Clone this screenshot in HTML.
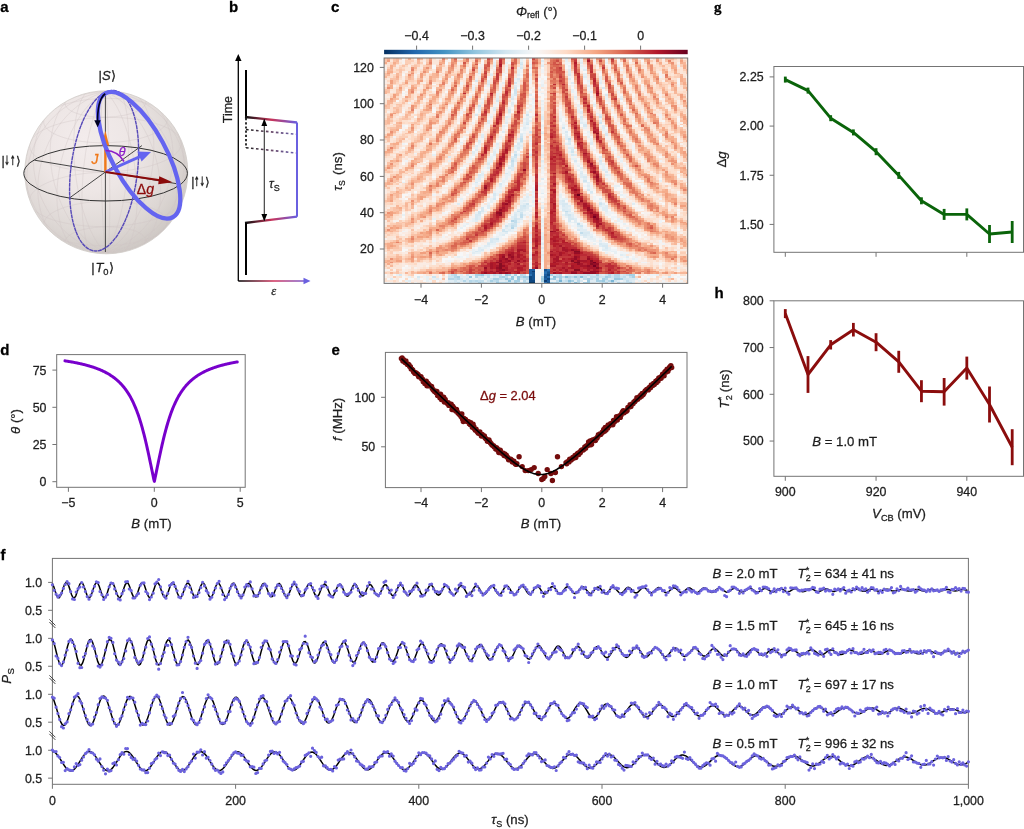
<!DOCTYPE html>
<html><head><meta charset="utf-8"><style>
html,body{margin:0;padding:0;background:#fff;}
svg{display:block;font-family:"Liberation Sans",Arial,sans-serif;will-change:transform;}
</style></head><body>
<svg width="1024" height="829" viewBox="0 0 1024 829">
<rect width="1024" height="829" fill="#fff"/>
<text x="0.3" y="11.7" font-size="15" font-weight="bold" fill="#000"  stroke="#000" stroke-width="0.28">a</text>
<text x="229" y="11.7" font-size="15" font-weight="bold" fill="#000"  stroke="#000" stroke-width="0.28">b</text>
<text x="331" y="11.7" font-size="15" font-weight="bold" fill="#000"  stroke="#000" stroke-width="0.28">c</text>
<text x="714" y="11.5" font-size="15" font-weight="bold" fill="#000" font-family="Liberation Serif, serif" stroke="#000" stroke-width="0.28">g</text>
<text x="0.3" y="354.6" font-size="15" font-weight="bold" fill="#000"  stroke="#000" stroke-width="0.28">d</text>
<text x="331.5" y="355" font-size="15" font-weight="bold" fill="#000"  stroke="#000" stroke-width="0.28">e</text>
<text x="714.5" y="298" font-size="15" font-weight="bold" fill="#000"  stroke="#000" stroke-width="0.28">h</text>
<text x="0.5" y="559.7" font-size="15" font-weight="bold" fill="#000"  stroke="#000" stroke-width="0.28">f</text>
<rect x="56.70" y="354.60" width="188.50" height="132.70" fill="none" stroke="#747474" stroke-width="1"/>
<line x1="52.40" y1="370.10" x2="56.70" y2="370.10" stroke="#747474" stroke-width="1" />
<text x="46.5" y="374.5" font-size="12.4" text-anchor="end" fill="#1e1e1e"  stroke="#1e1e1e" stroke-width="0.28">75</text>
<line x1="52.40" y1="407.30" x2="56.70" y2="407.30" stroke="#747474" stroke-width="1" />
<text x="46.5" y="411.6" font-size="12.4" text-anchor="end" fill="#1e1e1e"  stroke="#1e1e1e" stroke-width="0.28">50</text>
<line x1="52.40" y1="444.50" x2="56.70" y2="444.50" stroke="#747474" stroke-width="1" />
<text x="46.5" y="448.9" font-size="12.4" text-anchor="end" fill="#1e1e1e"  stroke="#1e1e1e" stroke-width="0.28">25</text>
<line x1="52.40" y1="481.70" x2="56.70" y2="481.70" stroke="#747474" stroke-width="1" />
<text x="46.5" y="486.1" font-size="12.4" text-anchor="end" fill="#1e1e1e"  stroke="#1e1e1e" stroke-width="0.28">0</text>
<line x1="68.40" y1="487.30" x2="68.40" y2="491.80" stroke="#747474" stroke-width="1" />
<text x="68.4" y="507.1" font-size="12.4" text-anchor="middle" fill="#1e1e1e"  stroke="#1e1e1e" stroke-width="0.28">−5</text>
<line x1="154.30" y1="487.30" x2="154.30" y2="491.80" stroke="#747474" stroke-width="1" />
<text x="154.3" y="507.1" font-size="12.4" text-anchor="middle" fill="#1e1e1e"  stroke="#1e1e1e" stroke-width="0.28">0</text>
<line x1="240.20" y1="487.30" x2="240.20" y2="491.80" stroke="#747474" stroke-width="1" />
<text x="240.2" y="507.1" font-size="12.4" text-anchor="middle" fill="#1e1e1e"  stroke="#1e1e1e" stroke-width="0.28">5</text>
<text x="151.5" y="527.8" font-size="13.2" text-anchor="middle" fill="#1e1e1e" stroke="#1e1e1e" stroke-width="0.28"><tspan font-style="italic">B</tspan> (mT)</text>
<text transform="translate(19.8,421.5) rotate(-90)" font-size="13.2" text-anchor="middle" fill="#1e1e1e" stroke="#1e1e1e" stroke-width="0.28"><tspan font-style="italic">θ</tspan> (°)</text>
<polyline points="64.96,360.86 65.40,360.92 65.83,360.99 66.26,361.06 66.69,361.12 67.12,361.19 67.56,361.26 67.99,361.33 68.42,361.40 68.85,361.47 69.28,361.55 69.71,361.62 70.15,361.69 70.58,361.77 71.01,361.84 71.44,361.92 71.87,361.99 72.31,362.07 72.74,362.15 73.17,362.23 73.60,362.31 74.03,362.39 74.47,362.47 74.90,362.56 75.33,362.64 75.76,362.73 76.19,362.81 76.62,362.90 77.06,362.99 77.49,363.08 77.92,363.17 78.35,363.26 78.78,363.35 79.22,363.44 79.65,363.54 80.08,363.63 80.51,363.73 80.94,363.83 81.37,363.93 81.81,364.03 82.24,364.13 82.67,364.23 83.10,364.34 83.53,364.44 83.97,364.55 84.40,364.66 84.83,364.77 85.26,364.88 85.69,364.99 86.13,365.10 86.56,365.22 86.99,365.34 87.42,365.45 87.85,365.57 88.28,365.70 88.72,365.82 89.15,365.94 89.58,366.07 90.01,366.20 90.44,366.33 90.88,366.46 91.31,366.60 91.74,366.73 92.17,366.87 92.60,367.01 93.04,367.15 93.47,367.29 93.90,367.44 94.33,367.59 94.76,367.74 95.19,367.89 95.63,368.05 96.06,368.20 96.49,368.36 96.92,368.53 97.35,368.69 97.79,368.86 98.22,369.03 98.65,369.20 99.08,369.37 99.51,369.55 99.95,369.73 100.38,369.92 100.81,370.10 101.24,370.29 101.67,370.48 102.10,370.68 102.54,370.88 102.97,371.08 103.40,371.29 103.83,371.50 104.26,371.71 104.70,371.92 105.13,372.14 105.56,372.37 105.99,372.60 106.42,372.83 106.86,373.06 107.29,373.30 107.72,373.55 108.15,373.80 108.58,374.05 109.01,374.31 109.45,374.57 109.88,374.84 110.31,375.11 110.74,375.39 111.17,375.68 111.61,375.96 112.04,376.26 112.47,376.56 112.90,376.87 113.33,377.18 113.77,377.50 114.20,377.82 114.63,378.15 115.06,378.49 115.49,378.84 115.92,379.19 116.36,379.55 116.79,379.92 117.22,380.29 117.65,380.67 118.08,381.06 118.52,381.46 118.95,381.87 119.38,382.29 119.81,382.71 120.24,383.15 120.67,383.60 121.11,384.05 121.54,384.52 121.97,384.99 122.40,385.48 122.83,385.98 123.27,386.49 123.70,387.01 124.13,387.55 124.56,388.10 124.99,388.66 125.43,389.23 125.86,389.82 126.29,390.42 126.72,391.04 127.15,391.67 127.58,392.32 128.02,392.99 128.45,393.67 128.88,394.37 129.31,395.08 129.74,395.82 130.18,396.57 130.61,397.34 131.04,398.14 131.47,398.95 131.90,399.79 132.34,400.65 132.77,401.53 133.20,402.43 133.63,403.36 134.06,404.31 134.49,405.28 134.93,406.29 135.36,407.32 135.79,408.37 136.22,409.46 136.65,410.57 137.09,411.71 137.52,412.89 137.95,414.09 138.38,415.33 138.81,416.59 139.25,417.89 139.68,419.23 140.11,420.59 140.54,421.99 140.97,423.43 141.40,424.90 141.84,426.40 142.27,427.94 142.70,429.52 143.13,431.13 143.56,432.77 144.00,434.45 144.43,436.17 144.86,437.92 145.29,439.70 145.72,441.51 146.16,443.36 146.59,445.23 147.02,447.14 147.45,449.07 147.88,451.03 148.31,453.01 148.75,455.02 149.18,457.04 149.61,459.08 150.04,461.14 150.47,463.21 150.91,465.29 151.34,467.38 151.77,469.48 152.20,471.57 152.63,473.67 153.07,475.76 153.50,477.85 153.93,479.92 154.36,481.41 154.79,479.34 155.22,477.26 155.66,475.17 156.09,473.08 156.52,470.98 156.95,468.89 157.38,466.80 157.82,464.71 158.25,462.63 158.68,460.56 159.11,458.51 159.54,456.47 159.97,454.45 160.41,452.45 160.84,450.48 161.27,448.53 161.70,446.60 162.13,444.70 162.57,442.84 163.00,441.00 163.43,439.19 163.86,437.42 164.29,435.68 164.73,433.98 165.16,432.31 165.59,430.67 166.02,429.07 166.45,427.51 166.88,425.98 167.32,424.48 167.75,423.02 168.18,421.60 168.61,420.21 169.04,418.85 169.48,417.52 169.91,416.23 170.34,414.98 170.77,413.75 171.20,412.55 171.64,411.39 172.07,410.26 172.50,409.15 172.93,408.07 173.36,407.02 173.79,406.00 174.23,405.01 174.66,404.04 175.09,403.09 175.52,402.17 175.95,401.28 176.39,400.40 176.82,399.55 177.25,398.72 177.68,397.91 178.11,397.13 178.55,396.36 178.98,395.61 179.41,394.88 179.84,394.17 180.27,393.47 180.70,392.80 181.14,392.14 181.57,391.49 182.00,390.86 182.43,390.25 182.86,389.65 183.30,389.07 183.73,388.50 184.16,387.94 184.59,387.40 185.02,386.87 185.46,386.35 185.89,385.84 186.32,385.34 186.75,384.86 187.18,384.39 187.61,383.92 188.05,383.47 188.48,383.03 188.91,382.59 189.34,382.17 189.77,381.76 190.21,381.35 190.64,380.95 191.07,380.56 191.50,380.18 191.93,379.81 192.37,379.45 192.80,379.09 193.23,378.74 193.66,378.40 194.09,378.06 194.52,377.73 194.96,377.41 195.39,377.09 195.82,376.78 196.25,376.47 196.68,376.18 197.12,375.88 197.55,375.60 197.98,375.31 198.41,375.04 198.84,374.77 199.28,374.50 199.71,374.24 200.14,373.98 200.57,373.73 201.00,373.48 201.43,373.24 201.87,373.00 202.30,372.76 202.73,372.53 203.16,372.31 203.59,372.08 204.03,371.86 204.46,371.65 204.89,371.44 205.32,371.23 205.75,371.02 206.18,370.82 206.62,370.62 207.05,370.43 207.48,370.24 207.91,370.05 208.34,369.86 208.78,369.68 209.21,369.50 209.64,369.32 210.07,369.15 210.50,368.98 210.94,368.81 211.37,368.64 211.80,368.48 212.23,368.32 212.66,368.16 213.09,368.00 213.53,367.85 213.96,367.70 214.39,367.55 214.82,367.40 215.25,367.25 215.69,367.11 216.12,366.97 216.55,366.83 216.98,366.69 217.41,366.56 217.85,366.42 218.28,366.29 218.71,366.16 219.14,366.03 219.57,365.91 220.00,365.78 220.44,365.66 220.87,365.54 221.30,365.42 221.73,365.30 222.16,365.19 222.60,365.07 223.03,364.96 223.46,364.85 223.89,364.73 224.32,364.63 224.76,364.52 225.19,364.41 225.62,364.31 226.05,364.20 226.48,364.10 226.91,364.00 227.35,363.90 227.78,363.80 228.21,363.70 228.64,363.61 229.07,363.51 229.51,363.42 229.94,363.32 230.37,363.23 230.80,363.14 231.23,363.05 231.67,362.96 232.10,362.87 232.53,362.79 232.96,362.70 233.39,362.62 233.82,362.53 234.26,362.45 234.69,362.37 235.12,362.29 235.55,362.21 235.98,362.13 236.42,362.05 236.85,361.97 237.28,361.90" fill="none" stroke="#7800cc" stroke-width="3.0" stroke-linejoin="round" stroke-linecap="round"/>
<rect x="385.40" y="352.40" width="301.60" height="135.20" fill="none" stroke="#747474" stroke-width="1"/>
<line x1="381.10" y1="397.30" x2="385.40" y2="397.30" stroke="#747474" stroke-width="1" />
<text x="375.2" y="401.7" font-size="12.4" text-anchor="end" fill="#1e1e1e"  stroke="#1e1e1e" stroke-width="0.28">100</text>
<line x1="381.10" y1="446.80" x2="385.40" y2="446.80" stroke="#747474" stroke-width="1" />
<text x="375.2" y="451.2" font-size="12.4" text-anchor="end" fill="#1e1e1e"  stroke="#1e1e1e" stroke-width="0.28">50</text>
<line x1="421.00" y1="487.60" x2="421.00" y2="492.10" stroke="#747474" stroke-width="1" />
<text x="421.0" y="507.1" font-size="12.4" text-anchor="middle" fill="#1e1e1e"  stroke="#1e1e1e" stroke-width="0.28">−4</text>
<line x1="481.40" y1="487.60" x2="481.40" y2="492.10" stroke="#747474" stroke-width="1" />
<text x="481.4" y="507.1" font-size="12.4" text-anchor="middle" fill="#1e1e1e"  stroke="#1e1e1e" stroke-width="0.28">−2</text>
<line x1="541.80" y1="487.60" x2="541.80" y2="492.10" stroke="#747474" stroke-width="1" />
<text x="541.8" y="507.1" font-size="12.4" text-anchor="middle" fill="#1e1e1e"  stroke="#1e1e1e" stroke-width="0.28">0</text>
<line x1="602.20" y1="487.60" x2="602.20" y2="492.10" stroke="#747474" stroke-width="1" />
<text x="602.2" y="507.1" font-size="12.4" text-anchor="middle" fill="#1e1e1e"  stroke="#1e1e1e" stroke-width="0.28">2</text>
<line x1="662.60" y1="487.60" x2="662.60" y2="492.10" stroke="#747474" stroke-width="1" />
<text x="662.6" y="507.1" font-size="12.4" text-anchor="middle" fill="#1e1e1e"  stroke="#1e1e1e" stroke-width="0.28">4</text>
<text x="541" y="527.8" font-size="13.2" text-anchor="middle" fill="#1e1e1e" stroke="#1e1e1e" stroke-width="0.28"><tspan font-style="italic">B</tspan> (mT)</text>
<text transform="translate(342,419.4) rotate(-90)" font-size="13.2" text-anchor="middle" fill="#1e1e1e" stroke="#1e1e1e" stroke-width="0.28"><tspan font-style="italic">f</tspan> (MHz)</text>
<path d="M401.4 358.5h0M402.1 357.9h0M402.9 361.0h0M403.6 359.7h0M404.4 361.8h0M405.1 362.5h0M405.9 360.9h0M406.7 363.5h0M407.4 364.4h0M408.2 364.3h0M408.9 364.6h0M409.7 366.6h0M410.4 366.7h0M411.2 369.1h0M411.9 369.1h0M412.7 370.0h0M413.5 371.7h0M414.2 372.6h0M415.0 373.4h0M415.7 372.6h0M416.5 373.3h0M417.2 374.2h0M418.0 374.5h0M418.7 376.7h0M419.5 376.1h0M420.2 376.5h0M421.0 376.6h0M421.8 379.1h0M422.5 379.3h0M423.3 381.8h0M424.0 380.9h0M424.8 383.5h0M425.5 383.4h0M426.3 381.3h0M427.0 385.7h0M427.8 383.1h0M428.6 384.3h0M429.3 385.8h0M430.1 385.6h0M430.8 386.3h0M431.6 386.5h0M432.3 388.6h0M433.1 389.7h0M433.8 390.4h0M434.6 391.6h0M435.3 391.3h0M436.1 392.8h0M436.9 391.5h0M437.6 395.4h0M438.4 395.3h0M439.1 395.8h0M439.9 397.8h0M440.6 394.2h0M441.4 399.6h0M442.1 398.0h0M442.9 399.0h0M443.7 397.3h0M444.4 402.0h0M445.2 399.4h0M445.9 402.1h0M446.7 402.2h0M447.4 403.4h0M448.2 402.7h0M448.9 405.4h0M449.7 405.0h0M450.4 405.2h0M451.2 404.3h0M452.0 409.6h0M452.7 406.1h0M453.5 407.4h0M454.2 409.7h0M455.0 409.5h0M455.7 411.1h0M456.5 409.5h0M457.2 411.8h0M458.0 413.0h0M458.8 413.7h0M459.5 414.4h0M460.3 415.1h0M461.0 416.5h0M461.8 414.0h0M462.5 419.1h0M463.3 421.6h0M464.0 418.5h0M464.8 419.3h0M465.5 419.4h0M466.3 420.8h0M467.1 421.4h0M467.8 421.6h0M468.6 421.6h0M469.3 423.8h0M470.1 424.5h0M470.8 422.6h0M471.6 424.9h0M472.3 427.2h0M473.1 424.3h0M473.9 426.7h0M474.6 428.9h0M475.4 430.2h0M476.1 429.3h0M476.9 431.3h0M477.6 432.2h0M478.4 433.2h0M479.1 433.0h0M479.9 431.9h0M480.6 434.3h0M481.4 436.1h0M482.2 434.5h0M482.9 435.8h0M483.7 435.7h0M484.4 436.0h0M485.2 438.1h0M485.9 438.8h0M486.7 439.4h0M487.4 441.2h0M488.2 439.9h0M489.0 439.9h0M489.7 441.8h0M490.5 443.0h0M491.2 443.7h0M492.0 444.9h0M492.7 445.6h0M493.5 445.8h0M494.2 447.0h0M495.0 447.2h0M495.7 449.1h0M496.5 447.7h0M497.3 448.6h0M498.0 450.6h0M498.8 452.5h0M499.5 450.7h0M500.3 450.1h0M501.0 452.7h0M501.8 453.1h0M502.5 453.8h0M503.3 453.1h0M504.1 455.5h0M504.8 454.0h0M505.6 456.1h0M506.3 455.3h0M507.1 456.9h0M507.8 457.8h0M508.6 459.8h0M509.3 459.5h0M510.1 459.7h0M510.8 459.3h0M511.6 460.3h0M512.4 461.9h0M513.1 461.3h0M513.9 461.2h0M514.6 463.0h0M515.4 463.9h0M516.1 464.4h0M516.9 463.6h0M566.0 462.7h0M566.7 463.8h0M567.5 461.8h0M568.2 462.1h0M569.0 461.9h0M569.7 459.1h0M570.5 459.0h0M571.2 460.1h0M572.0 458.6h0M572.8 457.5h0M573.5 458.2h0M574.3 457.0h0M575.0 455.5h0M575.8 457.6h0M576.5 454.6h0M577.3 453.6h0M578.0 453.2h0M578.8 454.6h0M579.6 452.1h0M580.3 452.7h0M581.1 450.5h0M581.8 449.9h0M582.6 449.6h0M583.3 450.0h0M584.1 449.2h0M584.8 447.0h0M585.6 448.2h0M586.3 446.0h0M587.1 445.4h0M587.9 445.6h0M588.6 442.0h0M589.4 443.8h0M590.1 440.9h0M590.9 444.8h0M591.6 444.3h0M592.4 440.1h0M593.1 439.8h0M593.9 440.2h0M594.7 439.2h0M595.4 440.6h0M596.2 438.5h0M596.9 438.3h0M597.7 436.7h0M598.4 434.8h0M599.2 435.0h0M599.9 434.0h0M600.7 434.4h0M601.4 433.5h0M602.2 432.2h0M603.0 431.9h0M603.7 429.5h0M604.5 431.2h0M605.2 427.5h0M606.0 429.9h0M606.7 427.0h0M607.5 428.3h0M608.2 424.9h0M609.0 425.9h0M609.8 424.9h0M610.5 423.8h0M611.3 424.6h0M612.0 424.3h0M612.8 424.7h0M613.5 420.5h0M614.3 421.9h0M615.0 421.0h0M615.8 419.7h0M616.5 416.8h0M617.3 420.1h0M618.1 417.3h0M618.8 417.3h0M619.6 415.6h0M620.3 417.4h0M621.1 415.1h0M621.8 413.1h0M622.6 411.6h0M623.3 410.8h0M624.1 412.8h0M624.9 411.1h0M625.6 410.6h0M626.4 411.2h0M627.1 410.6h0M627.9 407.5h0M628.6 407.3h0M629.4 407.0h0M630.1 404.8h0M630.9 406.5h0M631.6 404.2h0M632.4 404.0h0M633.2 403.4h0M633.9 402.0h0M634.7 401.7h0M635.4 400.8h0M636.2 400.1h0M636.9 397.6h0M637.7 399.3h0M638.4 397.2h0M639.2 396.9h0M640.0 397.2h0M640.7 395.2h0M641.5 396.3h0M642.2 393.4h0M643.0 394.8h0M643.7 393.8h0M644.5 392.2h0M645.2 390.9h0M646.0 390.1h0M646.7 389.4h0M647.5 389.8h0M648.3 389.9h0M649.0 387.6h0M649.8 387.1h0M650.5 387.8h0M651.3 384.9h0M652.0 385.1h0M652.8 385.6h0M653.5 383.4h0M654.3 384.6h0M655.1 383.3h0M655.8 381.2h0M656.6 382.6h0M657.3 380.2h0M658.1 381.0h0M658.8 378.0h0M659.6 378.8h0M660.3 377.1h0M661.1 378.2h0M661.8 376.2h0M662.6 374.1h0M663.4 373.9h0M664.1 375.7h0M664.9 372.0h0M665.6 371.3h0M666.4 371.9h0M667.1 369.2h0M667.9 371.2h0M668.6 369.4h0M669.4 367.4h0M670.2 366.4h0M670.9 365.8h0M671.7 367.6h0M519.1 456.7h0M557.5 456.7h0M525.2 470.6h0M528.2 470.6h0M531.2 469.6h0M534.2 467.6h0M538.2 473.5h0M541.8 479.5h0M543.3 478.5h0M547.2 469.6h0M550.9 473.5h0M555.4 472.5h0M552.4 480.5h0M522.2 466.6h0M561.4 466.6h0M544.8 476.5h0" stroke="#740c0c" stroke-width="5.4" stroke-linecap="round" fill="none"/>
<polyline points="401.37,358.56 402.27,359.43 403.18,360.31 404.08,361.18 404.99,362.05 405.89,362.92 406.79,363.79 407.70,364.66 408.60,365.53 409.51,366.40 410.41,367.28 411.31,368.15 412.22,369.02 413.12,369.89 414.03,370.76 414.93,371.62 415.83,372.49 416.74,373.36 417.64,374.23 418.55,375.10 419.45,375.97 420.35,376.84 421.26,377.71 422.16,378.57 423.07,379.44 423.97,380.31 424.87,381.18 425.78,382.04 426.68,382.91 427.59,383.78 428.49,384.64 429.39,385.51 430.30,386.38 431.20,387.24 432.11,388.11 433.01,388.97 433.91,389.84 434.82,390.70 435.72,391.56 436.63,392.43 437.53,393.29 438.43,394.15 439.34,395.02 440.24,395.88 441.15,396.74 442.05,397.60 442.95,398.46 443.86,399.32 444.76,400.18 445.67,401.04 446.57,401.90 447.47,402.76 448.38,403.62 449.28,404.48 450.18,405.34 451.09,406.19 451.99,407.05 452.90,407.91 453.80,408.76 454.70,409.62 455.61,410.47 456.51,411.33 457.42,412.18 458.32,413.03 459.22,413.88 460.13,414.73 461.03,415.59 461.94,416.44 462.84,417.28 463.74,418.13 464.65,418.98 465.55,419.83 466.46,420.67 467.36,421.52 468.26,422.36 469.17,423.21 470.07,424.05 470.98,424.89 471.88,425.73 472.78,426.57 473.69,427.41 474.59,428.25 475.50,429.08 476.40,429.92 477.30,430.75 478.21,431.58 479.11,432.41 480.02,433.24 480.92,434.07 481.82,434.90 482.73,435.72 483.63,436.55 484.54,437.37 485.44,438.19 486.34,439.00 487.25,439.82 488.15,440.63 489.06,441.45 489.96,442.26 490.86,443.06 491.77,443.87 492.67,444.67 493.58,445.47 494.48,446.26 495.38,447.06 496.29,447.85 497.19,448.64 498.10,449.42 499.00,450.20 499.90,450.98 500.81,451.75 501.71,452.52 502.62,453.28 503.52,454.04 504.42,454.79 505.33,455.54 506.23,456.29 507.14,457.02 508.04,457.76 508.94,458.48 509.85,459.20 510.75,459.91 511.66,460.61 512.56,461.31 513.46,462.00 514.37,462.67 515.27,463.34 516.18,464.00 517.08,464.65 517.98,465.28 518.89,465.90 519.79,466.51 520.70,467.11 521.60,467.69 522.50,468.25 523.41,468.80 524.31,469.33 525.22,469.84 526.12,470.33 527.02,470.80 527.93,471.25 528.83,471.68 529.74,472.07 530.64,472.45 531.54,472.79 532.45,473.11 533.35,473.40 534.26,473.66 535.16,473.88 536.06,474.08 536.97,474.23 537.87,474.36 538.77,474.45 539.68,474.50 540.58,474.52 541.49,474.50 542.39,474.45 543.29,474.36 544.20,474.24 545.10,474.08 546.01,473.89 546.91,473.66 547.81,473.41 548.72,473.12 549.62,472.80 550.53,472.46 551.43,472.08 552.33,471.68 553.24,471.26 554.14,470.81 555.05,470.34 555.95,469.85 556.85,469.34 557.76,468.81 558.66,468.26 559.57,467.70 560.47,467.12 561.37,466.53 562.28,465.92 563.18,465.29 564.09,464.66 564.99,464.01 565.89,463.36 566.80,462.69 567.70,462.01 568.61,461.32 569.51,460.63 570.41,459.93 571.32,459.21 572.22,458.50 573.13,457.77 574.03,457.04 574.93,456.30 575.84,455.56 576.74,454.81 577.65,454.06 578.55,453.30 579.45,452.53 580.36,451.76 581.26,450.99 582.17,450.22 583.07,449.44 583.97,448.65 584.88,447.86 585.78,447.07 586.69,446.28 587.59,445.48 588.49,444.68 589.40,443.88 590.30,443.08 591.21,442.27 592.11,441.46 593.01,440.65 593.92,439.84 594.82,439.02 595.73,438.20 596.63,437.38 597.53,436.56 598.44,435.74 599.34,434.91 600.25,434.09 601.15,433.26 602.05,432.43 602.96,431.60 603.86,430.77 604.77,429.93 605.67,429.10 606.57,428.26 607.48,427.43 608.38,426.59 609.29,425.75 610.19,424.91 611.09,424.07 612.00,423.22 612.90,422.38 613.81,421.54 614.71,420.69 615.61,419.84 616.52,419.00 617.42,418.15 618.33,417.30 619.23,416.45 620.13,415.60 621.04,414.75 621.94,413.90 622.85,413.05 623.75,412.20 624.65,411.34 625.56,410.49 626.46,409.63 627.36,408.78 628.27,407.92 629.17,407.07 630.08,406.21 630.98,405.35 631.88,404.50 632.79,403.64 633.69,402.78 634.60,401.92 635.50,401.06 636.40,400.20 637.31,399.34 638.21,398.48 639.12,397.62 640.02,396.76 640.92,395.90 641.83,395.03 642.73,394.17 643.64,393.31 644.54,392.44 645.44,391.58 646.35,390.72 647.25,389.85 648.16,388.99 649.06,388.12 649.96,387.26 650.87,386.39 651.77,385.53 652.68,384.66 653.58,383.79 654.48,382.93 655.39,382.06 656.29,381.19 657.20,380.33 658.10,379.46 659.00,378.59 659.91,377.72 660.81,376.86 661.72,375.99 662.62,375.12 663.52,374.25 664.43,373.38 665.33,372.51 666.24,371.64 667.14,370.77 668.04,369.90 668.95,369.03 669.85,368.16 670.76,367.29 671.66,366.42" fill="none" stroke="#000" stroke-width="1.6"/>
<text x="480" y="400.3" font-size="12.9" fill="#7a0c0c" stroke="#7a0c0c" stroke-width="0.28"><tspan>Δ</tspan><tspan font-style="italic">g</tspan> = 2.04</text>
<rect x="773.90" y="66.50" width="249.60" height="185.80" fill="none" stroke="#747474" stroke-width="1"/>
<line x1="769.60" y1="76.90" x2="773.90" y2="76.90" stroke="#747474" stroke-width="1" />
<text x="763.7" y="81.2" font-size="12.4" text-anchor="end" fill="#1e1e1e"  stroke="#1e1e1e" stroke-width="0.28">2.25</text>
<line x1="769.60" y1="126.08" x2="773.90" y2="126.08" stroke="#747474" stroke-width="1" />
<text x="763.7" y="130.4" font-size="12.4" text-anchor="end" fill="#1e1e1e"  stroke="#1e1e1e" stroke-width="0.28">2.00</text>
<line x1="769.60" y1="175.25" x2="773.90" y2="175.25" stroke="#747474" stroke-width="1" />
<text x="763.7" y="179.6" font-size="12.4" text-anchor="end" fill="#1e1e1e"  stroke="#1e1e1e" stroke-width="0.28">1.75</text>
<line x1="769.60" y1="224.42" x2="773.90" y2="224.42" stroke="#747474" stroke-width="1" />
<text x="763.7" y="228.8" font-size="12.4" text-anchor="end" fill="#1e1e1e"  stroke="#1e1e1e" stroke-width="0.28">1.50</text>
<line x1="785.30" y1="252.30" x2="785.30" y2="256.80" stroke="#747474" stroke-width="1" />
<line x1="876.06" y1="252.30" x2="876.06" y2="256.80" stroke="#747474" stroke-width="1" />
<line x1="966.82" y1="252.30" x2="966.82" y2="256.80" stroke="#747474" stroke-width="1" />
<text transform="translate(725.5,159.5) rotate(-90)" font-size="13.2" text-anchor="middle" fill="#1e1e1e" stroke="#1e1e1e" stroke-width="0.28">Δ<tspan font-style="italic">g</tspan></text>
<polyline points="785.3,79.6 808.0,90.6 830.7,118.2 853.4,132.4 876.1,151.7 898.8,175.4 921.4,200.8 944.1,214.4 966.8,214.4 989.5,234.0 1012.2,232.0" fill="none" stroke="#0a640a" stroke-width="2.9" stroke-linejoin="round"/>
<line x1="785.30" y1="76.60" x2="785.30" y2="82.60" stroke="#0a640a" stroke-width="2.8" />
<line x1="807.99" y1="87.60" x2="807.99" y2="93.60" stroke="#0a640a" stroke-width="2.8" />
<line x1="830.68" y1="115.20" x2="830.68" y2="121.20" stroke="#0a640a" stroke-width="2.8" />
<line x1="853.37" y1="129.40" x2="853.37" y2="135.40" stroke="#0a640a" stroke-width="2.8" />
<line x1="876.06" y1="148.20" x2="876.06" y2="155.20" stroke="#0a640a" stroke-width="2.8" />
<line x1="898.75" y1="171.90" x2="898.75" y2="178.90" stroke="#0a640a" stroke-width="2.8" />
<line x1="921.44" y1="197.30" x2="921.44" y2="204.30" stroke="#0a640a" stroke-width="2.8" />
<line x1="944.13" y1="208.90" x2="944.13" y2="219.90" stroke="#0a640a" stroke-width="2.8" />
<line x1="966.82" y1="208.40" x2="966.82" y2="220.40" stroke="#0a640a" stroke-width="2.8" />
<line x1="989.51" y1="225.00" x2="989.51" y2="243.00" stroke="#0a640a" stroke-width="2.8" />
<line x1="1012.20" y1="221.00" x2="1012.20" y2="243.00" stroke="#0a640a" stroke-width="2.8" />
<rect x="773.90" y="300.80" width="249.60" height="175.50" fill="none" stroke="#747474" stroke-width="1"/>
<line x1="769.60" y1="300.80" x2="773.90" y2="300.80" stroke="#747474" stroke-width="1" />
<text x="763.7" y="305.2" font-size="12.4" text-anchor="end" fill="#1e1e1e"  stroke="#1e1e1e" stroke-width="0.28">800</text>
<line x1="769.60" y1="347.55" x2="773.90" y2="347.55" stroke="#747474" stroke-width="1" />
<text x="763.7" y="351.9" font-size="12.4" text-anchor="end" fill="#1e1e1e"  stroke="#1e1e1e" stroke-width="0.28">700</text>
<line x1="769.60" y1="394.30" x2="773.90" y2="394.30" stroke="#747474" stroke-width="1" />
<text x="763.7" y="398.7" font-size="12.4" text-anchor="end" fill="#1e1e1e"  stroke="#1e1e1e" stroke-width="0.28">600</text>
<line x1="769.60" y1="441.05" x2="773.90" y2="441.05" stroke="#747474" stroke-width="1" />
<text x="763.7" y="445.4" font-size="12.4" text-anchor="end" fill="#1e1e1e"  stroke="#1e1e1e" stroke-width="0.28">500</text>
<line x1="785.30" y1="476.30" x2="785.30" y2="480.80" stroke="#747474" stroke-width="1" />
<text x="785.3" y="496.2" font-size="12.4" text-anchor="middle" fill="#1e1e1e"  stroke="#1e1e1e" stroke-width="0.28">900</text>
<line x1="876.06" y1="476.30" x2="876.06" y2="480.80" stroke="#747474" stroke-width="1" />
<text x="876.1" y="496.2" font-size="12.4" text-anchor="middle" fill="#1e1e1e"  stroke="#1e1e1e" stroke-width="0.28">920</text>
<line x1="966.82" y1="476.30" x2="966.82" y2="480.80" stroke="#747474" stroke-width="1" />
<text x="966.8" y="496.2" font-size="12.4" text-anchor="middle" fill="#1e1e1e"  stroke="#1e1e1e" stroke-width="0.28">940</text>
<text x="899" y="517.5" font-size="13.2" text-anchor="middle" fill="#1e1e1e" stroke="#1e1e1e" stroke-width="0.28"><tspan font-style="italic">V</tspan><tspan font-size="9.2" dy="3.2">CB</tspan><tspan dy="-3.2"> (mV)</tspan></text>
<text transform="translate(728.6,389) rotate(-90)" font-size="13.2" text-anchor="middle" fill="#1e1e1e" stroke="#1e1e1e" stroke-width="0.28"><tspan font-style="italic">T</tspan><tspan font-size="9" dy="3.4" dx="0.3">2</tspan><tspan font-size="9" dx="-5" dy="-8.2">*</tspan><tspan dy="4.8" dx="0.8"> (ns)</tspan></text>
<polyline points="785.3,313.6 808.0,374.5 830.7,344.8 853.4,329.7 876.1,342.2 898.8,361.8 921.4,391.2 944.1,391.8 966.8,368.1 989.5,404.5 1012.2,447.2" fill="none" stroke="#8b0d0d" stroke-width="2.9" stroke-linejoin="round"/>
<line x1="785.30" y1="309.10" x2="785.30" y2="318.10" stroke="#8b0d0d" stroke-width="2.8" />
<line x1="807.99" y1="356.10" x2="807.99" y2="392.90" stroke="#8b0d0d" stroke-width="2.8" />
<line x1="830.68" y1="340.10" x2="830.68" y2="349.50" stroke="#8b0d0d" stroke-width="2.8" />
<line x1="853.37" y1="322.90" x2="853.37" y2="336.50" stroke="#8b0d0d" stroke-width="2.8" />
<line x1="876.06" y1="333.20" x2="876.06" y2="351.20" stroke="#8b0d0d" stroke-width="2.8" />
<line x1="898.75" y1="350.80" x2="898.75" y2="372.80" stroke="#8b0d0d" stroke-width="2.8" />
<line x1="921.44" y1="380.20" x2="921.44" y2="402.20" stroke="#8b0d0d" stroke-width="2.8" />
<line x1="944.13" y1="378.00" x2="944.13" y2="405.60" stroke="#8b0d0d" stroke-width="2.8" />
<line x1="966.82" y1="356.60" x2="966.82" y2="379.60" stroke="#8b0d0d" stroke-width="2.8" />
<line x1="989.51" y1="386.50" x2="989.51" y2="422.50" stroke="#8b0d0d" stroke-width="2.8" />
<line x1="1012.20" y1="429.20" x2="1012.20" y2="465.20" stroke="#8b0d0d" stroke-width="2.8" />
<text x="812.3" y="445.6" font-size="13.2" fill="#1e1e1e" stroke="#1e1e1e" stroke-width="0.28"><tspan font-style="italic">B</tspan> = 1.0 mT</text>
<rect x="52.40" y="558.40" width="916.00" height="225.90" fill="none" stroke="#747474" stroke-width="1"/>
<line x1="48.10" y1="582.40" x2="52.40" y2="582.40" stroke="#747474" stroke-width="1" />
<text x="42.2" y="586.8" font-size="12.4" text-anchor="end" fill="#1e1e1e"  stroke="#1e1e1e" stroke-width="0.28">1.0</text>
<line x1="48.10" y1="610.30" x2="52.40" y2="610.30" stroke="#747474" stroke-width="1" />
<text x="42.2" y="614.6" font-size="12.4" text-anchor="end" fill="#1e1e1e"  stroke="#1e1e1e" stroke-width="0.28">0.5</text>
<line x1="48.10" y1="638.35" x2="52.40" y2="638.35" stroke="#747474" stroke-width="1" />
<text x="42.2" y="642.7" font-size="12.4" text-anchor="end" fill="#1e1e1e"  stroke="#1e1e1e" stroke-width="0.28">1.0</text>
<line x1="48.10" y1="666.25" x2="52.40" y2="666.25" stroke="#747474" stroke-width="1" />
<text x="42.2" y="670.6" font-size="12.4" text-anchor="end" fill="#1e1e1e"  stroke="#1e1e1e" stroke-width="0.28">0.5</text>
<line x1="48.10" y1="694.30" x2="52.40" y2="694.30" stroke="#747474" stroke-width="1" />
<text x="42.2" y="698.6" font-size="12.4" text-anchor="end" fill="#1e1e1e"  stroke="#1e1e1e" stroke-width="0.28">1.0</text>
<line x1="48.10" y1="722.20" x2="52.40" y2="722.20" stroke="#747474" stroke-width="1" />
<text x="42.2" y="726.5" font-size="12.4" text-anchor="end" fill="#1e1e1e"  stroke="#1e1e1e" stroke-width="0.28">0.5</text>
<line x1="48.10" y1="750.25" x2="52.40" y2="750.25" stroke="#747474" stroke-width="1" />
<text x="42.2" y="754.6" font-size="12.4" text-anchor="end" fill="#1e1e1e"  stroke="#1e1e1e" stroke-width="0.28">1.0</text>
<line x1="48.10" y1="778.15" x2="52.40" y2="778.15" stroke="#747474" stroke-width="1" />
<text x="42.2" y="782.5" font-size="12.4" text-anchor="end" fill="#1e1e1e"  stroke="#1e1e1e" stroke-width="0.28">0.5</text>
<line x1="52.40" y1="784.30" x2="52.40" y2="788.80" stroke="#747474" stroke-width="1" />
<text x="52.4" y="804.5" font-size="12.4" text-anchor="middle" fill="#1e1e1e"  stroke="#1e1e1e" stroke-width="0.28">0</text>
<line x1="235.60" y1="784.30" x2="235.60" y2="788.80" stroke="#747474" stroke-width="1" />
<text x="235.6" y="804.5" font-size="12.4" text-anchor="middle" fill="#1e1e1e"  stroke="#1e1e1e" stroke-width="0.28">200</text>
<line x1="418.80" y1="784.30" x2="418.80" y2="788.80" stroke="#747474" stroke-width="1" />
<text x="418.8" y="804.5" font-size="12.4" text-anchor="middle" fill="#1e1e1e"  stroke="#1e1e1e" stroke-width="0.28">400</text>
<line x1="602.00" y1="784.30" x2="602.00" y2="788.80" stroke="#747474" stroke-width="1" />
<text x="602.0" y="804.5" font-size="12.4" text-anchor="middle" fill="#1e1e1e"  stroke="#1e1e1e" stroke-width="0.28">600</text>
<line x1="785.20" y1="784.30" x2="785.20" y2="788.80" stroke="#747474" stroke-width="1" />
<text x="785.2" y="804.5" font-size="12.4" text-anchor="middle" fill="#1e1e1e"  stroke="#1e1e1e" stroke-width="0.28">800</text>
<line x1="968.40" y1="784.30" x2="968.40" y2="788.80" stroke="#747474" stroke-width="1" />
<text x="968.4" y="804.5" font-size="12.4" text-anchor="middle" fill="#1e1e1e"  stroke="#1e1e1e" stroke-width="0.28">1,000</text>
<text x="510" y="824" font-size="13.2" text-anchor="middle" fill="#1e1e1e" stroke="#1e1e1e" stroke-width="0.28"><tspan font-style="italic">τ</tspan><tspan font-size="9" dy="2.5">S</tspan><tspan dy="-2.5"> (ns)</tspan></text>
<text transform="translate(10.6,676) rotate(-90)" font-size="13.2" text-anchor="middle" fill="#1e1e1e" stroke="#1e1e1e" stroke-width="0.28"><tspan font-style="italic">P</tspan><tspan font-size="9.6" dy="3.2" dx="0.4">S</tspan></text>
<line x1="49.40" y1="619.40" x2="55.40" y2="625.40" stroke="#333" stroke-width="0.9" />
<line x1="49.40" y1="622.00" x2="55.40" y2="628.00" stroke="#333" stroke-width="0.9" />
<line x1="49.40" y1="675.35" x2="55.40" y2="681.35" stroke="#333" stroke-width="0.9" />
<line x1="49.40" y1="677.95" x2="55.40" y2="683.95" stroke="#333" stroke-width="0.9" />
<line x1="49.40" y1="731.30" x2="55.40" y2="737.30" stroke="#333" stroke-width="0.9" />
<line x1="49.40" y1="733.90" x2="55.40" y2="739.90" stroke="#333" stroke-width="0.9" />
<path d="M52.4 583.5l1.4 3.2 1.3 4.3 1.4 4.0 1.4 2.6 1.4 0.2 1.3 -2.1 1.4 -3.9 1.4 -4.4 1.4 -3.5 1.3 -1.5 1.4 1.0 1.4 3.0 1.4 4.3 1.3 4.1 1.4 2.7 1.4 0.4 1.4 -2.1 1.3 -3.8 1.4 -4.3 1.4 -3.6 1.4 -1.6 1.3 0.8 1.4 2.9 1.4 4.3 1.4 4.1 1.3 2.8 1.4 0.5 1.4 -1.9 1.3 -3.7 1.4 -4.4 1.4 -3.6 1.4 -1.8 1.3 0.7 1.4 2.8 1.4 4.2 1.4 4.2 1.3 2.8 1.4 0.7 1.4 -1.8 1.4 -3.6 1.3 -4.3 1.4 -3.7 1.4 -1.9 1.4 0.5 1.3 2.8 1.4 4.1 1.4 4.2 1.4 2.9 1.3 0.8 1.4 -1.7 1.4 -3.5 1.3 -4.3 1.4 -3.7 1.4 -2.0 1.4 0.4 1.3 2.6 1.4 4.0 1.4 4.2 1.4 3.0 1.3 0.9 1.4 -1.5 1.4 -3.4 1.4 -4.3 1.3 -3.7 1.4 -2.1 1.4 0.2 1.4 2.5 1.3 4.0 1.4 4.2 1.4 3.1 1.4 1.0 1.3 -1.4 1.4 -3.3 1.4 -4.2 1.3 -3.8 1.4 -2.2 1.4 0.1 1.4 2.4 1.3 3.9 1.4 4.1 1.4 3.2 1.4 1.1 1.3 -1.2 1.4 -3.2 1.4 -4.2 1.4 -3.8 1.3 -2.3 1.4 0.0 1.4 2.3 1.4 3.7 1.3 4.2 1.4 3.2 1.4 1.3 1.4 -1.1 1.3 -3.1 1.4 -4.1 1.4 -3.8 1.4 -2.4 1.3 -0.2 1.4 2.1 1.4 3.7 1.3 4.1 1.4 3.3 1.4 1.4 1.4 -1.0 1.3 -2.9 1.4 -4.1 1.4 -3.8 1.4 -2.4 1.3 -0.3 1.4 1.9 1.4 3.6 1.4 4.1 1.3 3.3 1.4 1.4 1.4 -0.8 1.4 -2.8 1.3 -3.9 1.4 -3.9 1.4 -2.5 1.4 -0.4 1.3 1.9 1.4 3.4 1.4 4.0 1.4 3.3 1.3 1.6 1.4 -0.7 1.4 -2.6 1.3 -3.9 1.4 -3.8 1.4 -2.6 1.4 -0.5 1.3 1.7 1.4 3.3 1.4 4.0 1.4 3.3 1.3 1.7 1.4 -0.6 1.4 -2.5 1.4 -3.8 1.3 -3.8 1.4 -2.6 1.4 -0.6 1.4 1.5 1.3 3.3 1.4 3.8 1.4 3.4 1.4 1.7 1.3 -0.4 1.4 -2.4 1.4 -3.7 1.3 -3.7 1.4 -2.7 1.4 -0.7 1.4 1.4 1.3 3.1 1.4 3.8 1.4 3.3 1.4 1.8 1.3 -0.2 1.4 -2.3 1.4 -3.6 1.4 -3.6 1.3 -2.7 1.4 -0.9 1.4 1.3 1.4 2.9 1.3 3.8 1.4 3.3 1.4 1.9 1.4 -0.2 1.3 -2.1 1.4 -3.5 1.4 -3.6 1.3 -2.7 1.4 -1.0 1.4 1.2 1.4 2.8 1.3 3.6 1.4 3.3 1.4 2.0 1.4 -0.1 1.3 -2.0 1.4 -3.3 1.4 -3.5 1.4 -2.8 1.3 -1.0 1.4 1.0 1.4 2.7 1.4 3.5 1.3 3.3 1.4 2.0 1.4 0.0 1.4 -1.8 1.3 -3.2 1.4 -3.5 1.4 -2.7 1.4 -1.2 1.3 0.9 1.4 2.6 1.4 3.4 1.3 3.2 1.4 2.1 1.4 0.1 1.4 -1.7 1.3 -3.0 1.4 -3.5 1.4 -2.7 1.4 -1.2 1.3 0.7 1.4 2.5 1.4 3.3 1.4 3.2 1.3 2.0 1.4 0.3 1.4 -1.5 1.4 -3.0 1.3 -3.3 1.4 -2.8 1.4 -1.2 1.4 0.6 1.3 2.3 1.4 3.2 1.4 3.1 1.4 2.1 1.3 0.4 1.4 -1.4 1.4 -2.8 1.3 -3.3 1.4 -2.7 1.4 -1.3 1.4 0.5 1.3 2.1 1.4 3.1 1.4 3.1 1.4 2.1 1.3 0.5 1.4 -1.3 1.4 -2.7 1.4 -3.2 1.3 -2.7 1.4 -1.3 1.4 0.3 1.4 2.0 1.3 3.0 1.4 3.0 1.4 2.2 1.4 0.5 1.3 -1.2 1.4 -2.5 1.4 -3.1 1.3 -2.6 1.4 -1.4 1.4 0.2 1.4 1.9 1.3 2.9 1.4 2.9 1.4 2.1 1.4 0.7 1.3 -1.1 1.4 -2.4 1.4 -3.0 1.4 -2.6 1.3 -1.4 1.4 0.1 1.4 1.8 1.4 2.7 1.3 2.9 1.4 2.1 1.4 0.7 1.4 -0.9 1.3 -2.3 1.4 -2.9 1.4 -2.5 1.3 -1.5 1.4 0.0 1.4 1.6 1.4 2.7 1.3 2.8 1.4 2.1 1.4 0.7 1.4 -0.8 1.3 -2.1 1.4 -2.8 1.4 -2.5 1.4 -1.5 1.3 0.0 1.4 1.4 1.4 2.5 1.4 2.7 1.3 2.1 1.4 0.9 1.4 -0.7 1.4 -2.0 1.3 -2.7 1.4 -2.5 1.4 -1.5 1.4 -0.1 1.3 1.3 1.4 2.4 1.4 2.6 1.3 2.1 1.4 0.9 1.4 -0.6 1.4 -1.9 1.3 -2.5 1.4 -2.5 1.4 -1.5 1.4 -0.2 1.3 1.3 1.4 2.2 1.4 2.5 1.4 2.1 1.3 0.9 1.4 -0.5 1.4 -1.8 1.4 -2.4 1.3 -2.3 1.4 -1.6 1.4 -0.2 1.4 1.1 1.3 2.1 1.4 2.5 1.4 2.0 1.4 0.9 1.3 -0.4 1.4 -1.6 1.4 -2.3 1.3 -2.3 1.4 -1.6 1.4 -0.3 1.4 1.0 1.3 2.0 1.4 2.4 1.4 1.9 1.4 1.0 1.3 -0.3 1.4 -1.5 1.4 -2.2 1.4 -2.2 1.3 -1.6 1.4 -0.3 1.4 0.9 1.4 1.8 1.3 2.3 1.4 1.9 1.4 1.0 1.4 -0.2 1.3 -1.4 1.4 -2.1 1.4 -2.1 1.3 -1.5 1.4 -0.5 1.4 0.8 1.4 1.8 1.3 2.1 1.4 1.9 1.4 1.0 1.4 -0.1 1.3 -1.3 1.4 -2.0 1.4 -2.0 1.4 -1.5 1.3 -0.5 1.4 0.7 1.4 1.6 1.4 2.1 1.3 1.8 1.4 1.0 1.4 0.0 1.4 -1.2 1.3 -1.9 1.4 -2.0 1.4 -1.4 1.3 -0.5 1.4 0.6 1.4 1.5 1.4 2.0 1.3 1.7 1.4 1.1 1.4 -0.1 1.4 -1.0 1.3 -1.8 1.4 -1.9 1.4 -1.4 1.4 -0.6 1.3 0.5 1.4 1.5 1.4 1.8 1.4 1.7 1.3 1.1 1.4 0.0 1.4 -1.0 1.4 -1.6 1.3 -1.8 1.4 -1.4 1.4 -0.6 1.4 0.4 1.3 1.3 1.4 1.8 1.4 1.7 1.3 1.0 1.4 0.1 1.4 -0.9 1.4 -1.5 1.3 -1.8 1.4 -1.4 1.4 -0.6 1.4 0.4 1.3 1.2 1.4 1.7 1.4 1.6 1.4 1.0 1.3 0.1 1.4 -0.7 1.4 -1.5 1.4 -1.6 1.3 -1.4 1.4 -0.6 1.4 0.3 1.4 1.1 1.3 1.6 1.4 1.5 1.4 1.0 1.4 0.2 1.3 -0.7 1.4 -1.3 1.4 -1.6 1.3 -1.3 1.4 -0.6 1.4 0.2 1.4 1.0 1.3 1.5 1.4 1.5 1.4 1.0 1.4 0.2 1.3 -0.6 1.4 -1.3 1.4 -1.5 1.4 -1.2 1.3 -0.7 1.4 0.2 1.4 0.9 1.4 1.4 1.3 1.4 1.4 1.0 1.4 0.3 1.4 -0.6 1.3 -1.2 1.4 -1.4 1.4 -1.2 1.3 -0.6 1.4 0.1 1.4 0.8 1.4 1.3 1.3 1.4 1.4 0.9 1.4 0.3 1.4 -0.5 1.3 -1.0 1.4 -1.4 1.4 -1.1 1.4 -0.7 1.3 0.1 1.4 0.8 1.4 1.2 1.4 1.3 1.3 0.9 1.4 0.3 1.4 -0.4 1.4 -1.0 1.3 -1.3 1.4 -1.1 1.4 -0.6 1.3 0.0 1.4 0.7 1.4 1.1 1.4 1.2 1.3 0.9 1.4 0.4 1.4 -0.4 1.4 -0.9 1.3 -1.2 1.4 -1.1 1.4 -0.6 1.4 0.0 1.3 0.6 1.4 1.1 1.4 1.1 1.4 0.9 1.3 0.3 1.4 -0.3 1.4 -0.8 1.4 -1.1 1.3 -1.0 1.4 -0.7 1.4 0.0 1.4 0.6 1.3 0.9 1.4 1.1 1.4 0.9 1.3 0.3 1.4 -0.2 1.4 -0.8 1.4 -1.0 1.3 -1.0 1.4 -0.6 1.4 -0.1 1.4 0.5 1.3 0.9 1.4 1.0 1.4 0.8 1.4 0.4 1.3 -0.2 1.4 -0.7 1.4 -1.0 1.4 -0.9 1.3 -0.6 1.4 -0.1 1.4 0.4 1.4 0.9 1.3 0.9 1.4 0.8 1.4 0.4 1.4 -0.2 1.3 -0.6 1.4 -0.9 1.4 -0.9 1.3 -0.6 1.4 -0.1 1.4 0.4 1.4 0.8 1.3 0.8 1.4 0.8 1.4 0.4 1.4 -0.2 1.3 -0.5 1.4 -0.9 1.4 -0.8 1.4 -0.6 1.3 -0.1 1.4 0.3 1.4 0.7 1.4 0.9 1.3 0.7 1.4 0.4 1.4 -0.1 1.4 -0.5 1.3 -0.8 1.4 -0.8 1.4 -0.5 1.3 -0.2 1.4 0.3 1.4 0.6 1.4 0.8 1.3 0.7 1.4 0.4 1.4 -0.1 1.4 -0.5 1.3 -0.7 1.4 -0.7 1.4 -0.5 1.4 -0.2 1.3 0.2 1.4 0.6 1.4 0.7 1.4 0.7 1.3 0.4 1.4 -0.1 1.4 -0.4 1.4 -0.6 1.3 -0.7 1.4 -0.5 1.4 -0.2 1.3 0.2 1.4 0.5 1.4 0.7 1.4 0.6 1.3 0.4 1.4 0.0 1.4 -0.4 1.4 -0.6 1.3 -0.7 1.4 -0.5 1.4 -0.1 1.4 0.1 1.3 0.5 1.4 0.6 1.4 0.6 1.4 0.4 1.3 0.0 1.4 -0.3 1.4 -0.6 1.4 -0.6 1.3 -0.5 1.4 -0.2 1.4 0.2 1.4 0.4 1.3 0.6 1.4 0.5 1.4 0.4 1.3 0.0 1.4 -0.3 1.4 -0.5 1.4 -0.5 1.3 -0.5 1.4 -0.2 1.4 0.1 1.4 0.4 1.3 0.6 1.4 0.5 1.4 0.3 1.4 0.0 1.3 -0.2 1.4 -0.5 1.4 -0.5 1.4 -0.4 1.3 -0.2 1.4 0.1 1.4 0.3 1.4 0.5 1.3 0.5 1.4 0.3 1.4 0.1 1.4 -0.2 1.3 -0.5 1.4 -0.4 1.4 -0.4 1.3 -0.2 1.4 0.0 1.4 0.4 1.4 0.4 1.3 0.5 1.4 0.3 1.4 0.0 1.4 -0.2 1.3 -0.3 1.4 -0.5 1.4 -0.4 1.4 -0.2 1.3 0.1 1.4 0.3 1.4 0.4 1.4 0.4 1.3 0.3 1.4 0.1 1.4 -0.2 1.4 -0.3 1.3 -0.5 1.4 -0.3 1.4 -0.2 1.3 0.0 1.4 0.3 1.4 0.4 1.4 0.3 1.3 0.3 1.4 0.1 1.4 -0.1 1.4 -0.3 1.3 -0.4 1.4 -0.4 1.4 -0.1 1.4 0.0 1.3 0.2 1.4 0.3 1.4 0.4" fill="none" stroke="#000" stroke-width="1.5"/>
<path d="M52.4 584.8h0M54.2 590.3h0M56.1 594.2h0M57.9 596.9h0M59.7 595.4h0M61.6 593.0h0M63.4 588.4h0M65.2 584.5h0M67.1 581.5h0M68.9 583.7h0M70.7 591.7h0M72.6 598.9h0M74.4 599.5h0M76.2 592.0h0M78.0 588.8h0M79.9 587.0h0M81.7 582.6h0M83.5 587.0h0M85.4 591.5h0M87.2 596.6h0M89.0 599.2h0M90.9 595.1h0M92.7 590.9h0M94.5 586.3h0M96.4 581.8h0M98.2 582.5h0M100.0 591.5h0M101.9 594.8h0M103.7 599.4h0M105.5 597.2h0M107.4 594.7h0M109.2 586.8h0M111.0 583.0h0M112.9 583.6h0M114.7 588.9h0M116.5 593.5h0M118.4 598.9h0M120.2 599.9h0M122.0 593.7h0M123.8 590.3h0M125.7 581.8h0M127.5 581.5h0M129.3 589.0h0M131.2 590.7h0M133.0 598.0h0M134.8 597.8h0M136.7 595.3h0M138.5 593.4h0M140.3 585.3h0M142.2 583.0h0M144.0 582.9h0M145.8 591.5h0M147.7 593.7h0M149.5 599.6h0M151.3 597.0h0M153.2 593.2h0M155.0 583.8h0M156.8 582.0h0M158.7 579.5h0M160.5 586.8h0M162.3 592.0h0M164.2 595.8h0M166.0 598.2h0M167.8 593.4h0M169.6 585.5h0M171.5 584.2h0M173.3 582.7h0M175.1 586.4h0M177.0 590.8h0M178.8 597.0h0M180.6 597.8h0M182.5 594.3h0M184.3 589.2h0M186.1 586.0h0M188.0 581.3h0M189.8 587.3h0M191.6 592.2h0M193.5 597.4h0M195.3 595.9h0M197.1 596.4h0M199.0 592.6h0M200.8 587.7h0M202.6 582.3h0M204.5 585.9h0M206.3 590.7h0M208.1 592.9h0M210.0 599.2h0M211.8 597.2h0M213.6 592.6h0M215.4 588.0h0M217.3 583.6h0M219.1 581.3h0M220.9 588.0h0M222.8 594.5h0M224.6 599.6h0M226.4 597.5h0M228.3 594.5h0M230.1 588.3h0M231.9 585.2h0M233.8 584.0h0M235.6 587.1h0M237.4 591.7h0M239.3 595.2h0M241.1 597.9h0M242.9 594.9h0M244.8 587.1h0M246.6 584.7h0M248.4 585.9h0M250.3 581.9h0M252.1 588.8h0M253.9 595.9h0M255.8 595.5h0M257.6 596.0h0M259.4 592.9h0M261.2 587.9h0M263.1 585.3h0M264.9 584.0h0M266.7 586.1h0M268.6 593.5h0M270.4 595.7h0M272.2 593.4h0M274.1 595.2h0M275.9 587.8h0M277.7 584.9h0M279.6 585.5h0M281.4 588.3h0M283.2 591.5h0M285.1 594.9h0M286.9 597.7h0M288.7 594.3h0M290.6 588.5h0M292.4 584.8h0M294.2 582.2h0M296.1 584.8h0M297.9 589.2h0M299.7 591.5h0M301.6 595.6h0M303.4 595.1h0M305.2 589.9h0M307.0 588.0h0M308.9 584.5h0M310.7 583.5h0M312.5 587.6h0M314.4 590.7h0M316.2 596.2h0M318.0 598.4h0M319.9 589.2h0M321.7 586.0h0M323.5 586.2h0M325.4 582.0h0M327.2 587.3h0M329.0 595.0h0M330.9 596.3h0M332.7 597.1h0M334.5 591.0h0M336.4 590.5h0M338.2 585.7h0M340.0 584.6h0M341.9 586.9h0M343.7 592.1h0M345.5 594.3h0M347.4 594.4h0M349.2 593.5h0M351.0 592.1h0M352.8 588.2h0M354.7 584.1h0M356.5 586.7h0M358.3 590.3h0M360.2 596.3h0M362.0 592.7h0M363.8 593.7h0M365.7 593.4h0M367.5 586.0h0M369.3 582.5h0M371.2 589.0h0M373.0 589.0h0M374.8 593.0h0M376.7 594.3h0M378.5 595.8h0M380.3 593.3h0M382.2 588.8h0M384.0 582.3h0M385.8 581.1h0M387.7 587.9h0M389.5 592.6h0M391.3 590.1h0M393.2 597.4h0M395.0 594.8h0M396.8 589.9h0M398.6 585.5h0M400.5 583.0h0M402.3 585.6h0M404.1 591.3h0M406.0 592.8h0M407.8 595.1h0M409.6 591.4h0M411.5 591.2h0M413.3 589.5h0M415.1 586.8h0M417.0 583.2h0M418.8 589.6h0M420.6 596.1h0M422.5 596.1h0M424.3 595.0h0M426.1 590.2h0M428.0 590.1h0M429.8 584.5h0M431.6 584.0h0M433.5 588.9h0M435.3 591.8h0M437.1 591.5h0M439.0 592.3h0M440.8 591.7h0M442.6 589.0h0M444.4 584.4h0M446.3 585.5h0M448.1 587.1h0M449.9 591.8h0M451.8 593.6h0M453.6 595.2h0M455.4 589.2h0M457.3 590.9h0M459.1 585.1h0M460.9 583.3h0M462.8 586.7h0M464.6 587.4h0M466.4 596.4h0M468.3 594.6h0M470.1 592.8h0M471.9 595.6h0M473.8 590.1h0M475.6 584.1h0M477.4 586.4h0M479.3 590.2h0M481.1 592.4h0M482.9 595.1h0M484.8 593.3h0M486.6 591.7h0M488.4 589.7h0M490.2 587.6h0M492.1 586.0h0M493.9 585.4h0M495.7 590.2h0M497.6 592.5h0M499.4 594.8h0M501.2 595.3h0M503.1 591.3h0M504.9 586.2h0M506.7 585.8h0M508.6 588.5h0M510.4 592.5h0M512.2 592.6h0M514.1 594.9h0M515.9 594.2h0M517.7 591.6h0M519.6 587.6h0M521.4 585.8h0M523.2 585.0h0M525.1 587.4h0M526.9 589.7h0M528.7 592.6h0M530.6 594.5h0M532.4 591.9h0M534.2 588.1h0M536.0 587.3h0M537.9 585.6h0M539.7 586.3h0M541.5 592.4h0M543.4 596.3h0M545.2 592.0h0M547.0 592.5h0M548.9 588.6h0M550.7 589.6h0M552.5 583.6h0M554.4 586.4h0M556.2 590.4h0M558.0 593.3h0M559.9 593.7h0M561.7 593.3h0M563.5 591.1h0M565.4 589.9h0M567.2 584.6h0M569.0 587.3h0M570.9 589.3h0M572.7 591.8h0M574.5 597.5h0M576.4 592.4h0M578.2 591.9h0M580.0 589.3h0M581.8 586.9h0M583.7 588.7h0M585.5 587.3h0M587.3 592.4h0M589.2 594.6h0M591.0 594.9h0M592.8 591.7h0M594.7 588.3h0M596.5 588.5h0M598.3 589.5h0M600.2 586.4h0M602.0 592.3h0M603.8 590.6h0M605.7 593.5h0M607.5 593.6h0M609.3 591.3h0M611.2 587.4h0M613.0 585.7h0M614.8 588.2h0M616.7 588.2h0M618.5 588.5h0M620.3 593.5h0M622.2 594.6h0M624.0 592.7h0M625.8 591.1h0M627.6 588.5h0M629.5 588.8h0M631.3 591.4h0M633.1 590.5h0M635.0 597.2h0M636.8 595.1h0M638.6 588.1h0M640.5 587.7h0M642.3 586.9h0M644.1 586.8h0M646.0 585.8h0M647.8 589.8h0M649.6 592.3h0M651.5 594.9h0M653.3 592.0h0M655.1 591.2h0M657.0 589.4h0M658.8 588.8h0M660.6 588.4h0M662.5 590.7h0M664.3 590.5h0M666.1 595.0h0M668.0 592.5h0M669.8 587.5h0M671.6 588.7h0M673.4 585.8h0M675.3 586.2h0M677.1 587.4h0M678.9 590.1h0M680.8 594.8h0M682.6 592.8h0M684.4 591.7h0M686.3 591.9h0M688.1 588.8h0M689.9 590.1h0M691.8 591.9h0M693.6 590.5h0M695.4 592.3h0M697.3 593.6h0M699.1 593.1h0M700.9 590.7h0M702.8 589.1h0M704.6 588.7h0M706.4 588.9h0M708.3 591.1h0M710.1 591.1h0M711.9 591.5h0M713.8 591.2h0M715.6 591.4h0M717.4 589.9h0M719.2 587.4h0M721.1 588.9h0M722.9 589.9h0M724.7 595.5h0M726.6 596.7h0M728.4 591.4h0M730.2 590.2h0M732.1 587.0h0M733.9 587.1h0M735.7 588.1h0M737.6 589.5h0M739.4 593.3h0M741.2 590.5h0M743.1 593.0h0M744.9 590.3h0M746.7 589.4h0M748.6 588.2h0M750.4 586.9h0M752.2 590.0h0M754.1 591.1h0M755.9 593.1h0M757.7 592.6h0M759.6 588.6h0M761.4 590.7h0M763.2 587.0h0M765.0 587.1h0M766.9 587.7h0M768.7 588.8h0M770.5 593.0h0M772.4 591.3h0M774.2 588.9h0M776.0 591.7h0M777.9 589.4h0M779.7 589.8h0M781.5 588.3h0M783.4 591.6h0M785.2 588.2h0M787.0 592.3h0M788.9 594.2h0M790.7 587.8h0M792.5 588.0h0M794.4 588.0h0M796.2 587.9h0M798.0 590.1h0M799.9 590.9h0M801.7 590.2h0M803.5 590.1h0M805.4 589.5h0M807.2 589.7h0M809.0 589.9h0M810.8 589.1h0M812.7 587.4h0M814.5 587.8h0M816.3 591.8h0M818.2 592.4h0M820.0 589.1h0M821.8 589.1h0M823.7 588.2h0M825.5 591.1h0M827.3 589.8h0M829.2 590.8h0M831.0 590.6h0M832.8 594.3h0M834.7 589.2h0M836.5 590.1h0M838.3 588.9h0M840.2 591.0h0M842.0 589.1h0M843.8 587.5h0M845.7 593.2h0M847.5 590.8h0M849.3 590.2h0M851.2 592.0h0M853.0 588.6h0M854.8 589.8h0M856.6 587.0h0M858.5 588.7h0M860.3 590.0h0M862.1 587.7h0M864.0 589.9h0M865.8 588.8h0M867.6 592.2h0M869.5 590.5h0M871.3 587.7h0M873.1 587.9h0M875.0 590.2h0M876.8 589.5h0M878.6 593.0h0M880.5 590.7h0M882.3 592.3h0M884.1 589.1h0M886.0 590.1h0M887.8 590.4h0M889.6 589.8h0M891.5 587.6h0M893.3 592.8h0M895.1 592.1h0M897.0 588.8h0M898.8 590.6h0M900.6 586.4h0M902.4 589.0h0M904.3 589.6h0M906.1 589.8h0M907.9 588.0h0M909.8 590.0h0M911.6 589.9h0M913.4 589.7h0M915.3 592.2h0M917.1 590.8h0M918.9 587.1h0M920.8 588.8h0M922.6 589.9h0M924.4 590.0h0M926.3 591.7h0M928.1 589.7h0M929.9 591.2h0M931.8 588.8h0M933.6 590.8h0M935.4 590.4h0M937.3 589.8h0M939.1 591.5h0M940.9 589.8h0M942.8 589.7h0M944.6 589.3h0M946.4 587.3h0M948.2 592.0h0M950.1 592.6h0M951.9 589.4h0M953.7 589.3h0M955.6 587.5h0M957.4 589.3h0M959.2 588.7h0M961.1 591.1h0M962.9 588.3h0M964.7 588.7h0M966.6 592.0h0M968.4 592.2h0" stroke="#6c63dd" stroke-width="3.2" stroke-linecap="round" fill="none"/>
<text x="712.6" y="577.6" font-size="13.2" fill="#1e1e1e" stroke="#1e1e1e" stroke-width="0.28"><tspan font-style="italic">B</tspan> = 2.0 mT</text>
<text x="797.4" y="577.6" font-size="13.2" fill="#1e1e1e" stroke="#1e1e1e" stroke-width="0.28"><tspan font-style="italic">T</tspan><tspan font-size="9" dy="3.4" dx="0.3">2</tspan><tspan font-size="9" dx="-5" dy="-8.2">*</tspan><tspan dy="4.8" dx="0.8"> = 634 ± 41 ns</tspan></text>
<path d="M52.4 639.8l1.4 2.8 1.3 4.7 1.4 5.7 1.4 5.5 1.4 4.4 1.3 2.3 1.4 -0.2 1.4 -2.7 1.4 -4.5 1.3 -5.7 1.4 -5.6 1.4 -4.5 1.4 -2.5 1.3 0.0 1.4 2.4 1.4 4.5 1.4 5.5 1.3 5.7 1.4 4.6 1.4 2.7 1.4 0.3 1.3 -2.2 1.4 -4.3 1.4 -5.5 1.4 -5.7 1.3 -4.7 1.4 -2.9 1.4 -0.5 1.3 1.9 1.4 4.1 1.4 5.5 1.4 5.7 1.3 4.8 1.4 3.1 1.4 0.8 1.4 -1.8 1.3 -3.9 1.4 -5.3 1.4 -5.7 1.4 -5.0 1.3 -3.3 1.4 -1.0 1.4 1.6 1.4 3.7 1.3 5.2 1.4 5.7 1.4 5.1 1.4 3.5 1.3 1.1 1.4 -1.3 1.4 -3.5 1.3 -5.1 1.4 -5.7 1.4 -5.1 1.4 -3.7 1.3 -1.4 1.4 1.1 1.4 3.3 1.4 5.0 1.3 5.7 1.4 5.2 1.4 3.8 1.4 1.6 1.3 -0.8 1.4 -3.2 1.4 -4.8 1.4 -5.6 1.3 -5.3 1.4 -4.0 1.4 -1.8 1.4 0.6 1.3 3.0 1.4 4.7 1.4 5.5 1.3 5.3 1.4 4.1 1.4 2.0 1.4 -0.3 1.3 -2.8 1.4 -4.5 1.4 -5.5 1.4 -5.4 1.3 -4.2 1.4 -2.2 1.4 0.2 1.4 2.5 1.3 4.4 1.4 5.4 1.4 5.4 1.4 4.3 1.3 2.4 1.4 0.1 1.4 -2.3 1.4 -4.3 1.3 -5.3 1.4 -5.4 1.4 -4.4 1.4 -2.6 1.3 -0.3 1.4 2.1 1.4 4.1 1.3 5.2 1.4 5.3 1.4 4.6 1.4 2.7 1.3 0.5 1.4 -1.8 1.4 -3.9 1.4 -5.1 1.3 -5.3 1.4 -4.6 1.4 -3.0 1.4 -0.7 1.3 1.6 1.4 3.7 1.4 5.0 1.4 5.3 1.3 4.7 1.4 3.1 1.4 0.9 1.4 -1.4 1.3 -3.5 1.4 -4.8 1.4 -5.3 1.4 -4.8 1.3 -3.2 1.4 -1.1 1.4 1.2 1.3 3.2 1.4 4.8 1.4 5.2 1.4 4.8 1.3 3.4 1.4 1.3 1.4 -1.0 1.4 -3.1 1.3 -4.5 1.4 -5.2 1.4 -4.8 1.4 -3.5 1.3 -1.5 1.4 0.7 1.4 2.9 1.4 4.4 1.3 5.1 1.4 4.9 1.4 3.6 1.4 1.7 1.3 -0.6 1.4 -2.6 1.4 -4.3 1.3 -5.0 1.4 -4.9 1.4 -3.7 1.4 -1.9 1.3 0.4 1.4 2.4 1.4 4.1 1.4 5.0 1.3 4.8 1.4 3.8 1.4 2.0 1.4 -0.1 1.3 -2.2 1.4 -3.9 1.4 -4.9 1.4 -4.8 1.3 -3.9 1.4 -2.2 1.4 -0.1 1.4 2.0 1.3 3.8 1.4 4.7 1.4 4.9 1.3 3.9 1.4 2.3 1.4 0.3 1.4 -1.8 1.3 -3.6 1.4 -4.6 1.4 -4.8 1.4 -4.0 1.3 -2.5 1.4 -0.4 1.4 1.6 1.4 3.4 1.3 4.5 1.4 4.7 1.4 4.1 1.4 2.6 1.3 0.6 1.4 -1.4 1.4 -3.2 1.4 -4.4 1.3 -4.6 1.4 -4.1 1.4 -2.8 1.4 -0.8 1.3 1.2 1.4 3.0 1.4 4.3 1.3 4.6 1.4 4.1 1.4 2.8 1.4 1.0 1.3 -1.0 1.4 -2.8 1.4 -4.1 1.4 -4.5 1.3 -4.2 1.4 -2.9 1.4 -1.2 1.4 0.8 1.3 2.7 1.4 3.9 1.4 4.5 1.4 4.1 1.3 3.1 1.4 1.3 1.4 -0.6 1.4 -2.5 1.3 -3.8 1.4 -4.4 1.4 -4.1 1.4 -3.1 1.3 -1.5 1.4 0.5 1.4 2.2 1.3 3.7 1.4 4.2 1.4 4.2 1.4 3.1 1.3 1.6 1.4 -0.2 1.4 -2.1 1.4 -3.4 1.3 -4.2 1.4 -4.1 1.4 -3.3 1.4 -1.7 1.3 0.1 1.4 1.9 1.4 3.3 1.4 4.0 1.3 4.1 1.4 3.3 1.4 1.8 1.4 0.1 1.3 -1.7 1.4 -3.1 1.4 -4.0 1.3 -4.0 1.4 -3.3 1.4 -2.0 1.4 -0.2 1.3 1.5 1.4 3.0 1.4 3.8 1.4 4.0 1.3 3.3 1.4 2.1 1.4 0.4 1.4 -1.3 1.3 -2.8 1.4 -3.7 1.4 -4.0 1.4 -3.3 1.3 -2.2 1.4 -0.5 1.4 1.1 1.4 2.6 1.3 3.6 1.4 3.9 1.4 3.3 1.3 2.3 1.4 0.7 1.4 -1.0 1.4 -2.5 1.3 -3.4 1.4 -3.8 1.4 -3.3 1.4 -2.4 1.3 -0.8 1.4 0.8 1.4 2.3 1.4 3.3 1.3 3.7 1.4 3.4 1.4 2.4 1.4 0.9 1.3 -0.6 1.4 -2.2 1.4 -3.1 1.4 -3.6 1.3 -3.4 1.4 -2.4 1.4 -1.1 1.4 0.5 1.3 1.9 1.4 3.1 1.4 3.5 1.3 3.3 1.4 2.5 1.4 1.2 1.4 -0.4 1.3 -1.7 1.4 -2.9 1.4 -3.4 1.4 -3.3 1.3 -2.6 1.4 -1.3 1.4 0.2 1.4 1.7 1.3 2.7 1.4 3.3 1.4 3.3 1.4 2.5 1.3 1.4 1.4 0.0 1.4 -1.5 1.4 -2.6 1.3 -3.2 1.4 -3.2 1.4 -2.6 1.4 -1.5 1.3 0.0 1.4 1.3 1.4 2.4 1.3 3.1 1.4 3.2 1.4 2.6 1.4 1.5 1.3 0.2 1.4 -1.1 1.4 -2.3 1.4 -3.0 1.3 -3.1 1.4 -2.6 1.4 -1.6 1.4 -0.4 1.3 1.0 1.4 2.2 1.4 2.9 1.4 3.0 1.3 2.6 1.4 1.7 1.4 0.4 1.4 -0.9 1.3 -2.0 1.4 -2.7 1.4 -3.0 1.3 -2.6 1.4 -1.7 1.4 -0.6 1.4 0.8 1.3 1.9 1.4 2.6 1.4 2.9 1.4 2.6 1.3 1.7 1.4 0.7 1.4 -0.6 1.4 -1.8 1.3 -2.5 1.4 -2.8 1.4 -2.5 1.4 -1.9 1.3 -0.7 1.4 0.5 1.4 1.6 1.4 2.4 1.3 2.7 1.4 2.5 1.4 1.9 1.3 0.8 1.4 -0.4 1.4 -1.4 1.4 -2.3 1.3 -2.6 1.4 -2.5 1.4 -1.9 1.4 -0.9 1.3 0.2 1.4 1.4 1.4 2.1 1.4 2.6 1.3 2.4 1.4 1.9 1.4 1.0 1.4 -0.1 1.3 -1.2 1.4 -2.1 1.4 -2.4 1.4 -2.4 1.3 -1.9 1.4 -1.1 1.4 0.0 1.4 1.1 1.3 1.9 1.4 2.4 1.4 2.4 1.3 1.9 1.4 1.1 1.4 0.0 1.4 -0.9 1.3 -1.8 1.4 -2.3 1.4 -2.3 1.4 -1.9 1.3 -1.1 1.4 -0.2 1.4 0.8 1.4 1.7 1.3 2.2 1.4 2.2 1.4 1.9 1.4 1.2 1.3 0.3 1.4 -0.8 1.4 -1.5 1.4 -2.1 1.3 -2.2 1.4 -1.9 1.4 -1.2 1.4 -0.3 1.3 0.6 1.4 1.4 1.4 2.0 1.3 2.1 1.4 1.9 1.4 1.3 1.4 0.4 1.3 -0.5 1.4 -1.4 1.4 -1.9 1.4 -2.0 1.3 -1.9 1.4 -1.3 1.4 -0.4 1.4 0.4 1.3 1.2 1.4 1.8 1.4 2.0 1.4 1.8 1.3 1.3 1.4 0.6 1.4 -0.4 1.4 -1.1 1.3 -1.7 1.4 -1.9 1.4 -1.8 1.3 -1.3 1.4 -0.6 1.4 0.2 1.4 1.1 1.3 1.6 1.4 1.8 1.4 1.8 1.4 1.3 1.3 0.6 1.4 -0.1 1.4 -1.0 1.4 -1.4 1.3 -1.8 1.4 -1.8 1.4 -1.3 1.4 -0.7 1.3 0.1 1.4 0.8 1.4 1.5 1.4 1.7 1.3 1.6 1.4 1.4 1.4 0.7 1.3 0.0 1.4 -0.8 1.4 -1.3 1.4 -1.6 1.3 -1.6 1.4 -1.4 1.4 -0.7 1.4 -0.1 1.3 0.7 1.4 1.2 1.4 1.6 1.4 1.5 1.3 1.4 1.4 0.7 1.4 0.2 1.4 -0.6 1.3 -1.1 1.4 -1.5 1.4 -1.6 1.4 -1.3 1.3 -0.8 1.4 -0.2 1.4 0.5 1.4 1.1 1.3 1.4 1.4 1.5 1.4 1.3 1.3 0.8 1.4 0.2 1.4 -0.4 1.4 -1.0 1.3 -1.3 1.4 -1.4 1.4 -1.3 1.4 -0.8 1.3 -0.3 1.4 0.3 1.4 0.9 1.4 1.3 1.3 1.4 1.4 1.2 1.4 0.9 1.4 0.3 1.3 -0.3 1.4 -0.8 1.4 -1.2 1.4 -1.3 1.3 -1.2 1.4 -0.9 1.4 -0.4 1.4 0.3 1.3 0.7 1.4 1.1 1.4 1.3 1.3 1.2 1.4 0.8 1.4 0.4 1.4 -0.1 1.3 -0.7 1.4 -1.0 1.4 -1.3 1.4 -1.1 1.3 -0.9 1.4 -0.4 1.4 0.1 1.4 0.6 1.3 1.0 1.4 1.1 1.4 1.2 1.4 0.8 1.3 0.5 1.4 -0.1 1.4 -0.5 1.4 -0.9 1.3 -1.1 1.4 -1.1 1.4 -0.9 1.3 -0.5 1.4 0.0 1.4 0.5 1.4 0.9 1.3 1.0 1.4 1.1 1.4 0.8 1.4 0.5 1.3 0.1 1.4 -0.4 1.4 -0.8 1.4 -1.0 1.3 -1.1 1.4 -0.8 1.4 -0.5 1.4 -0.1 1.3 0.4 1.4 0.7 1.4 0.9 1.4 1.0 1.3 0.9 1.4 0.5 1.4 0.1 1.3 -0.3 1.4 -0.7 1.4 -0.9 1.4 -0.9 1.3 -0.8 1.4 -0.6 1.4 -0.1 1.4 0.2 1.3 0.7 1.4 0.8 1.4 0.9 1.4 0.8 1.3 0.5 1.4 0.2 1.4 -0.2 1.4 -0.5 1.3 -0.8 1.4 -0.9 1.4 -0.8 1.4 -0.5 1.3 -0.2 1.4 0.1 1.4 0.5 1.4 0.8 1.3 0.8 1.4 0.8 1.4 0.5 1.3 0.2 1.4 -0.1 1.4 -0.4 1.4 -0.7 1.3 -0.8 1.4 -0.8 1.4 -0.5 1.4 -0.3 1.3 0.1 1.4 0.4 1.4 0.7 1.4 0.7 1.3 0.8 1.4 0.5 1.4 0.3 1.4 -0.1 1.3 -0.4 1.4 -0.6 1.4 -0.7 1.4 -0.7 1.3 -0.5 1.4 -0.3 1.4 0.1 1.4 0.3 1.3 0.5 1.4 0.7 1.4 0.7 1.3 0.5 1.4 0.3 1.4 0.0 1.4 -0.3 1.3 -0.5 1.4 -0.6 1.4 -0.7 1.4 -0.5 1.3 -0.3 1.4 0.0 1.4 0.2 1.4 0.5 1.3 0.6 1.4 0.6 1.4 0.5 1.4 0.3 1.3 0.1 1.4 -0.2 1.4 -0.5 1.4 -0.5 1.3 -0.6 1.4 -0.5 1.4 -0.3 1.3 -0.1 1.4 0.2 1.4 0.4 1.4 0.5 1.3 0.6 1.4 0.4 1.4 0.4 1.4 0.1 1.3 -0.2 1.4 -0.4 1.4 -0.5 1.4 -0.5 1.3 -0.5 1.4 -0.3 1.4 -0.1" fill="none" stroke="#000" stroke-width="1.5"/>
<path d="M52.4 639.9h0M54.2 643.5h0M56.1 656.0h0M57.9 658.4h0M59.7 663.5h0M61.6 665.6h0M63.4 661.9h0M65.2 655.2h0M67.1 650.0h0M68.9 641.4h0M70.7 639.7h0M72.6 642.4h0M74.4 646.0h0M76.2 651.4h0M78.0 663.3h0M79.9 667.7h0M81.7 667.5h0M83.5 657.0h0M85.4 653.6h0M87.2 645.9h0M89.0 641.9h0M90.9 640.9h0M92.7 645.9h0M94.5 648.7h0M96.4 656.1h0M98.2 666.0h0M100.0 667.1h0M101.9 664.8h0M103.7 658.0h0M105.5 650.0h0M107.4 641.7h0M109.2 637.4h0M111.0 638.3h0M112.9 642.4h0M114.7 653.7h0M116.5 660.0h0M118.4 662.1h0M120.2 664.6h0M122.0 661.8h0M123.8 658.6h0M125.7 650.9h0M127.5 640.6h0M129.3 638.8h0M131.2 641.9h0M133.0 647.7h0M134.8 657.4h0M136.7 660.5h0M138.5 663.1h0M140.3 661.5h0M142.2 659.6h0M144.0 652.9h0M145.8 647.2h0M147.7 638.5h0M149.5 636.9h0M151.3 644.2h0M153.2 649.2h0M155.0 656.9h0M156.8 663.8h0M158.7 669.2h0M160.5 663.5h0M162.3 656.2h0M164.2 652.3h0M166.0 644.8h0M167.8 645.4h0M169.6 638.5h0M171.5 644.5h0M173.3 652.3h0M175.1 659.8h0M177.0 665.0h0M178.8 664.7h0M180.6 661.6h0M182.5 655.0h0M184.3 647.4h0M186.1 641.6h0M188.0 637.3h0M189.8 644.5h0M191.6 647.4h0M193.5 656.0h0M195.3 663.2h0M197.1 668.4h0M199.0 662.5h0M200.8 660.5h0M202.6 653.2h0M204.5 644.4h0M206.3 642.7h0M208.1 640.4h0M210.0 644.1h0M211.8 649.1h0M213.6 655.7h0M215.4 664.1h0M217.3 662.9h0M219.1 662.2h0M220.9 656.2h0M222.8 649.7h0M224.6 642.1h0M226.4 642.4h0M228.3 641.1h0M230.1 644.3h0M231.9 653.5h0M233.8 656.1h0M235.6 664.8h0M237.4 663.5h0M239.3 661.0h0M241.1 654.9h0M242.9 649.0h0M244.8 643.0h0M246.6 640.7h0M248.4 644.4h0M250.3 647.1h0M252.1 652.9h0M253.9 663.7h0M255.8 662.5h0M257.6 662.4h0M259.4 657.6h0M261.2 647.3h0M263.1 643.1h0M264.9 640.8h0M266.7 641.0h0M268.6 648.6h0M270.4 649.8h0M272.2 658.9h0M274.1 662.0h0M275.9 663.5h0M277.7 659.5h0M279.6 652.2h0M281.4 647.4h0M283.2 641.5h0M285.1 641.5h0M286.9 641.7h0M288.7 645.8h0M290.6 655.9h0M292.4 656.0h0M294.2 664.1h0M296.1 665.0h0M297.9 656.4h0M299.7 649.7h0M301.6 648.1h0M303.4 643.6h0M305.2 636.2h0M307.0 643.9h0M308.9 652.7h0M310.7 656.7h0M312.5 657.5h0M314.4 661.9h0M316.2 660.4h0M318.0 655.0h0M319.9 649.8h0M321.7 645.8h0M323.5 644.7h0M325.4 641.5h0M327.2 647.8h0M329.0 651.8h0M330.9 654.7h0M332.7 660.8h0M334.5 662.5h0M336.4 659.9h0M338.2 653.6h0M340.0 647.3h0M341.9 646.2h0M343.7 641.7h0M345.5 640.7h0M347.4 646.7h0M349.2 655.2h0M351.0 660.3h0M352.8 665.6h0M354.7 663.1h0M356.5 655.5h0M358.3 652.7h0M360.2 648.4h0M362.0 644.2h0M363.8 642.7h0M365.7 645.3h0M367.5 650.7h0M369.3 657.2h0M371.2 659.3h0M373.0 659.5h0M374.8 661.4h0M376.7 657.1h0M378.5 648.6h0M380.3 648.0h0M382.2 643.9h0M384.0 644.1h0M385.8 646.7h0M387.7 652.7h0M389.5 659.0h0M391.3 660.5h0M393.2 663.5h0M395.0 661.8h0M396.8 657.5h0M398.6 647.5h0M400.5 647.5h0M402.3 642.3h0M404.1 643.6h0M406.0 647.5h0M407.8 654.5h0M409.6 659.7h0M411.5 661.1h0M413.3 661.6h0M415.1 659.3h0M417.0 650.0h0M418.8 648.7h0M420.6 641.0h0M422.5 642.8h0M424.3 647.0h0M426.1 650.1h0M428.0 653.8h0M429.8 662.0h0M431.6 662.5h0M433.5 661.1h0M435.3 655.0h0M437.1 649.6h0M439.0 646.0h0M440.8 645.1h0M442.6 645.5h0M444.4 645.9h0M446.3 650.8h0M448.1 657.0h0M449.9 662.3h0M451.8 659.3h0M453.6 657.4h0M455.4 653.1h0M457.3 645.9h0M459.1 643.9h0M460.9 645.8h0M462.8 647.5h0M464.6 647.4h0M466.4 654.0h0M468.3 656.8h0M470.1 660.4h0M471.9 661.0h0M473.8 655.7h0M475.6 649.0h0M477.4 646.8h0M479.3 646.7h0M481.1 645.2h0M482.9 648.0h0M484.8 651.0h0M486.6 653.9h0M488.4 655.5h0M490.2 659.3h0M492.1 658.8h0M493.9 654.3h0M495.7 650.0h0M497.6 647.2h0M499.4 644.7h0M501.2 645.6h0M503.1 650.6h0M504.9 651.9h0M506.7 657.3h0M508.6 660.7h0M510.4 658.2h0M512.2 657.5h0M514.1 649.9h0M515.9 648.0h0M517.7 645.8h0M519.6 646.4h0M521.4 647.5h0M523.2 648.8h0M525.1 655.4h0M526.9 656.3h0M528.7 662.5h0M530.6 657.8h0M532.4 653.9h0M534.2 650.8h0M536.0 647.8h0M537.9 644.0h0M539.7 647.3h0M541.5 649.8h0M543.4 651.5h0M545.2 653.4h0M547.0 657.3h0M548.9 658.9h0M550.7 656.5h0M552.5 653.1h0M554.4 652.2h0M556.2 651.8h0M558.0 647.6h0M559.9 649.3h0M561.7 650.5h0M563.5 655.1h0M565.4 657.8h0M567.2 657.4h0M569.0 657.8h0M570.9 655.8h0M572.7 649.7h0M574.5 649.8h0M576.4 647.4h0M578.2 644.2h0M580.0 649.7h0M581.8 653.5h0M583.7 652.0h0M585.5 656.3h0M587.3 656.9h0M589.2 655.9h0M591.0 653.0h0M592.8 652.0h0M594.7 648.4h0M596.5 648.5h0M598.3 646.7h0M600.2 648.6h0M602.0 652.8h0M603.8 654.0h0M605.7 652.2h0M607.5 659.4h0M609.3 654.6h0M611.2 651.6h0M613.0 648.3h0M614.8 649.1h0M616.7 644.8h0M618.5 646.6h0M620.3 650.3h0M622.2 653.7h0M624.0 655.3h0M625.8 655.5h0M627.6 655.3h0M629.5 651.0h0M631.3 652.6h0M633.1 648.2h0M635.0 648.2h0M636.8 645.9h0M638.6 648.4h0M640.5 652.2h0M642.3 656.2h0M644.1 657.4h0M646.0 656.4h0M647.8 653.5h0M649.6 652.5h0M651.5 653.0h0M653.3 649.5h0M655.1 647.4h0M657.0 648.1h0M658.8 649.6h0M660.6 651.0h0M662.5 654.4h0M664.3 657.5h0M666.1 659.7h0M668.0 655.8h0M669.8 655.7h0M671.6 650.6h0M673.4 648.0h0M675.3 650.2h0M677.1 649.0h0M678.9 651.4h0M680.8 650.1h0M682.6 654.7h0M684.4 659.6h0M686.3 655.3h0M688.1 653.8h0M689.9 652.5h0M691.8 650.5h0M693.6 647.6h0M695.4 647.4h0M697.3 649.0h0M699.1 653.5h0M700.9 654.6h0M702.8 658.4h0M704.6 658.8h0M706.4 656.4h0M708.3 655.4h0M710.1 652.1h0M711.9 645.4h0M713.8 647.9h0M715.6 650.6h0M717.4 654.3h0M719.2 654.2h0M721.1 657.2h0M722.9 659.6h0M724.7 654.7h0M726.6 655.6h0M728.4 652.1h0M730.2 645.7h0M732.1 649.0h0M733.9 648.9h0M735.7 649.3h0M737.6 652.0h0M739.4 654.9h0M741.2 655.5h0M743.1 653.9h0M744.9 655.9h0M746.7 656.3h0M748.6 654.2h0M750.4 652.1h0M752.2 649.4h0M754.1 648.6h0M755.9 649.7h0M757.7 650.2h0M759.6 654.3h0M761.4 653.8h0M763.2 655.0h0M765.0 653.6h0M766.9 656.3h0M768.7 649.4h0M770.5 652.6h0M772.4 651.3h0M774.2 648.5h0M776.0 651.7h0M777.9 649.8h0M779.7 654.0h0M781.5 656.8h0M783.4 654.8h0M785.2 654.7h0M787.0 649.9h0M788.9 648.2h0M790.7 648.6h0M792.5 650.3h0M794.4 650.2h0M796.2 649.9h0M798.0 654.6h0M799.9 655.8h0M801.7 653.5h0M803.5 653.3h0M805.4 653.8h0M807.2 652.4h0M809.0 653.9h0M810.8 647.9h0M812.7 650.2h0M814.5 653.3h0M816.3 654.1h0M818.2 655.1h0M820.0 651.7h0M821.8 653.5h0M823.7 656.3h0M825.5 649.7h0M827.3 649.2h0M829.2 652.2h0M831.0 654.4h0M832.8 648.8h0M834.7 652.4h0M836.5 652.9h0M838.3 654.7h0M840.2 652.4h0M842.0 651.9h0M843.8 652.2h0M845.7 652.6h0M847.5 650.7h0M849.3 649.3h0M851.2 652.9h0M853.0 648.7h0M854.8 652.4h0M856.6 652.7h0M858.5 653.8h0M860.3 652.8h0M862.1 652.2h0M864.0 649.3h0M865.8 652.5h0M867.6 652.4h0M869.5 650.2h0M871.3 651.6h0M873.1 649.8h0M875.0 653.7h0M876.8 653.1h0M878.6 652.4h0M880.5 652.4h0M882.3 653.2h0M884.1 650.2h0M886.0 649.4h0M887.8 653.6h0M889.6 649.9h0M891.5 650.5h0M893.3 652.1h0M895.1 653.7h0M897.0 653.4h0M898.8 653.3h0M900.6 653.3h0M902.4 650.8h0M904.3 650.5h0M906.1 652.3h0M907.9 652.0h0M909.8 649.3h0M911.6 652.3h0M913.4 651.7h0M915.3 652.1h0M917.1 651.8h0M918.9 652.9h0M920.8 651.0h0M922.6 653.5h0M924.4 650.7h0M926.3 652.2h0M928.1 650.5h0M929.9 650.7h0M931.8 653.1h0M933.6 656.7h0M935.4 651.5h0M937.3 652.9h0M939.1 653.3h0M940.9 654.3h0M942.8 652.9h0M944.6 650.9h0M946.4 651.0h0M948.2 649.0h0M950.1 651.0h0M951.9 653.2h0M953.7 651.6h0M955.6 654.3h0M957.4 653.1h0M959.2 656.4h0M961.1 653.4h0M962.9 651.2h0M964.7 652.6h0M966.6 651.1h0M968.4 650.1h0" stroke="#6c63dd" stroke-width="3.2" stroke-linecap="round" fill="none"/>
<text x="712.6" y="629.8" font-size="13.2" fill="#1e1e1e" stroke="#1e1e1e" stroke-width="0.28"><tspan font-style="italic">B</tspan> = 1.5 mT</text>
<text x="797.4" y="629.8" font-size="13.2" fill="#1e1e1e" stroke="#1e1e1e" stroke-width="0.28"><tspan font-style="italic">T</tspan><tspan font-size="9" dy="3.4" dx="0.3">2</tspan><tspan font-size="9" dx="-5" dy="-8.2">*</tspan><tspan dy="4.8" dx="0.8"> = 645 ± 16 ns</tspan></text>
<path d="M52.4 697.3l1.4 2.7 1.3 3.9 1.4 4.5 1.4 4.8 1.4 4.6 1.3 3.8 1.4 2.6 1.4 1.3 1.4 -0.3 1.3 -1.9 1.4 -3.1 1.4 -4.1 1.4 -4.7 1.3 -4.8 1.4 -4.3 1.4 -3.4 1.4 -2.2 1.3 -0.7 1.4 0.9 1.4 2.3 1.4 3.5 1.3 4.4 1.4 4.8 1.4 4.6 1.4 4.1 1.3 3.0 1.4 1.6 1.4 0.2 1.3 -1.4 1.4 -2.8 1.4 -3.9 1.4 -4.6 1.3 -4.8 1.4 -4.4 1.4 -3.7 1.4 -2.6 1.3 -1.1 1.4 0.4 1.4 2.0 1.4 3.2 1.3 4.2 1.4 4.6 1.4 4.8 1.4 4.2 1.3 3.3 1.4 2.0 1.4 0.6 1.4 -1.0 1.3 -2.4 1.4 -3.6 1.4 -4.4 1.3 -4.7 1.4 -4.6 1.4 -3.9 1.4 -2.9 1.3 -1.5 1.4 0.0 1.4 1.5 1.4 2.9 1.3 3.9 1.4 4.5 1.4 4.7 1.4 4.4 1.3 3.6 1.4 2.4 1.4 0.9 1.4 -0.5 1.3 -2.0 1.4 -3.3 1.4 -4.2 1.4 -4.6 1.3 -4.6 1.4 -4.1 1.4 -3.2 1.3 -1.9 1.4 -0.4 1.4 1.1 1.4 2.5 1.3 3.6 1.4 4.4 1.4 4.6 1.4 4.5 1.3 3.7 1.4 2.8 1.4 1.3 1.4 -0.1 1.3 -1.6 1.4 -2.9 1.4 -3.9 1.4 -4.5 1.3 -4.6 1.4 -4.2 1.4 -3.5 1.4 -2.2 1.3 -0.8 1.4 0.6 1.4 2.1 1.4 3.3 1.3 4.2 1.4 4.5 1.4 4.5 1.3 3.9 1.4 3.0 1.4 1.8 1.4 0.2 1.3 -1.1 1.4 -2.6 1.4 -3.6 1.4 -4.3 1.3 -4.5 1.4 -4.3 1.4 -3.6 1.4 -2.6 1.3 -1.2 1.4 0.3 1.4 1.7 1.4 2.9 1.3 3.8 1.4 4.4 1.4 4.5 1.4 4.1 1.3 3.2 1.4 2.1 1.4 0.6 1.4 -0.7 1.3 -2.2 1.4 -3.2 1.4 -4.1 1.3 -4.4 1.4 -4.4 1.4 -3.7 1.4 -2.8 1.3 -1.6 1.4 -0.1 1.4 1.2 1.4 2.6 1.3 3.5 1.4 4.2 1.4 4.4 1.4 4.1 1.3 3.5 1.4 2.3 1.4 1.1 1.4 -0.4 1.3 -1.7 1.4 -2.9 1.4 -3.8 1.4 -4.3 1.3 -4.3 1.4 -3.8 1.4 -3.1 1.3 -1.9 1.4 -0.5 1.4 0.9 1.4 2.1 1.3 3.2 1.4 4.0 1.4 4.3 1.4 4.1 1.3 3.6 1.4 2.6 1.4 1.4 1.4 0.0 1.3 -1.3 1.4 -2.6 1.4 -3.5 1.4 -4.0 1.3 -4.2 1.4 -3.9 1.4 -3.3 1.4 -2.1 1.3 -0.9 1.4 0.4 1.4 1.8 1.3 2.9 1.4 3.7 1.4 4.1 1.4 4.1 1.3 3.6 1.4 2.8 1.4 1.7 1.4 0.4 1.3 -0.9 1.4 -2.2 1.4 -3.1 1.4 -3.8 1.3 -4.1 1.4 -3.9 1.4 -3.4 1.4 -2.4 1.3 -1.2 1.4 0.1 1.4 1.4 1.4 2.5 1.3 3.4 1.4 3.8 1.4 4.0 1.4 3.7 1.3 3.0 1.4 2.0 1.4 0.7 1.3 -0.5 1.4 -1.8 1.4 -2.8 1.4 -3.6 1.3 -3.9 1.4 -3.8 1.4 -3.4 1.4 -2.6 1.3 -1.5 1.4 -0.3 1.4 1.0 1.4 2.1 1.3 3.1 1.4 3.6 1.4 3.9 1.4 3.7 1.3 3.0 1.4 2.2 1.4 1.1 1.4 -0.2 1.3 -1.4 1.4 -2.4 1.4 -3.3 1.4 -3.7 1.3 -3.8 1.4 -3.4 1.4 -2.7 1.3 -1.8 1.4 -0.6 1.4 0.6 1.4 1.8 1.3 2.7 1.4 3.4 1.4 3.7 1.4 3.6 1.3 3.2 1.4 2.3 1.4 1.4 1.4 0.1 1.3 -1.0 1.4 -2.1 1.4 -2.9 1.4 -3.5 1.3 -3.7 1.4 -3.4 1.4 -2.8 1.4 -2.0 1.3 -0.9 1.4 0.3 1.4 1.4 1.3 2.4 1.4 3.1 1.4 3.5 1.4 3.5 1.3 3.2 1.4 2.5 1.4 1.5 1.4 0.5 1.3 -0.7 1.4 -1.7 1.4 -2.6 1.4 -3.2 1.3 -3.5 1.4 -3.4 1.4 -2.9 1.4 -2.1 1.3 -1.2 1.4 0.0 1.4 1.0 1.4 2.1 1.3 2.8 1.4 3.2 1.4 3.4 1.3 3.2 1.4 2.6 1.4 1.7 1.4 0.8 1.3 -0.4 1.4 -1.4 1.4 -2.2 1.4 -3.0 1.3 -3.2 1.4 -3.3 1.4 -2.9 1.4 -2.3 1.3 -1.4 1.4 -0.3 1.4 0.7 1.4 1.7 1.3 2.5 1.4 3.0 1.4 3.2 1.4 3.1 1.3 2.7 1.4 1.9 1.4 1.0 1.4 -0.1 1.3 -1.0 1.4 -2.0 1.4 -2.6 1.3 -3.1 1.4 -3.1 1.4 -2.9 1.4 -2.3 1.3 -1.6 1.4 -0.6 1.4 0.4 1.4 1.4 1.3 2.1 1.4 2.8 1.4 3.0 1.4 3.0 1.3 2.7 1.4 2.0 1.4 1.2 1.4 0.2 1.3 -0.7 1.4 -1.6 1.4 -2.4 1.4 -2.8 1.3 -3.0 1.4 -2.8 1.4 -2.4 1.4 -1.7 1.3 -0.8 1.4 0.1 1.4 1.1 1.3 1.8 1.4 2.5 1.4 2.8 1.4 2.9 1.3 2.6 1.4 2.1 1.4 1.3 1.4 0.5 1.3 -0.4 1.4 -1.3 1.4 -2.1 1.4 -2.5 1.3 -2.8 1.4 -2.7 1.4 -2.4 1.4 -1.8 1.3 -1.0 1.4 -0.2 1.4 0.8 1.4 1.5 1.3 2.2 1.4 2.6 1.4 2.7 1.3 2.6 1.4 2.1 1.4 1.5 1.4 0.7 1.3 -0.2 1.4 -1.0 1.4 -1.8 1.4 -2.3 1.3 -2.5 1.4 -2.7 1.4 -2.3 1.4 -1.9 1.3 -1.1 1.4 -0.4 1.4 0.5 1.4 1.2 1.3 1.9 1.4 2.4 1.4 2.5 1.4 2.5 1.3 2.1 1.4 1.6 1.4 0.8 1.3 0.1 1.4 -0.7 1.4 -1.5 1.4 -2.0 1.3 -2.4 1.4 -2.4 1.4 -2.3 1.4 -1.9 1.3 -1.3 1.4 -0.6 1.4 0.2 1.4 1.0 1.3 1.7 1.4 2.1 1.4 2.3 1.4 2.4 1.3 2.1 1.4 1.6 1.4 1.0 1.4 0.3 1.3 -0.5 1.4 -1.2 1.4 -1.8 1.4 -2.1 1.3 -2.3 1.4 -2.2 1.4 -1.9 1.3 -1.4 1.4 -0.7 1.4 0.0 1.4 0.7 1.3 1.4 1.4 1.8 1.4 2.2 1.4 2.2 1.3 2.0 1.4 1.7 1.4 1.1 1.4 0.5 1.3 -0.3 1.4 -0.9 1.4 -1.5 1.4 -2.0 1.3 -2.1 1.4 -2.1 1.4 -1.8 1.4 -1.5 1.3 -0.8 1.4 -0.2 1.4 0.5 1.4 1.1 1.3 1.6 1.4 2.0 1.4 2.0 1.3 2.0 1.4 1.7 1.4 1.1 1.4 0.6 1.3 0.0 1.4 -0.7 1.4 -1.3 1.4 -1.7 1.3 -1.9 1.4 -2.0 1.4 -1.8 1.4 -1.4 1.3 -1.0 1.4 -0.3 1.4 0.3 1.4 0.8 1.3 1.4 1.4 1.8 1.4 1.8 1.4 1.9 1.3 1.6 1.4 1.3 1.4 0.7 1.3 0.1 1.4 -0.5 1.4 -1.0 1.4 -1.5 1.3 -1.7 1.4 -1.9 1.4 -1.7 1.4 -1.4 1.3 -1.1 1.4 -0.4 1.4 0.1 1.4 0.6 1.3 1.2 1.4 1.5 1.4 1.7 1.4 1.8 1.3 1.6 1.4 1.2 1.4 0.8 1.4 0.3 1.3 -0.3 1.4 -0.9 1.4 -1.2 1.3 -1.6 1.4 -1.6 1.4 -1.7 1.4 -1.4 1.3 -1.0 1.4 -0.6 1.4 -0.1 1.4 0.5 1.3 1.0 1.4 1.3 1.4 1.5 1.4 1.6 1.3 1.5 1.4 1.3 1.4 0.8 1.4 0.4 1.3 -0.1 1.4 -0.7 1.4 -1.0 1.4 -1.4 1.3 -1.5 1.4 -1.5 1.4 -1.4 1.4 -1.0 1.3 -0.7 1.4 -0.2 1.4 0.3 1.3 0.8 1.4 1.1 1.4 1.4 1.4 1.4 1.3 1.5 1.4 1.2 1.4 0.9 1.4 0.4 1.3 0.0 1.4 -0.4 1.4 -0.9 1.4 -1.1 1.3 -1.4 1.4 -1.4 1.4 -1.3 1.4 -1.1 1.3 -0.7 1.4 -0.3 1.4 0.2 1.4 0.6 1.3 0.9 1.4 1.2 1.4 1.3 1.4 1.4 1.3 1.1 1.4 0.9 1.4 0.6 1.3 0.1 1.4 -0.3 1.4 -0.7 1.4 -1.0 1.3 -1.2 1.4 -1.3 1.4 -1.2 1.4 -1.0 1.3 -0.8 1.4 -0.4 1.4 0.1 1.4 0.4 1.3 0.8 1.4 1.0 1.4 1.2 1.4 1.2 1.3 1.1 1.4 0.9 1.4 0.6 1.4 0.2 1.3 -0.1 1.4 -0.6 1.4 -0.8 1.3 -1.1 1.4 -1.1 1.4 -1.2 1.4 -1.0 1.3 -0.7 1.4 -0.4 1.4 -0.1 1.4 0.3 1.3 0.6 1.4 0.9 1.4 1.0 1.4 1.1 1.3 1.1 1.4 0.9 1.4 0.6 1.4 0.3 1.3 -0.1 1.4 -0.4 1.4 -0.7 1.4 -0.9 1.3 -1.0 1.4 -1.1 1.4 -0.9 1.3 -0.8 1.4 -0.4 1.4 -0.2 1.4 0.2 1.3 0.5 1.4 0.7 1.4 0.9 1.4 1.0 1.3 1.0 1.4 0.8 1.4 0.7 1.4 0.3 1.3 0.0 1.4 -0.2 1.4 -0.6 1.4 -0.8 1.3 -0.9 1.4 -0.9 1.4 -0.9 1.4 -0.7 1.3 -0.5 1.4 -0.3 1.4 0.1 1.4 0.4 1.3 0.6 1.4 0.8 1.4 0.8 1.3 0.9 1.4 0.8 1.4 0.7 1.4 0.3 1.3 0.2 1.4 -0.2 1.4 -0.4 1.4 -0.7 1.3 -0.8 1.4 -0.8 1.4 -0.9 1.4 -0.7 1.3 -0.5 1.4 -0.3 1.4 0.0 1.4 0.3 1.3 0.5 1.4 0.6 1.4 0.8 1.4 0.8 1.3 0.8 1.4 0.6 1.4 0.4 1.4 0.2 1.3 -0.1 1.4 -0.3 1.4 -0.6 1.3 -0.6 1.4 -0.8 1.4 -0.7 1.4 -0.7 1.3 -0.5 1.4 -0.3 1.4 -0.1 1.4 0.1 1.3 0.4 1.4 0.6 1.4 0.7 1.4 0.7 1.3 0.7 1.4 0.6 1.4 0.4 1.4 0.2 1.3 0.0 1.4 -0.2 1.4 -0.5 1.4 -0.5 1.3 -0.7 1.4 -0.7 1.4 -0.6 1.3 -0.5 1.4 -0.3 1.4 -0.2 1.4 0.1 1.3 0.3 1.4 0.5 1.4 0.5 1.4 0.7 1.3 0.6 1.4 0.6 1.4 0.4 1.4 0.2 1.3 0.1 1.4 -0.2 1.4 -0.3" fill="none" stroke="#000" stroke-width="1.5"/>
<path d="M52.4 697.2h0M54.2 698.2h0M56.1 707.2h0M57.9 713.5h0M59.7 719.4h0M61.6 726.7h0M63.4 728.0h0M65.2 723.8h0M67.1 721.9h0M68.9 713.7h0M70.7 709.8h0M72.6 703.9h0M74.4 697.1h0M76.2 695.8h0M78.0 693.7h0M79.9 700.9h0M81.7 703.3h0M83.5 709.1h0M85.4 715.6h0M87.2 719.7h0M89.0 723.1h0M90.9 725.2h0M92.7 724.0h0M94.5 717.0h0M96.4 712.5h0M98.2 704.7h0M100.0 698.5h0M101.9 696.8h0M103.7 697.5h0M105.5 698.0h0M107.4 700.3h0M109.2 707.7h0M111.0 711.6h0M112.9 719.3h0M114.7 723.3h0M116.5 726.3h0M118.4 724.4h0M120.2 718.9h0M122.0 715.9h0M123.8 709.7h0M125.7 704.4h0M127.5 697.3h0M129.3 698.8h0M131.2 697.7h0M133.0 698.0h0M134.8 702.2h0M136.7 711.1h0M138.5 715.2h0M140.3 725.1h0M142.2 723.4h0M144.0 724.4h0M145.8 724.6h0M147.7 721.0h0M149.5 712.9h0M151.3 705.4h0M153.2 700.0h0M155.0 697.0h0M156.8 695.0h0M158.7 696.9h0M160.5 704.5h0M162.3 708.5h0M164.2 714.9h0M166.0 717.9h0M167.8 724.3h0M169.6 723.3h0M171.5 723.6h0M173.3 716.3h0M175.1 714.9h0M177.0 708.7h0M178.8 703.1h0M180.6 698.4h0M182.5 692.5h0M184.3 698.0h0M186.1 701.7h0M188.0 705.6h0M189.8 710.1h0M191.6 718.8h0M193.5 720.4h0M195.3 723.1h0M197.1 724.7h0M199.0 722.4h0M200.8 718.7h0M202.6 712.0h0M204.5 706.9h0M206.3 698.5h0M208.1 694.8h0M210.0 697.3h0M211.8 698.8h0M213.6 706.1h0M215.4 709.4h0M217.3 713.9h0M219.1 719.2h0M220.9 723.0h0M222.8 723.1h0M224.6 723.0h0M226.4 720.1h0M228.3 711.6h0M230.1 711.5h0M231.9 704.8h0M233.8 700.2h0M235.6 698.4h0M237.4 699.2h0M239.3 701.4h0M241.1 707.1h0M242.9 711.8h0M244.8 716.3h0M246.6 721.6h0M248.4 723.7h0M250.3 725.3h0M252.1 723.1h0M253.9 717.2h0M255.8 709.5h0M257.6 704.8h0M259.4 699.0h0M261.2 696.4h0M263.1 695.7h0M264.9 701.0h0M266.7 701.7h0M268.6 707.8h0M270.4 711.3h0M272.2 718.7h0M274.1 722.3h0M275.9 724.0h0M277.7 722.1h0M279.6 721.5h0M281.4 714.1h0M283.2 708.1h0M285.1 701.3h0M286.9 700.4h0M288.7 697.6h0M290.6 695.7h0M292.4 702.8h0M294.2 705.2h0M296.1 713.0h0M297.9 717.5h0M299.7 720.5h0M301.6 721.8h0M303.4 723.7h0M305.2 722.0h0M307.0 713.4h0M308.9 710.3h0M310.7 704.0h0M312.5 699.6h0M314.4 697.4h0M316.2 698.9h0M318.0 700.8h0M319.9 707.1h0M321.7 709.3h0M323.5 715.7h0M325.4 719.4h0M327.2 719.2h0M329.0 721.8h0M330.9 721.3h0M332.7 720.1h0M334.5 711.8h0M336.4 705.3h0M338.2 704.5h0M340.0 699.2h0M341.9 699.6h0M343.7 700.0h0M345.5 703.4h0M347.4 710.0h0M349.2 713.3h0M351.0 719.9h0M352.8 718.5h0M354.7 720.8h0M356.5 721.9h0M358.3 718.9h0M360.2 715.1h0M362.0 709.9h0M363.8 705.0h0M365.7 701.9h0M367.5 699.7h0M369.3 701.7h0M371.2 703.2h0M373.0 706.3h0M374.8 709.8h0M376.7 715.6h0M378.5 715.9h0M380.3 721.8h0M382.2 722.6h0M384.0 719.7h0M385.8 715.3h0M387.7 709.4h0M389.5 706.0h0M391.3 704.4h0M393.2 700.9h0M395.0 697.9h0M396.8 700.3h0M398.6 702.4h0M400.5 708.1h0M402.3 710.1h0M404.1 714.7h0M406.0 718.3h0M407.8 721.3h0M409.6 723.5h0M411.5 720.6h0M413.3 713.9h0M415.1 708.8h0M417.0 710.2h0M418.8 702.8h0M420.6 698.4h0M422.5 698.9h0M424.3 703.4h0M426.1 705.1h0M428.0 710.5h0M429.8 715.3h0M431.6 716.7h0M433.5 718.8h0M435.3 721.8h0M437.1 720.8h0M439.0 718.2h0M440.8 714.2h0M442.6 705.4h0M444.4 700.7h0M446.3 701.0h0M448.1 698.9h0M449.9 702.9h0M451.8 704.7h0M453.6 707.0h0M455.4 712.3h0M457.3 716.7h0M459.1 722.1h0M460.9 722.9h0M462.8 720.4h0M464.6 718.3h0M466.4 713.9h0M468.3 710.6h0M470.1 706.0h0M471.9 702.6h0M473.8 700.4h0M475.6 701.4h0M477.4 704.4h0M479.3 707.3h0M481.1 709.4h0M482.9 715.1h0M484.8 719.5h0M486.6 721.4h0M488.4 719.4h0M490.2 717.3h0M492.1 713.3h0M493.9 712.0h0M495.7 705.3h0M497.6 704.8h0M499.4 702.6h0M501.2 702.6h0M503.1 702.1h0M504.9 703.8h0M506.7 709.1h0M508.6 713.7h0M510.4 718.8h0M512.2 718.4h0M514.1 720.0h0M515.9 719.0h0M517.7 717.5h0M519.6 714.6h0M521.4 710.1h0M523.2 705.2h0M525.1 701.9h0M526.9 702.3h0M528.7 702.2h0M530.6 704.9h0M532.4 707.8h0M534.2 713.4h0M536.0 713.2h0M537.9 716.4h0M539.7 716.4h0M541.5 719.7h0M543.4 717.0h0M545.2 716.0h0M547.0 710.7h0M548.9 707.9h0M550.7 703.7h0M552.5 703.4h0M554.4 701.8h0M556.2 704.8h0M558.0 705.4h0M559.9 710.1h0M561.7 713.6h0M563.5 715.7h0M565.4 717.2h0M567.2 720.7h0M569.0 720.1h0M570.9 715.2h0M572.7 712.7h0M574.5 712.6h0M576.4 709.1h0M578.2 705.4h0M580.0 702.8h0M581.8 703.4h0M583.7 703.9h0M585.5 706.3h0M587.3 707.5h0M589.2 716.7h0M591.0 716.7h0M592.8 716.1h0M594.7 719.7h0M596.5 718.5h0M598.3 713.5h0M600.2 709.0h0M602.0 705.8h0M603.8 708.3h0M605.7 706.0h0M607.5 704.0h0M609.3 705.8h0M611.2 706.6h0M613.0 709.7h0M614.8 710.0h0M616.7 715.5h0M618.5 716.7h0M620.3 717.3h0M622.2 714.8h0M624.0 716.5h0M625.8 711.5h0M627.6 710.5h0M629.5 709.0h0M631.3 703.0h0M633.1 703.4h0M635.0 702.5h0M636.8 705.9h0M638.6 707.7h0M640.5 711.3h0M642.3 713.1h0M644.1 716.6h0M646.0 714.1h0M647.8 718.1h0M649.6 712.5h0M651.5 713.5h0M653.3 709.1h0M655.1 707.8h0M657.0 705.3h0M658.8 702.4h0M660.6 704.6h0M662.5 707.4h0M664.3 707.4h0M666.1 709.2h0M668.0 716.7h0M669.8 713.2h0M671.6 714.3h0M673.4 719.3h0M675.3 715.9h0M677.1 712.6h0M678.9 713.6h0M680.8 709.9h0M682.6 707.7h0M684.4 704.7h0M686.3 703.3h0M688.1 705.7h0M689.9 707.0h0M691.8 707.7h0M693.6 710.6h0M695.4 713.8h0M697.3 713.0h0M699.1 718.3h0M700.9 715.4h0M702.8 715.2h0M704.6 713.4h0M706.4 710.0h0M708.3 708.2h0M710.1 702.5h0M711.9 704.6h0M713.8 705.2h0M715.6 704.0h0M717.4 706.7h0M719.2 713.5h0M721.1 712.4h0M722.9 713.1h0M724.7 716.3h0M726.6 715.0h0M728.4 715.5h0M730.2 712.7h0M732.1 714.0h0M733.9 712.5h0M735.7 708.5h0M737.6 706.0h0M739.4 703.9h0M741.2 707.0h0M743.1 709.1h0M744.9 708.1h0M746.7 711.5h0M748.6 710.4h0M750.4 714.8h0M752.2 718.4h0M754.1 716.2h0M755.9 715.3h0M757.7 714.5h0M759.6 711.6h0M761.4 709.7h0M763.2 707.7h0M765.0 707.4h0M766.9 706.0h0M768.7 706.8h0M770.5 708.6h0M772.4 710.4h0M774.2 715.5h0M776.0 716.6h0M777.9 716.1h0M779.7 714.3h0M781.5 716.5h0M783.4 713.5h0M785.2 710.7h0M787.0 706.2h0M788.9 707.6h0M790.7 708.0h0M792.5 705.1h0M794.4 707.0h0M796.2 708.9h0M798.0 708.1h0M799.9 713.1h0M801.7 712.7h0M803.5 713.9h0M805.4 712.9h0M807.2 716.0h0M809.0 715.3h0M810.8 712.5h0M812.7 710.7h0M814.5 708.8h0M816.3 708.4h0M818.2 706.6h0M820.0 706.3h0M821.8 707.8h0M823.7 711.2h0M825.5 709.0h0M827.3 714.8h0M829.2 713.7h0M831.0 712.5h0M832.8 715.1h0M834.7 711.3h0M836.5 709.2h0M838.3 708.4h0M840.2 708.9h0M842.0 706.9h0M843.8 708.6h0M845.7 707.0h0M847.5 707.3h0M849.3 708.9h0M851.2 710.0h0M853.0 711.9h0M854.8 716.0h0M856.6 712.9h0M858.5 713.3h0M860.3 710.1h0M862.1 711.5h0M864.0 711.4h0M865.8 708.8h0M867.6 708.1h0M869.5 708.3h0M871.3 708.6h0M873.1 710.5h0M875.0 708.5h0M876.8 707.1h0M878.6 714.1h0M880.5 713.7h0M882.3 711.7h0M884.1 713.1h0M886.0 712.7h0M887.8 716.0h0M889.6 713.0h0M891.5 710.0h0M893.3 708.8h0M895.1 708.4h0M897.0 709.8h0M898.8 707.3h0M900.6 710.6h0M902.4 711.0h0M904.3 712.4h0M906.1 709.1h0M907.9 713.1h0M909.8 712.9h0M911.6 716.9h0M913.4 711.1h0M915.3 711.5h0M917.1 714.1h0M918.9 713.0h0M920.8 706.6h0M922.6 710.3h0M924.4 705.4h0M926.3 709.4h0M928.1 713.4h0M929.9 708.2h0M931.8 710.2h0M933.6 710.8h0M935.4 713.4h0M937.3 713.3h0M939.1 711.3h0M940.9 713.8h0M942.8 715.0h0M944.6 709.3h0M946.4 710.9h0M948.2 707.1h0M950.1 709.6h0M951.9 709.5h0M953.7 709.5h0M955.6 713.7h0M957.4 708.6h0M959.2 712.5h0M961.1 712.5h0M962.9 710.1h0M964.7 712.5h0M966.6 711.0h0M968.4 711.3h0" stroke="#6c63dd" stroke-width="3.2" stroke-linecap="round" fill="none"/>
<text x="712.6" y="688.9" font-size="13.2" fill="#1e1e1e" stroke="#1e1e1e" stroke-width="0.28"><tspan font-style="italic">B</tspan> = 1.0 mT</text>
<text x="797.4" y="688.9" font-size="13.2" fill="#1e1e1e" stroke="#1e1e1e" stroke-width="0.28"><tspan font-style="italic">T</tspan><tspan font-size="9" dy="3.4" dx="0.3">2</tspan><tspan font-size="9" dx="-5" dy="-8.2">*</tspan><tspan dy="4.8" dx="0.8"> = 697 ± 17 ns</tspan></text>
<path d="M52.4 751.4l1.4 0.3 1.3 0.8 1.4 1.4 1.4 1.6 1.4 2.0 1.3 2.2 1.4 2.3 1.4 2.2 1.4 2.1 1.3 1.8 1.4 1.4 1.4 0.9 1.4 0.5 1.3 -0.1 1.4 -0.6 1.4 -1.1 1.4 -1.5 1.3 -1.9 1.4 -2.1 1.4 -2.2 1.4 -2.3 1.3 -2.1 1.4 -1.9 1.4 -1.6 1.4 -1.2 1.3 -0.7 1.4 -0.2 1.4 0.3 1.3 0.9 1.4 1.3 1.4 1.7 1.4 2.0 1.3 2.2 1.4 2.2 1.4 2.2 1.4 2.1 1.3 1.7 1.4 1.4 1.4 1.0 1.4 0.4 1.3 -0.1 1.4 -0.5 1.4 -1.1 1.4 -1.5 1.3 -1.9 1.4 -2.1 1.4 -2.2 1.4 -2.3 1.3 -2.1 1.4 -1.9 1.4 -1.6 1.3 -1.2 1.4 -0.7 1.4 -0.2 1.4 0.4 1.3 0.8 1.4 1.3 1.4 1.7 1.4 2.0 1.3 2.2 1.4 2.2 1.4 2.2 1.4 2.1 1.3 1.7 1.4 1.4 1.4 0.9 1.4 0.5 1.3 -0.1 1.4 -0.6 1.4 -1.1 1.4 -1.5 1.3 -1.9 1.4 -2.0 1.4 -2.3 1.3 -2.2 1.4 -2.1 1.4 -1.9 1.4 -1.6 1.3 -1.1 1.4 -0.7 1.4 -0.2 1.4 0.4 1.3 0.8 1.4 1.3 1.4 1.7 1.4 2.0 1.3 2.1 1.4 2.3 1.4 2.1 1.4 2.0 1.3 1.8 1.4 1.3 1.4 0.9 1.4 0.5 1.3 -0.1 1.4 -0.6 1.4 -1.1 1.4 -1.5 1.3 -1.8 1.4 -2.1 1.4 -2.2 1.3 -2.2 1.4 -2.1 1.4 -1.9 1.4 -1.5 1.3 -1.1 1.4 -0.7 1.4 -0.2 1.4 0.4 1.3 0.8 1.4 1.3 1.4 1.7 1.4 1.9 1.3 2.2 1.4 2.2 1.4 2.1 1.4 2.0 1.3 1.7 1.4 1.3 1.4 0.9 1.4 0.5 1.3 -0.1 1.4 -0.6 1.4 -1.1 1.4 -1.5 1.3 -1.8 1.4 -2.0 1.4 -2.2 1.3 -2.2 1.4 -2.0 1.4 -1.9 1.4 -1.5 1.3 -1.1 1.4 -0.7 1.4 -0.1 1.4 0.3 1.3 0.9 1.4 1.2 1.4 1.7 1.4 1.9 1.3 2.1 1.4 2.2 1.4 2.1 1.4 1.9 1.3 1.7 1.4 1.3 1.4 0.9 1.4 0.4 1.3 -0.1 1.4 -0.6 1.4 -1.0 1.3 -1.5 1.4 -1.8 1.4 -2.0 1.4 -2.1 1.3 -2.2 1.4 -2.0 1.4 -1.8 1.4 -1.5 1.3 -1.1 1.4 -0.6 1.4 -0.2 1.4 0.4 1.3 0.8 1.4 1.3 1.4 1.6 1.4 1.9 1.3 2.0 1.4 2.2 1.4 2.0 1.4 2.0 1.3 1.6 1.4 1.3 1.4 0.8 1.3 0.4 1.4 -0.1 1.4 -0.6 1.4 -1.0 1.3 -1.4 1.4 -1.8 1.4 -2.0 1.4 -2.1 1.3 -2.0 1.4 -2.0 1.4 -1.8 1.4 -1.4 1.3 -1.1 1.4 -0.6 1.4 -0.2 1.4 0.4 1.3 0.8 1.4 1.2 1.4 1.6 1.4 1.9 1.3 2.0 1.4 2.1 1.4 2.0 1.4 1.9 1.3 1.6 1.4 1.2 1.4 0.8 1.3 0.4 1.4 -0.1 1.4 -0.6 1.4 -1.0 1.3 -1.4 1.4 -1.7 1.4 -1.9 1.4 -2.1 1.3 -2.0 1.4 -2.0 1.4 -1.7 1.4 -1.4 1.3 -1.0 1.4 -0.6 1.4 -0.1 1.4 0.3 1.3 0.8 1.4 1.2 1.4 1.6 1.4 1.8 1.3 1.9 1.4 2.1 1.4 1.9 1.4 1.9 1.3 1.5 1.4 1.2 1.4 0.8 1.3 0.4 1.4 -0.1 1.4 -0.6 1.4 -1.0 1.3 -1.4 1.4 -1.6 1.4 -1.9 1.4 -2.0 1.3 -2.0 1.4 -1.9 1.4 -1.6 1.4 -1.4 1.3 -1.0 1.4 -0.6 1.4 -0.1 1.4 0.3 1.3 0.8 1.4 1.2 1.4 1.5 1.4 1.8 1.3 1.9 1.4 2.0 1.4 1.9 1.3 1.7 1.4 1.5 1.4 1.2 1.4 0.8 1.3 0.3 1.4 -0.1 1.4 -0.5 1.4 -1.0 1.3 -1.3 1.4 -1.7 1.4 -1.8 1.4 -1.9 1.3 -1.9 1.4 -1.9 1.4 -1.6 1.4 -1.3 1.3 -1.0 1.4 -0.5 1.4 -0.1 1.4 0.3 1.3 0.8 1.4 1.1 1.4 1.5 1.3 1.7 1.4 1.8 1.4 1.9 1.4 1.9 1.3 1.7 1.4 1.5 1.4 1.1 1.4 0.7 1.3 0.4 1.4 -0.2 1.4 -0.5 1.4 -0.9 1.3 -1.3 1.4 -1.6 1.4 -1.8 1.4 -1.8 1.3 -1.9 1.4 -1.8 1.4 -1.5 1.4 -1.3 1.3 -0.9 1.4 -0.5 1.4 -0.2 1.4 0.4 1.3 0.7 1.4 1.1 1.4 1.4 1.3 1.7 1.4 1.8 1.4 1.8 1.4 1.8 1.3 1.7 1.4 1.4 1.4 1.0 1.4 0.8 1.3 0.3 1.4 -0.1 1.4 -0.6 1.4 -0.9 1.3 -1.2 1.4 -1.6 1.4 -1.7 1.4 -1.8 1.3 -1.8 1.4 -1.6 1.4 -1.5 1.4 -1.3 1.3 -0.9 1.4 -0.5 1.4 -0.1 1.4 0.4 1.3 0.7 1.4 1.1 1.4 1.3 1.3 1.6 1.4 1.7 1.4 1.8 1.4 1.7 1.3 1.6 1.4 1.3 1.4 1.1 1.4 0.7 1.3 0.3 1.4 -0.1 1.4 -0.6 1.4 -0.8 1.3 -1.3 1.4 -1.4 1.4 -1.7 1.4 -1.7 1.3 -1.7 1.4 -1.6 1.4 -1.5 1.4 -1.1 1.3 -0.9 1.4 -0.5 1.4 0.0 1.3 0.3 1.4 0.7 1.4 1.0 1.4 1.3 1.3 1.5 1.4 1.7 1.4 1.7 1.4 1.6 1.3 1.5 1.4 1.3 1.4 1.0 1.4 0.7 1.3 0.3 1.4 -0.2 1.4 -0.5 1.4 -0.8 1.3 -1.2 1.4 -1.4 1.4 -1.5 1.4 -1.7 1.3 -1.6 1.4 -1.6 1.4 -1.4 1.3 -1.1 1.4 -0.8 1.4 -0.4 1.4 -0.1 1.3 0.3 1.4 0.6 1.4 1.0 1.4 1.3 1.3 1.5 1.4 1.5 1.4 1.7 1.4 1.5 1.3 1.5 1.4 1.2 1.4 0.9 1.4 0.7 1.3 0.2 1.4 -0.1 1.4 -0.5 1.4 -0.8 1.3 -1.1 1.4 -1.3 1.4 -1.5 1.4 -1.6 1.3 -1.6 1.4 -1.5 1.4 -1.3 1.3 -1.0 1.4 -0.8 1.4 -0.4 1.4 -0.1 1.3 0.3 1.4 0.6 1.4 1.0 1.4 1.2 1.3 1.4 1.4 1.5 1.4 1.5 1.4 1.5 1.3 1.4 1.4 1.2 1.4 0.9 1.4 0.5 1.3 0.3 1.4 -0.1 1.4 -0.5 1.4 -0.8 1.3 -1.0 1.4 -1.3 1.4 -1.4 1.4 -1.5 1.3 -1.5 1.4 -1.4 1.4 -1.2 1.3 -1.1 1.4 -0.7 1.4 -0.4 1.4 -0.1 1.3 0.3 1.4 0.6 1.4 0.9 1.4 1.2 1.3 1.3 1.4 1.5 1.4 1.4 1.4 1.4 1.3 1.3 1.4 1.1 1.4 0.9 1.4 0.5 1.3 0.3 1.4 -0.2 1.4 -0.4 1.4 -0.7 1.3 -1.0 1.4 -1.3 1.4 -1.3 1.3 -1.4 1.4 -1.4 1.4 -1.4 1.4 -1.1 1.3 -1.0 1.4 -0.7 1.4 -0.4 1.4 0.0 1.3 0.3 1.4 0.5 1.4 0.9 1.4 1.1 1.3 1.2 1.4 1.4 1.4 1.4 1.4 1.3 1.3 1.3 1.4 1.0 1.4 0.8 1.4 0.5 1.3 0.2 1.4 -0.1 1.4 -0.4 1.3 -0.7 1.4 -1.0 1.4 -1.1 1.4 -1.3 1.3 -1.3 1.4 -1.4 1.4 -1.2 1.4 -1.1 1.3 -0.9 1.4 -0.7 1.4 -0.3 1.4 -0.1 1.3 0.3 1.4 0.5 1.4 0.9 1.4 1.0 1.3 1.2 1.4 1.2 1.4 1.4 1.4 1.2 1.3 1.2 1.4 0.9 1.4 0.8 1.4 0.5 1.3 0.2 1.4 -0.1 1.4 -0.4 1.3 -0.7 1.4 -0.9 1.4 -1.1 1.4 -1.2 1.3 -1.2 1.4 -1.3 1.4 -1.2 1.4 -1.0 1.3 -0.9 1.4 -0.6 1.4 -0.3 1.4 0.0 1.3 0.2 1.4 0.5 1.4 0.8 1.4 1.0 1.3 1.1 1.4 1.2 1.4 1.2 1.4 1.2 1.3 1.1 1.4 0.9 1.4 0.7 1.4 0.5 1.3 0.1 1.4 -0.1 1.4 -0.3 1.3 -0.7 1.4 -0.8 1.4 -1.0 1.4 -1.2 1.3 -1.2 1.4 -1.1 1.4 -1.1 1.4 -1.0 1.3 -0.8 1.4 -0.6 1.4 -0.3 1.4 0.0 1.3 0.2 1.4 0.5 1.4 0.8 1.4 0.9 1.3 1.0 1.4 1.1 1.4 1.2 1.4 1.1 1.3 1.0 1.4 0.9 1.4 0.6 1.3 0.4 1.4 0.2 1.4 -0.1 1.4 -0.3 1.3 -0.6 1.4 -0.8 1.4 -1.0 1.4 -1.0 1.3 -1.2 1.4 -1.1 1.4 -1.0 1.4 -0.9 1.3 -0.7 1.4 -0.6 1.4 -0.2 1.4 -0.1 1.3 0.3 1.4 0.4 1.4 0.7 1.4 0.8 1.3 1.0 1.4 1.1 1.4 1.1 1.3 1.0 1.4 0.9 1.4 0.8 1.4 0.6 1.3 0.4 1.4 0.2 1.4 -0.1 1.4 -0.3 1.3 -0.6 1.4 -0.7 1.4 -0.9 1.4 -1.0 1.3 -1.1 1.4 -1.0 1.4 -0.9 1.4 -0.9 1.3 -0.7 1.4 -0.5 1.4 -0.2 1.4 0.0 1.3 0.2 1.4 0.4 1.4 0.6 1.4 0.8 1.3 0.9 1.4 1.0 1.4 1.0 1.3 1.0 1.4 0.9 1.4 0.7 1.4 0.6 1.3 0.3 1.4 0.2 1.4 -0.1 1.4 -0.3 1.3 -0.6 1.4 -0.7 1.4 -0.8 1.4 -0.9 1.3 -1.0 1.4 -0.9 1.4 -0.9 1.4 -0.8 1.3 -0.6 1.4 -0.5 1.4 -0.2 1.4 0.0 1.3 0.2 1.4 0.4 1.4 0.6 1.4 0.7 1.3 0.8 1.4 1.0 1.4 0.9 1.3 0.9 1.4 0.8 1.4 0.7 1.4 0.5 1.3 0.3 1.4 0.2 1.4 -0.1 1.4 -0.3 1.3 -0.5 1.4 -0.7 1.4 -0.7 1.4 -0.9 1.3 -0.9 1.4 -0.8 1.4 -0.9 1.4 -0.7 1.3 -0.6 1.4 -0.4 1.4 -0.2 1.4 0.0 1.3 0.2 1.4 0.3 1.4 0.6 1.3 0.7 1.4 0.8 1.4 0.8 1.4 0.9 1.3 0.8 1.4 0.7 1.4 0.7 1.4 0.4 1.3 0.3 1.4 0.2 1.4 -0.1 1.4 -0.3 1.3 -0.4 1.4 -0.6 1.4 -0.8" fill="none" stroke="#000" stroke-width="1.5"/>
<path d="M52.4 750.1h0M54.2 751.5h0M56.1 751.5h0M57.9 755.9h0M59.7 757.5h0M61.6 762.5h0M63.4 762.3h0M65.2 770.6h0M67.1 768.7h0M68.9 769.8h0M70.7 770.3h0M72.6 770.5h0M74.4 766.9h0M76.2 763.5h0M78.0 765.4h0M79.9 764.6h0M81.7 760.2h0M83.5 757.0h0M85.4 753.7h0M87.2 752.1h0M89.0 749.6h0M90.9 752.5h0M92.7 753.0h0M94.5 754.8h0M96.4 759.1h0M98.2 761.1h0M100.0 758.9h0M101.9 766.5h0M103.7 770.2h0M105.5 773.8h0M107.4 769.1h0M109.2 771.2h0M111.0 770.6h0M112.9 763.5h0M114.7 762.6h0M116.5 765.0h0M118.4 759.7h0M120.2 754.7h0M122.0 752.6h0M123.8 754.2h0M125.7 748.5h0M127.5 748.5h0M129.3 754.5h0M131.2 757.4h0M133.0 759.3h0M134.8 758.7h0M136.7 761.0h0M138.5 765.3h0M140.3 769.0h0M142.2 769.9h0M144.0 769.8h0M145.8 772.7h0M147.7 772.6h0M149.5 768.2h0M151.3 763.6h0M153.2 762.5h0M155.0 759.6h0M156.8 758.2h0M158.7 753.0h0M160.5 755.6h0M162.3 751.8h0M164.2 752.6h0M166.0 752.7h0M167.8 755.6h0M169.6 755.1h0M171.5 759.3h0M173.3 763.1h0M175.1 764.1h0M177.0 767.6h0M178.8 770.3h0M180.6 771.5h0M182.5 769.4h0M184.3 771.6h0M186.1 768.9h0M188.0 766.7h0M189.8 763.0h0M191.6 761.0h0M193.5 754.1h0M195.3 758.1h0M197.1 752.2h0M199.0 752.1h0M200.8 749.8h0M202.6 755.0h0M204.5 751.7h0M206.3 758.2h0M208.1 757.3h0M210.0 760.5h0M211.8 764.2h0M213.6 768.1h0M215.4 770.3h0M217.3 770.0h0M219.1 771.9h0M220.9 773.4h0M222.8 771.9h0M224.6 765.5h0M226.4 762.8h0M228.3 760.5h0M230.1 758.4h0M231.9 755.2h0M233.8 752.9h0M235.6 751.9h0M237.4 753.1h0M239.3 753.4h0M241.1 755.3h0M242.9 755.1h0M244.8 759.5h0M246.6 760.9h0M248.4 761.3h0M250.3 766.8h0M252.1 766.7h0M253.9 767.2h0M255.8 773.5h0M257.6 772.6h0M259.4 768.3h0M261.2 768.4h0M263.1 763.9h0M264.9 760.8h0M266.7 760.0h0M268.6 755.1h0M270.4 751.4h0M272.2 751.1h0M274.1 753.5h0M275.9 752.4h0M277.7 754.0h0M279.6 752.3h0M281.4 757.6h0M283.2 761.1h0M285.1 762.7h0M286.9 764.6h0M288.7 768.3h0M290.6 769.1h0M292.4 770.1h0M294.2 768.9h0M296.1 767.6h0M297.9 767.1h0M299.7 766.1h0M301.6 761.9h0M303.4 761.3h0M305.2 755.4h0M307.0 754.3h0M308.9 752.8h0M310.7 756.3h0M312.5 748.2h0M314.4 750.5h0M316.2 752.4h0M318.0 756.5h0M319.9 758.1h0M321.7 757.2h0M323.5 765.8h0M325.4 765.8h0M327.2 767.7h0M329.0 769.5h0M330.9 769.3h0M332.7 770.9h0M334.5 766.7h0M336.4 767.9h0M338.2 760.1h0M340.0 759.1h0M341.9 759.2h0M343.7 758.9h0M345.5 753.5h0M347.4 751.7h0M349.2 753.9h0M351.0 750.0h0M352.8 753.7h0M354.7 756.9h0M356.5 760.9h0M358.3 761.5h0M360.2 764.2h0M362.0 765.2h0M363.8 766.4h0M365.7 769.2h0M367.5 768.9h0M369.3 766.8h0M371.2 766.9h0M373.0 766.5h0M374.8 762.7h0M376.7 761.9h0M378.5 757.7h0M380.3 756.0h0M382.2 756.0h0M384.0 751.9h0M385.8 752.3h0M387.7 751.6h0M389.5 756.2h0M391.3 753.9h0M393.2 756.1h0M395.0 761.2h0M396.8 763.4h0M398.6 765.5h0M400.5 767.6h0M402.3 767.5h0M404.1 770.6h0M406.0 771.1h0M407.8 768.6h0M409.6 763.3h0M411.5 764.9h0M413.3 763.4h0M415.1 760.7h0M417.0 756.5h0M418.8 752.8h0M420.6 754.7h0M422.5 752.5h0M424.3 752.6h0M426.1 753.1h0M428.0 755.2h0M429.8 755.9h0M431.6 758.9h0M433.5 763.6h0M435.3 760.9h0M437.1 769.3h0M439.0 770.6h0M440.8 767.4h0M442.6 768.8h0M444.4 768.7h0M446.3 766.4h0M448.1 763.6h0M449.9 763.1h0M451.8 760.9h0M453.6 759.2h0M455.4 756.9h0M457.3 755.3h0M459.1 751.3h0M460.9 752.7h0M462.8 753.0h0M464.6 756.2h0M466.4 755.5h0M468.3 762.1h0M470.1 761.2h0M471.9 763.2h0M473.8 767.3h0M475.6 769.6h0M477.4 767.9h0M479.3 770.1h0M481.1 769.8h0M482.9 767.0h0M484.8 767.0h0M486.6 763.1h0M488.4 757.1h0M490.2 758.9h0M492.1 754.6h0M493.9 756.3h0M495.7 753.5h0M497.6 753.9h0M499.4 754.2h0M501.2 753.9h0M503.1 753.3h0M504.9 759.3h0M506.7 759.2h0M508.6 763.1h0M510.4 764.5h0M512.2 768.1h0M514.1 769.5h0M515.9 769.0h0M517.7 769.5h0M519.6 767.1h0M521.4 767.2h0M523.2 763.4h0M525.1 760.8h0M526.9 755.8h0M528.7 753.9h0M530.6 754.3h0M532.4 754.9h0M534.2 752.7h0M536.0 752.7h0M537.9 755.4h0M539.7 758.0h0M541.5 761.6h0M543.4 760.9h0M545.2 759.9h0M547.0 765.5h0M548.9 766.1h0M550.7 767.3h0M552.5 767.5h0M554.4 766.8h0M556.2 770.5h0M558.0 765.9h0M559.9 763.2h0M561.7 761.8h0M563.5 757.4h0M565.4 758.0h0M567.2 754.2h0M569.0 751.6h0M570.9 754.5h0M572.7 754.1h0M574.5 755.5h0M576.4 755.1h0M578.2 761.8h0M580.0 762.7h0M581.8 762.9h0M583.7 763.0h0M585.5 765.1h0M587.3 768.7h0M589.2 765.2h0M591.0 767.7h0M592.8 768.2h0M594.7 765.0h0M596.5 761.9h0M598.3 762.2h0M600.2 762.5h0M602.0 758.9h0M603.8 756.1h0M605.7 753.5h0M607.5 756.1h0M609.3 754.0h0M611.2 757.0h0M613.0 756.1h0M614.8 760.1h0M616.7 760.6h0M618.5 764.4h0M620.3 765.5h0M622.2 768.2h0M624.0 770.1h0M625.8 765.4h0M627.6 765.6h0M629.5 766.2h0M631.3 766.5h0M633.1 761.9h0M635.0 763.0h0M636.8 759.8h0M638.6 756.6h0M640.5 756.5h0M642.3 753.1h0M644.1 755.1h0M646.0 754.9h0M647.8 754.9h0M649.6 758.0h0M651.5 759.4h0M653.3 758.1h0M655.1 764.2h0M657.0 761.3h0M658.8 764.5h0M660.6 764.2h0M662.5 765.7h0M664.3 766.2h0M666.1 764.0h0M668.0 766.1h0M669.8 764.7h0M671.6 760.9h0M673.4 762.1h0M675.3 757.2h0M677.1 756.3h0M678.9 756.9h0M680.8 757.4h0M682.6 758.3h0M684.4 752.1h0M686.3 758.6h0M688.1 759.4h0M689.9 757.6h0M691.8 760.1h0M693.6 762.3h0M695.4 764.2h0M697.3 766.4h0M699.1 768.1h0M700.9 768.2h0M702.8 765.7h0M704.6 764.2h0M706.4 762.8h0M708.3 763.2h0M710.1 765.2h0M711.9 758.8h0M713.8 758.3h0M715.6 761.2h0M717.4 753.4h0M719.2 755.0h0M721.1 755.6h0M722.9 755.8h0M724.7 757.1h0M726.6 758.4h0M728.4 760.3h0M730.2 762.2h0M732.1 762.8h0M733.9 764.6h0M735.7 762.0h0M737.6 766.3h0M739.4 767.3h0M741.2 766.9h0M743.1 764.2h0M744.9 763.2h0M746.7 761.4h0M748.6 760.4h0M750.4 758.8h0M752.2 755.9h0M754.1 753.9h0M755.9 755.1h0M757.7 755.9h0M759.6 758.2h0M761.4 759.1h0M763.2 758.4h0M765.0 760.5h0M766.9 761.9h0M768.7 765.1h0M770.5 764.8h0M772.4 768.9h0M774.2 768.2h0M776.0 767.5h0M777.9 764.8h0M779.7 765.9h0M781.5 765.2h0M783.4 761.7h0M785.2 760.8h0M787.0 757.5h0M788.9 757.2h0M790.7 756.4h0M792.5 756.5h0M794.4 755.0h0M796.2 757.7h0M798.0 759.8h0M799.9 756.9h0M801.7 760.7h0M803.5 761.3h0M805.4 761.8h0M807.2 762.5h0M809.0 770.1h0M810.8 767.6h0M812.7 763.9h0M814.5 768.6h0M816.3 764.2h0M818.2 764.5h0M820.0 764.0h0M821.8 761.3h0M823.7 762.4h0M825.5 757.6h0M827.3 755.3h0M829.2 759.0h0M831.0 757.5h0M832.8 754.6h0M834.7 756.7h0M836.5 758.9h0M838.3 757.2h0M840.2 763.9h0M842.0 762.9h0M843.8 763.6h0M845.7 765.3h0M847.5 764.1h0M849.3 768.5h0M851.2 765.4h0M853.0 766.2h0M854.8 761.9h0M856.6 761.0h0M858.5 762.6h0M860.3 761.9h0M862.1 758.8h0M864.0 759.2h0M865.8 758.0h0M867.6 756.0h0M869.5 757.7h0M871.3 754.4h0M873.1 758.2h0M875.0 760.3h0M876.8 762.6h0M878.6 762.9h0M880.5 761.4h0M882.3 763.4h0M884.1 762.6h0M886.0 763.2h0M887.8 764.4h0M889.6 766.0h0M891.5 764.3h0M893.3 762.8h0M895.1 764.5h0M897.0 759.9h0M898.8 761.0h0M900.6 758.3h0M902.4 758.3h0M904.3 756.1h0M906.1 752.7h0M907.9 759.5h0M909.8 758.3h0M911.6 755.8h0M913.4 762.0h0M915.3 762.1h0M917.1 763.1h0M918.9 763.4h0M920.8 767.3h0M922.6 764.5h0M924.4 764.0h0M926.3 760.4h0M928.1 764.1h0M929.9 764.0h0M931.8 761.7h0M933.6 765.1h0M935.4 759.0h0M937.3 756.0h0M939.1 757.9h0M940.9 757.5h0M942.8 757.8h0M944.6 757.4h0M946.4 760.4h0M948.2 756.6h0M950.1 761.0h0M951.9 762.1h0M953.7 759.7h0M955.6 763.4h0M957.4 764.9h0M959.2 761.8h0M961.1 764.4h0M962.9 762.9h0M964.7 764.9h0M966.6 766.1h0M968.4 761.8h0" stroke="#6c63dd" stroke-width="3.2" stroke-linecap="round" fill="none"/>
<text x="712.6" y="747.8" font-size="13.2" fill="#1e1e1e" stroke="#1e1e1e" stroke-width="0.28"><tspan font-style="italic">B</tspan> = 0.5 mT</text>
<text x="797.4" y="747.8" font-size="13.2" fill="#1e1e1e" stroke="#1e1e1e" stroke-width="0.28"><tspan font-style="italic">T</tspan><tspan font-size="9" dy="3.4" dx="0.3">2</tspan><tspan font-size="9" dx="-5" dy="-8.2">*</tspan><tspan dy="4.8" dx="0.8"> = 996 ± 32 ns</tspan></text>
<defs><filter id="hb" x="-0.05" y="-0.05" width="1.1" height="1.1"><feGaussianBlur stdDeviation="0.65"/></filter>
<linearGradient id="cbar" x1="0" x2="1" y1="0" y2="0">
<stop offset="0.00" stop-color="#053061"/>
<stop offset="0.10" stop-color="#2166ac"/>
<stop offset="0.20" stop-color="#4393c3"/>
<stop offset="0.30" stop-color="#92c5de"/>
<stop offset="0.40" stop-color="#d1e5f0"/>
<stop offset="0.50" stop-color="#f7f7f7"/>
<stop offset="0.60" stop-color="#fddbc7"/>
<stop offset="0.70" stop-color="#f4a582"/>
<stop offset="0.80" stop-color="#d6604d"/>
<stop offset="0.90" stop-color="#b2182b"/>
<stop offset="1.00" stop-color="#67001f"/>
</linearGradient><clipPath id="hc"><rect x="384.1" y="58.0" width="303.6" height="225.4"/></clipPath></defs>
<g clip-path="url(#hc)"><g filter="url(#hb)"><g transform="translate(384.16,56.32) scale(3.0200,1.8160)" shape-rendering="crispEdges">
<path fill="#053061" d="M48 124h2v1h-2z"/>
<path fill="#0b3b71" d="M53 123h1v1h-1zM49 118h1v1h-1z"/>
<path fill="#114680" d="M48 123h2v1h-2zM48 122h1v1h-1zM54 122h1v1h-1zM48 121h1v1h-1zM54 120h1v1h-1z"/>
<path fill="#165290" d="M54 124h1v1h-1zM49 122h1v1h-1zM49 121h1v1h-1zM53 121h1v1h-1zM49 120h1v1h-1zM49 119h1v1h-1zM54 119h1v1h-1zM53 117h1v1h-1z"/>
<path fill="#1c5da0" d="M54 123h1v1h-1zM53 122h1v1h-1zM53 120h1v1h-1zM48 119h1v1h-1zM48 118h1v1h-1zM54 118h1v1h-1zM48 117h2v1h-2z"/>
<path fill="#2268ad" d="M54 121h1v1h-1zM53 118h1v1h-1z"/>
<path fill="#2a71b2" d="M53 124h1v1h-1zM48 120h1v1h-1zM53 119h1v1h-1zM54 117h1v1h-1z"/>
<path fill="#7bb6d6" d="M58 123h1v1h-1zM75 123h1v1h-1z"/>
<path fill="#8bc1dc" d="M63 124h1v1h-1zM41 123h1v1h-1zM61 123h1v1h-1zM56 121h1v1h-1zM60 121h1v1h-1zM65 121h1v1h-1z"/>
<path fill="#9ac9e0" d="M37 124h1v1h-1zM67 124h1v1h-1zM67 123h1v1h-1zM72 123h1v1h-1zM40 122h1v1h-1zM42 122h1v1h-1zM44 122h1v1h-1zM52 122h1v1h-1zM56 122h1v1h-1zM76 122h2v1h-2zM28 121h1v1h-1zM42 121h1v1h-1zM44 121h1v1h-1zM46 121h1v1h-1zM63 121h1v1h-1zM32 120h1v1h-1zM40 120h1v1h-1z"/>
<path fill="#a7d0e4" d="M31 124h1v1h-1zM43 124h1v1h-1zM55 124h1v1h-1zM57 124h1v1h-1zM66 124h1v1h-1zM35 123h1v1h-1zM43 123h2v1h-2zM52 123h1v1h-1zM62 123h1v1h-1zM70 123h2v1h-2zM36 122h2v1h-2zM55 122h1v1h-1zM58 122h1v1h-1zM67 122h1v1h-1zM70 122h1v1h-1zM72 122h1v1h-1zM78 122h1v1h-1zM24 121h1v1h-1zM39 121h1v1h-1zM47 121h1v1h-1zM52 121h1v1h-1zM58 121h1v1h-1zM73 121h1v1h-1zM82 121h1v1h-1zM30 120h2v1h-2zM41 120h1v1h-1zM43 120h1v1h-1zM55 120h1v1h-1zM70 120h1v1h-1zM81 120h2v1h-2z"/>
<path fill="#b4d6e8" d="M38 124h3v1h-3zM46 124h2v1h-2zM56 124h1v1h-1zM61 124h1v1h-1zM64 124h1v1h-1zM73 124h1v1h-1zM77 124h1v1h-1zM81 124h1v1h-1zM26 123h1v1h-1zM28 123h1v1h-1zM30 123h1v1h-1zM37 123h1v1h-1zM46 123h1v1h-1zM64 123h1v1h-1zM74 123h1v1h-1zM21 122h2v1h-2zM24 122h1v1h-1zM41 122h1v1h-1zM47 122h1v1h-1zM73 122h1v1h-1zM23 121h1v1h-1zM30 121h1v1h-1zM38 121h1v1h-1zM45 121h1v1h-1zM57 121h1v1h-1zM61 121h1v1h-1zM74 121h1v1h-1zM76 121h2v1h-2zM23 120h1v1h-1zM45 120h1v1h-1zM58 120h1v1h-1zM74 120h1v1h-1zM76 120h2v1h-2zM42 94h1v1h-1zM42 90h1v1h-1z"/>
<path fill="#c1ddec" d="M24 124h1v1h-1zM28 124h1v1h-1zM32 124h1v1h-1zM41 124h1v1h-1zM44 124h2v1h-2zM72 124h1v1h-1zM75 124h1v1h-1zM80 124h1v1h-1zM29 123h1v1h-1zM31 123h2v1h-2zM36 123h1v1h-1zM57 123h1v1h-1zM60 123h1v1h-1zM80 123h1v1h-1zM23 122h1v1h-1zM38 122h1v1h-1zM46 122h1v1h-1zM61 122h1v1h-1zM64 122h1v1h-1zM66 122h1v1h-1zM68 122h1v1h-1zM34 121h1v1h-1zM40 121h1v1h-1zM59 121h1v1h-1zM62 121h1v1h-1zM64 121h1v1h-1zM66 121h1v1h-1zM68 121h3v1h-3zM79 121h1v1h-1zM81 121h1v1h-1zM22 120h1v1h-1zM34 120h1v1h-1zM36 120h1v1h-1zM38 120h1v1h-1zM46 120h1v1h-1zM57 120h1v1h-1zM67 120h1v1h-1zM80 120h1v1h-1zM65 97h1v1h-1zM42 93h1v1h-1zM64 92h1v1h-1zM43 91h1v1h-1zM43 90h1v1h-1zM45 88h1v1h-1zM45 87h1v1h-1zM60 85h1v1h-1zM42 57h1v1h-1zM43 54h1v1h-1zM45 46h1v1h-1zM45 45h1v1h-1zM61 45h1v1h-1z"/>
<path fill="#cee4ef" d="M29 124h2v1h-2zM33 124h1v1h-1zM35 124h1v1h-1zM42 124h1v1h-1zM58 124h2v1h-2zM71 124h1v1h-1zM78 124h2v1h-2zM23 123h1v1h-1zM34 123h1v1h-1zM59 123h1v1h-1zM73 123h1v1h-1zM76 123h1v1h-1zM25 122h1v1h-1zM27 122h1v1h-1zM33 122h1v1h-1zM35 122h1v1h-1zM39 122h1v1h-1zM45 122h1v1h-1zM60 122h1v1h-1zM63 122h1v1h-1zM79 122h2v1h-2zM16 121h1v1h-1zM21 121h2v1h-2zM32 121h1v1h-1zM71 121h2v1h-2zM75 121h1v1h-1zM78 121h1v1h-1zM27 120h1v1h-1zM33 120h1v1h-1zM37 120h1v1h-1zM64 120h3v1h-3zM68 120h1v1h-1zM73 120h1v1h-1zM75 120h1v1h-1zM79 120h1v1h-1zM37 100h1v1h-1zM39 96h2v1h-2zM39 95h1v1h-1zM40 93h1v1h-1zM43 93h1v1h-1zM65 93h1v1h-1zM42 92h2v1h-2zM43 89h1v1h-1zM61 87h1v1h-1zM31 86h1v1h-1zM45 86h1v1h-1zM31 85h1v1h-1zM44 85h1v1h-1zM46 82h1v1h-1zM47 81h1v1h-1zM71 81h1v1h-1zM66 68h1v1h-1zM42 60h1v1h-1zM42 59h1v1h-1zM42 58h1v1h-1zM42 56h1v1h-1zM43 55h1v1h-1zM62 52h1v1h-1zM45 44h1v1h-1zM59 39h1v1h-1zM47 37h1v1h-1zM71 36h1v1h-1zM71 33h1v1h-1zM47 32h1v1h-1zM31 27h1v1h-1zM43 20h1v1h-1zM43 19h1v1h-1zM43 18h1v1h-1zM45 4h1v1h-1z"/>
<path fill="#d7e8f1" d="M21 124h1v1h-1zM23 124h1v1h-1zM27 124h1v1h-1zM34 124h1v1h-1zM36 124h1v1h-1zM52 124h1v1h-1zM60 124h1v1h-1zM68 124h2v1h-2zM82 124h1v1h-1zM25 123h1v1h-1zM27 123h1v1h-1zM40 123h1v1h-1zM42 123h1v1h-1zM47 123h1v1h-1zM65 123h1v1h-1zM81 123h1v1h-1zM31 122h1v1h-1zM62 122h1v1h-1zM69 122h1v1h-1zM75 122h1v1h-1zM81 122h2v1h-2zM11 121h1v1h-1zM31 121h1v1h-1zM36 121h1v1h-1zM94 121h1v1h-1zM5 120h1v1h-1zM21 120h1v1h-1zM35 120h1v1h-1zM56 120h1v1h-1zM61 120h1v1h-1zM63 120h1v1h-1zM69 120h1v1h-1zM71 120h1v1h-1zM78 120h1v1h-1zM30 107h1v1h-1zM32 106h1v1h-1zM73 105h1v1h-1zM72 104h2v1h-2zM34 103h1v1h-1zM71 103h1v1h-1zM35 102h1v1h-1zM35 101h1v1h-1zM35 100h2v1h-2zM66 98h1v1h-1zM66 97h2v1h-2zM64 95h1v1h-1zM64 93h1v1h-1zM61 90h1v1h-1zM30 89h1v1h-1zM44 89h1v1h-1zM61 89h2v1h-2zM30 88h1v1h-1zM43 88h1v1h-1zM61 88h1v1h-1zM30 87h2v1h-2zM43 87h1v1h-1zM60 87h1v1h-1zM60 86h1v1h-1zM32 85h1v1h-1zM61 85h1v1h-1zM32 84h1v1h-1zM45 84h1v1h-1zM59 84h1v1h-1zM32 83h1v1h-1zM45 83h2v1h-2zM45 82h1v1h-1zM59 82h1v1h-1zM59 81h2v1h-2zM71 80h1v1h-1zM59 79h1v1h-1zM36 78h1v1h-1zM36 76h1v1h-1zM36 75h1v1h-1zM68 74h1v1h-1zM67 73h1v1h-1zM38 70h1v1h-1zM30 69h1v1h-1zM66 66h1v1h-1zM31 65h1v1h-1zM40 64h1v1h-1zM65 64h1v1h-1zM73 63h1v1h-1zM41 61h1v1h-1zM34 59h1v1h-1zM63 57h1v1h-1zM71 57h1v1h-1zM62 54h1v1h-1zM43 52h1v1h-1zM62 51h1v1h-1zM44 50h1v1h-1zM44 48h1v1h-1zM61 48h1v1h-1zM45 47h1v1h-1zM61 46h1v1h-1zM45 43h1v1h-1zM73 43h1v1h-1zM52 42h1v1h-1zM73 42h1v1h-1zM48 41h1v1h-1zM60 41h1v1h-1zM66 38h1v1h-1zM66 37h1v1h-1zM47 36h1v1h-1zM65 33h1v1h-1zM30 32h1v1h-1zM41 30h1v1h-1zM41 29h1v1h-1zM37 24h1v1h-1zM42 23h1v1h-1zM43 21h1v1h-1zM73 21h1v1h-1zM43 17h1v1h-1zM72 17h1v1h-1zM34 15h1v1h-1zM43 14h1v1h-1zM30 13h1v1h-1zM44 12h1v1h-1zM61 10h1v1h-1zM45 6h1v1h-1zM45 3h1v1h-1zM52 0h1v1h-1z"/>
<path fill="#dfecf3" d="M22 124h1v1h-1zM26 124h1v1h-1zM62 124h1v1h-1zM70 124h1v1h-1zM74 124h1v1h-1zM8 123h1v1h-1zM21 123h2v1h-2zM24 123h1v1h-1zM38 123h2v1h-2zM63 123h1v1h-1zM68 123h2v1h-2zM77 123h1v1h-1zM79 123h1v1h-1zM82 123h1v1h-1zM2 122h1v1h-1zM17 122h1v1h-1zM26 122h1v1h-1zM29 122h1v1h-1zM34 122h1v1h-1zM57 122h1v1h-1zM59 122h1v1h-1zM74 122h1v1h-1zM83 122h1v1h-1zM25 121h3v1h-3zM37 121h1v1h-1zM43 121h1v1h-1zM67 121h1v1h-1zM80 121h1v1h-1zM25 120h1v1h-1zM29 120h1v1h-1zM42 120h1v1h-1zM60 120h1v1h-1zM62 120h1v1h-1zM72 120h1v1h-1zM48 111h1v1h-1zM80 110h1v1h-1zM52 109h1v1h-1zM78 109h1v1h-1zM29 108h1v1h-1zM31 107h1v1h-1zM31 106h1v1h-1zM72 106h2v1h-2zM31 105h1v1h-1zM52 105h1v1h-1zM33 104h2v1h-2zM71 104h1v1h-1zM52 103h1v1h-1zM72 103h2v1h-2zM34 102h1v1h-1zM36 102h1v1h-1zM36 101h2v1h-2zM71 101h1v1h-1zM52 100h1v1h-1zM52 99h1v1h-1zM66 99h1v1h-1zM68 99h1v1h-1zM39 98h1v1h-1zM65 98h1v1h-1zM67 98h1v1h-1zM40 97h1v1h-1zM65 96h3v1h-3zM41 95h1v1h-1zM65 95h2v1h-2zM40 94h1v1h-1zM65 94h1v1h-1zM41 93h1v1h-1zM41 92h1v1h-1zM42 91h1v1h-1zM44 91h1v1h-1zM63 91h1v1h-1zM30 90h1v1h-1zM63 90h1v1h-1zM31 89h1v1h-1zM42 89h1v1h-1zM45 89h1v1h-1zM63 89h1v1h-1zM31 88h1v1h-1zM42 88h1v1h-1zM62 88h1v1h-1zM46 87h1v1h-1zM62 87h1v1h-1zM43 86h1v1h-1zM45 85h1v1h-1zM59 85h1v1h-1zM73 85h1v1h-1zM44 84h1v1h-1zM46 84h1v1h-1zM60 84h2v1h-2zM72 84h2v1h-2zM34 83h1v1h-1zM47 83h1v1h-1zM52 83h1v1h-1zM59 83h2v1h-2zM72 83h2v1h-2zM34 82h1v1h-1zM47 82h1v1h-1zM60 82h2v1h-2zM71 82h1v1h-1zM73 82h1v1h-1zM24 81h1v1h-1zM46 81h1v1h-1zM58 81h1v1h-1zM72 81h1v1h-1zM82 81h1v1h-1zM58 80h2v1h-2zM46 79h1v1h-1zM58 79h1v1h-1zM71 78h1v1h-1zM36 77h1v1h-1zM47 77h1v1h-1zM52 75h1v1h-1zM68 75h1v1h-1zM38 71h1v1h-1zM67 71h1v1h-1zM66 69h2v1h-2zM31 67h1v1h-1zM52 67h1v1h-1zM66 67h1v1h-1zM31 66h1v1h-1zM65 66h1v1h-1zM32 65h1v1h-1zM65 65h1v1h-1zM73 65h1v1h-1zM32 64h1v1h-1zM65 63h1v1h-1zM42 62h1v1h-1zM72 62h1v1h-1zM34 61h1v1h-1zM42 61h1v1h-1zM65 61h1v1h-1zM71 59h1v1h-1zM34 58h1v1h-1zM71 58h1v1h-1zM43 57h1v1h-1zM52 57h1v1h-1zM43 56h1v1h-1zM21 55h1v1h-1zM42 55h1v1h-1zM71 55h1v1h-1zM36 54h1v1h-1zM48 54h1v1h-1zM52 54h1v1h-1zM63 54h1v1h-1zM29 53h1v1h-1zM36 53h1v1h-1zM43 53h1v1h-1zM29 52h1v1h-1zM36 52h1v1h-1zM30 51h1v1h-1zM44 51h1v1h-1zM61 50h2v1h-2zM30 49h1v1h-1zM43 49h3v1h-3zM52 49h1v1h-1zM37 48h1v1h-1zM60 48h1v1h-1zM68 48h1v1h-1zM31 47h1v1h-1zM44 47h1v1h-1zM61 47h1v1h-1zM68 47h1v1h-1zM31 46h1v1h-1zM44 45h1v1h-1zM60 45h1v1h-1zM32 44h1v1h-1zM60 44h1v1h-1zM32 43h1v1h-1zM60 43h1v1h-1zM45 42h1v1h-1zM39 41h1v1h-1zM46 39h1v1h-1zM72 39h1v1h-1zM72 38h1v1h-1zM34 36h1v1h-1zM40 36h1v1h-1zM65 36h1v1h-1zM34 35h1v1h-1zM47 35h1v1h-1zM71 35h1v1h-1zM47 34h1v1h-1zM52 34h1v1h-1zM65 34h1v1h-1zM40 33h1v1h-1zM52 33h1v1h-1zM71 32h1v1h-1zM65 31h1v1h-1zM65 30h1v1h-1zM31 29h1v1h-1zM36 29h1v1h-1zM31 28h1v1h-1zM36 28h1v1h-1zM42 26h1v1h-1zM69 26h1v1h-1zM42 25h1v1h-1zM37 23h1v1h-1zM78 23h1v1h-1zM42 22h1v1h-1zM63 22h1v1h-1zM48 21h1v1h-1zM43 16h1v1h-1zM67 16h1v1h-1zM34 14h1v1h-1zM62 14h1v1h-1zM71 14h1v1h-1zM34 13h1v1h-1zM61 12h1v1h-1zM66 11h1v1h-1zM35 10h1v1h-1zM44 10h1v1h-1zM31 9h1v1h-1zM61 9h1v1h-1zM61 8h1v1h-1zM61 7h1v1h-1zM66 7h1v1h-1zM36 5h1v1h-1zM45 5h1v1h-1zM52 5h1v1h-1zM65 3h1v1h-1zM52 2h1v1h-1zM60 1h1v1h-1z"/>
<path fill="#e7f0f4" d="M20 124h1v1h-1zM76 124h1v1h-1zM7 123h1v1h-1zM14 123h1v1h-1zM33 123h1v1h-1zM55 123h2v1h-2zM84 123h1v1h-1zM11 122h1v1h-1zM14 122h1v1h-1zM16 122h1v1h-1zM28 122h1v1h-1zM30 122h1v1h-1zM32 122h1v1h-1zM43 122h1v1h-1zM65 122h1v1h-1zM71 122h1v1h-1zM87 122h1v1h-1zM100 122h1v1h-1zM8 121h1v1h-1zM14 121h1v1h-1zM33 121h1v1h-1zM35 121h1v1h-1zM41 121h1v1h-1zM55 121h1v1h-1zM4 120h1v1h-1zM24 120h1v1h-1zM28 120h1v1h-1zM39 120h1v1h-1zM52 120h1v1h-1zM90 120h1v1h-1zM52 119h1v1h-1zM97 116h1v1h-1zM52 111h1v1h-1zM82 111h1v1h-1zM24 110h1v1h-1zM52 110h1v1h-1zM48 109h1v1h-1zM79 109h1v1h-1zM30 108h2v1h-2zM73 108h1v1h-1zM76 108h1v1h-1zM29 107h1v1h-1zM32 107h1v1h-1zM52 107h1v1h-1zM75 107h2v1h-2zM29 106h1v1h-1zM74 106h1v1h-1zM32 105h2v1h-2zM72 105h1v1h-1zM74 105h1v1h-1zM35 103h2v1h-2zM69 103h1v1h-1zM48 102h1v1h-1zM52 102h1v1h-1zM71 102h1v1h-1zM69 101h1v1h-1zM67 100h3v1h-3zM37 99h1v1h-1zM67 99h1v1h-1zM38 98h1v1h-1zM48 98h1v1h-1zM52 98h1v1h-1zM68 98h1v1h-1zM38 97h2v1h-2zM52 97h1v1h-1zM41 96h2v1h-2zM40 95h1v1h-1zM42 95h1v1h-1zM25 94h1v1h-1zM41 94h1v1h-1zM43 94h1v1h-1zM64 94h1v1h-1zM80 94h1v1h-1zM26 93h1v1h-1zM48 93h1v1h-1zM52 93h1v1h-1zM27 92h1v1h-1zM65 92h1v1h-1zM79 92h1v1h-1zM52 91h1v1h-1zM61 91h2v1h-2zM64 91h1v1h-1zM76 91h1v1h-1zM29 90h1v1h-1zM44 90h1v1h-1zM48 90h1v1h-1zM52 90h1v1h-1zM77 90h1v1h-1zM16 89h1v1h-1zM29 89h1v1h-1zM52 89h1v1h-1zM77 89h1v1h-1zM60 88h1v1h-1zM6 87h1v1h-1zM44 87h1v1h-1zM48 87h1v1h-1zM59 87h1v1h-1zM30 86h1v1h-1zM32 86h1v1h-1zM44 86h1v1h-1zM61 86h2v1h-2zM73 86h1v1h-1zM33 85h1v1h-1zM46 85h1v1h-1zM48 85h1v1h-1zM52 85h1v1h-1zM47 84h1v1h-1zM61 83h1v1h-1zM48 82h1v1h-1zM52 82h1v1h-1zM72 82h1v1h-1zM34 81h1v1h-1zM45 81h1v1h-1zM35 80h1v1h-1zM45 80h1v1h-1zM49 80h1v1h-1zM52 80h1v1h-1zM35 79h1v1h-1zM45 79h1v1h-1zM47 79h1v1h-1zM49 79h1v1h-1zM25 78h1v1h-1zM35 78h1v1h-1zM46 78h2v1h-2zM59 78h2v1h-2zM49 77h1v1h-1zM58 77h1v1h-1zM37 76h1v1h-1zM47 76h1v1h-1zM58 76h1v1h-1zM78 76h1v1h-1zM27 75h1v1h-1zM37 75h1v1h-1zM47 75h1v1h-1zM36 74h1v1h-1zM38 74h1v1h-1zM49 74h1v1h-1zM29 73h1v1h-1zM29 72h1v1h-1zM38 72h1v1h-1zM67 72h1v1h-1zM30 71h1v1h-1zM76 71h2v1h-2zM30 70h1v1h-1zM51 70h1v1h-1zM67 70h1v1h-1zM6 69h1v1h-1zM39 69h1v1h-1zM30 68h2v1h-2zM39 68h1v1h-1zM91 68h1v1h-1zM30 67h1v1h-1zM40 67h1v1h-1zM32 66h1v1h-1zM40 66h1v1h-1zM40 65h2v1h-2zM66 65h1v1h-1zM74 65h1v1h-1zM41 64h1v1h-1zM32 63h1v1h-1zM41 63h1v1h-1zM64 62h1v1h-1zM73 62h1v1h-1zM80 62h1v1h-1zM52 61h1v1h-1zM72 61h1v1h-1zM34 60h1v1h-1zM41 60h1v1h-1zM52 60h1v1h-1zM64 60h1v1h-1zM72 60h1v1h-1zM72 59h1v1h-1zM35 58h1v1h-1zM41 58h1v1h-1zM52 58h1v1h-1zM63 58h1v1h-1zM21 57h1v1h-1zM34 57h2v1h-2zM78 57h1v1h-1zM28 56h1v1h-1zM35 56h1v1h-1zM62 56h2v1h-2zM71 56h1v1h-1zM35 55h1v1h-1zM52 55h1v1h-1zM77 55h1v1h-1zM16 54h1v1h-1zM29 54h1v1h-1zM44 54h1v1h-1zM62 53h1v1h-1zM61 52h1v1h-1zM36 51h1v1h-1zM30 50h1v1h-1zM37 50h1v1h-1zM43 50h1v1h-1zM45 50h1v1h-1zM52 50h1v1h-1zM37 49h1v1h-1zM31 48h1v1h-1zM45 48h1v1h-1zM25 47h1v1h-1zM68 46h1v1h-1zM80 46h1v1h-1zM68 45h1v1h-1zM38 44h1v1h-1zM61 44h1v1h-1zM67 44h1v1h-1zM46 42h1v1h-1zM48 42h1v1h-1zM59 42h2v1h-2zM52 41h1v1h-1zM67 41h1v1h-1zM73 41h1v1h-1zM46 40h1v1h-1zM72 40h1v1h-1zM47 39h1v1h-1zM66 39h1v1h-1zM39 38h1v1h-1zM46 38h1v1h-1zM52 38h1v1h-1zM59 38h1v1h-1zM46 37h1v1h-1zM59 37h1v1h-1zM46 36h1v1h-1zM66 36h1v1h-1zM40 35h1v1h-1zM48 35h1v1h-1zM58 35h1v1h-1zM65 35h1v1h-1zM40 34h1v1h-1zM46 34h1v1h-1zM58 34h1v1h-1zM86 34h1v1h-1zM35 33h1v1h-1zM41 33h1v1h-1zM47 33h2v1h-2zM52 32h1v1h-1zM41 31h1v1h-1zM47 31h1v1h-1zM70 31h1v1h-1zM31 30h1v1h-1zM47 30h1v1h-1zM64 30h1v1h-1zM48 29h1v1h-1zM52 29h1v1h-1zM64 29h1v1h-1zM41 28h1v1h-1zM52 28h1v1h-1zM42 27h1v1h-1zM64 27h1v1h-1zM69 27h1v1h-1zM31 26h1v1h-1zM48 26h1v1h-1zM52 26h1v1h-1zM64 26h1v1h-1zM32 25h1v1h-1zM52 24h1v1h-1zM32 23h1v1h-1zM49 23h1v1h-1zM63 23h1v1h-1zM73 23h1v1h-1zM28 22h1v1h-1zM37 22h1v1h-1zM68 22h1v1h-1zM73 22h1v1h-1zM78 22h1v1h-1zM37 21h1v1h-1zM42 21h1v1h-1zM37 20h1v1h-1zM52 20h1v1h-1zM62 19h1v1h-1zM68 19h1v1h-1zM29 18h1v1h-1zM51 18h1v1h-1zM62 18h1v1h-1zM29 17h1v1h-1zM34 16h1v1h-1zM52 16h1v1h-1zM52 15h1v1h-1zM39 14h1v1h-1zM44 13h1v1h-1zM67 13h1v1h-1zM71 13h1v1h-1zM43 12h1v1h-1zM71 12h1v1h-1zM71 11h1v1h-1zM48 10h1v1h-1zM66 10h1v1h-1zM35 9h1v1h-1zM44 9h1v1h-1zM66 9h1v1h-1zM31 8h1v1h-1zM44 8h1v1h-1zM31 7h1v1h-1zM44 7h1v1h-1zM31 6h1v1h-1zM48 6h1v1h-1zM40 5h1v1h-1zM61 5h1v1h-1zM65 5h1v1h-1zM97 5h1v1h-1zM36 4h1v1h-1zM48 4h1v1h-1zM52 4h1v1h-1zM36 3h1v1h-1zM40 3h1v1h-1zM73 3h1v1h-1zM45 2h1v1h-1zM60 2h1v1h-1zM65 2h1v1h-1zM45 1h1v1h-1zM46 0h1v1h-1zM60 0h1v1h-1z"/>
<path fill="#eff3f6" d="M0 124h1v1h-1zM25 124h1v1h-1zM89 124h1v1h-1zM95 124h1v1h-1zM97 124h1v1h-1zM15 123h1v1h-1zM20 123h1v1h-1zM45 123h1v1h-1zM78 123h1v1h-1zM92 123h1v1h-1zM98 123h1v1h-1zM18 122h1v1h-1zM13 121h1v1h-1zM29 121h1v1h-1zM92 121h1v1h-1zM97 121h1v1h-1zM44 120h1v1h-1zM47 120h1v1h-1zM88 120h2v1h-2zM95 120h1v1h-1zM52 117h1v1h-1zM48 116h1v1h-1zM48 114h1v1h-1zM85 113h2v1h-2zM21 112h1v1h-1zM52 112h1v1h-1zM83 112h1v1h-1zM78 111h1v1h-1zM80 111h1v1h-1zM83 111h1v1h-1zM23 110h1v1h-1zM25 110h1v1h-1zM27 110h1v1h-1zM48 110h1v1h-1zM79 110h1v1h-1zM82 110h1v1h-1zM27 109h1v1h-1zM29 109h1v1h-1zM48 108h1v1h-1zM52 108h1v1h-1zM78 108h3v1h-3zM28 107h1v1h-1zM73 107h2v1h-2zM78 107h1v1h-1zM97 107h1v1h-1zM30 106h1v1h-1zM34 106h1v1h-1zM52 106h1v1h-1zM75 106h2v1h-2zM34 105h1v1h-1zM48 105h1v1h-1zM32 104h1v1h-1zM35 104h2v1h-2zM52 104h1v1h-1zM92 103h1v1h-1zM37 102h1v1h-1zM70 102h1v1h-1zM72 102h1v1h-1zM91 102h1v1h-1zM16 101h1v1h-1zM38 101h2v1h-2zM52 101h1v1h-1zM68 101h1v1h-1zM91 101h1v1h-1zM38 100h1v1h-1zM71 100h1v1h-1zM19 99h1v1h-1zM36 99h1v1h-1zM38 99h1v1h-1zM48 99h1v1h-1zM69 99h1v1h-1zM37 98h1v1h-1zM37 97h1v1h-1zM64 97h1v1h-1zM68 97h1v1h-1zM6 96h1v1h-1zM48 96h1v1h-1zM82 96h1v1h-1zM24 95h1v1h-1zM43 95h1v1h-1zM52 95h1v1h-1zM80 95h1v1h-1zM39 94h1v1h-1zM52 94h1v1h-1zM66 94h1v1h-1zM97 94h1v1h-1zM44 93h1v1h-1zM62 93h2v1h-2zM66 93h1v1h-1zM26 92h1v1h-1zM40 92h1v1h-1zM48 92h1v1h-1zM52 92h1v1h-1zM61 92h1v1h-1zM63 92h1v1h-1zM45 91h1v1h-1zM65 91h1v1h-1zM78 91h1v1h-1zM91 91h1v1h-1zM28 90h1v1h-1zM41 90h1v1h-1zM45 90h1v1h-1zM78 90h1v1h-1zM91 90h1v1h-1zM75 89h1v1h-1zM44 88h1v1h-1zM46 88h1v1h-1zM48 88h1v1h-1zM63 88h1v1h-1zM75 88h2v1h-2zM42 87h1v1h-1zM47 87h1v1h-1zM73 87h2v1h-2zM19 86h1v1h-1zM46 86h2v1h-2zM74 86h2v1h-2zM43 85h1v1h-1zM74 85h1v1h-1zM48 84h1v1h-1zM58 83h1v1h-1zM71 83h1v1h-1zM33 82h1v1h-1zM49 82h1v1h-1zM58 82h1v1h-1zM34 80h1v1h-1zM46 80h2v1h-2zM60 80h1v1h-1zM72 80h1v1h-1zM82 80h1v1h-1zM25 79h1v1h-1zM36 79h1v1h-1zM71 79h1v1h-1zM34 78h1v1h-1zM48 78h2v1h-2zM58 78h1v1h-1zM69 78h1v1h-1zM80 78h1v1h-1zM91 78h1v1h-1zM46 77h1v1h-1zM48 77h1v1h-1zM52 77h1v1h-1zM69 77h1v1h-1zM79 77h1v1h-1zM16 76h1v1h-1zM49 76h1v1h-1zM79 76h1v1h-1zM48 75h2v1h-2zM58 75h1v1h-1zM37 74h1v1h-1zM52 74h1v1h-1zM78 74h1v1h-1zM37 73h2v1h-2zM49 73h1v1h-1zM52 73h1v1h-1zM68 73h1v1h-1zM37 72h1v1h-1zM49 72h1v1h-1zM51 72h1v1h-1zM68 72h1v1h-1zM76 72h1v1h-1zM39 71h1v1h-1zM66 71h1v1h-1zM68 71h1v1h-1zM29 70h1v1h-1zM31 70h1v1h-1zM39 70h1v1h-1zM52 70h1v1h-1zM85 70h1v1h-1zM52 69h1v1h-1zM40 68h1v1h-1zM39 67h1v1h-1zM48 67h1v1h-1zM65 67h1v1h-1zM74 67h1v1h-1zM41 66h1v1h-1zM48 66h1v1h-1zM73 66h2v1h-2zM52 64h1v1h-1zM73 64h1v1h-1zM81 64h1v1h-1zM40 63h1v1h-1zM52 63h1v1h-1zM25 62h1v1h-1zM34 62h1v1h-1zM40 62h2v1h-2zM52 62h1v1h-1zM65 62h1v1h-1zM33 61h1v1h-1zM71 61h1v1h-1zM73 61h1v1h-1zM80 61h1v1h-1zM26 60h1v1h-1zM71 60h1v1h-1zM79 60h1v1h-1zM43 59h1v1h-1zM52 59h1v1h-1zM63 59h2v1h-2zM79 59h1v1h-1zM27 58h1v1h-1zM43 58h1v1h-1zM48 58h1v1h-1zM78 58h1v1h-1zM85 58h1v1h-1zM7 57h1v1h-1zM91 57h1v1h-1zM34 56h1v1h-1zM48 56h1v1h-1zM78 56h1v1h-1zM28 55h1v1h-1zM36 55h1v1h-1zM62 55h1v1h-1zM97 55h1v1h-1zM35 54h1v1h-1zM10 53h1v1h-1zM42 53h1v1h-1zM44 53h1v1h-1zM48 53h1v1h-1zM52 53h1v1h-1zM61 53h1v1h-1zM76 53h1v1h-1zM30 52h1v1h-1zM37 52h1v1h-1zM52 52h1v1h-1zM37 51h1v1h-1zM43 51h1v1h-1zM52 51h1v1h-1zM61 51h1v1h-1zM69 51h1v1h-1zM75 51h2v1h-2zM82 51h1v1h-1zM36 50h1v1h-1zM82 50h1v1h-1zM31 49h1v1h-1zM61 49h2v1h-2zM82 49h1v1h-1zM6 48h1v1h-1zM25 48h1v1h-1zM48 48h1v1h-1zM37 47h1v1h-1zM60 47h1v1h-1zM44 46h1v1h-1zM48 46h1v1h-1zM52 46h1v1h-1zM31 45h2v1h-2zM38 45h1v1h-1zM74 45h1v1h-1zM91 45h1v1h-1zM3 44h1v1h-1zM26 44h1v1h-1zM48 44h1v1h-1zM73 44h1v1h-1zM21 43h1v1h-1zM46 43h1v1h-1zM67 43h1v1h-1zM32 42h1v1h-1zM67 42h1v1h-1zM27 41h1v1h-1zM46 41h1v1h-1zM59 41h1v1h-1zM72 41h1v1h-1zM39 40h1v1h-1zM45 40h1v1h-1zM47 40h1v1h-1zM59 40h2v1h-2zM73 40h1v1h-1zM39 39h1v1h-1zM52 39h1v1h-1zM6 38h1v1h-1zM34 38h1v1h-1zM40 38h1v1h-1zM47 38h1v1h-1zM60 38h1v1h-1zM71 38h1v1h-1zM34 37h1v1h-1zM52 37h1v1h-1zM77 37h1v1h-1zM29 36h1v1h-1zM59 36h1v1h-1zM46 35h1v1h-1zM52 35h1v1h-1zM66 35h1v1h-1zM71 34h1v1h-1zM58 33h2v1h-2zM76 33h1v1h-1zM91 33h1v1h-1zM35 32h1v1h-1zM41 32h1v1h-1zM58 32h1v1h-1zM65 32h1v1h-1zM70 32h1v1h-1zM91 32h1v1h-1zM25 31h1v1h-1zM30 31h1v1h-1zM52 31h1v1h-1zM58 31h1v1h-1zM25 30h1v1h-1zM36 30h1v1h-1zM52 30h1v1h-1zM58 30h1v1h-1zM85 30h1v1h-1zM21 29h1v1h-1zM26 29h1v1h-1zM65 29h1v1h-1zM75 29h1v1h-1zM49 28h1v1h-1zM64 28h1v1h-1zM36 27h1v1h-1zM49 27h1v1h-1zM52 27h1v1h-1zM36 26h2v1h-2zM8 25h1v1h-1zM37 25h1v1h-1zM49 25h1v1h-1zM52 25h1v1h-1zM69 25h1v1h-1zM74 25h1v1h-1zM32 24h1v1h-1zM42 24h1v1h-1zM49 24h1v1h-1zM48 23h1v1h-1zM43 22h1v1h-1zM63 21h1v1h-1zM6 20h1v1h-1zM42 20h1v1h-1zM63 20h1v1h-1zM73 20h1v1h-1zM33 19h1v1h-1zM38 19h1v1h-1zM63 19h1v1h-1zM77 19h1v1h-1zM38 18h1v1h-1zM48 18h1v1h-1zM67 18h1v1h-1zM38 17h1v1h-1zM51 17h1v1h-1zM67 17h1v1h-1zM29 16h1v1h-1zM38 16h1v1h-1zM44 16h1v1h-1zM62 16h1v1h-1zM76 16h1v1h-1zM25 15h1v1h-1zM30 15h1v1h-1zM38 15h1v1h-1zM43 15h1v1h-1zM67 15h1v1h-1zM71 15h1v1h-1zM76 15h1v1h-1zM97 15h1v1h-1zM25 14h1v1h-1zM44 14h1v1h-1zM48 14h1v1h-1zM52 14h1v1h-1zM67 14h1v1h-1zM43 13h1v1h-1zM48 13h1v1h-1zM52 13h1v1h-1zM30 12h1v1h-1zM39 12h1v1h-1zM48 12h1v1h-1zM66 12h1v1h-1zM44 11h1v1h-1zM61 11h1v1h-1zM79 11h1v1h-1zM91 11h1v1h-1zM31 10h1v1h-1zM39 10h1v1h-1zM45 10h1v1h-1zM39 9h1v1h-1zM48 9h1v1h-1zM91 9h1v1h-1zM40 8h1v1h-1zM45 8h1v1h-1zM52 8h1v1h-1zM40 7h1v1h-1zM45 7h1v1h-1zM52 7h1v1h-1zM78 7h1v1h-1zM36 6h1v1h-1zM40 6h1v1h-1zM44 6h1v1h-1zM61 6h1v1h-1zM65 6h2v1h-2zM74 6h1v1h-1zM48 5h1v1h-1zM32 4h1v1h-1zM60 4h1v1h-1zM65 4h1v1h-1zM52 3h1v1h-1zM60 3h2v1h-2zM36 2h1v1h-1zM69 2h1v1h-1zM73 2h1v1h-1zM36 1h1v1h-1zM41 1h1v1h-1zM65 1h1v1h-1zM73 1h1v1h-1zM37 0h1v1h-1zM45 0h1v1h-1zM73 0h1v1h-1z"/>
<path fill="#f7f7f7" d="M1 124h1v1h-1zM8 124h1v1h-1zM10 124h1v1h-1zM50 124h2v1h-2zM65 124h1v1h-1zM86 124h1v1h-1zM88 124h1v1h-1zM91 124h4v1h-4zM5 123h1v1h-1zM13 123h1v1h-1zM17 123h1v1h-1zM50 123h2v1h-2zM66 123h1v1h-1zM1 122h1v1h-1zM5 122h2v1h-2zM8 122h2v1h-2zM12 122h1v1h-1zM20 122h1v1h-1zM50 122h2v1h-2zM84 122h1v1h-1zM91 122h1v1h-1zM97 122h1v1h-1zM6 121h1v1h-1zM10 121h1v1h-1zM18 121h1v1h-1zM50 121h2v1h-2zM85 121h1v1h-1zM87 121h1v1h-1zM89 121h1v1h-1zM96 121h1v1h-1zM98 121h2v1h-2zM0 120h1v1h-1zM3 120h1v1h-1zM10 120h3v1h-3zM18 120h1v1h-1zM20 120h1v1h-1zM50 120h2v1h-2zM59 120h1v1h-1zM83 120h1v1h-1zM86 120h1v1h-1zM97 120h1v1h-1zM50 119h2v1h-2zM50 118h2v1h-2zM50 117h2v1h-2zM6 116h1v1h-1zM52 116h1v1h-1zM7 115h1v1h-1zM48 115h1v1h-1zM52 115h1v1h-1zM52 114h1v1h-1zM91 114h1v1h-1zM97 114h1v1h-1zM19 113h1v1h-1zM52 113h1v1h-1zM19 112h1v1h-1zM25 112h1v1h-1zM48 112h1v1h-1zM19 111h4v1h-4zM79 111h1v1h-1zM21 110h1v1h-1zM26 110h1v1h-1zM77 110h1v1h-1zM81 110h1v1h-1zM24 109h2v1h-2zM30 109h2v1h-2zM76 109h2v1h-2zM82 109h1v1h-1zM25 108h1v1h-1zM27 108h1v1h-1zM75 108h1v1h-1zM77 108h1v1h-1zM6 107h1v1h-1zM48 107h1v1h-1zM72 107h1v1h-1zM77 107h1v1h-1zM6 106h2v1h-2zM48 106h1v1h-1zM71 106h1v1h-1zM30 105h1v1h-1zM35 105h1v1h-1zM71 105h1v1h-1zM75 105h2v1h-2zM31 103h1v1h-1zM70 103h1v1h-1zM69 102h1v1h-1zM73 102h1v1h-1zM67 101h1v1h-1zM65 100h2v1h-2zM70 100h1v1h-1zM39 99h2v1h-2zM65 99h1v1h-1zM84 99h1v1h-1zM20 98h1v1h-1zM36 98h1v1h-1zM40 98h1v1h-1zM69 98h1v1h-1zM84 98h1v1h-1zM86 98h1v1h-1zM21 97h1v1h-1zM41 97h3v1h-3zM83 97h1v1h-1zM64 96h1v1h-1zM25 95h1v1h-1zM48 95h1v1h-1zM63 95h1v1h-1zM82 95h1v1h-1zM97 95h1v1h-1zM24 94h1v1h-1zM26 94h1v1h-1zM48 94h1v1h-1zM62 94h1v1h-1zM79 94h1v1h-1zM27 93h1v1h-1zM78 93h1v1h-1zM45 92h1v1h-1zM62 92h1v1h-1zM66 92h1v1h-1zM78 92h1v1h-1zM80 92h1v1h-1zM41 91h1v1h-1zM77 91h1v1h-1zM16 90h1v1h-1zM27 90h1v1h-1zM60 90h1v1h-1zM62 90h1v1h-1zM64 90h1v1h-1zM75 90h1v1h-1zM92 90h1v1h-1zM46 89h1v1h-1zM60 89h1v1h-1zM64 89h1v1h-1zM76 89h1v1h-1zM6 88h1v1h-1zM41 88h1v1h-1zM52 88h1v1h-1zM74 88h1v1h-1zM32 87h1v1h-1zM75 87h2v1h-2zM6 86h1v1h-1zM20 86h1v1h-1zM48 86h1v1h-1zM52 86h1v1h-1zM59 86h1v1h-1zM85 86h1v1h-1zM97 86h1v1h-1zM20 85h2v1h-2zM47 85h1v1h-1zM62 85h1v1h-1zM31 84h1v1h-1zM34 84h1v1h-1zM52 84h1v1h-1zM58 84h1v1h-1zM74 84h1v1h-1zM84 84h2v1h-2zM97 84h1v1h-1zM33 83h1v1h-1zM44 83h1v1h-1zM48 83h1v1h-1zM82 82h2v1h-2zM35 81h1v1h-1zM48 81h1v1h-1zM73 81h1v1h-1zM92 81h1v1h-1zM33 80h1v1h-1zM91 80h1v1h-1zM34 79h1v1h-1zM52 79h1v1h-1zM60 79h1v1h-1zM72 79h1v1h-1zM7 78h1v1h-1zM24 78h1v1h-1zM37 78h1v1h-1zM52 78h1v1h-1zM70 78h1v1h-1zM6 77h1v1h-1zM26 77h1v1h-1zM37 77h1v1h-1zM59 77h1v1h-1zM70 77h2v1h-2zM78 77h1v1h-1zM6 76h2v1h-2zM27 76h1v1h-1zM35 76h1v1h-1zM51 76h2v1h-2zM69 76h1v1h-1zM8 75h1v1h-1zM53 75h1v1h-1zM78 75h1v1h-1zM97 75h1v1h-1zM10 74h1v1h-1zM19 74h1v1h-1zM28 74h1v1h-1zM47 74h1v1h-1zM67 74h1v1h-1zM69 74h1v1h-1zM86 74h1v1h-1zM97 74h1v1h-1zM28 73h1v1h-1zM48 73h1v1h-1zM76 73h3v1h-3zM52 72h1v1h-1zM66 72h1v1h-1zM77 72h2v1h-2zM20 71h1v1h-1zM29 71h1v1h-1zM49 71h1v1h-1zM78 71h1v1h-1zM85 71h1v1h-1zM13 70h1v1h-1zM40 70h1v1h-1zM48 70h1v1h-1zM53 70h1v1h-1zM66 70h1v1h-1zM84 70h1v1h-1zM100 70h1v1h-1zM31 69h1v1h-1zM38 69h1v1h-1zM48 69h1v1h-1zM6 68h1v1h-1zM48 68h1v1h-1zM52 68h1v1h-1zM67 68h1v1h-1zM75 68h1v1h-1zM83 68h2v1h-2zM53 67h1v1h-1zM82 67h1v1h-1zM91 67h1v1h-1zM16 66h1v1h-1zM24 66h1v1h-1zM97 66h1v1h-1zM48 65h1v1h-1zM52 65h1v1h-1zM82 65h1v1h-1zM97 65h1v1h-1zM24 64h1v1h-1zM31 64h1v1h-1zM64 64h1v1h-1zM66 64h1v1h-1zM25 63h1v1h-1zM64 63h1v1h-1zM80 63h1v1h-1zM11 62h1v1h-1zM33 62h1v1h-1zM25 61h2v1h-2zM40 61h1v1h-1zM48 61h1v1h-1zM64 61h1v1h-1zM79 61h1v1h-1zM48 60h1v1h-1zM65 60h1v1h-1zM6 59h1v1h-1zM20 59h1v1h-1zM41 59h1v1h-1zM48 59h1v1h-1zM6 58h1v1h-1zM13 58h1v1h-1zM62 58h1v1h-1zM64 58h1v1h-1zM72 58h1v1h-1zM79 58h1v1h-1zM64 56h1v1h-1zM29 55h1v1h-1zM91 55h1v1h-1zM42 54h1v1h-1zM70 54h2v1h-2zM97 54h1v1h-1zM16 53h1v1h-1zM35 53h1v1h-1zM69 53h2v1h-2zM16 52h1v1h-1zM44 52h1v1h-1zM48 52h1v1h-1zM69 52h1v1h-1zM76 52h1v1h-1zM82 52h1v1h-1zM24 51h1v1h-1zM29 51h1v1h-1zM45 51h1v1h-1zM63 51h1v1h-1zM6 50h1v1h-1zM48 50h1v1h-1zM69 50h1v1h-1zM75 50h1v1h-1zM24 49h1v1h-1zM68 49h1v1h-1zM7 48h1v1h-1zM30 48h1v1h-1zM43 48h1v1h-1zM52 48h1v1h-1zM62 48h1v1h-1zM74 48h1v1h-1zM48 47h1v1h-1zM52 47h1v1h-1zM62 47h1v1h-1zM81 47h1v1h-1zM25 46h1v1h-1zM37 46h2v1h-2zM60 46h1v1h-1zM67 46h1v1h-1zM86 46h1v1h-1zM91 46h1v1h-1zM14 45h1v1h-1zM25 45h2v1h-2zM52 45h1v1h-1zM52 44h1v1h-1zM68 44h1v1h-1zM85 44h1v1h-1zM39 43h1v1h-1zM59 43h1v1h-1zM61 43h1v1h-1zM66 43h1v1h-1zM91 43h1v1h-1zM21 42h1v1h-1zM27 42h1v1h-1zM38 42h2v1h-2zM61 42h1v1h-1zM78 42h2v1h-2zM10 41h1v1h-1zM45 41h1v1h-1zM61 41h1v1h-1zM66 41h1v1h-1zM78 41h1v1h-1zM5 40h1v1h-1zM16 40h1v1h-1zM22 40h1v1h-1zM33 40h1v1h-1zM52 40h1v1h-1zM78 40h1v1h-1zM28 39h1v1h-1zM40 39h1v1h-1zM45 39h1v1h-1zM60 39h1v1h-1zM73 39h1v1h-1zM77 39h1v1h-1zM7 38h1v1h-1zM48 38h1v1h-1zM65 38h1v1h-1zM83 38h1v1h-1zM98 38h1v1h-1zM39 37h2v1h-2zM48 37h1v1h-1zM58 37h1v1h-1zM65 37h1v1h-1zM72 37h1v1h-1zM82 37h1v1h-1zM24 36h1v1h-1zM52 36h1v1h-1zM58 36h1v1h-1zM29 35h1v1h-1zM59 35h1v1h-1zM82 35h1v1h-1zM92 35h1v1h-1zM97 35h1v1h-1zM34 34h1v1h-1zM48 34h1v1h-1zM59 34h1v1h-1zM97 34h1v1h-1zM10 33h1v1h-1zM24 33h1v1h-1zM30 33h1v1h-1zM25 32h1v1h-1zM40 32h1v1h-1zM48 32h1v1h-1zM75 32h1v1h-1zM48 31h1v1h-1zM85 31h1v1h-1zM6 30h1v1h-1zM16 30h1v1h-1zM30 30h1v1h-1zM42 30h1v1h-1zM80 30h1v1h-1zM16 29h1v1h-1zM30 29h1v1h-1zM47 29h1v1h-1zM58 29h1v1h-1zM80 29h1v1h-1zM21 28h1v1h-1zM26 28h1v1h-1zM42 28h1v1h-1zM69 28h1v1h-1zM47 27h1v1h-1zM79 27h1v1h-1zM41 26h1v1h-1zM49 26h1v1h-1zM74 26h1v1h-1zM48 25h1v1h-1zM64 25h1v1h-1zM73 25h1v1h-1zM79 25h1v1h-1zM4 24h1v1h-1zM18 24h1v1h-1zM43 24h1v1h-1zM63 24h1v1h-1zM69 24h1v1h-1zM78 24h1v1h-1zM52 23h1v1h-1zM91 23h1v1h-1zM32 22h1v1h-1zM48 22h1v1h-1zM52 22h1v1h-1zM6 21h1v1h-1zM32 21h1v1h-1zM49 21h1v1h-1zM51 21h2v1h-2zM68 21h1v1h-1zM78 21h1v1h-1zM82 21h1v1h-1zM24 20h1v1h-1zM28 20h1v1h-1zM49 20h1v1h-1zM51 20h1v1h-1zM68 20h1v1h-1zM72 20h1v1h-1zM6 19h1v1h-1zM20 19h1v1h-1zM24 19h1v1h-1zM42 19h1v1h-1zM48 19h1v1h-1zM72 19h2v1h-2zM7 18h1v1h-1zM16 18h1v1h-1zM52 18h1v1h-1zM72 18h1v1h-1zM33 17h1v1h-1zM44 17h1v1h-1zM62 17h1v1h-1zM72 16h1v1h-1zM16 15h1v1h-1zM61 15h2v1h-2zM72 15h1v1h-1zM85 15h1v1h-1zM29 14h1v1h-1zM51 14h1v1h-1zM66 14h1v1h-1zM80 14h1v1h-1zM97 14h1v1h-1zM39 13h1v1h-1zM62 13h1v1h-1zM66 13h1v1h-1zM84 13h1v1h-1zM97 13h1v1h-1zM34 12h1v1h-1zM51 12h1v1h-1zM53 12h1v1h-1zM62 12h1v1h-1zM39 11h1v1h-1zM45 11h1v1h-1zM52 11h2v1h-2zM75 11h1v1h-1zM6 10h1v1h-1zM40 10h1v1h-1zM52 10h1v1h-1zM71 10h1v1h-1zM45 9h1v1h-1zM71 9h1v1h-1zM35 8h1v1h-1zM48 8h1v1h-1zM66 8h1v1h-1zM74 8h1v1h-1zM48 7h1v1h-1zM82 7h1v1h-1zM16 6h1v1h-1zM52 6h1v1h-1zM60 6h1v1h-1zM16 5h1v1h-1zM60 5h1v1h-1zM78 5h1v1h-1zM20 4h1v1h-1zM61 4h1v1h-1zM73 4h1v1h-1zM20 3h1v1h-1zM32 3h1v1h-1zM41 3h1v1h-1zM32 2h1v1h-1zM77 2h1v1h-1zM81 2h1v1h-1zM85 2h1v1h-1zM6 1h1v1h-1zM21 1h1v1h-1zM37 1h1v1h-1zM46 1h1v1h-1zM48 1h1v1h-1zM52 1h1v1h-1zM21 0h1v1h-1zM25 0h1v1h-1zM36 0h1v1h-1zM41 0h1v1h-1zM65 0h1v1h-1zM69 0h1v1h-1zM91 0h1v1h-1z"/>
<path fill="#f8f1ed" d="M2 124h1v1h-1zM15 124h1v1h-1zM19 124h1v1h-1zM96 124h1v1h-1zM98 124h2v1h-2zM83 123h1v1h-1zM87 123h1v1h-1zM89 123h1v1h-1zM95 123h1v1h-1zM97 123h1v1h-1zM3 122h1v1h-1zM13 122h1v1h-1zM85 122h2v1h-2zM0 121h1v1h-1zM7 121h1v1h-1zM15 121h1v1h-1zM20 121h1v1h-1zM86 121h1v1h-1zM88 121h1v1h-1zM93 121h1v1h-1zM95 121h1v1h-1zM100 121h1v1h-1zM6 120h1v1h-1zM13 120h1v1h-1zM16 120h1v1h-1zM26 120h1v1h-1zM96 120h1v1h-1zM100 120h1v1h-1zM52 118h1v1h-1zM97 118h1v1h-1zM0 117h2v1h-2zM3 117h1v1h-1zM6 117h1v1h-1zM7 116h2v1h-2zM10 116h1v1h-1zM91 116h1v1h-1zM14 115h1v1h-1zM91 115h1v1h-1zM95 115h1v1h-1zM16 114h1v1h-1zM16 113h1v1h-1zM20 113h1v1h-1zM48 113h1v1h-1zM91 113h2v1h-2zM20 112h1v1h-1zM22 112h1v1h-1zM82 112h1v1h-1zM23 111h4v1h-4zM81 111h1v1h-1zM84 111h1v1h-1zM86 111h1v1h-1zM76 110h1v1h-1zM78 110h1v1h-1zM84 110h1v1h-1zM26 109h1v1h-1zM0 108h1v1h-1zM24 108h1v1h-1zM26 108h1v1h-1zM28 108h1v1h-1zM74 108h1v1h-1zM97 108h1v1h-1zM100 108h1v1h-1zM34 107h1v1h-1zM33 106h1v1h-1zM6 105h1v1h-1zM29 105h1v1h-1zM91 105h1v1h-1zM97 105h1v1h-1zM10 104h1v1h-1zM31 104h1v1h-1zM37 104h1v1h-1zM48 104h1v1h-1zM91 104h1v1h-1zM94 104h1v1h-1zM97 104h1v1h-1zM13 103h2v1h-2zM32 103h2v1h-2zM48 103h1v1h-1zM68 103h1v1h-1zM74 103h1v1h-1zM89 103h1v1h-1zM91 103h1v1h-1zM32 102h1v1h-1zM38 102h1v1h-1zM68 102h1v1h-1zM34 101h1v1h-1zM48 101h1v1h-1zM70 101h1v1h-1zM72 101h1v1h-1zM0 100h1v1h-1zM16 100h1v1h-1zM18 100h3v1h-3zM39 100h1v1h-1zM48 100h1v1h-1zM86 100h1v1h-1zM21 99h1v1h-1zM70 99h1v1h-1zM85 99h1v1h-1zM6 98h1v1h-1zM19 98h1v1h-1zM41 98h1v1h-1zM82 98h1v1h-1zM5 97h1v1h-1zM23 97h1v1h-1zM82 97h1v1h-1zM84 97h2v1h-2zM98 97h1v1h-1zM7 96h1v1h-1zM23 96h3v1h-3zM37 96h2v1h-2zM52 96h1v1h-1zM7 95h1v1h-1zM26 95h1v1h-1zM67 95h1v1h-1zM81 95h1v1h-1zM11 94h1v1h-1zM63 94h1v1h-1zM67 94h1v1h-1zM78 94h1v1h-1zM81 94h1v1h-1zM25 93h1v1h-1zM28 93h1v1h-1zM39 93h1v1h-1zM79 93h2v1h-2zM25 92h1v1h-1zM28 92h2v1h-2zM44 92h1v1h-1zM77 92h1v1h-1zM94 92h1v1h-1zM28 91h2v1h-2zM48 91h1v1h-1zM3 90h2v1h-2zM40 90h1v1h-1zM5 89h2v1h-2zM28 89h1v1h-1zM47 89h2v1h-2zM59 89h1v1h-1zM18 88h1v1h-1zM28 88h2v1h-2zM59 88h1v1h-1zM19 87h1v1h-1zM29 87h1v1h-1zM52 87h1v1h-1zM63 87h1v1h-1zM86 87h1v1h-1zM97 87h1v1h-1zM8 86h1v1h-1zM33 86h1v1h-1zM42 86h1v1h-1zM86 86h2v1h-2zM10 85h1v1h-1zM30 85h1v1h-1zM72 85h1v1h-1zM97 85h1v1h-1zM10 84h1v1h-1zM21 84h1v1h-1zM33 84h1v1h-1zM43 84h1v1h-1zM62 84h1v1h-1zM71 84h1v1h-1zM83 84h1v1h-1zM10 83h1v1h-1zM62 83h1v1h-1zM83 83h2v1h-2zM10 82h1v1h-1zM13 82h1v1h-1zM32 82h1v1h-1zM44 82h1v1h-1zM62 82h1v1h-1zM84 82h1v1h-1zM13 81h1v1h-1zM23 81h1v1h-1zM32 81h1v1h-1zM49 81h1v1h-1zM52 81h1v1h-1zM61 81h1v1h-1zM83 81h1v1h-1zM24 80h2v1h-2zM36 80h1v1h-1zM48 80h1v1h-1zM70 80h1v1h-1zM92 80h1v1h-1zM16 79h1v1h-1zM24 79h1v1h-1zM48 79h1v1h-1zM51 79h1v1h-1zM69 79h2v1h-2zM80 79h2v1h-2zM6 78h1v1h-1zM16 78h1v1h-1zM26 78h1v1h-1zM45 78h1v1h-1zM25 77h1v1h-1zM35 77h1v1h-1zM51 77h1v1h-1zM53 77h1v1h-1zM8 76h1v1h-1zM25 76h1v1h-1zM53 76h1v1h-1zM59 76h1v1h-1zM68 76h1v1h-1zM80 76h1v1h-1zM89 76h1v1h-1zM97 76h1v1h-1zM16 75h1v1h-1zM18 75h1v1h-1zM28 75h1v1h-1zM46 75h1v1h-1zM51 75h1v1h-1zM59 75h1v1h-1zM67 75h1v1h-1zM69 75h1v1h-1zM51 74h1v1h-1zM53 74h1v1h-1zM58 74h1v1h-1zM19 73h2v1h-2zM51 73h1v1h-1zM53 73h1v1h-1zM69 73h1v1h-1zM28 72h1v1h-1zM47 72h2v1h-2zM53 72h1v1h-1zM58 72h1v1h-1zM85 72h1v1h-1zM94 72h1v1h-1zM19 71h1v1h-1zM48 71h1v1h-1zM52 71h1v1h-1zM58 71h1v1h-1zM86 71h1v1h-1zM21 70h1v1h-1zM49 70h1v1h-1zM68 70h1v1h-1zM76 70h2v1h-2zM93 70h1v1h-1zM29 69h1v1h-1zM40 69h1v1h-1zM49 69h1v1h-1zM51 69h1v1h-1zM65 69h1v1h-1zM76 69h1v1h-1zM21 68h1v1h-1zM53 68h1v1h-1zM65 68h1v1h-1zM74 68h1v1h-1zM85 68h1v1h-1zM100 68h1v1h-1zM0 67h1v1h-1zM23 67h1v1h-1zM32 67h1v1h-1zM41 67h1v1h-1zM67 67h1v1h-1zM98 67h1v1h-1zM7 66h1v1h-1zM39 66h1v1h-1zM52 66h2v1h-2zM82 66h1v1h-1zM16 65h1v1h-1zM24 65h1v1h-1zM81 65h1v1h-1zM16 64h1v1h-1zM33 64h1v1h-1zM42 64h1v1h-1zM74 64h1v1h-1zM82 64h1v1h-1zM33 63h1v1h-1zM42 63h1v1h-1zM48 63h1v1h-1zM53 63h1v1h-1zM66 63h1v1h-1zM72 63h1v1h-1zM74 63h1v1h-1zM81 63h1v1h-1zM97 63h1v1h-1zM10 62h1v1h-1zM32 62h1v1h-1zM79 62h1v1h-1zM18 61h1v1h-1zM63 61h1v1h-1zM12 60h1v1h-1zM27 60h1v1h-1zM33 60h1v1h-1zM43 60h1v1h-1zM63 60h1v1h-1zM73 60h1v1h-1zM80 60h1v1h-1zM19 59h1v1h-1zM35 59h1v1h-1zM28 58h1v1h-1zM92 58h1v1h-1zM99 58h1v1h-1zM6 57h1v1h-1zM14 57h1v1h-1zM27 57h2v1h-2zM48 57h1v1h-1zM62 57h1v1h-1zM64 57h1v1h-1zM77 57h1v1h-1zM85 57h1v1h-1zM97 57h1v1h-1zM8 56h1v1h-1zM36 56h1v1h-1zM52 56h1v1h-1zM84 56h2v1h-2zM44 55h1v1h-1zM63 55h1v1h-1zM70 55h1v1h-1zM76 54h1v1h-1zM22 53h2v1h-2zM30 53h1v1h-1zM45 53h1v1h-1zM63 53h1v1h-1zM97 53h1v1h-1zM11 51h1v1h-1zM48 51h1v1h-1zM18 50h1v1h-1zM24 50h1v1h-1zM31 50h1v1h-1zM68 50h1v1h-1zM76 50h1v1h-1zM100 50h1v1h-1zM48 49h1v1h-1zM69 49h1v1h-1zM75 49h1v1h-1zM75 48h1v1h-1zM82 48h1v1h-1zM86 48h1v1h-1zM98 48h1v1h-1zM30 47h1v1h-1zM32 47h1v1h-1zM74 47h2v1h-2zM86 47h1v1h-1zM92 47h1v1h-1zM14 46h1v1h-1zM19 46h2v1h-2zM32 46h1v1h-1zM97 46h1v1h-1zM20 45h1v1h-1zM46 45h1v1h-1zM48 45h1v1h-1zM67 45h1v1h-1zM73 45h1v1h-1zM85 45h1v1h-1zM97 45h1v1h-1zM20 44h1v1h-1zM46 44h1v1h-1zM74 44h1v1h-1zM80 44h1v1h-1zM91 44h1v1h-1zM97 44h1v1h-1zM38 43h1v1h-1zM52 43h1v1h-1zM79 43h1v1h-1zM84 43h2v1h-2zM66 42h1v1h-1zM72 42h1v1h-1zM5 41h1v1h-1zM38 41h1v1h-1zM47 41h1v1h-1zM84 41h1v1h-1zM6 40h1v1h-1zM11 40h1v1h-1zM28 40h1v1h-1zM48 40h1v1h-1zM66 40h2v1h-2zM6 39h2v1h-2zM33 39h2v1h-2zM48 39h1v1h-1zM12 38h1v1h-1zM28 38h1v1h-1zM33 38h1v1h-1zM58 38h1v1h-1zM77 38h2v1h-2zM29 37h1v1h-1zM45 37h1v1h-1zM71 37h1v1h-1zM97 37h1v1h-1zM48 36h1v1h-1zM60 36h1v1h-1zM72 36h1v1h-1zM77 36h1v1h-1zM82 36h1v1h-1zM97 36h2v1h-2zM24 35h1v1h-1zM41 35h1v1h-1zM76 35h1v1h-1zM91 35h1v1h-1zM24 34h1v1h-1zM29 34h2v1h-2zM35 34h1v1h-1zM66 34h1v1h-1zM76 34h1v1h-1zM91 34h1v1h-1zM34 33h1v1h-1zM46 33h1v1h-1zM64 33h1v1h-1zM86 33h1v1h-1zM97 33h1v1h-1zM5 32h1v1h-1zM46 32h1v1h-1zM49 32h1v1h-1zM64 32h1v1h-1zM76 32h1v1h-1zM80 32h1v1h-1zM85 32h2v1h-2zM10 31h1v1h-1zM20 31h1v1h-1zM31 31h1v1h-1zM35 31h2v1h-2zM49 31h1v1h-1zM75 31h1v1h-1zM80 31h1v1h-1zM1 30h1v1h-1zM10 30h1v1h-1zM20 30h1v1h-1zM35 30h1v1h-1zM49 30h1v1h-1zM70 30h1v1h-1zM75 30h1v1h-1zM6 29h1v1h-1zM35 29h1v1h-1zM42 29h1v1h-1zM49 29h1v1h-1zM70 29h1v1h-1zM79 29h1v1h-1zM85 29h1v1h-1zM12 28h1v1h-1zM16 28h1v1h-1zM48 28h1v1h-1zM58 28h1v1h-1zM79 28h1v1h-1zM94 28h1v1h-1zM21 27h2v1h-2zM26 27h1v1h-1zM37 27h1v1h-1zM41 27h1v1h-1zM58 27h1v1h-1zM74 27h1v1h-1zM12 26h1v1h-1zM79 26h1v1h-1zM27 25h1v1h-1zM41 25h1v1h-1zM43 25h1v1h-1zM63 25h1v1h-1zM68 25h1v1h-1zM92 25h1v1h-1zM97 25h1v1h-1zM13 24h1v1h-1zM27 24h1v1h-1zM31 24h1v1h-1zM48 24h1v1h-1zM64 24h1v1h-1zM73 24h1v1h-1zM82 24h1v1h-1zM97 24h1v1h-1zM18 23h1v1h-1zM51 23h1v1h-1zM68 23h1v1h-1zM92 23h1v1h-1zM14 22h1v1h-1zM49 22h1v1h-1zM53 22h1v1h-1zM77 22h1v1h-1zM82 22h1v1h-1zM19 21h1v1h-1zM24 21h1v1h-1zM28 21h1v1h-1zM33 21h1v1h-1zM77 21h1v1h-1zM91 21h1v1h-1zM7 20h1v1h-1zM29 20h1v1h-1zM62 20h1v1h-1zM77 20h1v1h-1zM82 20h1v1h-1zM86 20h1v1h-1zM11 19h1v1h-1zM29 19h1v1h-1zM51 19h3v1h-3zM81 19h1v1h-1zM24 18h1v1h-1zM33 18h1v1h-1zM42 18h1v1h-1zM63 18h1v1h-1zM68 18h1v1h-1zM85 18h1v1h-1zM16 17h1v1h-1zM20 17h2v1h-2zM24 17h1v1h-1zM34 17h1v1h-1zM49 17h1v1h-1zM77 17h1v1h-1zM85 17h1v1h-1zM3 16h1v1h-1zM25 16h1v1h-1zM48 16h1v1h-1zM53 16h1v1h-1zM71 16h1v1h-1zM80 16h2v1h-2zM85 16h1v1h-1zM97 16h1v1h-1zM21 15h1v1h-1zM39 15h1v1h-1zM44 15h1v1h-1zM48 15h1v1h-1zM53 15h1v1h-1zM80 15h1v1h-1zM13 14h1v1h-1zM21 14h1v1h-1zM30 14h1v1h-1zM38 14h1v1h-1zM61 14h1v1h-1zM84 14h1v1h-1zM51 13h1v1h-1zM61 13h1v1h-1zM92 13h1v1h-1zM18 12h1v1h-1zM52 12h1v1h-1zM75 12h1v1h-1zM80 12h1v1h-1zM97 12h1v1h-1zM10 11h1v1h-1zM22 11h1v1h-1zM26 11h1v1h-1zM30 11h1v1h-1zM34 11h2v1h-2zM48 11h1v1h-1zM62 11h1v1h-1zM100 11h1v1h-1zM10 10h1v1h-1zM75 10h1v1h-1zM79 10h1v1h-1zM91 10h1v1h-1zM3 9h1v1h-1zM6 9h1v1h-1zM11 9h1v1h-1zM27 9h1v1h-1zM52 9h1v1h-1zM83 9h1v1h-1zM7 8h1v1h-1zM15 8h1v1h-1zM27 8h1v1h-1zM70 8h2v1h-2zM91 8h1v1h-1zM27 7h1v1h-1zM35 7h1v1h-1zM65 7h1v1h-1zM0 6h1v1h-1zM27 6h1v1h-1zM70 6h1v1h-1zM82 6h1v1h-1zM31 5h2v1h-2zM74 5h1v1h-1zM24 4h1v1h-1zM31 4h1v1h-1zM40 4h1v1h-1zM74 4h1v1h-1zM78 4h1v1h-1zM6 3h1v1h-1zM13 3h1v1h-1zM24 3h1v1h-1zM28 3h1v1h-1zM46 3h1v1h-1zM48 3h1v1h-1zM69 3h1v1h-1zM77 3h2v1h-2zM81 3h1v1h-1zM85 3h1v1h-1zM97 3h1v1h-1zM6 2h1v1h-1zM20 2h2v1h-2zM40 2h2v1h-2zM46 2h1v1h-1zM48 2h1v1h-1zM10 1h1v1h-1zM25 1h1v1h-1zM40 1h1v1h-1zM77 1h1v1h-1zM92 1h1v1h-1zM6 0h1v1h-1zM10 0h1v1h-1zM14 0h1v1h-1zM29 0h1v1h-1zM33 0h1v1h-1zM48 0h1v1h-1zM80 0h1v1h-1zM92 0h1v1h-1z"/>
<path fill="#faebe3" d="M4 124h1v1h-1zM6 124h1v1h-1zM11 124h1v1h-1zM14 124h1v1h-1zM84 124h1v1h-1zM9 123h3v1h-3zM18 123h2v1h-2zM85 123h1v1h-1zM90 123h2v1h-2zM93 123h1v1h-1zM10 122h1v1h-1zM92 122h1v1h-1zM96 122h1v1h-1zM99 122h1v1h-1zM1 121h2v1h-2zM12 121h1v1h-1zM1 120h1v1h-1zM17 120h1v1h-1zM85 120h1v1h-1zM87 120h1v1h-1zM6 118h2v1h-2zM7 117h1v1h-1zM97 117h1v1h-1zM100 117h1v1h-1zM11 116h1v1h-1zM92 116h1v1h-1zM94 116h1v1h-1zM99 116h2v1h-2zM6 115h1v1h-1zM8 115h1v1h-1zM11 115h2v1h-2zM97 115h2v1h-2zM6 114h1v1h-1zM11 114h4v1h-4zM20 114h2v1h-2zM84 114h3v1h-3zM89 114h2v1h-2zM92 114h1v1h-1zM13 113h1v1h-1zM17 113h2v1h-2zM21 113h1v1h-1zM87 113h1v1h-1zM89 113h2v1h-2zM16 112h1v1h-1zM24 112h1v1h-1zM79 112h1v1h-1zM84 112h3v1h-3zM91 112h1v1h-1zM28 110h2v1h-2zM83 110h1v1h-1zM28 109h1v1h-1zM74 109h2v1h-2zM81 109h1v1h-1zM3 108h1v1h-1zM6 108h2v1h-2zM32 108h1v1h-1zM81 108h2v1h-2zM5 107h1v1h-1zM26 107h1v1h-1zM33 107h1v1h-1zM79 107h1v1h-1zM10 106h1v1h-1zM27 106h2v1h-2zM77 106h1v1h-1zM96 106h4v1h-4zM7 105h2v1h-2zM10 105h1v1h-1zM12 105h1v1h-1zM36 105h1v1h-1zM30 104h1v1h-1zM69 104h2v1h-2zM74 104h2v1h-2zM93 104h1v1h-1zM11 103h1v1h-1zM16 103h1v1h-1zM37 103h1v1h-1zM67 103h1v1h-1zM90 103h1v1h-1zM93 103h2v1h-2zM97 103h1v1h-1zM14 102h1v1h-1zM16 102h1v1h-1zM18 102h1v1h-1zM31 102h1v1h-1zM33 102h1v1h-1zM67 102h1v1h-1zM92 102h1v1h-1zM14 101h1v1h-1zM17 101h3v1h-3zM33 101h1v1h-1zM40 101h1v1h-1zM66 101h1v1h-1zM88 101h1v1h-1zM90 101h1v1h-1zM3 100h1v1h-1zM21 100h1v1h-1zM34 100h1v1h-1zM40 100h1v1h-1zM84 100h1v1h-1zM87 100h1v1h-1zM20 99h1v1h-1zM71 99h1v1h-1zM86 99h2v1h-2zM5 98h1v1h-1zM24 98h1v1h-1zM83 98h1v1h-1zM85 98h1v1h-1zM6 97h2v1h-2zM20 97h1v1h-1zM69 97h1v1h-1zM97 97h1v1h-1zM26 96h1v1h-1zM63 96h1v1h-1zM68 96h1v1h-1zM81 96h1v1h-1zM83 96h1v1h-1zM97 96h2v1h-2zM6 95h1v1h-1zM8 95h1v1h-1zM10 95h1v1h-1zM38 95h1v1h-1zM62 95h1v1h-1zM84 95h1v1h-1zM95 95h2v1h-2zM98 95h1v1h-1zM10 94h1v1h-1zM27 94h1v1h-1zM61 94h1v1h-1zM82 94h1v1h-1zM10 93h3v1h-3zM24 93h1v1h-1zM45 93h1v1h-1zM61 93h1v1h-1zM81 93h1v1h-1zM91 93h1v1h-1zM94 93h1v1h-1zM97 93h1v1h-1zM0 92h1v1h-1zM12 92h3v1h-3zM16 92h1v1h-1zM91 92h3v1h-3zM13 91h2v1h-2zM26 91h1v1h-1zM40 91h1v1h-1zM60 91h1v1h-1zM79 91h1v1h-1zM0 90h1v1h-1zM14 90h1v1h-1zM31 90h1v1h-1zM76 90h1v1h-1zM41 89h1v1h-1zM65 89h1v1h-1zM91 89h1v1h-1zM16 88h1v1h-1zM32 88h1v1h-1zM64 88h1v1h-1zM86 88h1v1h-1zM88 88h1v1h-1zM18 87h1v1h-1zM20 87h1v1h-1zM64 87h1v1h-1zM87 87h1v1h-1zM58 86h1v1h-1zM72 86h1v1h-1zM76 86h1v1h-1zM6 85h1v1h-1zM8 85h1v1h-1zM75 85h1v1h-1zM86 85h1v1h-1zM98 85h1v1h-1zM20 84h1v1h-1zM94 84h1v1h-1zM1 83h1v1h-1zM11 83h1v1h-1zM21 83h1v1h-1zM31 83h1v1h-1zM85 83h1v1h-1zM94 83h1v1h-1zM21 82h1v1h-1zM24 82h1v1h-1zM35 82h1v1h-1zM94 82h1v1h-1zM97 82h1v1h-1zM11 81h1v1h-1zM22 81h1v1h-1zM25 81h1v1h-1zM91 81h1v1h-1zM13 80h1v1h-1zM23 80h1v1h-1zM53 80h1v1h-1zM61 80h1v1h-1zM80 80h2v1h-2zM6 79h1v1h-1zM14 79h1v1h-1zM53 79h1v1h-1zM82 79h1v1h-1zM90 79h1v1h-1zM5 78h1v1h-1zM14 78h1v1h-1zM68 78h1v1h-1zM8 77h1v1h-1zM16 77h1v1h-1zM68 77h1v1h-1zM80 77h1v1h-1zM17 76h2v1h-2zM26 76h1v1h-1zM70 76h1v1h-1zM77 76h1v1h-1zM98 76h1v1h-1zM0 75h1v1h-1zM7 75h1v1h-1zM10 75h1v1h-1zM19 75h1v1h-1zM26 75h1v1h-1zM38 75h1v1h-1zM79 75h2v1h-2zM0 74h1v1h-1zM8 74h1v1h-1zM20 74h1v1h-1zM27 74h1v1h-1zM29 74h1v1h-1zM48 74h1v1h-1zM0 73h1v1h-1zM3 73h1v1h-1zM18 73h1v1h-1zM27 73h1v1h-1zM36 73h1v1h-1zM39 73h1v1h-1zM58 73h1v1h-1zM66 73h1v1h-1zM85 73h3v1h-3zM95 73h1v1h-1zM3 72h1v1h-1zM11 72h1v1h-1zM19 72h2v1h-2zM39 72h1v1h-1zM86 72h1v1h-1zM4 71h1v1h-1zM13 71h1v1h-1zM21 71h1v1h-1zM28 71h1v1h-1zM37 71h1v1h-1zM47 71h1v1h-1zM51 71h1v1h-1zM53 71h1v1h-1zM75 71h1v1h-1zM5 70h1v1h-1zM22 70h1v1h-1zM92 70h1v1h-1zM94 70h1v1h-1zM13 69h2v1h-2zM21 69h2v1h-2zM53 69h1v1h-1zM68 69h1v1h-1zM75 69h1v1h-1zM91 69h1v1h-1zM32 68h1v1h-1zM38 68h1v1h-1zM51 68h1v1h-1zM73 68h1v1h-1zM82 68h1v1h-1zM6 67h2v1h-2zM14 67h1v1h-1zM16 67h1v1h-1zM49 67h1v1h-1zM51 67h1v1h-1zM75 67h1v1h-1zM97 67h1v1h-1zM99 67h1v1h-1zM0 66h1v1h-1zM8 66h1v1h-1zM23 66h1v1h-1zM30 66h1v1h-1zM49 66h1v1h-1zM51 66h1v1h-1zM64 66h1v1h-1zM67 66h1v1h-1zM75 66h1v1h-1zM91 66h1v1h-1zM1 65h1v1h-1zM39 65h1v1h-1zM51 65h1v1h-1zM53 65h1v1h-1zM64 65h1v1h-1zM91 65h1v1h-1zM8 64h1v1h-1zM10 64h1v1h-1zM18 64h1v1h-1zM25 64h1v1h-1zM48 64h1v1h-1zM51 64h1v1h-1zM72 64h1v1h-1zM89 64h1v1h-1zM10 63h1v1h-1zM24 63h1v1h-1zM88 63h1v1h-1zM3 62h1v1h-1zM18 62h1v1h-1zM26 62h1v1h-1zM48 62h1v1h-1zM66 62h1v1h-1zM5 61h1v1h-1zM32 61h1v1h-1zM11 60h1v1h-1zM13 60h1v1h-1zM19 60h1v1h-1zM53 60h1v1h-1zM86 60h1v1h-1zM100 60h1v1h-1zM0 59h1v1h-1zM11 59h1v1h-1zM26 59h2v1h-2zM65 59h1v1h-1zM78 59h1v1h-1zM86 59h1v1h-1zM0 58h1v1h-1zM7 58h1v1h-1zM20 58h1v1h-1zM91 58h1v1h-1zM100 58h1v1h-1zM13 57h1v1h-1zM41 57h1v1h-1zM70 57h1v1h-1zM92 57h1v1h-1zM6 56h1v1h-1zM21 56h1v1h-1zM27 56h1v1h-1zM72 56h1v1h-1zM77 56h1v1h-1zM97 56h1v1h-1zM7 55h1v1h-1zM61 55h1v1h-1zM76 55h1v1h-1zM85 55h1v1h-1zM3 54h1v1h-1zM10 54h1v1h-1zM28 54h1v1h-1zM61 54h1v1h-1zM91 54h1v1h-1zM82 53h1v1h-1zM89 53h2v1h-2zM4 52h1v1h-1zM23 52h1v1h-1zM63 52h1v1h-1zM70 52h1v1h-1zM83 52h1v1h-1zM89 52h1v1h-1zM5 51h1v1h-1zM10 51h1v1h-1zM17 51h1v1h-1zM23 51h1v1h-1zM31 51h1v1h-1zM68 51h1v1h-1zM89 51h1v1h-1zM94 51h2v1h-2zM5 50h1v1h-1zM12 50h1v1h-1zM17 50h1v1h-1zM29 50h1v1h-1zM81 50h1v1h-1zM6 49h1v1h-1zM18 49h1v1h-1zM36 49h1v1h-1zM38 49h1v1h-1zM60 49h1v1h-1zM74 49h1v1h-1zM81 49h1v1h-1zM99 49h1v1h-1zM0 48h2v1h-2zM12 48h2v1h-2zM24 48h1v1h-1zM36 48h1v1h-1zM38 48h1v1h-1zM69 48h1v1h-1zM81 48h1v1h-1zM87 48h1v1h-1zM93 48h1v1h-1zM7 47h1v1h-1zM19 47h1v1h-1zM26 47h1v1h-1zM38 47h1v1h-1zM46 47h1v1h-1zM80 47h1v1h-1zM91 47h1v1h-1zM8 46h1v1h-1zM13 46h1v1h-1zM26 46h1v1h-1zM62 46h1v1h-1zM74 46h2v1h-2zM98 46h1v1h-1zM7 45h1v1h-1zM37 45h1v1h-1zM79 45h2v1h-2zM86 45h1v1h-1zM27 44h1v1h-1zM31 44h1v1h-1zM39 44h1v1h-1zM44 44h1v1h-1zM59 44h1v1h-1zM79 44h1v1h-1zM10 43h1v1h-1zM16 43h1v1h-1zM44 43h1v1h-1zM47 43h1v1h-1zM80 43h1v1h-1zM97 43h1v1h-1zM4 42h2v1h-2zM16 42h1v1h-1zM26 42h1v1h-1zM33 42h1v1h-1zM47 42h1v1h-1zM84 42h1v1h-1zM91 42h1v1h-1zM16 41h1v1h-1zM21 41h1v1h-1zM28 41h1v1h-1zM32 41h2v1h-2zM58 41h1v1h-1zM79 41h1v1h-1zM85 41h1v1h-1zM90 41h1v1h-1zM27 40h1v1h-1zM40 40h1v1h-1zM89 40h1v1h-1zM12 39h1v1h-1zM22 39h1v1h-1zM58 39h1v1h-1zM67 39h1v1h-1zM71 39h1v1h-1zM78 39h1v1h-1zM16 38h2v1h-2zM23 38h1v1h-1zM45 38h1v1h-1zM82 38h1v1h-1zM2 37h1v1h-1zM6 37h2v1h-2zM17 37h2v1h-2zM60 37h1v1h-1zM3 36h1v1h-1zM13 36h1v1h-1zM18 36h1v1h-1zM28 36h1v1h-1zM35 36h1v1h-1zM92 36h1v1h-1zM9 35h1v1h-1zM18 35h2v1h-2zM35 35h1v1h-1zM19 34h1v1h-1zM41 34h1v1h-1zM60 34h1v1h-1zM82 34h1v1h-1zM4 33h1v1h-1zM19 33h2v1h-2zM29 33h1v1h-1zM81 33h2v1h-2zM6 32h1v1h-1zM14 32h1v1h-1zM20 32h1v1h-1zM24 32h1v1h-1zM59 32h1v1h-1zM81 32h1v1h-1zM90 32h1v1h-1zM5 31h2v1h-2zM40 31h1v1h-1zM59 31h1v1h-1zM64 31h1v1h-1zM71 31h1v1h-1zM81 31h1v1h-1zM90 31h2v1h-2zM21 30h1v1h-1zM48 30h1v1h-1zM71 30h1v1h-1zM91 30h1v1h-1zM100 30h1v1h-1zM10 29h2v1h-2zM25 29h1v1h-1zM69 29h1v1h-1zM90 29h1v1h-1zM94 29h1v1h-1zM6 28h2v1h-2zM30 28h1v1h-1zM35 28h1v1h-1zM47 28h1v1h-1zM74 28h2v1h-2zM89 28h1v1h-1zM98 28h1v1h-1zM7 27h2v1h-2zM12 27h1v1h-1zM17 27h1v1h-1zM32 27h1v1h-1zM48 27h1v1h-1zM63 27h1v1h-1zM97 27h2v1h-2zM17 26h1v1h-1zM22 26h1v1h-1zM27 26h1v1h-1zM32 26h1v1h-1zM83 26h1v1h-1zM31 25h1v1h-1zM36 25h1v1h-1zM78 25h1v1h-1zM83 25h1v1h-1zM9 24h1v1h-1zM36 24h1v1h-1zM53 24h1v1h-1zM68 24h1v1h-1zM74 24h1v1h-1zM92 24h1v1h-1zM5 23h1v1h-1zM10 23h1v1h-1zM13 23h1v1h-1zM27 23h1v1h-1zM43 23h1v1h-1zM69 23h1v1h-1zM0 22h2v1h-2zM6 22h1v1h-1zM19 22h1v1h-1zM23 22h1v1h-1zM27 22h1v1h-1zM91 22h1v1h-1zM100 22h1v1h-1zM0 21h1v1h-1zM23 21h1v1h-1zM38 21h1v1h-1zM53 21h1v1h-1zM62 21h1v1h-1zM72 21h1v1h-1zM86 21h1v1h-1zM100 21h1v1h-1zM19 20h1v1h-1zM33 20h1v1h-1zM38 20h1v1h-1zM48 20h1v1h-1zM53 20h1v1h-1zM91 20h1v1h-1zM2 19h1v1h-1zM7 19h1v1h-1zM16 19h1v1h-1zM28 19h1v1h-1zM37 19h1v1h-1zM49 19h1v1h-1zM67 19h1v1h-1zM86 19h1v1h-1zM90 19h2v1h-2zM20 18h1v1h-1zM34 18h1v1h-1zM49 18h1v1h-1zM53 18h1v1h-1zM77 18h1v1h-1zM81 18h1v1h-1zM7 17h1v1h-1zM11 17h2v1h-2zM25 17h1v1h-1zM48 17h1v1h-1zM53 17h1v1h-1zM76 17h1v1h-1zM94 17h1v1h-1zM0 16h1v1h-1zM8 16h1v1h-1zM12 16h1v1h-1zM20 16h2v1h-2zM33 16h1v1h-1zM39 16h1v1h-1zM51 16h1v1h-1zM20 15h1v1h-1zM29 15h1v1h-1zM51 15h1v1h-1zM0 14h1v1h-1zM72 14h1v1h-1zM76 14h1v1h-1zM89 14h1v1h-1zM0 13h1v1h-1zM5 13h1v1h-1zM21 13h1v1h-1zM25 13h1v1h-1zM53 13h1v1h-1zM72 13h1v1h-1zM76 13h1v1h-1zM80 13h1v1h-1zM6 12h1v1h-1zM13 12h1v1h-1zM21 12h1v1h-1zM26 12h1v1h-1zM67 12h1v1h-1zM79 12h1v1h-1zM84 12h1v1h-1zM6 11h1v1h-1zM31 11h1v1h-1zM40 11h1v1h-1zM51 11h1v1h-1zM83 11h1v1h-1zM92 11h1v1h-1zM26 10h1v1h-1zM30 10h1v1h-1zM62 10h1v1h-1zM92 10h1v1h-1zM18 9h1v1h-1zM30 9h1v1h-1zM40 9h1v1h-1zM62 9h1v1h-1zM78 9h2v1h-2zM6 8h1v1h-1zM11 8h1v1h-1zM19 8h1v1h-1zM53 8h1v1h-1zM65 8h1v1h-1zM78 8h1v1h-1zM90 8h1v1h-1zM0 7h1v1h-1zM19 7h1v1h-1zM36 7h1v1h-1zM60 7h1v1h-1zM74 7h1v1h-1zM86 7h1v1h-1zM94 7h1v1h-1zM12 6h1v1h-1zM32 6h1v1h-1zM78 6h1v1h-1zM86 6h1v1h-1zM97 6h1v1h-1zM0 5h1v1h-1zM4 5h1v1h-1zM8 5h1v1h-1zM20 5h1v1h-1zM28 5h1v1h-1zM66 5h1v1h-1zM70 5h1v1h-1zM82 5h1v1h-1zM5 4h1v1h-1zM16 4h1v1h-1zM28 4h1v1h-1zM46 4h1v1h-1zM69 4h1v1h-1zM85 4h2v1h-2zM97 4h1v1h-1zM89 3h1v1h-1zM100 3h1v1h-1zM5 2h1v1h-1zM13 2h1v1h-1zM92 2h1v1h-1zM17 1h1v1h-1zM24 1h1v1h-1zM32 1h1v1h-1zM59 1h1v1h-1zM69 1h1v1h-1zM84 1h1v1h-1zM88 1h1v1h-1zM3 0h1v1h-1zM59 0h1v1h-1zM64 0h1v1h-1zM77 0h1v1h-1zM85 0h1v1h-1z"/>
<path fill="#fbe6d9" d="M3 124h1v1h-1zM5 124h1v1h-1zM17 124h1v1h-1zM83 124h1v1h-1zM85 124h1v1h-1zM90 124h1v1h-1zM1 123h2v1h-2zM4 123h1v1h-1zM12 123h1v1h-1zM88 123h1v1h-1zM96 123h1v1h-1zM99 123h1v1h-1zM4 122h1v1h-1zM15 122h1v1h-1zM89 122h1v1h-1zM98 122h1v1h-1zM4 121h1v1h-1zM9 121h1v1h-1zM17 121h1v1h-1zM19 121h1v1h-1zM91 121h1v1h-1zM7 120h1v1h-1zM14 120h1v1h-1zM84 120h1v1h-1zM92 120h1v1h-1zM6 119h1v1h-1zM0 118h1v1h-1zM2 118h2v1h-2zM5 118h1v1h-1zM96 118h1v1h-1zM8 117h1v1h-1zM10 117h1v1h-1zM95 117h1v1h-1zM2 116h4v1h-4zM12 116h1v1h-1zM14 116h1v1h-1zM89 116h1v1h-1zM98 116h1v1h-1zM4 115h2v1h-2zM9 115h2v1h-2zM13 115h1v1h-1zM87 115h1v1h-1zM89 115h1v1h-1zM92 115h1v1h-1zM94 115h1v1h-1zM96 115h1v1h-1zM5 114h1v1h-1zM7 114h1v1h-1zM15 114h1v1h-1zM18 114h1v1h-1zM87 114h1v1h-1zM95 114h1v1h-1zM82 113h1v1h-1zM84 113h1v1h-1zM23 112h1v1h-1zM81 112h1v1h-1zM89 112h1v1h-1zM29 111h1v1h-1zM77 111h1v1h-1zM85 111h1v1h-1zM19 110h1v1h-1zM22 110h1v1h-1zM30 110h2v1h-2zM85 110h1v1h-1zM0 109h1v1h-1zM6 109h1v1h-1zM32 109h1v1h-1zM80 109h1v1h-1zM83 109h1v1h-1zM4 108h2v1h-2zM7 107h2v1h-2zM25 107h1v1h-1zM71 107h1v1h-1zM100 107h1v1h-1zM79 106h1v1h-1zM100 106h1v1h-1zM9 105h1v1h-1zM11 105h1v1h-1zM70 105h1v1h-1zM77 105h1v1h-1zM92 105h1v1h-1zM6 104h1v1h-1zM11 104h1v1h-1zM13 104h2v1h-2zM16 104h1v1h-1zM68 104h1v1h-1zM95 104h2v1h-2zM10 103h1v1h-1zM12 103h1v1h-1zM15 103h1v1h-1zM6 102h1v1h-1zM10 102h1v1h-1zM12 102h2v1h-2zM39 102h1v1h-1zM88 102h3v1h-3zM20 101h1v1h-1zM73 101h1v1h-1zM85 101h1v1h-1zM89 101h1v1h-1zM1 100h2v1h-2zM17 100h1v1h-1zM72 100h1v1h-1zM85 100h1v1h-1zM1 99h3v1h-3zM7 99h1v1h-1zM16 99h1v1h-1zM18 99h1v1h-1zM35 99h1v1h-1zM41 99h1v1h-1zM72 99h1v1h-1zM89 99h1v1h-1zM7 98h1v1h-1zM21 98h3v1h-3zM42 98h1v1h-1zM64 98h1v1h-1zM99 98h1v1h-1zM8 97h1v1h-1zM22 97h1v1h-1zM24 97h2v1h-2zM48 97h1v1h-1zM63 97h1v1h-1zM80 97h1v1h-1zM86 97h1v1h-1zM100 97h1v1h-1zM8 96h1v1h-1zM21 96h1v1h-1zM43 96h1v1h-1zM84 96h1v1h-1zM99 96h2v1h-2zM21 95h1v1h-1zM44 95h1v1h-1zM68 95h1v1h-1zM79 95h1v1h-1zM83 95h1v1h-1zM44 94h1v1h-1zM95 94h1v1h-1zM0 93h1v1h-1zM93 93h1v1h-1zM39 92h1v1h-1zM60 92h1v1h-1zM0 91h1v1h-1zM3 91h1v1h-1zM16 91h1v1h-1zM27 91h1v1h-1zM46 91h1v1h-1zM80 91h1v1h-1zM90 91h1v1h-1zM92 91h1v1h-1zM15 90h1v1h-1zM65 90h1v1h-1zM79 90h1v1h-1zM89 90h2v1h-2zM4 89h1v1h-1zM17 89h2v1h-2zM90 89h1v1h-1zM100 89h1v1h-1zM4 88h2v1h-2zM7 88h1v1h-1zM17 88h1v1h-1zM47 88h1v1h-1zM73 88h1v1h-1zM77 88h2v1h-2zM87 88h1v1h-1zM89 88h1v1h-1zM91 88h1v1h-1zM97 88h1v1h-1zM100 88h1v1h-1zM5 87h1v1h-1zM7 87h2v1h-2zM16 87h2v1h-2zM58 87h1v1h-1zM84 87h2v1h-2zM98 87h1v1h-1zM7 86h1v1h-1zM21 86h1v1h-1zM29 86h1v1h-1zM63 86h1v1h-1zM88 86h1v1h-1zM9 85h1v1h-1zM49 85h1v1h-1zM58 85h1v1h-1zM84 85h2v1h-2zM0 84h1v1h-1zM6 84h1v1h-1zM9 84h1v1h-1zM11 84h1v1h-1zM86 84h1v1h-1zM96 84h1v1h-1zM98 84h1v1h-1zM0 83h1v1h-1zM12 83h1v1h-1zM22 83h1v1h-1zM49 83h1v1h-1zM74 83h1v1h-1zM82 83h1v1h-1zM95 83h1v1h-1zM97 83h1v1h-1zM1 82h3v1h-3zM22 82h2v1h-2zM53 82h1v1h-1zM92 82h1v1h-1zM12 81h1v1h-1zM14 81h1v1h-1zM33 81h1v1h-1zM70 81h1v1h-1zM81 81h1v1h-1zM94 81h1v1h-1zM3 80h1v1h-1zM6 80h1v1h-1zM14 80h1v1h-1zM51 80h1v1h-1zM73 80h1v1h-1zM83 80h1v1h-1zM13 79h1v1h-1zM15 79h1v1h-1zM26 79h1v1h-1zM79 79h1v1h-1zM91 79h1v1h-1zM51 78h1v1h-1zM53 78h1v1h-1zM72 78h1v1h-1zM79 78h1v1h-1zM81 78h1v1h-1zM100 78h1v1h-1zM7 77h1v1h-1zM27 77h1v1h-1zM60 77h1v1h-1zM81 77h1v1h-1zM89 77h3v1h-3zM97 77h1v1h-1zM99 77h2v1h-2zM34 76h1v1h-1zM45 76h2v1h-2zM48 76h1v1h-1zM60 76h1v1h-1zM71 76h1v1h-1zM86 76h1v1h-1zM88 76h1v1h-1zM20 75h1v1h-1zM35 75h1v1h-1zM87 75h2v1h-2zM1 74h1v1h-1zM18 74h1v1h-1zM26 74h1v1h-1zM46 74h1v1h-1zM77 74h1v1h-1zM79 74h1v1h-1zM87 74h2v1h-2zM95 74h2v1h-2zM2 73h1v1h-1zM10 73h2v1h-2zM30 73h1v1h-1zM47 73h1v1h-1zM79 73h1v1h-1zM96 73h2v1h-2zM2 72h1v1h-1zM10 72h1v1h-1zM3 71h1v1h-1zM5 71h1v1h-1zM11 71h1v1h-1zM31 71h1v1h-1zM40 71h1v1h-1zM84 71h1v1h-1zM94 71h1v1h-1zM12 70h1v1h-1zM14 70h1v1h-1zM20 70h1v1h-1zM28 70h1v1h-1zM37 70h1v1h-1zM7 69h1v1h-1zM20 69h1v1h-1zM82 69h4v1h-4zM92 69h1v1h-1zM100 69h1v1h-1zM7 68h1v1h-1zM14 68h1v1h-1zM22 68h1v1h-1zM41 68h1v1h-1zM49 68h1v1h-1zM76 68h1v1h-1zM99 68h1v1h-1zM38 67h1v1h-1zM73 67h1v1h-1zM83 67h2v1h-2zM100 67h1v1h-1zM1 66h1v1h-1zM6 66h1v1h-1zM14 66h1v1h-1zM81 66h1v1h-1zM83 66h1v1h-1zM98 66h1v1h-1zM0 65h1v1h-1zM7 65h1v1h-1zM9 65h2v1h-2zM89 65h1v1h-1zM0 64h1v1h-1zM17 64h1v1h-1zM53 64h1v1h-1zM80 64h1v1h-1zM88 64h1v1h-1zM97 64h1v1h-1zM16 63h3v1h-3zM26 63h1v1h-1zM4 62h1v1h-1zM17 62h1v1h-1zM24 62h1v1h-1zM43 62h1v1h-1zM53 62h1v1h-1zM63 62h1v1h-1zM71 62h1v1h-1zM81 62h1v1h-1zM87 62h1v1h-1zM10 61h2v1h-2zM20 61h1v1h-1zM43 61h1v1h-1zM51 61h1v1h-1zM86 61h1v1h-1zM94 61h1v1h-1zM100 61h1v1h-1zM5 60h2v1h-2zM18 60h1v1h-1zM40 60h1v1h-1zM78 60h1v1h-1zM87 60h1v1h-1zM92 60h1v1h-1zM5 59h1v1h-1zM7 59h1v1h-1zM12 59h3v1h-3zM53 59h1v1h-1zM62 59h1v1h-1zM80 59h1v1h-1zM85 59h1v1h-1zM100 59h1v1h-1zM21 58h1v1h-1zM65 58h1v1h-1zM86 58h1v1h-1zM97 58h1v1h-1zM0 57h1v1h-1zM8 57h1v1h-1zM20 57h1v1h-1zM72 57h1v1h-1zM79 57h1v1h-1zM86 57h1v1h-1zM98 57h1v1h-1zM0 56h3v1h-3zM7 56h1v1h-1zM9 56h1v1h-1zM13 56h1v1h-1zM20 56h1v1h-1zM29 56h1v1h-1zM44 56h1v1h-1zM70 56h1v1h-1zM91 56h2v1h-2zM98 56h1v1h-1zM3 55h1v1h-1zM16 55h1v1h-1zM22 55h1v1h-1zM34 55h1v1h-1zM48 55h1v1h-1zM64 55h1v1h-1zM78 55h1v1h-1zM83 55h1v1h-1zM90 55h1v1h-1zM92 55h1v1h-1zM2 54h1v1h-1zM22 54h2v1h-2zM30 54h1v1h-1zM69 54h1v1h-1zM77 54h2v1h-2zM83 54h2v1h-2zM90 54h1v1h-1zM15 53h1v1h-1zM37 53h1v1h-1zM77 53h1v1h-1zM83 53h1v1h-1zM95 53h1v1h-1zM3 52h1v1h-1zM10 52h2v1h-2zM35 52h1v1h-1zM42 52h1v1h-1zM75 52h1v1h-1zM77 52h1v1h-1zM96 52h1v1h-1zM4 51h1v1h-1zM6 51h1v1h-1zM18 51h1v1h-1zM70 51h1v1h-1zM11 50h1v1h-1zM25 50h1v1h-1zM60 50h1v1h-1zM94 50h1v1h-1zM0 49h1v1h-1zM7 49h1v1h-1zM12 49h2v1h-2zM19 49h1v1h-1zM23 49h1v1h-1zM25 49h1v1h-1zM92 49h1v1h-1zM18 48h2v1h-2zM80 48h1v1h-1zM92 48h1v1h-1zM99 48h1v1h-1zM2 47h1v1h-1zM6 47h1v1h-1zM8 47h1v1h-1zM13 47h2v1h-2zM20 47h1v1h-1zM43 47h1v1h-1zM67 47h1v1h-1zM69 47h1v1h-1zM2 46h1v1h-1zM7 46h1v1h-1zM43 46h1v1h-1zM46 46h1v1h-1zM73 46h1v1h-1zM81 46h1v1h-1zM2 45h2v1h-2zM39 45h1v1h-1zM62 45h1v1h-1zM92 45h1v1h-1zM8 44h1v1h-1zM21 44h1v1h-1zM86 44h1v1h-1zM4 43h1v1h-1zM20 43h1v1h-1zM26 43h1v1h-1zM33 43h1v1h-1zM68 43h1v1h-1zM74 43h1v1h-1zM90 43h1v1h-1zM96 43h1v1h-1zM0 42h1v1h-1zM10 42h1v1h-1zM40 42h1v1h-1zM85 42h1v1h-1zM97 42h1v1h-1zM0 41h1v1h-1zM22 41h1v1h-1zM89 41h1v1h-1zM94 41h2v1h-2zM10 40h1v1h-1zM17 40h1v1h-1zM21 40h1v1h-1zM34 40h1v1h-1zM58 40h1v1h-1zM61 40h1v1h-1zM83 40h2v1h-2zM100 40h1v1h-1zM11 39h1v1h-1zM16 39h2v1h-2zM27 39h1v1h-1zM65 39h1v1h-1zM82 39h2v1h-2zM88 39h2v1h-2zM94 39h1v1h-1zM99 39h1v1h-1zM8 38h1v1h-1zM11 38h1v1h-1zM29 38h1v1h-1zM67 38h1v1h-1zM88 38h1v1h-1zM8 37h1v1h-1zM12 37h1v1h-1zM23 37h1v1h-1zM28 37h1v1h-1zM33 37h1v1h-1zM76 37h1v1h-1zM83 37h1v1h-1zM23 36h1v1h-1zM39 36h1v1h-1zM41 36h1v1h-1zM76 36h1v1h-1zM87 36h1v1h-1zM8 35h1v1h-1zM14 35h1v1h-1zM30 35h1v1h-1zM77 35h1v1h-1zM81 35h1v1h-1zM86 35h1v1h-1zM3 34h1v1h-1zM9 34h1v1h-1zM20 34h1v1h-1zM81 34h1v1h-1zM0 33h1v1h-1zM14 33h1v1h-1zM25 33h1v1h-1zM49 33h1v1h-1zM80 33h1v1h-1zM92 33h1v1h-1zM9 32h1v1h-1zM15 32h2v1h-2zM29 32h1v1h-1zM34 32h1v1h-1zM36 32h1v1h-1zM95 32h2v1h-2zM100 32h1v1h-1zM0 31h1v1h-1zM15 31h1v1h-1zM26 31h1v1h-1zM76 31h1v1h-1zM86 31h1v1h-1zM100 31h1v1h-1zM11 30h1v1h-1zM59 30h1v1h-1zM89 30h2v1h-2zM1 29h1v1h-1zM7 29h1v1h-1zM20 29h1v1h-1zM84 29h1v1h-1zM100 29h1v1h-1zM57 28h1v1h-1zM80 28h1v1h-1zM84 28h2v1h-2zM93 28h1v1h-1zM3 27h1v1h-1zM16 27h1v1h-1zM27 27h1v1h-1zM65 27h1v1h-1zM80 27h1v1h-1zM84 27h1v1h-1zM89 27h1v1h-1zM93 27h2v1h-2zM7 26h2v1h-2zM13 26h1v1h-1zM21 26h1v1h-1zM26 26h1v1h-1zM47 26h1v1h-1zM53 26h1v1h-1zM58 26h1v1h-1zM63 26h1v1h-1zM78 26h1v1h-1zM84 26h1v1h-1zM88 26h1v1h-1zM92 26h1v1h-1zM97 26h1v1h-1zM13 25h1v1h-1zM18 25h1v1h-1zM26 25h1v1h-1zM47 25h1v1h-1zM58 25h1v1h-1zM84 25h1v1h-1zM0 24h1v1h-1zM14 24h1v1h-1zM22 24h2v1h-2zM79 24h1v1h-1zM83 24h1v1h-1zM0 23h1v1h-1zM23 23h1v1h-1zM41 23h1v1h-1zM74 23h1v1h-1zM82 23h2v1h-2zM96 23h2v1h-2zM5 22h1v1h-1zM10 22h1v1h-1zM33 22h1v1h-1zM51 22h1v1h-1zM97 22h1v1h-1zM1 21h1v1h-1zM7 21h1v1h-1zM10 21h1v1h-1zM14 21h1v1h-1zM87 21h1v1h-1zM10 20h2v1h-2zM15 20h1v1h-1zM20 20h1v1h-1zM78 20h1v1h-1zM81 20h1v1h-1zM90 20h1v1h-1zM3 19h1v1h-1zM19 19h1v1h-1zM82 19h1v1h-1zM85 19h1v1h-1zM94 19h2v1h-2zM2 18h2v1h-2zM11 18h1v1h-1zM15 18h1v1h-1zM44 18h1v1h-1zM73 18h1v1h-1zM76 18h1v1h-1zM86 18h1v1h-1zM97 18h2v1h-2zM3 17h1v1h-1zM52 17h1v1h-1zM68 17h1v1h-1zM80 17h2v1h-2zM97 17h2v1h-2zM4 16h1v1h-1zM16 16h2v1h-2zM30 16h1v1h-1zM49 16h1v1h-1zM61 16h1v1h-1zM89 16h1v1h-1zM94 16h1v1h-1zM63 15h1v1h-1zM89 15h1v1h-1zM1 14h1v1h-1zM5 14h1v1h-1zM12 14h1v1h-1zM16 14h2v1h-2zM26 14h1v1h-1zM53 14h1v1h-1zM75 14h1v1h-1zM6 13h1v1h-1zM13 13h1v1h-1zM22 13h1v1h-1zM26 13h1v1h-1zM35 13h1v1h-1zM88 13h1v1h-1zM100 13h1v1h-1zM1 12h1v1h-1zM10 12h1v1h-1zM22 12h1v1h-1zM31 12h1v1h-1zM35 12h1v1h-1zM45 12h1v1h-1zM91 12h2v1h-2zM100 12h1v1h-1zM14 11h1v1h-1zM18 11h1v1h-1zM43 11h1v1h-1zM67 11h1v1h-1zM14 10h1v1h-1zM19 10h1v1h-1zM53 10h1v1h-1zM74 10h1v1h-1zM83 10h1v1h-1zM95 10h1v1h-1zM99 10h2v1h-2zM10 9h1v1h-1zM14 9h1v1h-1zM26 9h1v1h-1zM51 9h1v1h-1zM53 9h1v1h-1zM60 9h1v1h-1zM70 9h1v1h-1zM74 9h2v1h-2zM95 9h1v1h-1zM98 9h2v1h-2zM39 8h1v1h-1zM51 8h1v1h-1zM79 8h1v1h-1zM82 8h2v1h-2zM86 8h1v1h-1zM98 8h1v1h-1zM7 7h2v1h-2zM11 7h1v1h-1zM16 7h1v1h-1zM20 7h1v1h-1zM23 7h1v1h-1zM51 7h1v1h-1zM53 7h1v1h-1zM79 7h1v1h-1zM90 7h1v1h-1zM98 7h1v1h-1zM4 6h1v1h-1zM7 6h2v1h-2zM11 6h1v1h-1zM19 6h2v1h-2zM24 6h1v1h-1zM28 6h1v1h-1zM35 6h1v1h-1zM53 6h1v1h-1zM85 6h1v1h-1zM94 6h1v1h-1zM98 6h1v1h-1zM12 5h1v1h-1zM24 5h1v1h-1zM46 5h1v1h-1zM53 5h1v1h-1zM73 5h1v1h-1zM77 5h1v1h-1zM86 5h1v1h-1zM1 4h1v1h-1zM9 4h1v1h-1zM13 4h1v1h-1zM66 4h1v1h-1zM70 4h1v1h-1zM77 4h1v1h-1zM89 4h1v1h-1zM5 3h1v1h-1zM16 3h2v1h-2zM53 3h1v1h-1zM59 3h1v1h-1zM82 3h1v1h-1zM92 3h2v1h-2zM2 2h1v1h-1zM10 2h1v1h-1zM16 2h2v1h-2zM28 2h1v1h-1zM61 2h1v1h-1zM89 2h1v1h-1zM97 2h1v1h-1zM13 1h1v1h-1zM29 1h1v1h-1zM33 1h1v1h-1zM81 1h1v1h-1zM85 1h1v1h-1zM99 1h1v1h-1zM7 0h1v1h-1zM18 0h1v1h-1zM32 0h1v1h-1zM81 0h1v1h-1zM84 0h1v1h-1zM99 0h1v1h-1z"/>
<path fill="#fce0cf" d="M7 124h1v1h-1zM9 124h1v1h-1zM12 124h2v1h-2zM0 123h1v1h-1zM6 123h1v1h-1zM100 123h1v1h-1zM0 122h1v1h-1zM88 122h1v1h-1zM90 122h1v1h-1zM93 122h1v1h-1zM5 121h1v1h-1zM2 120h1v1h-1zM15 120h1v1h-1zM93 120h1v1h-1zM98 120h2v1h-2zM1 118h1v1h-1zM91 118h1v1h-1zM100 118h1v1h-1zM9 117h1v1h-1zM11 117h1v1h-1zM96 117h1v1h-1zM98 117h2v1h-2zM0 116h1v1h-1zM9 116h1v1h-1zM13 116h1v1h-1zM1 115h1v1h-1zM3 115h1v1h-1zM15 115h3v1h-3zM20 115h1v1h-1zM85 115h2v1h-2zM90 115h1v1h-1zM93 115h1v1h-1zM99 115h2v1h-2zM3 114h1v1h-1zM8 114h2v1h-2zM17 114h1v1h-1zM19 114h1v1h-1zM88 114h1v1h-1zM93 114h2v1h-2zM98 114h1v1h-1zM6 113h1v1h-1zM10 113h3v1h-3zM14 113h2v1h-2zM22 113h1v1h-1zM24 113h1v1h-1zM81 113h1v1h-1zM88 113h1v1h-1zM93 113h1v1h-1zM97 113h1v1h-1zM6 112h1v1h-1zM13 112h2v1h-2zM18 112h1v1h-1zM27 112h1v1h-1zM78 112h1v1h-1zM80 112h1v1h-1zM87 112h2v1h-2zM92 112h1v1h-1zM97 112h1v1h-1zM10 111h1v1h-1zM17 111h1v1h-1zM27 111h2v1h-2zM90 111h1v1h-1zM97 111h1v1h-1zM0 110h1v1h-1zM16 110h1v1h-1zM20 110h1v1h-1zM75 110h1v1h-1zM86 110h1v1h-1zM20 109h1v1h-1zM22 109h1v1h-1zM85 109h1v1h-1zM72 108h1v1h-1zM85 108h1v1h-1zM0 107h1v1h-1zM3 107h2v1h-2zM27 107h1v1h-1zM80 107h1v1h-1zM0 106h1v1h-1zM8 106h1v1h-1zM13 106h1v1h-1zM25 106h1v1h-1zM78 106h1v1h-1zM94 106h1v1h-1zM69 105h1v1h-1zM94 105h1v1h-1zM96 105h1v1h-1zM7 104h1v1h-1zM12 104h1v1h-1zM76 104h1v1h-1zM92 104h1v1h-1zM6 103h1v1h-1zM8 103h1v1h-1zM17 103h1v1h-1zM30 103h1v1h-1zM38 103h1v1h-1zM87 103h1v1h-1zM11 102h1v1h-1zM17 102h1v1h-1zM19 102h1v1h-1zM66 102h1v1h-1zM94 102h1v1h-1zM15 101h1v1h-1zM32 101h1v1h-1zM86 101h2v1h-2zM92 101h1v1h-1zM6 100h1v1h-1zM89 100h3v1h-3zM6 99h1v1h-1zM17 99h1v1h-1zM22 99h1v1h-1zM43 99h1v1h-1zM64 99h1v1h-1zM83 99h1v1h-1zM100 99h1v1h-1zM0 98h1v1h-1zM3 98h1v1h-1zM8 98h1v1h-1zM16 98h1v1h-1zM35 98h1v1h-1zM43 98h1v1h-1zM70 98h2v1h-2zM97 98h1v1h-1zM100 98h1v1h-1zM4 97h1v1h-1zM19 97h1v1h-1zM36 97h1v1h-1zM99 97h1v1h-1zM5 96h1v1h-1zM20 96h1v1h-1zM22 96h1v1h-1zM80 96h1v1h-1zM85 96h1v1h-1zM5 95h1v1h-1zM11 95h2v1h-2zM23 95h1v1h-1zM37 95h1v1h-1zM85 95h1v1h-1zM6 94h2v1h-2zM9 94h1v1h-1zM12 94h2v1h-2zM37 94h1v1h-1zM77 94h1v1h-1zM83 94h1v1h-1zM92 94h1v1h-1zM94 94h1v1h-1zM29 93h1v1h-1zM77 93h1v1h-1zM82 93h1v1h-1zM92 93h1v1h-1zM95 93h1v1h-1zM1 92h1v1h-1zM10 92h2v1h-2zM30 92h1v1h-1zM46 92h1v1h-1zM76 92h1v1h-1zM81 92h1v1h-1zM97 92h1v1h-1zM1 91h1v1h-1zM11 91h1v1h-1zM39 91h1v1h-1zM47 91h1v1h-1zM66 91h1v1h-1zM75 91h1v1h-1zM89 91h1v1h-1zM2 90h1v1h-1zM6 90h1v1h-1zM11 90h1v1h-1zM13 90h1v1h-1zM26 90h1v1h-1zM46 90h2v1h-2zM66 90h1v1h-1zM3 89h1v1h-1zM7 89h1v1h-1zM14 89h1v1h-1zM19 89h1v1h-1zM27 89h1v1h-1zM74 89h1v1h-1zM78 89h1v1h-1zM88 89h2v1h-2zM99 89h1v1h-1zM3 88h1v1h-1zM85 88h1v1h-1zM98 88h2v1h-2zM41 87h1v1h-1zM72 87h1v1h-1zM77 87h1v1h-1zM100 87h1v1h-1zM16 86h1v1h-1zM53 86h1v1h-1zM95 86h1v1h-1zM98 86h1v1h-1zM7 85h1v1h-1zM11 85h1v1h-1zM19 85h1v1h-1zM34 85h1v1h-1zM42 85h1v1h-1zM54 85h1v1h-1zM83 85h1v1h-1zM94 85h1v1h-1zM96 85h1v1h-1zM99 85h1v1h-1zM12 84h1v1h-1zM19 84h1v1h-1zM22 84h1v1h-1zM49 84h1v1h-1zM63 84h1v1h-1zM13 83h1v1h-1zM20 83h1v1h-1zM23 83h1v1h-1zM43 83h1v1h-1zM96 83h1v1h-1zM0 82h1v1h-1zM11 82h1v1h-1zM20 82h1v1h-1zM25 82h1v1h-1zM51 82h1v1h-1zM81 82h1v1h-1zM85 82h1v1h-1zM95 82h1v1h-1zM3 81h1v1h-1zM6 81h1v1h-1zM36 81h1v1h-1zM80 81h1v1h-1zM84 81h1v1h-1zM5 80h1v1h-1zM12 80h1v1h-1zM15 80h2v1h-2zM44 80h1v1h-1zM90 80h1v1h-1zM94 80h1v1h-1zM7 79h1v1h-1zM12 79h1v1h-1zM37 79h1v1h-1zM92 79h1v1h-1zM99 79h2v1h-2zM13 78h1v1h-1zM27 78h1v1h-1zM61 78h1v1h-1zM78 78h1v1h-1zM82 78h1v1h-1zM89 78h2v1h-2zM97 78h1v1h-1zM0 77h1v1h-1zM18 77h1v1h-1zM24 77h1v1h-1zM34 77h1v1h-1zM38 77h1v1h-1zM98 77h1v1h-1zM0 76h1v1h-1zM28 76h1v1h-1zM90 76h1v1h-1zM99 76h1v1h-1zM6 75h1v1h-1zM17 75h1v1h-1zM70 75h1v1h-1zM77 75h1v1h-1zM86 75h1v1h-1zM89 75h1v1h-1zM91 75h1v1h-1zM96 75h1v1h-1zM7 74h1v1h-1zM9 74h1v1h-1zM11 74h1v1h-1zM16 74h1v1h-1zM39 74h1v1h-1zM59 74h1v1h-1zM1 73h1v1h-1zM9 73h1v1h-1zM12 73h2v1h-2zM59 73h1v1h-1zM88 73h1v1h-1zM94 73h1v1h-1zM12 72h1v1h-1zM21 72h1v1h-1zM59 72h1v1h-1zM69 72h1v1h-1zM84 72h1v1h-1zM93 72h1v1h-1zM95 72h1v1h-1zM2 71h1v1h-1zM6 71h1v1h-1zM12 71h1v1h-1zM22 71h1v1h-1zM92 71h1v1h-1zM100 71h1v1h-1zM6 70h1v1h-1zM11 70h1v1h-1zM47 70h1v1h-1zM58 70h1v1h-1zM65 70h1v1h-1zM75 70h1v1h-1zM83 70h1v1h-1zM91 70h1v1h-1zM4 69h1v1h-1zM28 69h1v1h-1zM47 69h1v1h-1zM74 69h1v1h-1zM0 68h1v1h-1zM5 68h1v1h-1zM13 68h1v1h-1zM15 68h1v1h-1zM23 68h1v1h-1zM29 68h1v1h-1zM92 68h1v1h-1zM8 67h1v1h-1zM24 67h1v1h-1zM76 67h1v1h-1zM90 67h1v1h-1zM15 66h1v1h-1zM90 66h1v1h-1zM6 65h1v1h-1zM8 65h1v1h-1zM17 65h1v1h-1zM23 65h1v1h-1zM25 65h1v1h-1zM72 65h1v1h-1zM75 65h1v1h-1zM88 65h1v1h-1zM90 65h1v1h-1zM1 64h3v1h-3zM87 64h1v1h-1zM96 64h1v1h-1zM98 64h1v1h-1zM3 63h1v1h-1zM11 63h1v1h-1zM34 63h1v1h-1zM51 63h1v1h-1zM82 63h1v1h-1zM95 63h2v1h-2zM12 62h1v1h-1zM86 62h1v1h-1zM94 62h2v1h-2zM97 62h1v1h-1zM3 61h2v1h-2zM12 61h1v1h-1zM19 61h1v1h-1zM53 61h1v1h-1zM85 61h1v1h-1zM95 61h1v1h-1zM7 60h1v1h-1zM20 60h1v1h-1zM25 60h1v1h-1zM32 60h1v1h-1zM35 60h1v1h-1zM85 60h1v1h-1zM93 60h2v1h-2zM21 59h1v1h-1zM33 59h1v1h-1zM73 59h1v1h-1zM87 59h1v1h-1zM92 59h1v1h-1zM94 59h1v1h-1zM5 58h1v1h-1zM14 58h1v1h-1zM19 58h1v1h-1zM33 58h1v1h-1zM84 58h1v1h-1zM1 57h1v1h-1zM22 57h1v1h-1zM26 57h1v1h-1zM44 57h1v1h-1zM84 57h1v1h-1zM14 56h1v1h-1zM41 56h1v1h-1zM79 56h1v1h-1zM1 55h2v1h-2zM8 55h1v1h-1zM14 55h2v1h-2zM84 55h1v1h-1zM98 55h1v1h-1zM8 54h2v1h-2zM15 54h1v1h-1zM82 54h1v1h-1zM89 54h1v1h-1zM95 54h1v1h-1zM3 53h1v1h-1zM6 53h1v1h-1zM8 53h1v1h-1zM24 53h1v1h-1zM75 53h1v1h-1zM84 53h1v1h-1zM96 53h1v1h-1zM5 52h1v1h-1zM17 52h1v1h-1zM28 52h1v1h-1zM60 52h1v1h-1zM94 52h1v1h-1zM100 52h1v1h-1zM12 51h1v1h-1zM16 51h1v1h-1zM35 51h1v1h-1zM60 51h1v1h-1zM83 51h1v1h-1zM100 51h1v1h-1zM0 50h1v1h-1zM10 50h1v1h-1zM23 50h1v1h-1zM38 50h1v1h-1zM80 50h1v1h-1zM87 50h3v1h-3zM5 49h1v1h-1zM11 49h1v1h-1zM17 49h1v1h-1zM76 49h1v1h-1zM86 49h3v1h-3zM98 49h1v1h-1zM11 48h1v1h-1zM94 48h1v1h-1zM100 48h1v1h-1zM1 47h1v1h-1zM12 47h1v1h-1zM18 47h1v1h-1zM24 47h1v1h-1zM59 47h1v1h-1zM87 47h1v1h-1zM94 47h1v1h-1zM97 47h1v1h-1zM99 47h1v1h-1zM0 46h1v1h-1zM3 46h1v1h-1zM6 46h1v1h-1zM85 46h1v1h-1zM92 46h1v1h-1zM8 45h1v1h-1zM19 45h1v1h-1zM47 45h1v1h-1zM59 45h1v1h-1zM98 45h1v1h-1zM4 44h1v1h-1zM14 44h3v1h-3zM25 44h1v1h-1zM33 44h1v1h-1zM37 44h1v1h-1zM78 44h1v1h-1zM84 44h1v1h-1zM92 44h1v1h-1zM96 44h1v1h-1zM5 43h1v1h-1zM8 43h1v1h-1zM25 43h1v1h-1zM27 43h1v1h-1zM31 43h1v1h-1zM48 43h1v1h-1zM78 43h1v1h-1zM95 43h1v1h-1zM11 42h1v1h-1zM20 42h1v1h-1zM31 42h1v1h-1zM44 42h1v1h-1zM74 42h1v1h-1zM90 42h1v1h-1zM100 42h1v1h-1zM1 41h1v1h-1zM4 41h1v1h-1zM6 41h2v1h-2zM11 41h2v1h-2zM17 41h1v1h-1zM34 41h1v1h-1zM40 41h1v1h-1zM83 41h1v1h-1zM100 41h1v1h-1zM0 40h1v1h-1zM12 40h1v1h-1zM32 40h1v1h-1zM71 40h1v1h-1zM77 40h1v1h-1zM79 40h1v1h-1zM94 40h1v1h-1zM0 39h1v1h-1zM23 39h1v1h-1zM61 39h1v1h-1zM84 39h1v1h-1zM100 39h1v1h-1zM1 38h2v1h-2zM22 38h1v1h-1zM73 38h1v1h-1zM89 38h1v1h-1zM94 38h1v1h-1zM97 38h1v1h-1zM19 37h1v1h-1zM24 37h1v1h-1zM78 37h1v1h-1zM87 37h2v1h-2zM99 37h1v1h-1zM7 36h1v1h-1zM12 36h1v1h-1zM19 36h1v1h-1zM33 36h1v1h-1zM81 36h1v1h-1zM83 36h1v1h-1zM93 36h1v1h-1zM3 35h1v1h-1zM6 35h2v1h-2zM13 35h1v1h-1zM23 35h1v1h-1zM39 35h1v1h-1zM60 35h1v1h-1zM72 35h1v1h-1zM87 35h1v1h-1zM4 34h1v1h-1zM10 34h1v1h-1zM14 34h1v1h-1zM18 34h1v1h-1zM64 34h1v1h-1zM77 34h1v1h-1zM87 34h1v1h-1zM92 34h1v1h-1zM3 33h1v1h-1zM5 33h1v1h-1zM66 33h1v1h-1zM75 33h1v1h-1zM96 33h1v1h-1zM0 32h1v1h-1zM4 32h1v1h-1zM10 32h1v1h-1zM19 32h1v1h-1zM31 32h1v1h-1zM97 32h1v1h-1zM1 31h1v1h-1zM11 31h1v1h-1zM16 31h1v1h-1zM19 31h1v1h-1zM24 31h1v1h-1zM29 31h1v1h-1zM42 31h1v1h-1zM95 31h1v1h-1zM97 31h1v1h-1zM99 31h1v1h-1zM2 30h1v1h-1zM24 30h1v1h-1zM26 30h1v1h-1zM40 30h1v1h-1zM76 30h1v1h-1zM2 29h1v1h-1zM17 29h1v1h-1zM40 29h1v1h-1zM53 29h1v1h-1zM59 29h1v1h-1zM71 29h1v1h-1zM91 29h1v1h-1zM2 28h1v1h-1zM11 28h1v1h-1zM37 28h1v1h-1zM53 28h1v1h-1zM65 28h1v1h-1zM70 28h1v1h-1zM99 28h1v1h-1zM6 27h1v1h-1zM51 27h1v1h-1zM53 27h1v1h-1zM83 27h1v1h-1zM85 27h1v1h-1zM3 26h1v1h-1zM43 26h1v1h-1zM51 26h1v1h-1zM0 25h1v1h-1zM3 25h2v1h-2zM7 25h1v1h-1zM9 25h1v1h-1zM22 25h1v1h-1zM51 25h1v1h-1zM53 25h1v1h-1zM88 25h1v1h-1zM93 25h1v1h-1zM5 24h1v1h-1zM41 24h1v1h-1zM51 24h1v1h-1zM91 24h1v1h-1zM1 23h1v1h-1zM14 23h1v1h-1zM28 23h1v1h-1zM31 23h1v1h-1zM36 23h1v1h-1zM38 23h1v1h-1zM47 23h1v1h-1zM53 23h1v1h-1zM64 23h1v1h-1zM79 23h1v1h-1zM18 22h1v1h-1zM24 22h1v1h-1zM62 22h1v1h-1zM64 22h1v1h-1zM69 22h1v1h-1zM83 22h1v1h-1zM87 22h1v1h-1zM96 22h1v1h-1zM5 21h1v1h-1zM20 21h1v1h-1zM29 21h1v1h-1zM83 21h1v1h-1zM92 21h1v1h-1zM95 21h2v1h-2zM2 20h1v1h-1zM14 20h1v1h-1zM16 20h1v1h-1zM32 20h1v1h-1zM44 20h1v1h-1zM67 20h1v1h-1zM99 20h2v1h-2zM10 19h1v1h-1zM14 19h1v1h-1zM32 19h1v1h-1zM34 19h1v1h-1zM97 19h2v1h-2zM100 19h1v1h-1zM6 18h1v1h-1zM12 18h1v1h-1zM19 18h1v1h-1zM90 18h2v1h-2zM94 18h1v1h-1zM99 18h1v1h-1zM8 17h1v1h-1zM61 17h1v1h-1zM63 17h1v1h-1zM71 17h1v1h-1zM86 17h1v1h-1zM89 17h1v1h-1zM24 16h1v1h-1zM63 16h1v1h-1zM68 16h1v1h-1zM77 16h1v1h-1zM98 16h1v1h-1zM0 15h1v1h-1zM4 15h1v1h-1zM8 15h1v1h-1zM12 15h1v1h-1zM26 15h1v1h-1zM49 15h1v1h-1zM66 15h1v1h-1zM88 15h1v1h-1zM8 14h1v1h-1zM10 14h1v1h-1zM35 14h1v1h-1zM45 14h1v1h-1zM88 14h1v1h-1zM93 14h1v1h-1zM29 13h1v1h-1zM38 13h1v1h-1zM79 13h1v1h-1zM91 13h1v1h-1zM0 12h1v1h-1zM5 12h1v1h-1zM14 12h1v1h-1zM76 12h1v1h-1zM83 12h1v1h-1zM88 12h1v1h-1zM95 12h2v1h-2zM2 11h1v1h-1zM13 11h1v1h-1zM84 11h1v1h-1zM87 11h1v1h-1zM99 11h1v1h-1zM2 10h1v1h-1zM7 10h1v1h-1zM11 10h1v1h-1zM18 10h1v1h-1zM43 10h1v1h-1zM51 10h1v1h-1zM60 10h1v1h-1zM67 10h1v1h-1zM70 10h1v1h-1zM87 10h1v1h-1zM94 10h1v1h-1zM7 9h1v1h-1zM15 9h1v1h-1zM19 9h1v1h-1zM65 9h1v1h-1zM82 9h1v1h-1zM86 9h2v1h-2zM94 9h1v1h-1zM10 8h1v1h-1zM16 8h1v1h-1zM23 8h1v1h-1zM36 8h1v1h-1zM60 8h1v1h-1zM62 8h1v1h-1zM87 8h1v1h-1zM94 8h1v1h-1zM97 8h1v1h-1zM99 8h1v1h-1zM3 7h1v1h-1zM12 7h1v1h-1zM24 7h1v1h-1zM32 7h1v1h-1zM39 7h1v1h-1zM70 7h2v1h-2zM91 7h1v1h-1zM97 7h1v1h-1zM3 6h1v1h-1zM39 6h1v1h-1zM46 6h1v1h-1zM90 6h2v1h-2zM1 5h1v1h-1zM35 5h1v1h-1zM44 5h1v1h-1zM81 5h1v1h-1zM85 5h1v1h-1zM89 5h2v1h-2zM93 5h1v1h-1zM4 4h1v1h-1zM6 4h1v1h-1zM8 4h1v1h-1zM12 4h1v1h-1zM17 4h1v1h-1zM41 4h1v1h-1zM44 4h1v1h-1zM81 4h1v1h-1zM92 4h1v1h-1zM1 3h1v1h-1zM9 3h2v1h-2zM25 3h1v1h-1zM88 3h1v1h-1zM12 2h1v1h-1zM53 2h1v1h-1zM96 2h1v1h-1zM100 2h1v1h-1zM16 1h1v1h-1zM18 1h1v1h-1zM28 1h1v1h-1zM61 1h1v1h-1zM64 1h1v1h-1zM89 1h1v1h-1zM97 1h1v1h-1zM100 1h1v1h-1zM17 0h1v1h-1zM24 0h1v1h-1zM28 0h1v1h-1zM72 0h1v1h-1zM88 0h1v1h-1zM100 0h1v1h-1z"/>
<path fill="#fdd9c4" d="M16 124h1v1h-1zM18 124h1v1h-1zM3 123h1v1h-1zM16 123h1v1h-1zM86 123h1v1h-1zM94 123h1v1h-1zM7 122h1v1h-1zM83 121h1v1h-1zM90 121h1v1h-1zM8 120h1v1h-1zM91 120h1v1h-1zM94 120h1v1h-1zM1 119h1v1h-1zM5 119h1v1h-1zM8 119h1v1h-1zM8 118h1v1h-1zM10 118h1v1h-1zM92 118h1v1h-1zM98 118h1v1h-1zM5 117h1v1h-1zM90 117h1v1h-1zM92 117h1v1h-1zM94 117h1v1h-1zM16 116h1v1h-1zM95 116h1v1h-1zM19 115h1v1h-1zM21 115h1v1h-1zM88 115h1v1h-1zM4 114h1v1h-1zM10 114h1v1h-1zM82 114h1v1h-1zM8 113h1v1h-1zM23 113h1v1h-1zM79 113h2v1h-2zM83 113h1v1h-1zM94 113h2v1h-2zM26 112h1v1h-1zM28 112h1v1h-1zM90 112h1v1h-1zM16 111h1v1h-1zM18 111h1v1h-1zM30 111h1v1h-1zM87 111h2v1h-2zM91 111h2v1h-2zM6 110h1v1h-1zM18 110h1v1h-1zM91 110h1v1h-1zM1 109h3v1h-3zM5 109h1v1h-1zM7 109h1v1h-1zM21 109h1v1h-1zM72 109h2v1h-2zM84 109h1v1h-1zM91 109h1v1h-1zM97 109h3v1h-3zM1 108h1v1h-1zM23 108h1v1h-1zM34 108h1v1h-1zM84 108h1v1h-1zM1 107h1v1h-1zM12 107h1v1h-1zM35 107h1v1h-1zM82 107h1v1h-1zM98 107h2v1h-2zM2 106h1v1h-1zM11 106h1v1h-1zM26 106h1v1h-1zM35 106h2v1h-2zM91 106h2v1h-2zM95 106h1v1h-1zM13 105h1v1h-1zM78 105h1v1h-1zM95 105h1v1h-1zM99 105h2v1h-2zM5 104h1v1h-1zM8 104h1v1h-1zM17 104h1v1h-1zM29 104h1v1h-1zM38 104h1v1h-1zM98 104h1v1h-1zM9 103h1v1h-1zM18 103h1v1h-1zM39 103h1v1h-1zM0 102h1v1h-1zM15 102h1v1h-1zM20 102h1v1h-1zM30 102h1v1h-1zM93 102h1v1h-1zM0 101h2v1h-2zM12 101h1v1h-1zM21 101h1v1h-1zM65 101h1v1h-1zM84 101h1v1h-1zM33 100h1v1h-1zM41 100h1v1h-1zM83 100h1v1h-1zM88 100h1v1h-1zM92 100h1v1h-1zM0 99h1v1h-1zM5 99h1v1h-1zM34 99h1v1h-1zM42 99h1v1h-1zM88 99h1v1h-1zM91 99h1v1h-1zM2 98h1v1h-1zM4 98h1v1h-1zM87 98h1v1h-1zM1 97h1v1h-1zM3 97h1v1h-1zM10 97h1v1h-1zM18 97h1v1h-1zM81 97h1v1h-1zM87 97h1v1h-1zM9 96h3v1h-3zM36 96h1v1h-1zM62 96h1v1h-1zM69 96h1v1h-1zM86 96h1v1h-1zM96 96h1v1h-1zM22 95h1v1h-1zM27 95h1v1h-1zM78 95h1v1h-1zM91 95h1v1h-1zM100 95h1v1h-1zM8 94h1v1h-1zM14 94h1v1h-1zM28 94h1v1h-1zM38 94h1v1h-1zM45 94h1v1h-1zM68 94h1v1h-1zM91 94h1v1h-1zM93 94h1v1h-1zM96 94h1v1h-1zM13 93h1v1h-1zM67 93h1v1h-1zM96 93h1v1h-1zM24 92h1v1h-1zM90 92h1v1h-1zM2 91h1v1h-1zM12 91h1v1h-1zM15 91h1v1h-1zM30 91h2v1h-2zM93 91h1v1h-1zM97 91h1v1h-1zM59 90h1v1h-1zM80 90h1v1h-1zM87 90h2v1h-2zM26 89h1v1h-1zM32 89h1v1h-1zM73 89h1v1h-1zM79 89h1v1h-1zM86 89h2v1h-2zM92 89h1v1h-1zM97 89h1v1h-1zM8 88h1v1h-1zM19 88h2v1h-2zM58 88h1v1h-1zM65 88h1v1h-1zM3 87h2v1h-2zM10 87h1v1h-1zM28 87h1v1h-1zM53 87h1v1h-1zM88 87h2v1h-2zM99 87h1v1h-1zM9 86h2v1h-2zM17 86h2v1h-2zM22 86h1v1h-1zM34 86h1v1h-1zM49 86h1v1h-1zM84 86h1v1h-1zM94 86h1v1h-1zM99 86h1v1h-1zM71 85h1v1h-1zM87 85h1v1h-1zM95 85h1v1h-1zM100 85h1v1h-1zM23 84h1v1h-1zM35 84h1v1h-1zM75 84h1v1h-1zM95 84h1v1h-1zM6 83h1v1h-1zM8 83h1v1h-1zM30 83h1v1h-1zM35 83h1v1h-1zM53 83h1v1h-1zM86 83h1v1h-1zM5 82h1v1h-1zM8 82h1v1h-1zM12 82h1v1h-1zM14 82h1v1h-1zM31 82h1v1h-1zM36 82h1v1h-1zM43 82h1v1h-1zM70 82h1v1h-1zM74 82h1v1h-1zM0 81h2v1h-2zM4 81h2v1h-2zM8 81h1v1h-1zM10 81h1v1h-1zM15 81h2v1h-2zM21 81h1v1h-1zM43 81h2v1h-2zM51 81h1v1h-1zM53 81h1v1h-1zM62 81h1v1h-1zM97 81h1v1h-1zM1 80h2v1h-2zM4 80h1v1h-1zM37 80h1v1h-1zM69 80h1v1h-1zM3 79h3v1h-3zM8 79h1v1h-1zM33 79h1v1h-1zM44 79h1v1h-1zM61 79h1v1h-1zM83 79h1v1h-1zM89 79h1v1h-1zM97 79h2v1h-2zM0 78h1v1h-1zM4 78h1v1h-1zM15 78h1v1h-1zM17 78h1v1h-1zM92 78h1v1h-1zM98 78h1v1h-1zM10 77h1v1h-1zM15 77h1v1h-1zM17 77h1v1h-1zM28 77h1v1h-1zM45 77h1v1h-1zM57 77h1v1h-1zM72 77h1v1h-1zM82 77h1v1h-1zM87 77h2v1h-2zM10 76h1v1h-1zM38 76h1v1h-1zM91 76h1v1h-1zM100 76h1v1h-1zM1 75h1v1h-1zM9 75h1v1h-1zM11 75h1v1h-1zM25 75h1v1h-1zM29 75h1v1h-1zM71 75h1v1h-1zM76 75h1v1h-1zM95 75h1v1h-1zM98 75h1v1h-1zM54 74h1v1h-1zM76 74h1v1h-1zM80 74h1v1h-1zM85 74h1v1h-1zM94 74h1v1h-1zM98 74h1v1h-1zM17 73h1v1h-1zM0 72h1v1h-1zM5 72h2v1h-2zM18 72h1v1h-1zM27 72h1v1h-1zM30 72h2v1h-2zM36 72h1v1h-1zM87 72h1v1h-1zM92 72h1v1h-1zM96 72h2v1h-2zM1 71h1v1h-1zM10 71h1v1h-1zM65 71h1v1h-1zM95 71h1v1h-1zM97 71h1v1h-1zM3 70h1v1h-1zM10 70h1v1h-1zM74 70h1v1h-1zM86 70h1v1h-1zM12 69h1v1h-1zM90 69h1v1h-1zM93 69h1v1h-1zM98 69h2v1h-2zM68 68h1v1h-1zM97 68h1v1h-1zM5 67h1v1h-1zM15 67h1v1h-1zM22 67h1v1h-1zM64 67h1v1h-1zM81 67h1v1h-1zM92 67h1v1h-1zM9 66h1v1h-1zM17 66h1v1h-1zM25 66h1v1h-1zM33 66h1v1h-1zM42 66h1v1h-1zM72 66h1v1h-1zM76 66h1v1h-1zM18 65h1v1h-1zM30 65h1v1h-1zM33 65h1v1h-1zM42 65h1v1h-1zM54 65h1v1h-1zM67 65h1v1h-1zM80 65h1v1h-1zM83 65h1v1h-1zM96 65h1v1h-1zM98 65h1v1h-1zM4 64h1v1h-1zM6 64h1v1h-1zM11 64h1v1h-1zM26 64h1v1h-1zM30 64h1v1h-1zM39 64h1v1h-1zM49 64h1v1h-1zM91 64h1v1h-1zM95 64h1v1h-1zM4 63h1v1h-1zM7 63h3v1h-3zM31 63h1v1h-1zM39 63h1v1h-1zM43 63h1v1h-1zM86 63h2v1h-2zM89 63h1v1h-1zM91 63h1v1h-1zM94 63h1v1h-1zM2 62h1v1h-1zM6 62h1v1h-1zM16 62h1v1h-1zM19 62h1v1h-1zM51 62h1v1h-1zM74 62h1v1h-1zM82 62h1v1h-1zM88 62h1v1h-1zM96 62h1v1h-1zM6 61h1v1h-1zM27 61h1v1h-1zM78 61h1v1h-1zM81 61h1v1h-1zM87 61h1v1h-1zM0 60h1v1h-1zM4 60h1v1h-1zM10 60h1v1h-1zM21 60h1v1h-1zM62 60h1v1h-1zM28 59h1v1h-1zM40 59h1v1h-1zM77 59h1v1h-1zM91 59h1v1h-1zM93 59h1v1h-1zM99 59h1v1h-1zM12 58h1v1h-1zM26 58h1v1h-1zM53 58h2v1h-2zM70 58h1v1h-1zM77 58h1v1h-1zM93 58h2v1h-2zM36 57h1v1h-1zM53 57h1v1h-1zM61 57h1v1h-1zM65 57h1v1h-1zM15 56h2v1h-2zM22 56h1v1h-1zM61 56h1v1h-1zM83 56h1v1h-1zM90 56h1v1h-1zM0 55h1v1h-1zM6 55h1v1h-1zM9 55h1v1h-1zM27 55h1v1h-1zM53 55h1v1h-1zM69 55h1v1h-1zM6 54h1v1h-1zM14 54h1v1h-1zM20 54h2v1h-2zM96 54h1v1h-1zM2 53h1v1h-1zM5 53h1v1h-1zM9 53h1v1h-1zM17 53h1v1h-1zM28 53h1v1h-1zM53 53h1v1h-1zM91 53h1v1h-1zM6 52h1v1h-1zM18 52h1v1h-1zM21 52h2v1h-2zM24 52h1v1h-1zM45 52h1v1h-1zM68 52h1v1h-1zM88 52h1v1h-1zM90 52h1v1h-1zM95 52h1v1h-1zM0 51h1v1h-1zM3 51h1v1h-1zM7 51h1v1h-1zM13 51h1v1h-1zM22 51h1v1h-1zM42 51h1v1h-1zM81 51h1v1h-1zM88 51h1v1h-1zM99 51h1v1h-1zM7 50h1v1h-1zM13 50h1v1h-1zM42 50h1v1h-1zM29 49h1v1h-1zM32 49h1v1h-1zM46 49h1v1h-1zM63 49h1v1h-1zM80 49h1v1h-1zM89 49h1v1h-1zM94 49h1v1h-1zM100 49h1v1h-1zM5 48h1v1h-1zM20 48h1v1h-1zM26 48h1v1h-1zM32 48h1v1h-1zM46 48h1v1h-1zM59 48h1v1h-1zM67 48h1v1h-1zM88 48h1v1h-1zM91 48h1v1h-1zM0 47h1v1h-1zM3 47h1v1h-1zM16 47h1v1h-1zM54 47h1v1h-1zM82 47h1v1h-1zM93 47h1v1h-1zM98 47h1v1h-1zM100 47h1v1h-1zM9 46h1v1h-1zM30 46h1v1h-1zM39 46h1v1h-1zM59 46h1v1h-1zM69 46h1v1h-1zM79 46h1v1h-1zM9 45h1v1h-1zM13 45h1v1h-1zM24 45h1v1h-1zM27 45h1v1h-1zM66 45h1v1h-1zM2 44h1v1h-1zM9 44h2v1h-2zM13 44h1v1h-1zM19 44h1v1h-1zM62 44h1v1h-1zM66 44h1v1h-1zM3 43h1v1h-1zM7 43h1v1h-1zM9 43h1v1h-1zM14 43h1v1h-1zM37 43h1v1h-1zM72 43h1v1h-1zM6 42h1v1h-1zM9 42h1v1h-1zM15 42h1v1h-1zM28 42h1v1h-1zM58 42h1v1h-1zM68 42h1v1h-1zM83 42h1v1h-1zM89 42h1v1h-1zM94 42h1v1h-1zM96 42h1v1h-1zM15 41h1v1h-1zM1 40h1v1h-1zM7 40h1v1h-1zM38 40h1v1h-1zM88 40h1v1h-1zM10 39h1v1h-1zM18 39h1v1h-1zM21 39h1v1h-1zM29 39h1v1h-1zM38 39h1v1h-1zM91 39h1v1h-1zM93 39h1v1h-1zM0 38h1v1h-1zM3 38h1v1h-1zM10 38h1v1h-1zM18 38h1v1h-1zM27 38h1v1h-1zM92 38h2v1h-2zM99 38h1v1h-1zM13 37h1v1h-1zM22 37h1v1h-1zM35 37h1v1h-1zM67 37h1v1h-1zM89 37h1v1h-1zM92 37h1v1h-1zM2 36h1v1h-1zM6 36h1v1h-1zM8 36h1v1h-1zM14 36h1v1h-1zM30 36h1v1h-1zM45 36h1v1h-1zM88 36h1v1h-1zM91 36h1v1h-1zM94 36h1v1h-1zM4 35h1v1h-1zM10 35h1v1h-1zM49 35h1v1h-1zM93 35h1v1h-1zM0 34h1v1h-1zM13 34h1v1h-1zM25 34h1v1h-1zM49 34h1v1h-1zM70 34h1v1h-1zM8 33h2v1h-2zM15 33h1v1h-1zM60 33h1v1h-1zM70 33h1v1h-1zM85 33h1v1h-1zM90 33h1v1h-1zM95 33h1v1h-1zM3 32h1v1h-1zM82 32h1v1h-1zM92 32h1v1h-1zM21 31h1v1h-1zM46 31h1v1h-1zM89 31h1v1h-1zM0 30h1v1h-1zM46 30h1v1h-1zM57 30h1v1h-1zM69 30h1v1h-1zM84 30h1v1h-1zM86 30h1v1h-1zM92 30h1v1h-1zM94 30h2v1h-2zM97 30h1v1h-1zM99 30h1v1h-1zM0 29h1v1h-1zM8 29h1v1h-1zM12 29h1v1h-1zM57 29h1v1h-1zM74 29h1v1h-1zM89 29h1v1h-1zM95 29h1v1h-1zM98 29h2v1h-2zM17 28h1v1h-1zM22 28h1v1h-1zM25 28h1v1h-1zM40 28h1v1h-1zM59 28h1v1h-1zM63 28h1v1h-1zM88 28h1v1h-1zM97 28h1v1h-1zM2 27h1v1h-1zM11 27h1v1h-1zM13 27h1v1h-1zM30 27h1v1h-1zM70 27h1v1h-1zM73 27h1v1h-1zM88 27h1v1h-1zM92 27h1v1h-1zM2 26h1v1h-1zM6 26h1v1h-1zM16 26h1v1h-1zM18 26h1v1h-1zM57 26h1v1h-1zM70 26h1v1h-1zM75 26h1v1h-1zM89 26h1v1h-1zM94 26h1v1h-1zM98 26h1v1h-1zM5 25h1v1h-1zM12 25h1v1h-1zM98 25h1v1h-1zM8 24h1v1h-1zM10 24h1v1h-1zM12 24h1v1h-1zM17 24h1v1h-1zM19 24h1v1h-1zM47 24h1v1h-1zM54 24h1v1h-1zM58 24h1v1h-1zM62 24h1v1h-1zM87 24h2v1h-2zM96 24h1v1h-1zM100 24h1v1h-1zM9 23h1v1h-1zM19 23h1v1h-1zM22 23h1v1h-1zM33 23h1v1h-1zM57 23h1v1h-1zM62 23h1v1h-1zM77 23h1v1h-1zM100 23h1v1h-1zM4 22h1v1h-1zM9 22h1v1h-1zM15 22h1v1h-1zM38 22h1v1h-1zM92 22h1v1h-1zM95 22h1v1h-1zM2 21h1v1h-1zM9 21h1v1h-1zM11 21h1v1h-1zM18 21h1v1h-1zM27 21h1v1h-1zM57 21h1v1h-1zM69 21h1v1h-1zM1 20h1v1h-1zM57 20h1v1h-1zM87 20h1v1h-1zM95 20h1v1h-1zM12 19h1v1h-1zM15 19h1v1h-1zM25 19h1v1h-1zM99 19h1v1h-1zM25 18h1v1h-1zM28 18h1v1h-1zM80 18h1v1h-1zM82 18h1v1h-1zM89 18h1v1h-1zM0 17h1v1h-1zM4 17h1v1h-1zM6 17h1v1h-1zM42 17h1v1h-1zM90 17h1v1h-1zM93 17h1v1h-1zM6 16h2v1h-2zM11 16h1v1h-1zM42 16h1v1h-1zM90 16h1v1h-1zM93 16h1v1h-1zM3 15h1v1h-1zM17 15h1v1h-1zM33 15h1v1h-1zM75 15h1v1h-1zM81 15h1v1h-1zM84 15h1v1h-1zM94 15h1v1h-1zM4 14h1v1h-1zM9 14h1v1h-1zM18 14h1v1h-1zM79 14h1v1h-1zM85 14h1v1h-1zM92 14h1v1h-1zM100 14h1v1h-1zM1 13h1v1h-1zM10 13h1v1h-1zM14 13h1v1h-1zM17 13h2v1h-2zM45 13h1v1h-1zM49 13h1v1h-1zM75 13h1v1h-1zM96 13h1v1h-1zM17 12h1v1h-1zM25 12h1v1h-1zM40 12h1v1h-1zM85 12h1v1h-1zM1 11h1v1h-1zM5 11h1v1h-1zM11 11h1v1h-1zM27 11h1v1h-1zM70 11h1v1h-1zM88 11h1v1h-1zM95 11h1v1h-1zM3 10h1v1h-1zM27 10h1v1h-1zM34 10h1v1h-1zM36 10h1v1h-1zM86 10h1v1h-1zM96 10h1v1h-1zM22 9h2v1h-2zM34 9h1v1h-1zM90 9h1v1h-1zM0 8h1v1h-1zM3 8h2v1h-2zM32 8h1v1h-1zM75 8h1v1h-1zM95 8h1v1h-1zM15 7h1v1h-1zM83 7h1v1h-1zM6 6h1v1h-1zM23 6h1v1h-1zM51 6h1v1h-1zM69 6h1v1h-1zM73 6h1v1h-1zM79 6h1v1h-1zM93 6h1v1h-1zM5 5h1v1h-1zM7 5h1v1h-1zM27 5h1v1h-1zM39 5h1v1h-1zM41 5h1v1h-1zM69 5h1v1h-1zM94 5h1v1h-1zM0 4h1v1h-1zM21 4h1v1h-1zM25 4h1v1h-1zM27 4h1v1h-1zM82 4h1v1h-1zM90 4h1v1h-1zM94 4h1v1h-1zM100 4h1v1h-1zM2 3h1v1h-1zM21 3h1v1h-1zM31 3h1v1h-1zM66 3h1v1h-1zM74 3h1v1h-1zM86 3h1v1h-1zM96 3h1v1h-1zM24 2h1v1h-1zM29 2h1v1h-1zM59 2h1v1h-1zM64 2h1v1h-1zM84 2h1v1h-1zM2 1h1v1h-1zM7 1h1v1h-1zM9 1h1v1h-1zM80 1h1v1h-1zM0 0h1v1h-1zM2 0h1v1h-1zM11 0h1v1h-1zM13 0h1v1h-1zM40 0h1v1h-1zM47 0h1v1h-1zM53 0h1v1h-1zM61 0h1v1h-1zM76 0h1v1h-1zM95 0h1v1h-1z"/>
<path fill="#fbceb6" d="M87 124h1v1h-1zM94 122h1v1h-1zM3 121h1v1h-1zM9 120h1v1h-1zM19 120h1v1h-1zM0 119h1v1h-1zM3 119h1v1h-1zM94 118h1v1h-1zM99 118h1v1h-1zM2 117h1v1h-1zM4 117h1v1h-1zM12 117h2v1h-2zM91 117h1v1h-1zM93 117h1v1h-1zM1 116h1v1h-1zM15 116h1v1h-1zM17 116h2v1h-2zM85 116h1v1h-1zM90 116h1v1h-1zM93 116h1v1h-1zM96 116h1v1h-1zM0 115h1v1h-1zM18 115h1v1h-1zM54 115h1v1h-1zM84 115h1v1h-1zM0 114h1v1h-1zM2 114h1v1h-1zM23 114h2v1h-2zM81 114h1v1h-1zM83 114h1v1h-1zM96 114h1v1h-1zM99 114h1v1h-1zM7 113h1v1h-1zM25 113h3v1h-3zM96 113h1v1h-1zM98 113h1v1h-1zM100 113h1v1h-1zM10 112h1v1h-1zM12 112h1v1h-1zM15 112h1v1h-1zM17 112h1v1h-1zM77 112h1v1h-1zM95 112h1v1h-1zM0 111h2v1h-2zM6 111h1v1h-1zM14 111h1v1h-1zM31 111h1v1h-1zM75 111h1v1h-1zM1 110h3v1h-3zM7 110h1v1h-1zM17 110h1v1h-1zM32 110h1v1h-1zM74 110h1v1h-1zM97 110h1v1h-1zM8 109h1v1h-1zM16 109h1v1h-1zM23 109h1v1h-1zM100 109h1v1h-1zM2 108h1v1h-1zM21 108h2v1h-2zM71 108h1v1h-1zM83 108h1v1h-1zM98 108h2v1h-2zM2 107h1v1h-1zM9 107h3v1h-3zM24 107h1v1h-1zM81 107h1v1h-1zM91 107h1v1h-1zM3 106h3v1h-3zM9 106h1v1h-1zM12 106h1v1h-1zM37 106h1v1h-1zM69 106h2v1h-2zM80 106h1v1h-1zM93 106h1v1h-1zM0 105h1v1h-1zM5 105h1v1h-1zM15 105h2v1h-2zM27 105h1v1h-1zM68 105h1v1h-1zM9 104h1v1h-1zM77 104h1v1h-1zM90 104h1v1h-1zM7 103h1v1h-1zM19 103h1v1h-1zM29 103h1v1h-1zM66 103h1v1h-1zM1 102h1v1h-1zM7 102h1v1h-1zM40 102h1v1h-1zM74 102h1v1h-1zM85 102h3v1h-3zM95 102h1v1h-1zM2 101h1v1h-1zM5 101h2v1h-2zM13 101h1v1h-1zM31 101h1v1h-1zM74 101h1v1h-1zM93 101h1v1h-1zM97 101h1v1h-1zM4 100h1v1h-1zM13 100h2v1h-2zM42 100h1v1h-1zM100 100h1v1h-1zM8 99h1v1h-1zM24 99h1v1h-1zM81 99h2v1h-2zM90 99h1v1h-1zM1 98h1v1h-1zM17 98h2v1h-2zM25 98h1v1h-1zM34 98h1v1h-1zM63 98h1v1h-1zM89 98h1v1h-1zM91 98h1v1h-1zM98 98h1v1h-1zM0 97h1v1h-1zM2 97h1v1h-1zM9 97h1v1h-1zM16 97h1v1h-1zM12 96h1v1h-1zM27 96h1v1h-1zM44 96h1v1h-1zM54 96h1v1h-1zM4 95h1v1h-1zM14 95h1v1h-1zM20 95h1v1h-1zM45 95h1v1h-1zM61 95h1v1h-1zM93 95h2v1h-2zM0 94h2v1h-2zM21 94h2v1h-2zM29 94h1v1h-1zM84 94h1v1h-1zM98 94h1v1h-1zM6 93h1v1h-1zM8 93h2v1h-2zM14 93h1v1h-1zM16 93h1v1h-1zM46 93h1v1h-1zM60 93h1v1h-1zM90 93h1v1h-1zM2 92h2v1h-2zM6 92h1v1h-1zM15 92h1v1h-1zM38 92h1v1h-1zM47 92h1v1h-1zM67 92h1v1h-1zM95 92h2v1h-2zM5 91h1v1h-1zM59 91h1v1h-1zM67 91h1v1h-1zM81 91h1v1h-1zM94 91h1v1h-1zM5 90h1v1h-1zM7 90h1v1h-1zM18 90h2v1h-2zM74 90h1v1h-1zM99 90h2v1h-2zM1 89h2v1h-2zM8 89h1v1h-1zM12 89h2v1h-2zM15 89h1v1h-1zM40 89h1v1h-1zM58 89h1v1h-1zM94 89h1v1h-1zM10 88h1v1h-1zM14 88h2v1h-2zM53 88h1v1h-1zM90 88h1v1h-1zM92 88h1v1h-1zM96 88h1v1h-1zM21 87h1v1h-1zM33 87h1v1h-1zM49 87h1v1h-1zM91 87h1v1h-1zM0 86h1v1h-1zM5 86h1v1h-1zM11 86h1v1h-1zM64 86h1v1h-1zM96 86h1v1h-1zM100 86h1v1h-1zM0 85h2v1h-2zM5 85h1v1h-1zM12 85h1v1h-1zM18 85h1v1h-1zM22 85h1v1h-1zM29 85h1v1h-1zM53 85h1v1h-1zM76 85h1v1h-1zM91 85h1v1h-1zM1 84h2v1h-2zM8 84h1v1h-1zM13 84h1v1h-1zM24 84h1v1h-1zM30 84h1v1h-1zM53 84h1v1h-1zM91 84h1v1h-1zM2 83h1v1h-1zM19 83h1v1h-1zM24 83h1v1h-1zM51 83h1v1h-1zM75 83h1v1h-1zM91 83h3v1h-3zM6 82h1v1h-1zM86 82h1v1h-1zM91 82h1v1h-1zM93 82h1v1h-1zM2 81h1v1h-1zM90 81h1v1h-1zM93 81h1v1h-1zM0 80h1v1h-1zM11 80h1v1h-1zM26 80h1v1h-1zM57 80h1v1h-1zM84 80h1v1h-1zM93 80h1v1h-1zM97 80h1v1h-1zM100 80h1v1h-1zM10 79h1v1h-1zM17 79h1v1h-1zM54 79h1v1h-1zM73 79h1v1h-1zM3 78h1v1h-1zM8 78h1v1h-1zM54 78h1v1h-1zM57 78h1v1h-1zM99 78h1v1h-1zM3 77h1v1h-1zM5 77h1v1h-1zM9 77h1v1h-1zM14 77h1v1h-1zM92 77h1v1h-1zM1 76h1v1h-1zM5 76h1v1h-1zM54 76h1v1h-1zM57 76h1v1h-1zM61 76h1v1h-1zM2 75h1v1h-1zM45 75h1v1h-1zM57 75h1v1h-1zM85 75h1v1h-1zM90 75h1v1h-1zM2 74h2v1h-2zM6 74h1v1h-1zM25 74h1v1h-1zM30 74h1v1h-1zM45 74h1v1h-1zM66 74h1v1h-1zM71 74h1v1h-1zM89 74h1v1h-1zM4 73h1v1h-1zM6 73h1v1h-1zM16 73h1v1h-1zM21 73h1v1h-1zM46 73h1v1h-1zM54 73h1v1h-1zM57 73h1v1h-1zM91 73h1v1h-1zM13 72h1v1h-1zM17 72h1v1h-1zM75 72h1v1h-1zM91 72h1v1h-1zM8 71h1v1h-1zM36 71h1v1h-1zM46 71h1v1h-1zM69 71h1v1h-1zM83 71h1v1h-1zM91 71h1v1h-1zM93 71h1v1h-1zM4 70h1v1h-1zM7 70h1v1h-1zM97 70h1v1h-1zM5 69h1v1h-1zM23 69h1v1h-1zM32 69h1v1h-1zM37 69h1v1h-1zM41 69h1v1h-1zM58 69h1v1h-1zM77 69h1v1h-1zM97 69h1v1h-1zM8 68h1v1h-1zM16 68h1v1h-1zM24 68h1v1h-1zM47 68h1v1h-1zM54 68h1v1h-1zM90 68h1v1h-1zM98 68h1v1h-1zM21 67h1v1h-1zM42 67h1v1h-1zM85 67h1v1h-1zM10 66h1v1h-1zM13 66h1v1h-1zM22 66h1v1h-1zM38 66h1v1h-1zM54 66h1v1h-1zM89 66h1v1h-1zM99 66h2v1h-2zM2 65h2v1h-2zM15 65h1v1h-1zM49 65h1v1h-1zM7 64h1v1h-1zM9 64h1v1h-1zM19 64h1v1h-1zM34 64h1v1h-1zM54 64h1v1h-1zM79 64h1v1h-1zM94 64h1v1h-1zM0 63h1v1h-1zM2 63h1v1h-1zM12 63h1v1h-1zM19 63h1v1h-1zM23 63h1v1h-1zM63 63h1v1h-1zM71 63h1v1h-1zM79 63h1v1h-1zM92 63h1v1h-1zM1 62h1v1h-1zM8 62h2v1h-2zM13 62h1v1h-1zM31 62h1v1h-1zM89 62h1v1h-1zM13 61h1v1h-1zM17 61h1v1h-1zM24 61h1v1h-1zM54 61h1v1h-1zM66 61h1v1h-1zM88 61h1v1h-1zM95 60h1v1h-1zM98 60h1v1h-1zM3 59h2v1h-2zM18 59h1v1h-1zM25 59h1v1h-1zM51 59h1v1h-1zM70 59h1v1h-1zM97 59h1v1h-1zM4 58h1v1h-1zM8 58h1v1h-1zM25 58h1v1h-1zM73 58h1v1h-1zM80 58h1v1h-1zM98 58h1v1h-1zM15 57h2v1h-2zM19 57h1v1h-1zM29 57h1v1h-1zM80 57h1v1h-1zM93 57h1v1h-1zM99 57h2v1h-2zM3 56h1v1h-1zM5 56h1v1h-1zM53 56h1v1h-1zM76 56h1v1h-1zM86 56h1v1h-1zM93 56h1v1h-1zM99 56h1v1h-1zM10 55h1v1h-1zM20 55h1v1h-1zM23 55h1v1h-1zM30 55h1v1h-1zM41 55h1v1h-1zM45 55h1v1h-1zM96 55h1v1h-1zM1 54h1v1h-1zM7 54h1v1h-1zM11 54h1v1h-1zM17 54h1v1h-1zM34 54h1v1h-1zM53 54h1v1h-1zM85 54h1v1h-1zM4 53h1v1h-1zM11 53h1v1h-1zM14 53h1v1h-1zM21 53h1v1h-1zM60 53h1v1h-1zM71 53h1v1h-1zM9 52h1v1h-1zM15 52h1v1h-1zM31 52h1v1h-1zM53 52h2v1h-2zM97 52h1v1h-1zM77 51h1v1h-1zM97 51h1v1h-1zM4 50h1v1h-1zM16 50h1v1h-1zM19 50h1v1h-1zM22 50h1v1h-1zM35 50h1v1h-1zM53 50h1v1h-1zM63 50h1v1h-1zM74 50h1v1h-1zM83 50h1v1h-1zM93 50h1v1h-1zM95 50h1v1h-1zM99 50h1v1h-1zM1 49h1v1h-1zM4 49h1v1h-1zM8 49h1v1h-1zM20 49h1v1h-1zM95 49h1v1h-1zM8 48h1v1h-1zM10 48h1v1h-1zM14 48h1v1h-1zM23 48h1v1h-1zM85 48h1v1h-1zM97 48h1v1h-1zM11 47h1v1h-1zM36 47h1v1h-1zM73 47h1v1h-1zM79 47h1v1h-1zM85 47h1v1h-1zM4 46h1v1h-1zM47 46h1v1h-1zM53 46h1v1h-1zM93 46h1v1h-1zM99 46h1v1h-1zM0 45h1v1h-1zM4 45h1v1h-1zM10 45h1v1h-1zM15 45h2v1h-2zM21 45h1v1h-1zM33 45h1v1h-1zM43 45h1v1h-1zM81 45h1v1h-1zM90 45h1v1h-1zM5 44h3v1h-3zM47 44h1v1h-1zM72 44h1v1h-1zM90 44h1v1h-1zM98 44h1v1h-1zM0 43h1v1h-1zM6 43h1v1h-1zM11 43h1v1h-1zM15 43h1v1h-1zM86 43h1v1h-1zM89 43h1v1h-1zM100 43h1v1h-1zM3 42h1v1h-1zM14 42h1v1h-1zM22 42h1v1h-1zM34 42h1v1h-1zM80 42h1v1h-1zM95 42h1v1h-1zM54 41h1v1h-1zM68 41h1v1h-1zM77 41h1v1h-1zM97 41h1v1h-1zM8 40h1v1h-1zM23 40h1v1h-1zM26 40h1v1h-1zM44 40h1v1h-1zM65 40h1v1h-1zM90 40h1v1h-1zM95 40h1v1h-1zM97 40h1v1h-1zM99 40h1v1h-1zM1 39h1v1h-1zM8 39h1v1h-1zM13 39h1v1h-1zM32 39h1v1h-1zM85 39h1v1h-1zM97 39h1v1h-1zM13 38h1v1h-1zM24 38h1v1h-1zM54 38h1v1h-1zM84 38h1v1h-1zM87 38h1v1h-1zM100 38h1v1h-1zM1 37h1v1h-1zM3 37h1v1h-1zM10 37h1v1h-1zM16 37h1v1h-1zM49 37h1v1h-1zM84 37h1v1h-1zM93 37h2v1h-2zM98 37h1v1h-1zM9 36h1v1h-1zM11 36h1v1h-1zM5 35h1v1h-1zM12 35h1v1h-1zM25 35h1v1h-1zM28 35h1v1h-1zM96 35h1v1h-1zM2 34h1v1h-1zM5 34h1v1h-1zM8 34h1v1h-1zM39 34h1v1h-1zM45 34h1v1h-1zM53 34h1v1h-1zM75 34h1v1h-1zM96 34h1v1h-1zM98 34h1v1h-1zM6 33h1v1h-1zM11 33h1v1h-1zM13 33h1v1h-1zM18 33h1v1h-1zM36 33h1v1h-1zM53 33h1v1h-1zM72 33h1v1h-1zM100 33h1v1h-1zM1 32h1v1h-1zM11 32h1v1h-1zM21 32h1v1h-1zM42 32h1v1h-1zM53 32h1v1h-1zM57 32h1v1h-1zM66 32h1v1h-1zM4 31h1v1h-1zM7 31h1v1h-1zM9 31h1v1h-1zM14 31h1v1h-1zM34 31h1v1h-1zM51 31h1v1h-1zM53 31h1v1h-1zM57 31h1v1h-1zM66 31h1v1h-1zM69 31h1v1h-1zM84 31h1v1h-1zM94 31h1v1h-1zM96 31h1v1h-1zM5 30h1v1h-1zM7 30h1v1h-1zM15 30h1v1h-1zM53 30h2v1h-2zM74 30h1v1h-1zM3 29h1v1h-1zM5 29h1v1h-1zM46 29h1v1h-1zM51 29h1v1h-1zM76 29h1v1h-1zM81 29h1v1h-1zM97 29h1v1h-1zM5 28h1v1h-1zM8 28h1v1h-1zM13 28h1v1h-1zM20 28h1v1h-1zM32 28h1v1h-1zM83 28h1v1h-1zM90 28h1v1h-1zM4 27h1v1h-1zM57 27h1v1h-1zM59 27h1v1h-1zM75 27h1v1h-1zM91 27h1v1h-1zM0 26h1v1h-1zM9 26h1v1h-1zM11 26h1v1h-1zM68 26h1v1h-1zM73 26h1v1h-1zM80 26h1v1h-1zM85 26h1v1h-1zM93 26h1v1h-1zM96 26h1v1h-1zM17 25h1v1h-1zM21 25h1v1h-1zM23 25h1v1h-1zM28 25h1v1h-1zM82 25h1v1h-1zM89 25h1v1h-1zM6 24h1v1h-1zM28 24h1v1h-1zM38 24h1v1h-1zM57 24h1v1h-1zM84 24h1v1h-1zM98 24h1v1h-1zM6 23h1v1h-1zM8 23h1v1h-1zM17 23h1v1h-1zM24 23h1v1h-1zM58 23h1v1h-1zM87 23h2v1h-2zM99 23h1v1h-1zM2 22h1v1h-1zM13 22h1v1h-1zM20 22h1v1h-1zM36 22h1v1h-1zM47 22h1v1h-1zM72 22h1v1h-1zM74 22h1v1h-1zM88 22h1v1h-1zM90 22h1v1h-1zM58 21h1v1h-1zM81 21h1v1h-1zM85 21h1v1h-1zM99 21h1v1h-1zM3 20h1v1h-1zM5 20h1v1h-1zM18 20h1v1h-1zM23 20h1v1h-1zM85 20h1v1h-1zM94 20h1v1h-1zM97 20h2v1h-2zM44 19h1v1h-1zM76 19h1v1h-1zM78 19h1v1h-1zM89 19h1v1h-1zM10 18h1v1h-1zM37 18h1v1h-1zM39 18h1v1h-1zM54 18h1v1h-1zM57 18h1v1h-1zM61 18h1v1h-1zM78 18h1v1h-1zM93 18h1v1h-1zM13 17h1v1h-1zM30 17h1v1h-1zM57 17h1v1h-1zM73 17h1v1h-1zM91 17h1v1h-1zM13 16h1v1h-1zM54 16h1v1h-1zM66 16h1v1h-1zM86 16h1v1h-1zM92 16h1v1h-1zM100 16h1v1h-1zM5 15h1v1h-1zM7 15h1v1h-1zM9 15h1v1h-1zM13 15h1v1h-1zM24 15h1v1h-1zM45 15h1v1h-1zM54 15h1v1h-1zM90 15h1v1h-1zM92 15h2v1h-2zM96 15h1v1h-1zM6 14h1v1h-1zM14 14h1v1h-1zM22 14h1v1h-1zM49 14h1v1h-1zM54 14h1v1h-1zM94 14h1v1h-1zM4 13h1v1h-1zM8 13h2v1h-2zM31 13h1v1h-1zM54 13h1v1h-1zM85 13h1v1h-1zM7 12h1v1h-1zM38 12h1v1h-1zM72 12h1v1h-1zM3 11h1v1h-1zM7 11h1v1h-1zM19 11h1v1h-1zM54 11h1v1h-1zM72 11h1v1h-1zM76 11h1v1h-1zM78 11h1v1h-1zM80 11h1v1h-1zM96 11h2v1h-2zM5 10h1v1h-1zM15 10h1v1h-1zM22 10h2v1h-2zM80 10h1v1h-1zM82 10h1v1h-1zM84 10h1v1h-1zM88 10h1v1h-1zM90 10h1v1h-1zM97 10h1v1h-1zM2 9h1v1h-1zM5 9h1v1h-1zM8 9h1v1h-1zM36 9h1v1h-1zM43 9h1v1h-1zM8 8h1v1h-1zM12 8h1v1h-1zM24 8h1v1h-1zM54 8h1v1h-1zM4 7h1v1h-1zM6 7h1v1h-1zM10 7h1v1h-1zM28 7h1v1h-1zM54 7h1v1h-1zM75 7h1v1h-1zM87 7h1v1h-1zM89 7h1v1h-1zM95 7h1v1h-1zM99 7h1v1h-1zM1 6h1v1h-1zM5 6h1v1h-1zM41 6h1v1h-1zM54 6h1v1h-1zM71 6h1v1h-1zM83 6h1v1h-1zM89 6h1v1h-1zM92 6h1v1h-1zM100 6h1v1h-1zM9 5h1v1h-1zM11 5h1v1h-1zM13 5h1v1h-1zM17 5h1v1h-1zM19 5h1v1h-1zM51 5h1v1h-1zM54 5h1v1h-1zM91 5h1v1h-1zM98 5h1v1h-1zM100 5h1v1h-1zM2 4h1v1h-1zM10 4h2v1h-2zM19 4h1v1h-1zM35 4h1v1h-1zM53 4h1v1h-1zM93 4h1v1h-1zM96 4h1v1h-1zM98 4h1v1h-1zM7 3h2v1h-2zM12 3h1v1h-1zM70 3h1v1h-1zM84 3h1v1h-1zM90 3h1v1h-1zM7 2h3v1h-3zM14 2h1v1h-1zM25 2h1v1h-1zM37 2h1v1h-1zM54 2h1v1h-1zM74 2h1v1h-1zM78 2h1v1h-1zM80 2h1v1h-1zM88 2h1v1h-1zM91 2h1v1h-1zM95 2h1v1h-1zM99 2h1v1h-1zM5 1h1v1h-1zM14 1h1v1h-1zM20 1h1v1h-1zM47 1h1v1h-1zM53 1h1v1h-1zM76 1h1v1h-1zM91 1h1v1h-1zM96 1h1v1h-1zM9 0h1v1h-1zM16 0h1v1h-1zM96 0h1v1h-1z"/>
<path fill="#f9c2a7" d="M100 124h1v1h-1zM19 122h1v1h-1zM4 119h1v1h-1zM10 119h1v1h-1zM85 119h1v1h-1zM91 119h1v1h-1zM94 119h1v1h-1zM97 119h1v1h-1zM4 118h1v1h-1zM11 118h1v1h-1zM16 118h1v1h-1zM95 118h1v1h-1zM16 117h1v1h-1zM89 117h1v1h-1zM20 116h1v1h-1zM54 116h1v1h-1zM88 116h1v1h-1zM83 115h1v1h-1zM80 114h1v1h-1zM100 114h1v1h-1zM3 113h3v1h-3zM9 113h1v1h-1zM78 113h1v1h-1zM99 113h1v1h-1zM7 112h2v1h-2zM93 112h1v1h-1zM13 111h1v1h-1zM76 111h1v1h-1zM8 110h1v1h-1zM73 110h1v1h-1zM92 110h1v1h-1zM100 110h1v1h-1zM4 109h1v1h-1zM10 109h1v1h-1zM13 109h1v1h-1zM33 109h2v1h-2zM71 109h1v1h-1zM86 109h1v1h-1zM8 108h1v1h-1zM10 108h2v1h-2zM33 108h1v1h-1zM86 108h1v1h-1zM95 108h1v1h-1zM13 107h1v1h-1zM21 107h1v1h-1zM36 107h1v1h-1zM1 106h1v1h-1zM14 106h1v1h-1zM82 106h1v1h-1zM3 105h2v1h-2zM14 105h1v1h-1zM26 105h1v1h-1zM37 105h1v1h-1zM54 105h1v1h-1zM79 105h1v1h-1zM89 105h1v1h-1zM93 105h1v1h-1zM98 105h1v1h-1zM0 104h1v1h-1zM4 104h1v1h-1zM15 104h1v1h-1zM54 104h1v1h-1zM66 104h1v1h-1zM100 104h1v1h-1zM3 103h3v1h-3zM54 103h1v1h-1zM75 103h2v1h-2zM88 103h1v1h-1zM95 103h1v1h-1zM97 102h2v1h-2zM100 102h1v1h-1zM3 101h1v1h-1zM7 101h1v1h-1zM10 101h2v1h-2zM22 101h1v1h-1zM64 101h1v1h-1zM100 101h1v1h-1zM5 100h1v1h-1zM15 100h1v1h-1zM22 100h1v1h-1zM32 100h1v1h-1zM64 100h1v1h-1zM73 100h1v1h-1zM82 100h1v1h-1zM97 100h1v1h-1zM4 99h1v1h-1zM10 99h1v1h-1zM23 99h1v1h-1zM97 99h2v1h-2zM9 98h2v1h-2zM88 98h1v1h-1zM92 98h1v1h-1zM11 97h1v1h-1zM35 97h1v1h-1zM54 97h1v1h-1zM62 97h1v1h-1zM70 97h2v1h-2zM79 97h1v1h-1zM92 97h1v1h-1zM3 96h2v1h-2zM13 96h1v1h-1zM16 96h1v1h-1zM19 96h1v1h-1zM45 96h1v1h-1zM61 96h1v1h-1zM78 96h2v1h-2zM91 96h1v1h-1zM94 96h2v1h-2zM0 95h1v1h-1zM9 95h1v1h-1zM13 95h1v1h-1zM92 95h1v1h-1zM99 95h1v1h-1zM20 94h1v1h-1zM23 94h1v1h-1zM54 94h1v1h-1zM60 94h1v1h-1zM85 94h1v1h-1zM99 94h2v1h-2zM2 93h1v1h-1zM15 93h1v1h-1zM23 93h1v1h-1zM38 93h1v1h-1zM68 93h1v1h-1zM76 93h1v1h-1zM98 93h2v1h-2zM4 92h2v1h-2zM9 92h1v1h-1zM54 92h1v1h-1zM59 92h1v1h-1zM82 92h1v1h-1zM4 91h1v1h-1zM6 91h2v1h-2zM10 91h1v1h-1zM17 91h1v1h-1zM25 91h1v1h-1zM53 91h1v1h-1zM74 91h1v1h-1zM88 91h1v1h-1zM100 91h1v1h-1zM1 90h1v1h-1zM8 90h1v1h-1zM10 90h1v1h-1zM17 90h1v1h-1zM25 90h1v1h-1zM32 90h1v1h-1zM39 90h1v1h-1zM58 90h1v1h-1zM86 90h1v1h-1zM97 90h1v1h-1zM0 89h1v1h-1zM10 89h1v1h-1zM49 89h1v1h-1zM54 89h1v1h-1zM98 89h1v1h-1zM0 88h1v1h-1zM2 88h1v1h-1zM27 88h1v1h-1zM72 88h1v1h-1zM79 88h1v1h-1zM9 87h1v1h-1zM51 87h1v1h-1zM54 87h1v1h-1zM78 87h1v1h-1zM71 86h1v1h-1zM89 86h2v1h-2zM3 85h1v1h-1zM17 85h1v1h-1zM35 85h1v1h-1zM63 85h1v1h-1zM88 85h1v1h-1zM3 84h2v1h-2zM7 84h1v1h-1zM42 84h1v1h-1zM54 84h1v1h-1zM82 84h1v1h-1zM87 84h1v1h-1zM92 84h1v1h-1zM99 84h2v1h-2zM3 83h1v1h-1zM7 83h1v1h-1zM14 83h1v1h-1zM25 83h1v1h-1zM36 83h1v1h-1zM54 83h1v1h-1zM57 83h1v1h-1zM99 83h1v1h-1zM16 82h1v1h-1zM54 82h1v1h-1zM100 82h1v1h-1zM20 81h1v1h-1zM26 81h1v1h-1zM31 81h1v1h-1zM57 81h1v1h-1zM95 81h1v1h-1zM7 80h2v1h-2zM10 80h1v1h-1zM21 80h2v1h-2zM32 80h1v1h-1zM54 80h1v1h-1zM62 80h1v1h-1zM79 80h1v1h-1zM85 80h1v1h-1zM0 79h1v1h-1zM23 79h1v1h-1zM32 79h1v1h-1zM57 79h1v1h-1zM68 79h1v1h-1zM9 78h2v1h-2zM23 78h1v1h-1zM33 78h1v1h-1zM44 78h1v1h-1zM88 78h1v1h-1zM1 77h1v1h-1zM54 77h1v1h-1zM61 77h1v1h-1zM77 77h1v1h-1zM86 77h1v1h-1zM96 77h1v1h-1zM3 76h1v1h-1zM9 76h1v1h-1zM15 76h1v1h-1zM19 76h2v1h-2zM29 76h1v1h-1zM67 76h1v1h-1zM82 76h1v1h-1zM87 76h1v1h-1zM96 76h1v1h-1zM60 75h1v1h-1zM92 75h1v1h-1zM100 75h1v1h-1zM5 74h1v1h-1zM17 74h1v1h-1zM21 74h1v1h-1zM35 74h1v1h-1zM57 74h1v1h-1zM60 74h1v1h-1zM70 74h1v1h-1zM100 74h1v1h-1zM5 73h1v1h-1zM7 73h1v1h-1zM26 73h1v1h-1zM40 73h1v1h-1zM80 73h1v1h-1zM98 73h1v1h-1zM1 72h1v1h-1zM4 72h1v1h-1zM8 72h1v1h-1zM22 72h1v1h-1zM57 72h1v1h-1zM7 71h1v1h-1zM14 71h1v1h-1zM54 71h1v1h-1zM57 71h1v1h-1zM59 71h1v1h-1zM87 71h1v1h-1zM82 70h1v1h-1zM95 70h1v1h-1zM99 70h1v1h-1zM0 69h1v1h-1zM2 69h2v1h-2zM8 69h1v1h-1zM11 69h1v1h-1zM15 69h2v1h-2zM24 69h1v1h-1zM54 69h1v1h-1zM73 69h1v1h-1zM78 69h1v1h-1zM86 69h1v1h-1zM94 69h1v1h-1zM3 68h2v1h-2zM12 68h1v1h-1zM58 68h1v1h-1zM64 68h1v1h-1zM89 68h1v1h-1zM1 67h1v1h-1zM3 67h1v1h-1zM9 67h2v1h-2zM13 67h1v1h-1zM33 67h1v1h-1zM89 67h1v1h-1zM96 67h1v1h-1zM2 66h1v1h-1zM21 66h1v1h-1zM80 66h1v1h-1zM85 66h1v1h-1zM92 66h1v1h-1zM96 66h1v1h-1zM5 65h1v1h-1zM11 65h1v1h-1zM13 65h2v1h-2zM21 65h1v1h-1zM99 65h1v1h-1zM14 64h1v1h-1zM23 64h1v1h-1zM43 64h1v1h-1zM63 64h1v1h-1zM75 64h1v1h-1zM83 64h1v1h-1zM90 64h1v1h-1zM100 64h1v1h-1zM1 63h1v1h-1zM83 63h1v1h-1zM90 63h1v1h-1zM100 63h1v1h-1zM5 62h1v1h-1zM27 62h1v1h-1zM39 62h1v1h-1zM91 62h1v1h-1zM93 62h1v1h-1zM100 62h1v1h-1zM0 61h1v1h-1zM16 61h1v1h-1zM35 61h1v1h-1zM62 61h1v1h-1zM89 61h1v1h-1zM92 61h2v1h-2zM3 60h1v1h-1zM14 60h1v1h-1zM24 60h1v1h-1zM51 60h1v1h-1zM54 60h1v1h-1zM88 60h1v1h-1zM91 60h1v1h-1zM97 60h1v1h-1zM99 60h1v1h-1zM1 59h1v1h-1zM8 59h1v1h-1zM84 59h1v1h-1zM98 59h1v1h-1zM1 58h3v1h-3zM51 58h1v1h-1zM87 58h1v1h-1zM5 57h1v1h-1zM11 57h2v1h-2zM33 57h1v1h-1zM51 57h1v1h-1zM54 57h1v1h-1zM83 57h1v1h-1zM90 57h1v1h-1zM12 56h1v1h-1zM45 56h1v1h-1zM69 56h1v1h-1zM96 56h1v1h-1zM5 55h1v1h-1zM11 55h1v1h-1zM13 55h1v1h-1zM72 55h1v1h-1zM82 55h1v1h-1zM100 55h1v1h-1zM0 54h1v1h-1zM4 54h1v1h-1zM13 54h1v1h-1zM37 54h1v1h-1zM45 54h1v1h-1zM64 54h1v1h-1zM98 54h1v1h-1zM1 53h1v1h-1zM68 53h1v1h-1zM78 53h1v1h-1zM88 53h1v1h-1zM92 53h1v1h-1zM94 53h1v1h-1zM100 53h1v1h-1zM7 52h1v1h-1zM81 52h1v1h-1zM91 52h1v1h-1zM25 51h1v1h-1zM53 51h1v1h-1zM74 51h1v1h-1zM93 51h1v1h-1zM1 50h1v1h-1zM46 50h1v1h-1zM67 50h1v1h-1zM70 50h1v1h-1zM92 50h1v1h-1zM97 50h1v1h-1zM2 49h1v1h-1zM10 49h1v1h-1zM16 49h1v1h-1zM53 49h1v1h-1zM59 49h1v1h-1zM67 49h1v1h-1zM83 49h1v1h-1zM93 49h1v1h-1zM97 49h1v1h-1zM53 48h1v1h-1zM63 48h1v1h-1zM76 48h1v1h-1zM5 47h1v1h-1zM47 47h1v1h-1zM1 46h1v1h-1zM10 46h1v1h-1zM12 46h1v1h-1zM16 46h1v1h-1zM21 46h1v1h-1zM24 46h1v1h-1zM87 46h1v1h-1zM1 45h1v1h-1zM5 45h1v1h-1zM11 45h1v1h-1zM18 45h1v1h-1zM30 45h1v1h-1zM54 45h1v1h-1zM75 45h1v1h-1zM100 45h1v1h-1zM11 44h1v1h-1zM43 44h1v1h-1zM81 44h1v1h-1zM89 44h1v1h-1zM13 43h1v1h-1zM19 43h1v1h-1zM22 43h1v1h-1zM40 43h1v1h-1zM58 43h1v1h-1zM94 43h1v1h-1zM7 42h2v1h-2zM12 42h1v1h-1zM17 42h1v1h-1zM92 42h1v1h-1zM13 41h2v1h-2zM20 41h1v1h-1zM26 41h1v1h-1zM44 41h1v1h-1zM65 41h1v1h-1zM88 41h1v1h-1zM91 41h2v1h-2zM96 41h1v1h-1zM13 40h1v1h-1zM15 40h1v1h-1zM18 40h1v1h-1zM29 40h1v1h-1zM54 40h1v1h-1zM91 40h1v1h-1zM2 39h2v1h-2zM5 39h1v1h-1zM24 39h1v1h-1zM79 39h1v1h-1zM95 39h1v1h-1zM98 39h1v1h-1zM19 38h1v1h-1zM53 38h1v1h-1zM61 38h1v1h-1zM91 38h1v1h-1zM0 37h1v1h-1zM4 37h2v1h-2zM11 37h1v1h-1zM14 37h1v1h-1zM27 37h1v1h-1zM41 37h1v1h-1zM53 37h1v1h-1zM61 37h1v1h-1zM91 37h1v1h-1zM0 36h1v1h-1zM10 36h1v1h-1zM17 36h1v1h-1zM27 36h1v1h-1zM49 36h1v1h-1zM53 36h1v1h-1zM57 36h1v1h-1zM86 36h1v1h-1zM0 35h1v1h-1zM2 35h1v1h-1zM45 35h1v1h-1zM53 35h1v1h-1zM80 35h1v1h-1zM94 35h1v1h-1zM98 35h1v1h-1zM6 34h2v1h-2zM17 34h1v1h-1zM23 34h1v1h-1zM54 34h1v1h-1zM57 34h1v1h-1zM72 34h1v1h-1zM85 34h1v1h-1zM93 34h1v1h-1zM95 34h1v1h-1zM1 33h1v1h-1zM16 33h1v1h-1zM21 33h1v1h-1zM39 33h1v1h-1zM42 33h1v1h-1zM57 33h1v1h-1zM77 33h1v1h-1zM94 33h1v1h-1zM8 32h1v1h-1zM13 32h1v1h-1zM18 32h1v1h-1zM72 32h1v1h-1zM87 32h1v1h-1zM60 31h1v1h-1zM92 31h1v1h-1zM3 30h1v1h-1zM12 30h3v1h-3zM29 30h1v1h-1zM79 30h1v1h-1zM81 30h1v1h-1zM98 30h1v1h-1zM18 29h1v1h-1zM37 29h1v1h-1zM43 29h1v1h-1zM86 29h1v1h-1zM92 29h1v1h-1zM0 28h2v1h-2zM3 28h2v1h-2zM10 28h1v1h-1zM27 28h1v1h-1zM43 28h1v1h-1zM51 28h1v1h-1zM92 28h1v1h-1zM100 28h1v1h-1zM1 27h1v1h-1zM5 27h1v1h-1zM18 27h1v1h-1zM20 27h1v1h-1zM25 27h1v1h-1zM35 27h1v1h-1zM68 27h1v1h-1zM78 27h1v1h-1zM4 26h2v1h-2zM10 26h1v1h-1zM14 26h1v1h-1zM62 26h1v1h-1zM65 26h1v1h-1zM91 26h1v1h-1zM100 26h1v1h-1zM6 25h1v1h-1zM14 25h1v1h-1zM16 25h1v1h-1zM19 25h1v1h-1zM57 25h1v1h-1zM62 25h1v1h-1zM85 25h1v1h-1zM91 25h1v1h-1zM96 25h1v1h-1zM100 25h1v1h-1zM3 24h1v1h-1zM77 24h1v1h-1zM89 24h1v1h-1zM4 23h1v1h-1zM7 23h1v1h-1zM15 23h1v1h-1zM26 23h1v1h-1zM72 23h1v1h-1zM86 23h1v1h-1zM93 23h1v1h-1zM22 22h1v1h-1zM54 22h1v1h-1zM57 22h2v1h-2zM79 22h1v1h-1zM86 22h1v1h-1zM13 21h1v1h-1zM15 21h2v1h-2zM44 21h1v1h-1zM54 21h1v1h-1zM64 21h1v1h-1zM67 21h1v1h-1zM88 21h1v1h-1zM90 21h1v1h-1zM94 21h1v1h-1zM97 21h1v1h-1zM54 20h1v1h-1zM76 20h1v1h-1zM83 20h1v1h-1zM1 19h1v1h-1zM4 19h2v1h-2zM23 19h1v1h-1zM61 19h1v1h-1zM0 18h2v1h-2zM4 18h1v1h-1zM14 18h1v1h-1zM21 18h1v1h-1zM30 18h1v1h-1zM71 18h1v1h-1zM95 18h1v1h-1zM19 17h1v1h-1zM28 17h1v1h-1zM37 17h1v1h-1zM39 17h1v1h-1zM54 17h1v1h-1zM82 17h1v1h-1zM84 17h1v1h-1zM95 17h1v1h-1zM5 16h1v1h-1zM10 16h1v1h-1zM15 16h1v1h-1zM26 16h1v1h-1zM84 16h1v1h-1zM88 16h1v1h-1zM91 16h1v1h-1zM96 16h1v1h-1zM99 16h1v1h-1zM1 15h1v1h-1zM6 15h1v1h-1zM10 15h2v1h-2zM22 15h1v1h-1zM68 15h1v1h-1zM79 15h1v1h-1zM98 15h1v1h-1zM100 15h1v1h-1zM3 14h1v1h-1zM20 14h1v1h-1zM33 14h1v1h-1zM63 14h1v1h-1zM81 14h1v1h-1zM91 14h1v1h-1zM98 14h1v1h-1zM3 13h1v1h-1zM16 13h1v1h-1zM83 13h1v1h-1zM89 13h1v1h-1zM94 13h2v1h-2zM2 12h2v1h-2zM9 12h1v1h-1zM11 12h1v1h-1zM16 12h1v1h-1zM87 12h1v1h-1zM93 12h1v1h-1zM9 11h1v1h-1zM21 11h1v1h-1zM38 11h1v1h-1zM60 11h1v1h-1zM94 11h1v1h-1zM0 10h1v1h-1zM13 10h1v1h-1zM21 10h1v1h-1zM65 10h1v1h-1zM78 10h1v1h-1zM0 9h1v1h-1zM13 9h1v1h-1zM46 9h1v1h-1zM92 9h1v1h-1zM97 9h1v1h-1zM100 9h1v1h-1zM5 8h1v1h-1zM18 8h1v1h-1zM20 8h1v1h-1zM22 8h1v1h-1zM26 8h1v1h-1zM28 8h1v1h-1zM30 8h1v1h-1zM100 8h1v1h-1zM5 7h1v1h-1zM26 7h1v1h-1zM30 7h1v1h-1zM43 7h1v1h-1zM62 7h1v1h-1zM93 7h1v1h-1zM15 6h1v1h-1zM77 6h1v1h-1zM81 6h1v1h-1zM3 5h1v1h-1zM6 5h1v1h-1zM10 5h1v1h-1zM14 5h2v1h-2zM23 5h1v1h-1zM7 4h1v1h-1zM51 4h1v1h-1zM54 4h1v1h-1zM59 4h1v1h-1zM4 3h1v1h-1zM14 3h1v1h-1zM33 3h1v1h-1zM37 3h1v1h-1zM44 3h1v1h-1zM64 3h1v1h-1zM0 2h1v1h-1zM3 2h1v1h-1zM18 2h1v1h-1zM33 2h1v1h-1zM44 2h1v1h-1zM66 2h1v1h-1zM82 2h1v1h-1zM93 2h1v1h-1zM0 1h1v1h-1zM3 1h1v1h-1zM44 1h1v1h-1zM54 1h1v1h-1zM68 1h1v1h-1zM72 1h1v1h-1zM5 0h1v1h-1zM20 0h1v1h-1zM22 0h1v1h-1zM54 0h1v1h-1zM68 0h1v1h-1zM87 0h1v1h-1zM89 0h1v1h-1zM97 0h1v1h-1z"/>
<path fill="#f7b799" d="M95 122h1v1h-1zM84 121h1v1h-1zM2 119h1v1h-1zM7 119h1v1h-1zM9 119h1v1h-1zM14 119h1v1h-1zM95 119h1v1h-1zM98 119h2v1h-2zM9 118h1v1h-1zM12 118h2v1h-2zM93 118h1v1h-1zM14 117h2v1h-2zM17 117h4v1h-4zM19 116h1v1h-1zM21 116h1v1h-1zM87 116h1v1h-1zM2 115h1v1h-1zM24 115h1v1h-1zM82 115h1v1h-1zM22 114h1v1h-1zM25 114h1v1h-1zM54 114h1v1h-1zM1 113h1v1h-1zM54 113h1v1h-1zM0 112h1v1h-1zM2 112h2v1h-2zM11 112h1v1h-1zM29 112h2v1h-2zM94 112h1v1h-1zM3 111h1v1h-1zM5 111h1v1h-1zM7 111h1v1h-1zM11 111h2v1h-2zM15 111h1v1h-1zM54 111h1v1h-1zM89 111h1v1h-1zM93 111h2v1h-2zM100 111h1v1h-1zM4 110h2v1h-2zM10 110h1v1h-1zM54 110h1v1h-1zM87 110h1v1h-1zM11 109h2v1h-2zM14 109h1v1h-1zM19 109h1v1h-1zM87 109h1v1h-1zM14 108h1v1h-1zM16 108h1v1h-1zM53 108h1v1h-1zM94 108h1v1h-1zM96 108h1v1h-1zM23 107h1v1h-1zM83 107h1v1h-1zM93 107h2v1h-2zM96 107h1v1h-1zM16 106h1v1h-1zM24 106h1v1h-1zM54 106h1v1h-1zM68 106h1v1h-1zM2 105h1v1h-1zM28 105h1v1h-1zM67 105h1v1h-1zM19 104h1v1h-1zM28 104h1v1h-1zM67 104h1v1h-1zM85 104h1v1h-1zM89 104h1v1h-1zM0 103h1v1h-1zM20 103h1v1h-1zM40 103h1v1h-1zM85 103h2v1h-2zM96 103h1v1h-1zM98 103h1v1h-1zM100 103h1v1h-1zM8 102h1v1h-1zM21 102h1v1h-1zM41 102h1v1h-1zM65 102h1v1h-1zM96 102h1v1h-1zM41 101h2v1h-2zM75 101h1v1h-1zM83 101h1v1h-1zM94 101h1v1h-1zM7 100h1v1h-1zM10 100h3v1h-3zM23 100h1v1h-1zM31 100h1v1h-1zM43 100h1v1h-1zM54 100h1v1h-1zM99 100h1v1h-1zM15 99h1v1h-1zM54 99h1v1h-1zM63 99h1v1h-1zM92 99h1v1h-1zM99 99h1v1h-1zM11 98h2v1h-2zM26 98h1v1h-1zM54 98h1v1h-1zM62 98h1v1h-1zM80 98h2v1h-2zM90 98h1v1h-1zM26 97h1v1h-1zM34 97h1v1h-1zM53 97h1v1h-1zM94 97h1v1h-1zM96 97h1v1h-1zM0 96h2v1h-2zM53 96h1v1h-1zM60 96h1v1h-1zM87 96h1v1h-1zM2 95h2v1h-2zM19 95h1v1h-1zM28 95h1v1h-1zM36 95h1v1h-1zM53 95h1v1h-1zM60 95h1v1h-1zM5 94h1v1h-1zM69 94h1v1h-1zM90 94h1v1h-1zM1 93h1v1h-1zM4 93h2v1h-2zM7 93h1v1h-1zM21 93h1v1h-1zM47 93h1v1h-1zM53 93h2v1h-2zM59 93h1v1h-1zM85 93h1v1h-1zM100 93h1v1h-1zM7 92h2v1h-2zM31 92h1v1h-1zM75 92h1v1h-1zM98 92h1v1h-1zM8 91h1v1h-1zM18 91h1v1h-1zM54 91h1v1h-1zM58 91h1v1h-1zM96 91h1v1h-1zM53 90h2v1h-2zM93 90h2v1h-2zM11 89h1v1h-1zM53 89h1v1h-1zM66 89h1v1h-1zM80 89h1v1h-1zM9 88h1v1h-1zM11 88h1v1h-1zM21 88h1v1h-1zM49 88h1v1h-1zM54 88h1v1h-1zM11 87h1v1h-1zM14 87h1v1h-1zM65 87h1v1h-1zM90 87h1v1h-1zM4 86h1v1h-1zM12 86h1v1h-1zM28 86h1v1h-1zM77 86h1v1h-1zM83 86h1v1h-1zM4 85h1v1h-1zM13 85h1v1h-1zM16 85h1v1h-1zM23 85h1v1h-1zM82 85h1v1h-1zM93 85h1v1h-1zM5 84h1v1h-1zM16 84h1v1h-1zM18 84h1v1h-1zM51 84h1v1h-1zM76 84h1v1h-1zM89 84h1v1h-1zM93 84h1v1h-1zM4 83h1v1h-1zM9 83h1v1h-1zM63 83h1v1h-1zM70 83h1v1h-1zM81 83h1v1h-1zM98 83h1v1h-1zM100 83h1v1h-1zM4 82h1v1h-1zM7 82h1v1h-1zM9 82h1v1h-1zM19 82h1v1h-1zM42 82h1v1h-1zM96 82h1v1h-1zM7 81h1v1h-1zM54 81h1v1h-1zM69 81h1v1h-1zM74 81h1v1h-1zM85 81h2v1h-2zM98 81h3v1h-3zM17 80h1v1h-1zM43 80h1v1h-1zM88 80h2v1h-2zM98 80h2v1h-2zM1 79h1v1h-1zM11 79h1v1h-1zM27 79h1v1h-1zM62 79h1v1h-1zM78 79h1v1h-1zM88 79h1v1h-1zM93 79h1v1h-1zM1 78h1v1h-1zM18 78h1v1h-1zM21 78h1v1h-1zM28 78h1v1h-1zM83 78h1v1h-1zM87 78h1v1h-1zM94 78h1v1h-1zM4 77h1v1h-1zM19 77h1v1h-1zM67 77h1v1h-1zM94 77h2v1h-2zM4 76h1v1h-1zM11 76h4v1h-4zM24 76h1v1h-1zM81 76h1v1h-1zM92 76h1v1h-1zM95 76h1v1h-1zM3 75h3v1h-3zM12 75h1v1h-1zM14 75h2v1h-2zM21 75h1v1h-1zM24 75h1v1h-1zM34 75h1v1h-1zM39 75h1v1h-1zM54 75h1v1h-1zM66 75h1v1h-1zM94 75h1v1h-1zM99 75h1v1h-1zM12 74h1v1h-1zM91 74h1v1h-1zM99 74h1v1h-1zM8 73h1v1h-1zM35 73h1v1h-1zM45 73h1v1h-1zM70 73h1v1h-1zM75 73h1v1h-1zM84 73h1v1h-1zM89 73h2v1h-2zM92 73h1v1h-1zM40 72h1v1h-1zM46 72h1v1h-1zM54 72h1v1h-1zM65 72h1v1h-1zM79 72h1v1h-1zM83 72h1v1h-1zM100 72h1v1h-1zM0 71h1v1h-1zM27 71h1v1h-1zM90 71h1v1h-1zM96 71h1v1h-1zM99 71h1v1h-1zM0 70h1v1h-1zM2 70h1v1h-1zM8 70h1v1h-1zM15 70h2v1h-2zM18 70h2v1h-2zM23 70h1v1h-1zM32 70h1v1h-1zM54 70h1v1h-1zM78 70h1v1h-1zM87 70h1v1h-1zM10 69h1v1h-1zM18 69h1v1h-1zM64 69h1v1h-1zM1 68h1v1h-1zM10 68h2v1h-2zM20 68h1v1h-1zM25 68h1v1h-1zM37 68h1v1h-1zM57 68h1v1h-1zM77 68h1v1h-1zM93 68h1v1h-1zM12 67h1v1h-1zM17 67h2v1h-2zM20 67h1v1h-1zM29 67h1v1h-1zM37 67h1v1h-1zM47 67h1v1h-1zM54 67h1v1h-1zM57 67h1v1h-1zM68 67h1v1h-1zM88 67h1v1h-1zM29 66h1v1h-1zM84 66h1v1h-1zM12 65h1v1h-1zM19 65h1v1h-1zM22 65h1v1h-1zM34 65h1v1h-1zM92 65h1v1h-1zM94 65h2v1h-2zM5 64h1v1h-1zM13 64h1v1h-1zM15 64h1v1h-1zM20 64h1v1h-1zM67 64h1v1h-1zM92 64h1v1h-1zM5 63h2v1h-2zM13 63h1v1h-1zM49 63h1v1h-1zM54 63h1v1h-1zM99 63h1v1h-1zM0 62h1v1h-1zM14 62h1v1h-1zM20 62h1v1h-1zM49 62h1v1h-1zM54 62h1v1h-1zM85 62h1v1h-1zM90 62h1v1h-1zM98 62h1v1h-1zM2 61h1v1h-1zM21 61h1v1h-1zM74 61h1v1h-1zM82 61h1v1h-1zM91 61h1v1h-1zM96 61h2v1h-2zM8 60h1v1h-1zM28 60h1v1h-1zM66 60h1v1h-1zM44 59h1v1h-1zM54 59h1v1h-1zM61 59h1v1h-1zM81 59h1v1h-1zM10 58h1v1h-1zM15 58h2v1h-2zM40 58h1v1h-1zM44 58h1v1h-1zM61 58h1v1h-1zM88 58h1v1h-1zM3 57h1v1h-1zM10 57h1v1h-1zM76 57h1v1h-1zM4 56h1v1h-1zM11 56h1v1h-1zM19 56h1v1h-1zM26 56h1v1h-1zM51 56h1v1h-1zM54 56h1v1h-1zM65 56h1v1h-1zM89 56h1v1h-1zM94 56h1v1h-1zM100 56h1v1h-1zM4 55h1v1h-1zM37 55h1v1h-1zM51 55h1v1h-1zM89 55h1v1h-1zM94 55h2v1h-2zM41 54h1v1h-1zM54 54h1v1h-1zM72 54h1v1h-1zM75 54h1v1h-1zM88 54h1v1h-1zM92 54h1v1h-1zM0 53h1v1h-1zM7 53h1v1h-1zM18 53h1v1h-1zM34 53h1v1h-1zM54 53h1v1h-1zM64 53h1v1h-1zM81 53h1v1h-1zM85 53h1v1h-1zM2 52h1v1h-1zM8 52h1v1h-1zM12 52h1v1h-1zM14 52h1v1h-1zM34 52h1v1h-1zM64 52h1v1h-1zM84 52h2v1h-2zM92 52h1v1h-1zM9 51h1v1h-1zM19 51h1v1h-1zM21 51h1v1h-1zM46 51h1v1h-1zM54 51h1v1h-1zM71 51h1v1h-1zM86 51h2v1h-2zM90 51h2v1h-2zM96 51h1v1h-1zM3 50h1v1h-1zM14 50h1v1h-1zM20 50h1v1h-1zM54 50h1v1h-1zM59 50h1v1h-1zM77 50h1v1h-1zM84 50h1v1h-1zM86 50h1v1h-1zM90 50h2v1h-2zM3 49h1v1h-1zM54 49h1v1h-1zM70 49h1v1h-1zM91 49h1v1h-1zM2 48h1v1h-1zM16 48h2v1h-2zM29 48h1v1h-1zM73 48h1v1h-1zM83 48h1v1h-1zM95 48h1v1h-1zM9 47h2v1h-2zM17 47h1v1h-1zM21 47h1v1h-1zM39 47h1v1h-1zM53 47h1v1h-1zM5 46h1v1h-1zM11 46h1v1h-1zM15 46h1v1h-1zM18 46h1v1h-1zM27 46h1v1h-1zM36 46h1v1h-1zM54 46h1v1h-1zM66 46h1v1h-1zM90 46h1v1h-1zM94 46h1v1h-1zM96 46h1v1h-1zM6 45h1v1h-1zM69 45h1v1h-1zM84 45h1v1h-1zM87 45h1v1h-1zM96 45h1v1h-1zM99 45h1v1h-1zM1 44h1v1h-1zM53 44h1v1h-1zM94 44h1v1h-1zM100 44h1v1h-1zM12 43h1v1h-1zM28 43h1v1h-1zM98 43h1v1h-1zM1 42h1v1h-1zM25 42h1v1h-1zM54 42h1v1h-1zM86 42h1v1h-1zM99 42h1v1h-1zM3 41h1v1h-1zM9 41h1v1h-1zM23 41h1v1h-1zM53 41h1v1h-1zM2 40h2v1h-2zM53 40h1v1h-1zM82 40h1v1h-1zM85 40h1v1h-1zM93 40h1v1h-1zM96 40h1v1h-1zM98 40h1v1h-1zM4 39h1v1h-1zM54 39h1v1h-1zM4 38h2v1h-2zM21 38h1v1h-1zM35 38h1v1h-1zM41 38h1v1h-1zM49 38h1v1h-1zM86 38h1v1h-1zM95 38h1v1h-1zM73 37h1v1h-1zM81 37h1v1h-1zM86 37h1v1h-1zM1 36h1v1h-1zM4 36h1v1h-1zM20 36h1v1h-1zM22 36h1v1h-1zM25 36h1v1h-1zM64 36h1v1h-1zM75 36h1v1h-1zM78 36h1v1h-1zM85 36h1v1h-1zM96 36h1v1h-1zM99 36h2v1h-2zM1 35h1v1h-1zM11 35h1v1h-1zM16 35h1v1h-1zM20 35h1v1h-1zM22 35h1v1h-1zM57 35h1v1h-1zM64 35h1v1h-1zM67 35h1v1h-1zM70 35h1v1h-1zM78 35h1v1h-1zM83 35h1v1h-1zM85 35h1v1h-1zM88 35h1v1h-1zM99 35h1v1h-1zM1 34h1v1h-1zM12 34h1v1h-1zM15 34h2v1h-2zM28 34h1v1h-1zM36 34h1v1h-1zM88 34h1v1h-1zM100 34h1v1h-1zM7 33h1v1h-1zM12 33h1v1h-1zM31 33h1v1h-1zM54 33h1v1h-1zM87 33h1v1h-1zM98 33h1v1h-1zM7 32h1v1h-1zM60 32h1v1h-1zM69 32h1v1h-1zM94 32h1v1h-1zM99 32h1v1h-1zM8 31h1v1h-1zM13 31h1v1h-1zM54 31h1v1h-1zM63 31h1v1h-1zM79 31h1v1h-1zM82 31h1v1h-1zM4 30h1v1h-1zM19 30h1v1h-1zM51 30h1v1h-1zM96 30h1v1h-1zM4 29h1v1h-1zM32 29h1v1h-1zM54 29h1v1h-1zM63 29h1v1h-1zM93 29h1v1h-1zM46 28h1v1h-1zM54 28h1v1h-1zM86 28h1v1h-1zM91 28h1v1h-1zM95 28h1v1h-1zM0 27h1v1h-1zM40 27h1v1h-1zM43 27h1v1h-1zM90 27h1v1h-1zM99 27h1v1h-1zM1 26h1v1h-1zM23 26h1v1h-1zM25 26h1v1h-1zM54 26h1v1h-1zM59 26h1v1h-1zM82 26h1v1h-1zM87 26h1v1h-1zM90 26h1v1h-1zM99 26h1v1h-1zM1 25h2v1h-2zM10 25h2v1h-2zM54 25h1v1h-1zM75 25h1v1h-1zM80 25h1v1h-1zM94 25h1v1h-1zM1 24h1v1h-1zM16 24h1v1h-1zM20 24h1v1h-1zM26 24h1v1h-1zM33 24h1v1h-1zM86 24h1v1h-1zM93 24h2v1h-2zM3 23h1v1h-1zM11 23h1v1h-1zM95 23h1v1h-1zM8 22h1v1h-1zM29 22h1v1h-1zM31 22h1v1h-1zM41 22h1v1h-1zM67 22h1v1h-1zM93 22h2v1h-2zM99 22h1v1h-1zM4 21h1v1h-1zM8 21h1v1h-1zM34 21h1v1h-1zM36 21h1v1h-1zM47 21h1v1h-1zM74 21h1v1h-1zM0 20h1v1h-1zM4 20h1v1h-1zM12 20h1v1h-1zM27 20h1v1h-1zM34 20h1v1h-1zM58 20h1v1h-1zM61 20h1v1h-1zM64 20h1v1h-1zM74 20h1v1h-1zM92 20h1v1h-1zM96 20h1v1h-1zM0 19h1v1h-1zM18 19h1v1h-1zM57 19h1v1h-1zM92 19h1v1h-1zM96 19h1v1h-1zM84 18h1v1h-1zM100 18h1v1h-1zM15 17h1v1h-1zM17 17h2v1h-2zM66 17h1v1h-1zM92 17h1v1h-1zM99 17h1v1h-1zM1 16h1v1h-1zM19 16h1v1h-1zM22 16h1v1h-1zM37 16h1v1h-1zM73 16h1v1h-1zM82 16h1v1h-1zM2 15h1v1h-1zM91 15h1v1h-1zM83 14h1v1h-1zM96 14h1v1h-1zM20 13h1v1h-1zM40 13h1v1h-1zM63 13h1v1h-1zM93 13h1v1h-1zM99 13h1v1h-1zM4 12h1v1h-1zM8 12h1v1h-1zM12 12h1v1h-1zM19 12h1v1h-1zM29 12h1v1h-1zM49 12h1v1h-1zM70 12h1v1h-1zM74 12h1v1h-1zM86 12h1v1h-1zM89 12h1v1h-1zM99 12h1v1h-1zM0 11h1v1h-1zM16 11h2v1h-2zM23 11h1v1h-1zM49 11h1v1h-1zM74 11h1v1h-1zM82 11h1v1h-1zM86 11h1v1h-1zM1 10h1v1h-1zM4 10h1v1h-1zM9 10h1v1h-1zM16 10h1v1h-1zM54 10h1v1h-1zM76 10h1v1h-1zM98 10h1v1h-1zM4 9h1v1h-1zM16 9h1v1h-1zM20 9h1v1h-1zM54 9h1v1h-1zM80 9h1v1h-1zM14 8h1v1h-1zM34 8h1v1h-1zM43 8h1v1h-1zM46 8h1v1h-1zM67 8h1v1h-1zM69 8h1v1h-1zM89 8h1v1h-1zM92 8h1v1h-1zM1 7h2v1h-2zM14 7h1v1h-1zM46 7h1v1h-1zM69 7h1v1h-1zM100 7h1v1h-1zM10 6h1v1h-1zM13 6h1v1h-1zM87 6h1v1h-1zM18 5h1v1h-1zM21 5h1v1h-1zM75 5h1v1h-1zM92 5h1v1h-1zM96 5h1v1h-1zM3 4h1v1h-1zM23 4h1v1h-1zM37 4h1v1h-1zM39 4h1v1h-1zM84 4h1v1h-1zM91 4h1v1h-1zM99 4h1v1h-1zM11 3h1v1h-1zM27 3h1v1h-1zM29 3h1v1h-1zM80 3h1v1h-1zM99 3h1v1h-1zM4 2h1v1h-1zM11 2h1v1h-1zM31 2h1v1h-1zM47 2h1v1h-1zM51 2h1v1h-1zM70 2h1v1h-1zM86 2h1v1h-1zM4 1h1v1h-1zM12 1h1v1h-1zM51 1h1v1h-1zM93 1h3v1h-3zM98 1h1v1h-1zM4 0h1v1h-1zM42 0h1v1h-1zM51 0h1v1h-1zM83 0h1v1h-1zM94 0h1v1h-1zM98 0h1v1h-1z"/>
<path fill="#f5ac8b" d="M11 119h2v1h-2zM16 119h2v1h-2zM82 119h1v1h-1zM89 119h1v1h-1zM100 119h1v1h-1zM18 118h1v1h-1zM90 118h1v1h-1zM85 117h1v1h-1zM88 117h1v1h-1zM53 116h1v1h-1zM84 116h1v1h-1zM86 116h1v1h-1zM22 115h2v1h-2zM25 115h1v1h-1zM53 115h1v1h-1zM1 114h1v1h-1zM27 114h1v1h-1zM53 114h1v1h-1zM0 113h1v1h-1zM30 113h1v1h-1zM53 113h1v1h-1zM77 113h1v1h-1zM1 112h1v1h-1zM31 112h1v1h-1zM53 112h2v1h-2zM76 112h1v1h-1zM96 112h1v1h-1zM98 112h1v1h-1zM4 111h1v1h-1zM8 111h1v1h-1zM53 111h1v1h-1zM96 111h1v1h-1zM99 111h1v1h-1zM11 110h1v1h-1zM14 110h1v1h-1zM33 110h1v1h-1zM53 110h1v1h-1zM72 110h1v1h-1zM98 110h1v1h-1zM17 109h1v1h-1zM53 109h2v1h-2zM88 109h3v1h-3zM92 109h1v1h-1zM95 109h1v1h-1zM9 108h1v1h-1zM18 108h3v1h-3zM36 108h1v1h-1zM91 108h1v1h-1zM20 107h1v1h-1zM53 107h2v1h-2zM69 107h1v1h-1zM84 107h1v1h-1zM86 107h1v1h-1zM92 107h1v1h-1zM95 107h1v1h-1zM53 106h1v1h-1zM81 106h1v1h-1zM1 105h1v1h-1zM20 105h1v1h-1zM25 105h1v1h-1zM38 105h1v1h-1zM53 105h1v1h-1zM80 105h1v1h-1zM88 105h1v1h-1zM90 105h1v1h-1zM1 104h1v1h-1zM3 104h1v1h-1zM27 104h1v1h-1zM39 104h1v1h-1zM53 104h1v1h-1zM78 104h1v1h-1zM86 104h2v1h-2zM99 104h1v1h-1zM1 103h2v1h-2zM28 103h1v1h-1zM53 103h1v1h-1zM99 103h1v1h-1zM2 102h2v1h-2zM5 102h1v1h-1zM9 102h1v1h-1zM53 102h1v1h-1zM75 102h1v1h-1zM82 102h1v1h-1zM84 102h1v1h-1zM4 101h1v1h-1zM8 101h1v1h-1zM53 101h2v1h-2zM95 101h2v1h-2zM99 101h1v1h-1zM8 100h1v1h-1zM24 100h1v1h-1zM53 100h1v1h-1zM62 100h1v1h-1zM93 100h1v1h-1zM13 99h1v1h-1zM33 99h1v1h-1zM53 99h1v1h-1zM73 99h1v1h-1zM80 99h1v1h-1zM96 99h1v1h-1zM13 98h2v1h-2zM45 98h1v1h-1zM72 98h1v1h-1zM95 98h2v1h-2zM13 97h1v1h-1zM17 97h1v1h-1zM44 97h2v1h-2zM61 97h1v1h-1zM88 97h2v1h-2zM91 97h1v1h-1zM93 97h1v1h-1zM95 97h1v1h-1zM2 96h1v1h-1zM17 96h1v1h-1zM35 96h1v1h-1zM59 96h1v1h-1zM92 96h1v1h-1zM16 95h1v1h-1zM29 95h1v1h-1zM54 95h1v1h-1zM90 95h1v1h-1zM3 94h1v1h-1zM15 94h3v1h-3zM46 94h1v1h-1zM59 94h1v1h-1zM3 93h1v1h-1zM17 93h1v1h-1zM30 93h1v1h-1zM83 93h2v1h-2zM17 92h2v1h-2zM23 92h1v1h-1zM53 92h1v1h-1zM83 92h1v1h-1zM88 92h1v1h-1zM99 92h1v1h-1zM12 90h1v1h-1zM49 90h1v1h-1zM73 90h1v1h-1zM81 90h1v1h-1zM96 90h1v1h-1zM98 90h1v1h-1zM20 89h1v1h-1zM85 89h1v1h-1zM93 89h1v1h-1zM1 88h1v1h-1zM26 88h1v1h-1zM40 88h1v1h-1zM84 88h1v1h-1zM94 88h1v1h-1zM0 87h2v1h-2zM13 87h1v1h-1zM15 87h1v1h-1zM34 87h1v1h-1zM57 87h1v1h-1zM71 87h1v1h-1zM82 87h1v1h-1zM94 87h2v1h-2zM3 86h1v1h-1zM13 86h1v1h-1zM51 86h1v1h-1zM54 86h1v1h-1zM65 86h1v1h-1zM78 86h1v1h-1zM91 86h1v1h-1zM93 86h1v1h-1zM2 85h1v1h-1zM14 85h1v1h-1zM51 85h1v1h-1zM57 85h1v1h-1zM14 84h1v1h-1zM29 84h1v1h-1zM57 84h1v1h-1zM64 84h1v1h-1zM5 83h1v1h-1zM18 83h1v1h-1zM57 82h1v1h-1zM69 82h1v1h-1zM80 82h1v1h-1zM79 81h1v1h-1zM9 80h1v1h-1zM18 80h1v1h-1zM20 80h1v1h-1zM86 80h1v1h-1zM18 79h2v1h-2zM84 79h1v1h-1zM94 79h2v1h-2zM2 78h1v1h-1zM11 78h1v1h-1zM38 78h1v1h-1zM73 78h1v1h-1zM77 78h1v1h-1zM93 78h1v1h-1zM2 77h1v1h-1zM11 77h1v1h-1zM13 77h1v1h-1zM23 77h1v1h-1zM29 77h1v1h-1zM33 77h1v1h-1zM44 77h1v1h-1zM72 76h1v1h-1zM94 76h1v1h-1zM13 75h1v1h-1zM61 75h1v1h-1zM81 75h1v1h-1zM4 74h1v1h-1zM13 74h2v1h-2zM84 74h1v1h-1zM90 74h1v1h-1zM92 74h2v1h-2zM14 73h1v1h-1zM31 73h1v1h-1zM60 73h1v1h-1zM93 73h1v1h-1zM7 72h1v1h-1zM9 72h1v1h-1zM14 72h1v1h-1zM16 72h1v1h-1zM26 72h1v1h-1zM88 72h2v1h-2zM9 71h1v1h-1zM18 71h1v1h-1zM74 71h1v1h-1zM79 71h1v1h-1zM82 71h1v1h-1zM98 71h1v1h-1zM1 70h1v1h-1zM24 70h1v1h-1zM27 70h1v1h-1zM36 70h1v1h-1zM59 70h1v1h-1zM69 70h1v1h-1zM98 70h1v1h-1zM1 69h1v1h-1zM42 69h1v1h-1zM89 69h1v1h-1zM9 68h1v1h-1zM81 68h1v1h-1zM86 68h1v1h-1zM88 68h1v1h-1zM94 68h1v1h-1zM4 67h1v1h-1zM25 67h1v1h-1zM72 67h1v1h-1zM77 67h1v1h-1zM86 67h1v1h-1zM93 67h3v1h-3zM4 66h2v1h-2zM11 66h2v1h-2zM20 66h1v1h-1zM47 66h1v1h-1zM88 66h1v1h-1zM95 66h1v1h-1zM4 65h1v1h-1zM26 65h1v1h-1zM38 65h1v1h-1zM63 65h1v1h-1zM76 65h1v1h-1zM84 65h1v1h-1zM12 64h1v1h-1zM71 64h1v1h-1zM85 64h2v1h-2zM99 64h1v1h-1zM15 63h1v1h-1zM27 63h1v1h-1zM62 63h1v1h-1zM67 63h1v1h-1zM85 63h1v1h-1zM98 63h1v1h-1zM7 62h1v1h-1zM78 62h1v1h-1zM99 62h1v1h-1zM7 61h3v1h-3zM14 61h1v1h-1zM31 61h1v1h-1zM39 61h1v1h-1zM49 61h1v1h-1zM98 61h1v1h-1zM1 60h2v1h-2zM16 60h2v1h-2zM44 60h1v1h-1zM77 60h1v1h-1zM81 60h1v1h-1zM96 60h1v1h-1zM10 59h1v1h-1zM17 59h1v1h-1zM32 59h1v1h-1zM88 59h1v1h-1zM96 59h1v1h-1zM9 58h1v1h-1zM11 58h1v1h-1zM18 58h1v1h-1zM29 58h1v1h-1zM36 58h1v1h-1zM95 58h1v1h-1zM2 57h1v1h-1zM9 57h1v1h-1zM18 57h1v1h-1zM40 57h1v1h-1zM45 57h1v1h-1zM10 56h1v1h-1zM23 56h1v1h-1zM33 56h1v1h-1zM12 55h1v1h-1zM17 55h1v1h-1zM19 55h1v1h-1zM54 55h1v1h-1zM79 55h1v1h-1zM86 55h1v1h-1zM99 55h1v1h-1zM12 54h1v1h-1zM24 54h1v1h-1zM27 54h1v1h-1zM60 54h1v1h-1zM79 54h1v1h-1zM94 54h1v1h-1zM99 54h2v1h-2zM12 53h2v1h-2zM19 53h1v1h-1zM41 53h1v1h-1zM46 53h1v1h-1zM98 53h1v1h-1zM0 52h2v1h-2zM13 52h1v1h-1zM46 52h1v1h-1zM71 52h1v1h-1zM78 52h1v1h-1zM86 52h1v1h-1zM98 52h1v1h-1zM2 51h1v1h-1zM8 51h1v1h-1zM15 51h1v1h-1zM28 51h1v1h-1zM38 51h1v1h-1zM92 51h1v1h-1zM98 51h1v1h-1zM8 50h1v1h-1zM15 50h1v1h-1zM98 50h1v1h-1zM14 49h2v1h-2zM42 49h1v1h-1zM85 49h1v1h-1zM90 49h1v1h-1zM3 48h2v1h-2zM47 48h1v1h-1zM54 48h1v1h-1zM79 48h1v1h-1zM84 48h1v1h-1zM4 47h1v1h-1zM63 47h1v1h-1zM76 47h1v1h-1zM88 47h1v1h-1zM90 47h1v1h-1zM96 47h1v1h-1zM33 46h1v1h-1zM78 46h1v1h-1zM82 46h1v1h-1zM100 46h1v1h-1zM12 45h1v1h-1zM53 45h1v1h-1zM78 45h1v1h-1zM93 45h3v1h-3zM0 44h1v1h-1zM12 44h1v1h-1zM54 44h1v1h-1zM58 44h1v1h-1zM75 44h1v1h-1zM95 44h1v1h-1zM2 43h1v1h-1zM53 43h2v1h-2zM62 43h1v1h-1zM92 43h1v1h-1zM13 42h1v1h-1zM37 42h1v1h-1zM62 42h1v1h-1zM77 42h1v1h-1zM88 42h1v1h-1zM98 42h1v1h-1zM8 41h1v1h-1zM29 41h1v1h-1zM31 41h1v1h-1zM71 41h1v1h-1zM80 41h1v1h-1zM82 41h1v1h-1zM98 41h2v1h-2zM4 40h1v1h-1zM20 40h1v1h-1zM49 40h1v1h-1zM80 40h1v1h-1zM92 40h1v1h-1zM41 39h1v1h-1zM44 39h1v1h-1zM53 39h1v1h-1zM90 39h1v1h-1zM92 39h1v1h-1zM9 38h1v1h-1zM14 38h1v1h-1zM30 38h1v1h-1zM32 38h1v1h-1zM38 38h1v1h-1zM76 38h1v1h-1zM79 38h1v1h-1zM20 37h1v1h-1zM30 37h1v1h-1zM54 37h1v1h-1zM64 37h1v1h-1zM95 37h1v1h-1zM100 37h1v1h-1zM5 36h1v1h-1zM54 36h1v1h-1zM67 36h1v1h-1zM17 35h1v1h-1zM51 35h1v1h-1zM54 35h1v1h-1zM75 35h1v1h-1zM100 35h1v1h-1zM11 34h1v1h-1zM42 34h1v1h-1zM51 34h1v1h-1zM80 34h1v1h-1zM83 34h1v1h-1zM90 34h1v1h-1zM2 33h1v1h-1zM23 33h1v1h-1zM26 33h1v1h-1zM51 33h1v1h-1zM12 32h1v1h-1zM26 32h1v1h-1zM45 32h1v1h-1zM51 32h1v1h-1zM54 32h1v1h-1zM63 32h1v1h-1zM74 32h1v1h-1zM77 32h1v1h-1zM98 32h1v1h-1zM2 31h1v1h-1zM12 31h1v1h-1zM17 31h1v1h-1zM74 31h1v1h-1zM87 31h1v1h-1zM93 31h1v1h-1zM98 31h1v1h-1zM8 30h2v1h-2zM17 30h1v1h-1zM27 30h1v1h-1zM63 30h1v1h-1zM66 30h1v1h-1zM88 30h1v1h-1zM93 30h1v1h-1zM13 29h1v1h-1zM15 29h1v1h-1zM19 29h1v1h-1zM22 29h1v1h-1zM24 29h1v1h-1zM27 29h1v1h-1zM88 29h1v1h-1zM14 28h1v1h-1zM18 28h1v1h-1zM71 28h1v1h-1zM73 28h1v1h-1zM76 28h1v1h-1zM78 28h1v1h-1zM10 27h1v1h-1zM19 27h1v1h-1zM54 27h1v1h-1zM87 27h1v1h-1zM19 26h1v1h-1zM30 26h1v1h-1zM95 26h1v1h-1zM33 25h1v1h-1zM59 25h1v1h-1zM65 25h1v1h-1zM70 25h1v1h-1zM77 25h1v1h-1zM87 25h1v1h-1zM99 25h1v1h-1zM2 24h1v1h-1zM7 24h1v1h-1zM11 24h1v1h-1zM21 24h1v1h-1zM24 24h1v1h-1zM75 24h1v1h-1zM95 24h1v1h-1zM12 23h1v1h-1zM16 23h1v1h-1zM54 23h1v1h-1zM67 23h1v1h-1zM98 23h1v1h-1zM11 22h2v1h-2zM16 22h2v1h-2zM44 22h1v1h-1zM61 22h1v1h-1zM81 22h1v1h-1zM85 22h1v1h-1zM22 21h1v1h-1zM25 21h1v1h-1zM31 21h1v1h-1zM8 20h2v1h-2zM25 20h1v1h-1zM47 20h1v1h-1zM69 20h1v1h-1zM8 19h1v1h-1zM13 19h1v1h-1zM21 19h1v1h-1zM39 19h1v1h-1zM47 19h1v1h-1zM54 19h1v1h-1zM58 19h1v1h-1zM64 19h1v1h-1zM66 19h1v1h-1zM71 19h1v1h-1zM80 19h1v1h-1zM83 19h1v1h-1zM87 19h1v1h-1zM93 19h1v1h-1zM5 18h1v1h-1zM8 18h1v1h-1zM17 18h1v1h-1zM32 18h1v1h-1zM58 18h1v1h-1zM87 18h1v1h-1zM92 18h1v1h-1zM96 18h1v1h-1zM2 17h1v1h-1zM10 17h1v1h-1zM32 17h1v1h-1zM78 17h1v1h-1zM96 17h1v1h-1zM100 17h1v1h-1zM2 16h1v1h-1zM9 16h1v1h-1zM14 16h1v1h-1zM28 16h1v1h-1zM57 16h1v1h-1zM14 15h1v1h-1zM31 15h1v1h-1zM35 15h1v1h-1zM42 15h1v1h-1zM73 15h1v1h-1zM77 15h1v1h-1zM86 15h1v1h-1zM99 15h1v1h-1zM11 14h1v1h-1zM24 14h1v1h-1zM31 14h1v1h-1zM77 14h1v1h-1zM82 14h1v1h-1zM87 14h1v1h-1zM99 14h1v1h-1zM7 13h1v1h-1zM11 13h1v1h-1zM24 13h1v1h-1zM33 13h1v1h-1zM60 13h1v1h-1zM68 13h1v1h-1zM81 13h1v1h-1zM87 13h1v1h-1zM98 13h1v1h-1zM15 12h1v1h-1zM23 12h1v1h-1zM27 12h1v1h-1zM54 12h1v1h-1zM98 12h1v1h-1zM4 11h1v1h-1zM8 11h1v1h-1zM15 11h1v1h-1zM25 11h1v1h-1zM29 11h1v1h-1zM98 11h1v1h-1zM17 10h1v1h-1zM25 10h1v1h-1zM49 10h1v1h-1zM72 10h1v1h-1zM89 10h1v1h-1zM17 9h1v1h-1zM24 9h1v1h-1zM32 9h1v1h-1zM49 9h1v1h-1zM67 9h1v1h-1zM76 9h1v1h-1zM84 9h2v1h-2zM93 9h1v1h-1zM96 9h1v1h-1zM1 8h2v1h-2zM9 8h1v1h-1zM41 8h1v1h-1zM85 8h1v1h-1zM96 8h1v1h-1zM13 7h1v1h-1zM18 7h1v1h-1zM41 7h1v1h-1zM73 7h1v1h-1zM77 7h1v1h-1zM81 7h1v1h-1zM85 7h1v1h-1zM92 7h1v1h-1zM2 6h1v1h-1zM17 6h2v1h-2zM25 6h1v1h-1zM47 6h1v1h-1zM59 6h1v1h-1zM62 6h1v1h-1zM95 6h2v1h-2zM99 6h1v1h-1zM2 5h1v1h-1zM59 5h1v1h-1zM62 5h1v1h-1zM71 5h1v1h-1zM79 5h1v1h-1zM87 5h1v1h-1zM95 5h1v1h-1zM99 5h1v1h-1zM14 4h1v1h-1zM88 4h1v1h-1zM0 3h1v1h-1zM3 3h1v1h-1zM18 3h2v1h-2zM35 3h1v1h-1zM47 3h1v1h-1zM51 3h1v1h-1zM91 3h1v1h-1zM94 3h1v1h-1zM98 3h1v1h-1zM1 1h1v1h-1zM8 1h1v1h-1zM26 1h1v1h-1zM66 1h1v1h-1zM74 1h1v1h-1zM82 1h1v1h-1zM8 0h1v1h-1zM26 0h1v1h-1zM82 0h1v1h-1zM93 0h1v1h-1z"/>
<path fill="#f19f7e" d="M13 119h1v1h-1zM20 119h1v1h-1zM88 119h1v1h-1zM90 119h1v1h-1zM92 119h1v1h-1zM96 119h1v1h-1zM14 118h1v1h-1zM17 118h1v1h-1zM20 118h1v1h-1zM83 118h1v1h-1zM23 116h1v1h-1zM82 116h2v1h-2zM26 115h1v1h-1zM79 115h1v1h-1zM26 114h1v1h-1zM78 114h2v1h-2zM28 113h2v1h-2zM4 112h2v1h-2zM9 112h1v1h-1zM73 112h1v1h-1zM100 112h1v1h-1zM9 111h1v1h-1zM32 111h1v1h-1zM98 111h1v1h-1zM12 110h2v1h-2zM88 110h1v1h-1zM90 110h1v1h-1zM99 110h1v1h-1zM9 109h1v1h-1zM18 109h1v1h-1zM35 109h1v1h-1zM94 109h1v1h-1zM96 109h1v1h-1zM12 108h2v1h-2zM35 108h1v1h-1zM87 108h1v1h-1zM90 108h1v1h-1zM92 108h1v1h-1zM14 107h1v1h-1zM16 107h1v1h-1zM18 107h2v1h-2zM70 107h1v1h-1zM90 107h1v1h-1zM15 106h1v1h-1zM18 106h1v1h-1zM90 106h1v1h-1zM19 105h1v1h-1zM24 105h1v1h-1zM87 105h1v1h-1zM2 104h1v1h-1zM18 104h1v1h-1zM20 104h1v1h-1zM24 104h1v1h-1zM79 104h1v1h-1zM21 103h1v1h-1zM41 103h1v1h-1zM65 103h1v1h-1zM79 103h1v1h-1zM83 103h1v1h-1zM29 102h1v1h-1zM42 102h1v1h-1zM54 102h1v1h-1zM76 102h1v1h-1zM99 102h1v1h-1zM9 101h1v1h-1zM30 101h1v1h-1zM82 101h1v1h-1zM98 101h1v1h-1zM94 100h1v1h-1zM96 100h1v1h-1zM98 100h1v1h-1zM11 99h2v1h-2zM14 99h1v1h-1zM25 99h1v1h-1zM32 99h1v1h-1zM61 99h2v1h-2zM94 99h1v1h-1zM15 98h1v1h-1zM44 98h1v1h-1zM53 98h1v1h-1zM61 98h1v1h-1zM73 98h1v1h-1zM79 98h1v1h-1zM94 98h1v1h-1zM12 97h1v1h-1zM14 97h1v1h-1zM60 97h1v1h-1zM78 97h1v1h-1zM90 97h1v1h-1zM14 96h1v1h-1zM18 96h1v1h-1zM70 96h2v1h-2zM93 96h1v1h-1zM18 95h1v1h-1zM77 95h1v1h-1zM86 95h1v1h-1zM2 94h1v1h-1zM4 94h1v1h-1zM18 94h1v1h-1zM36 94h1v1h-1zM53 94h1v1h-1zM76 94h1v1h-1zM20 93h1v1h-1zM22 93h1v1h-1zM89 93h1v1h-1zM19 92h1v1h-1zM85 92h1v1h-1zM89 92h1v1h-1zM100 92h1v1h-1zM19 91h2v1h-2zM24 91h1v1h-1zM51 91h1v1h-1zM82 91h2v1h-2zM85 91h1v1h-1zM95 91h1v1h-1zM98 91h2v1h-2zM9 90h1v1h-1zM20 90h1v1h-1zM24 90h1v1h-1zM82 90h1v1h-1zM25 89h1v1h-1zM39 89h1v1h-1zM51 89h1v1h-1zM72 89h1v1h-1zM84 89h1v1h-1zM96 89h1v1h-1zM12 88h1v1h-1zM25 88h1v1h-1zM33 88h1v1h-1zM66 88h1v1h-1zM2 87h1v1h-1zM12 87h1v1h-1zM40 87h1v1h-1zM83 87h1v1h-1zM92 87h1v1h-1zM96 87h1v1h-1zM2 86h1v1h-1zM14 86h1v1h-1zM23 86h1v1h-1zM41 86h1v1h-1zM57 86h1v1h-1zM92 86h1v1h-1zM24 85h1v1h-1zM64 85h1v1h-1zM89 85h1v1h-1zM92 85h1v1h-1zM17 84h1v1h-1zM25 84h1v1h-1zM70 84h1v1h-1zM81 84h1v1h-1zM16 83h2v1h-2zM76 83h1v1h-1zM80 83h1v1h-1zM15 82h1v1h-1zM18 82h1v1h-1zM26 82h1v1h-1zM30 82h1v1h-1zM63 82h1v1h-1zM75 82h1v1h-1zM90 82h1v1h-1zM98 82h2v1h-2zM9 81h1v1h-1zM37 81h1v1h-1zM89 81h1v1h-1zM68 80h1v1h-1zM95 80h1v1h-1zM2 79h1v1h-1zM20 79h1v1h-1zM22 79h1v1h-1zM67 79h1v1h-1zM96 79h1v1h-1zM12 78h1v1h-1zM62 78h1v1h-1zM86 78h1v1h-1zM95 78h2v1h-2zM12 77h1v1h-1zM20 77h1v1h-1zM39 77h1v1h-1zM85 77h1v1h-1zM93 77h1v1h-1zM2 76h1v1h-1zM21 76h1v1h-1zM39 76h1v1h-1zM66 76h1v1h-1zM84 76h1v1h-1zM93 76h1v1h-1zM93 75h1v1h-1zM15 74h1v1h-1zM34 74h1v1h-1zM22 73h1v1h-1zM25 73h1v1h-1zM71 73h1v1h-1zM83 73h1v1h-1zM100 73h1v1h-1zM45 72h1v1h-1zM70 72h1v1h-1zM74 72h1v1h-1zM98 72h2v1h-2zM16 71h1v1h-1zM23 71h1v1h-1zM60 71h1v1h-1zM89 71h1v1h-1zM41 70h1v1h-1zM57 70h1v1h-1zM73 70h1v1h-1zM90 70h1v1h-1zM9 69h1v1h-1zM19 69h1v1h-1zM57 69h1v1h-1zM59 69h1v1h-1zM17 68h1v1h-1zM2 67h1v1h-1zM11 67h1v1h-1zM58 67h1v1h-1zM93 66h2v1h-2zM43 65h1v1h-1zM79 65h1v1h-1zM87 65h1v1h-1zM22 64h1v1h-1zM93 64h1v1h-1zM14 63h1v1h-1zM20 63h1v1h-1zM75 63h1v1h-1zM84 63h1v1h-1zM62 62h1v1h-1zM67 62h1v1h-1zM83 62h1v1h-1zM92 62h1v1h-1zM44 61h1v1h-1zM84 61h1v1h-1zM90 61h1v1h-1zM99 61h1v1h-1zM61 60h1v1h-1zM89 60h1v1h-1zM16 59h1v1h-1zM24 59h1v1h-1zM66 59h1v1h-1zM22 58h1v1h-1zM83 58h1v1h-1zM89 58h2v1h-2zM4 57h1v1h-1zM17 57h1v1h-1zM82 57h1v1h-1zM88 57h2v1h-2zM94 57h1v1h-1zM96 57h1v1h-1zM25 56h1v1h-1zM80 56h1v1h-1zM82 56h1v1h-1zM88 56h1v1h-1zM95 56h1v1h-1zM24 55h1v1h-1zM26 55h1v1h-1zM60 55h1v1h-1zM65 55h1v1h-1zM68 55h1v1h-1zM5 54h1v1h-1zM18 54h1v1h-1zM68 54h1v1h-1zM81 54h1v1h-1zM20 53h1v1h-1zM87 53h1v1h-1zM99 53h1v1h-1zM20 52h1v1h-1zM25 52h1v1h-1zM41 52h1v1h-1zM87 52h1v1h-1zM93 52h1v1h-1zM99 52h1v1h-1zM1 51h1v1h-1zM14 51h1v1h-1zM20 51h1v1h-1zM67 51h1v1h-1zM80 51h1v1h-1zM84 51h2v1h-2zM21 50h1v1h-1zM32 50h1v1h-1zM47 50h1v1h-1zM73 50h1v1h-1zM85 50h1v1h-1zM22 49h1v1h-1zM47 49h1v1h-1zM73 49h1v1h-1zM77 49h1v1h-1zM9 48h1v1h-1zM51 48h1v1h-1zM70 48h1v1h-1zM89 48h1v1h-1zM96 48h1v1h-1zM15 47h1v1h-1zM76 46h1v1h-1zM84 46h1v1h-1zM95 46h1v1h-1zM22 45h1v1h-1zM58 45h1v1h-1zM88 45h1v1h-1zM18 44h1v1h-1zM22 44h1v1h-1zM88 44h1v1h-1zM1 43h1v1h-1zM17 43h1v1h-1zM34 43h1v1h-1zM43 43h1v1h-1zM83 43h1v1h-1zM87 43h1v1h-1zM99 43h1v1h-1zM2 42h1v1h-1zM23 42h1v1h-1zM49 42h1v1h-1zM53 42h1v1h-1zM65 42h1v1h-1zM71 42h1v1h-1zM49 41h1v1h-1zM74 41h1v1h-1zM86 41h1v1h-1zM9 40h1v1h-1zM24 40h1v1h-1zM14 39h1v1h-1zM19 39h1v1h-1zM76 39h1v1h-1zM81 39h1v1h-1zM87 39h1v1h-1zM15 38h1v1h-1zM44 38h1v1h-1zM57 38h1v1h-1zM9 37h1v1h-1zM25 37h1v1h-1zM57 37h1v1h-1zM96 37h1v1h-1zM16 36h1v1h-1zM70 36h1v1h-1zM80 36h1v1h-1zM84 36h1v1h-1zM15 35h1v1h-1zM36 35h1v1h-1zM42 35h1v1h-1zM61 35h1v1h-1zM95 35h1v1h-1zM21 34h1v1h-1zM26 34h1v1h-1zM31 34h1v1h-1zM78 34h1v1h-1zM89 34h1v1h-1zM99 34h1v1h-1zM45 33h1v1h-1zM84 33h1v1h-1zM88 33h2v1h-2zM93 33h1v1h-1zM99 33h1v1h-1zM79 32h1v1h-1zM84 32h1v1h-1zM88 32h1v1h-1zM3 31h1v1h-1zM18 31h1v1h-1zM22 31h1v1h-1zM43 31h1v1h-1zM77 31h1v1h-1zM37 30h1v1h-1zM14 29h1v1h-1zM29 29h1v1h-1zM66 29h1v1h-1zM73 29h1v1h-1zM83 29h1v1h-1zM87 29h1v1h-1zM62 28h1v1h-1zM68 28h1v1h-1zM14 27h2v1h-2zM23 27h1v1h-1zM46 27h1v1h-1zM62 27h1v1h-1zM81 27h1v1h-1zM100 27h1v1h-1zM28 26h1v1h-1zM35 26h1v1h-1zM46 26h1v1h-1zM15 25h1v1h-1zM20 25h1v1h-1zM25 25h1v1h-1zM30 25h1v1h-1zM38 25h1v1h-1zM86 25h1v1h-1zM95 25h1v1h-1zM15 24h1v1h-1zM85 24h1v1h-1zM90 24h1v1h-1zM2 23h1v1h-1zM20 23h2v1h-2zM29 23h1v1h-1zM44 23h1v1h-1zM84 23h1v1h-1zM89 23h1v1h-1zM94 23h1v1h-1zM3 22h1v1h-1zM7 22h1v1h-1zM21 22h1v1h-1zM84 22h1v1h-1zM98 22h1v1h-1zM3 21h1v1h-1zM21 21h1v1h-1zM61 21h1v1h-1zM71 21h1v1h-1zM76 21h1v1h-1zM79 21h1v1h-1zM89 21h1v1h-1zM98 21h1v1h-1zM13 20h1v1h-1zM21 20h1v1h-1zM36 20h1v1h-1zM88 20h2v1h-2zM27 19h1v1h-1zM30 19h1v1h-1zM13 18h1v1h-1zM23 18h1v1h-1zM88 18h1v1h-1zM5 17h1v1h-1zM9 17h1v1h-1zM23 17h1v1h-1zM45 17h1v1h-1zM18 16h1v1h-1zM35 16h1v1h-1zM45 16h1v1h-1zM95 16h1v1h-1zM15 15h1v1h-1zM18 15h1v1h-1zM37 15h1v1h-1zM55 15h1v1h-1zM57 15h1v1h-1zM82 15h2v1h-2zM2 14h1v1h-1zM7 14h1v1h-1zM28 14h1v1h-1zM40 14h1v1h-1zM60 14h1v1h-1zM68 14h1v1h-1zM86 14h1v1h-1zM90 14h1v1h-1zM95 14h1v1h-1zM2 13h1v1h-1zM12 13h1v1h-1zM19 13h1v1h-1zM27 13h1v1h-1zM70 13h1v1h-1zM86 13h1v1h-1zM90 13h1v1h-1zM24 12h1v1h-1zM57 12h1v1h-1zM60 12h1v1h-1zM63 12h1v1h-1zM78 12h1v1h-1zM81 12h2v1h-2zM12 11h1v1h-1zM20 11h1v1h-1zM36 11h1v1h-1zM46 11h1v1h-1zM63 11h1v1h-1zM65 11h1v1h-1zM89 11h2v1h-2zM12 10h1v1h-1zM28 10h1v1h-1zM85 10h1v1h-1zM1 9h1v1h-1zM12 9h1v1h-1zM21 9h1v1h-1zM89 9h1v1h-1zM73 8h1v1h-1zM81 8h1v1h-1zM88 8h1v1h-1zM93 8h1v1h-1zM17 7h1v1h-1zM21 7h2v1h-2zM49 7h1v1h-1zM59 7h1v1h-1zM67 7h1v1h-1zM96 7h1v1h-1zM21 6h1v1h-1zM26 6h1v1h-1zM43 6h1v1h-1zM75 6h1v1h-1zM25 5h1v1h-1zM30 5h1v1h-1zM37 5h1v1h-1zM43 5h1v1h-1zM50 5h1v1h-1zM64 5h1v1h-1zM83 5h2v1h-2zM15 4h1v1h-1zM29 4h1v1h-1zM47 4h1v1h-1zM62 4h1v1h-1zM79 4h2v1h-2zM83 4h1v1h-1zM87 4h1v1h-1zM95 4h1v1h-1zM23 3h1v1h-1zM72 3h1v1h-1zM76 3h1v1h-1zM79 3h1v1h-1zM1 2h1v1h-1zM19 2h1v1h-1zM22 2h1v1h-1zM26 2h1v1h-1zM35 2h1v1h-1zM72 2h1v1h-1zM76 2h1v1h-1zM98 2h1v1h-1zM11 1h1v1h-1zM15 1h1v1h-1zM22 1h1v1h-1zM31 1h1v1h-1zM42 1h1v1h-1zM78 1h1v1h-1zM83 1h1v1h-1zM86 1h2v1h-2zM90 1h1v1h-1zM15 0h1v1h-1zM30 0h1v1h-1zM58 0h1v1h-1zM66 0h1v1h-1zM78 0h2v1h-2zM90 0h1v1h-1z"/>
<path fill="#eb9173" d="M24 119h1v1h-1zM86 119h1v1h-1zM93 119h1v1h-1zM15 118h1v1h-1zM19 118h1v1h-1zM84 118h1v1h-1zM86 118h1v1h-1zM88 118h2v1h-2zM21 117h1v1h-1zM83 117h2v1h-2zM86 117h1v1h-1zM22 116h1v1h-1zM24 116h1v1h-1zM80 116h1v1h-1zM78 115h1v1h-1zM81 115h1v1h-1zM28 114h1v1h-1zM31 114h1v1h-1zM77 114h1v1h-1zM2 113h1v1h-1zM76 113h1v1h-1zM99 112h1v1h-1zM2 111h1v1h-1zM33 111h1v1h-1zM73 111h2v1h-2zM9 110h1v1h-1zM15 110h1v1h-1zM34 110h1v1h-1zM71 110h1v1h-1zM89 110h1v1h-1zM93 110h3v1h-3zM93 109h1v1h-1zM17 108h1v1h-1zM37 108h1v1h-1zM54 108h1v1h-1zM70 108h1v1h-1zM15 107h1v1h-1zM22 107h1v1h-1zM37 107h1v1h-1zM85 107h1v1h-1zM89 107h1v1h-1zM17 106h1v1h-1zM19 106h1v1h-1zM21 106h1v1h-1zM23 106h1v1h-1zM38 106h1v1h-1zM67 106h1v1h-1zM83 106h1v1h-1zM85 106h1v1h-1zM87 106h3v1h-3zM17 105h2v1h-2zM21 105h1v1h-1zM40 105h1v1h-1zM66 105h1v1h-1zM81 105h3v1h-3zM86 105h1v1h-1zM21 104h1v1h-1zM26 104h1v1h-1zM40 104h1v1h-1zM65 104h1v1h-1zM84 104h1v1h-1zM88 104h1v1h-1zM22 103h1v1h-1zM77 103h2v1h-2zM22 102h1v1h-1zM77 102h1v1h-1zM23 101h1v1h-1zM81 101h1v1h-1zM74 100h1v1h-1zM81 100h1v1h-1zM95 100h1v1h-1zM9 99h1v1h-1zM31 99h1v1h-1zM44 99h1v1h-1zM93 99h1v1h-1zM95 99h1v1h-1zM93 98h1v1h-1zM15 97h1v1h-1zM47 97h1v1h-1zM72 97h1v1h-1zM15 96h1v1h-1zM28 96h1v1h-1zM47 96h1v1h-1zM90 96h1v1h-1zM1 95h1v1h-1zM15 95h1v1h-1zM35 95h1v1h-1zM69 95h1v1h-1zM76 95h1v1h-1zM87 95h1v1h-1zM89 95h1v1h-1zM19 94h1v1h-1zM30 94h1v1h-1zM47 94h1v1h-1zM58 94h1v1h-1zM86 94h1v1h-1zM89 94h1v1h-1zM31 93h1v1h-1zM37 93h1v1h-1zM49 93h1v1h-1zM86 93h1v1h-1zM20 92h1v1h-1zM58 92h1v1h-1zM86 92h1v1h-1zM9 91h1v1h-1zM32 91h1v1h-1zM86 91h2v1h-2zM72 90h1v1h-1zM85 90h1v1h-1zM95 90h1v1h-1zM9 89h1v1h-1zM21 89h1v1h-1zM24 89h1v1h-1zM81 89h1v1h-1zM95 89h1v1h-1zM13 88h1v1h-1zM34 88h1v1h-1zM51 88h1v1h-1zM57 88h1v1h-1zM80 88h1v1h-1zM83 88h1v1h-1zM26 87h2v1h-2zM79 87h1v1h-1zM93 87h1v1h-1zM1 86h1v1h-1zM15 86h1v1h-1zM24 86h1v1h-1zM82 86h1v1h-1zM25 85h1v1h-1zM36 85h1v1h-1zM41 85h1v1h-1zM77 85h2v1h-2zM90 84h1v1h-1zM15 83h1v1h-1zM42 83h1v1h-1zM87 83h1v1h-1zM89 83h1v1h-1zM89 82h1v1h-1zM17 81h3v1h-3zM30 81h1v1h-1zM78 81h1v1h-1zM87 81h1v1h-1zM78 80h1v1h-1zM87 80h1v1h-1zM96 80h1v1h-1zM9 79h1v1h-1zM21 79h1v1h-1zM43 79h1v1h-1zM86 79h1v1h-1zM19 78h2v1h-2zM22 78h1v1h-1zM32 78h1v1h-1zM67 78h1v1h-1zM84 78h1v1h-1zM21 77h2v1h-2zM73 77h1v1h-1zM83 77h1v1h-1zM76 76h1v1h-1zM85 76h1v1h-1zM30 75h1v1h-1zM40 75h1v1h-1zM44 75h1v1h-1zM72 75h1v1h-1zM65 74h1v1h-1zM75 74h1v1h-1zM24 73h1v1h-1zM65 73h1v1h-1zM81 73h1v1h-1zM15 72h1v1h-1zM25 72h1v1h-1zM41 72h1v1h-1zM60 72h1v1h-1zM80 72h1v1h-1zM90 72h1v1h-1zM26 71h1v1h-1zM88 71h1v1h-1zM9 70h1v1h-1zM46 70h1v1h-1zM89 70h1v1h-1zM17 69h1v1h-1zM46 69h1v1h-1zM87 69h1v1h-1zM95 69h2v1h-2zM2 68h1v1h-1zM18 68h1v1h-1zM28 68h1v1h-1zM42 68h1v1h-1zM46 68h1v1h-1zM72 68h1v1h-1zM78 68h1v1h-1zM95 68h2v1h-2zM3 66h1v1h-1zM18 66h1v1h-1zM26 66h1v1h-1zM57 66h2v1h-2zM63 66h1v1h-1zM79 66h1v1h-1zM87 66h1v1h-1zM29 65h1v1h-1zM57 65h2v1h-2zM71 65h1v1h-1zM85 65h2v1h-2zM93 65h1v1h-1zM100 65h1v1h-1zM27 64h1v1h-1zM47 64h1v1h-1zM62 64h1v1h-1zM84 64h1v1h-1zM47 63h1v1h-1zM78 63h1v1h-1zM93 63h1v1h-1zM15 62h1v1h-1zM1 61h1v1h-1zM83 61h1v1h-1zM31 60h1v1h-1zM49 60h1v1h-1zM70 60h1v1h-1zM74 60h1v1h-1zM84 60h1v1h-1zM2 59h1v1h-1zM9 59h1v1h-1zM15 59h1v1h-1zM22 59h1v1h-1zM29 59h1v1h-1zM36 59h1v1h-1zM49 59h1v1h-1zM82 59h2v1h-2zM90 59h1v1h-1zM95 59h1v1h-1zM17 58h1v1h-1zM24 58h1v1h-1zM49 58h1v1h-1zM66 58h1v1h-1zM76 58h1v1h-1zM81 58h2v1h-2zM96 58h1v1h-1zM23 57h1v1h-1zM25 57h1v1h-1zM30 57h1v1h-1zM69 57h1v1h-1zM73 57h1v1h-1zM95 57h1v1h-1zM17 56h1v1h-1zM30 56h1v1h-1zM37 56h1v1h-1zM60 56h1v1h-1zM87 55h2v1h-2zM93 55h1v1h-1zM19 54h1v1h-1zM31 54h1v1h-1zM51 54h1v1h-1zM86 54h2v1h-2zM93 54h1v1h-1zM51 53h1v1h-1zM19 52h1v1h-1zM38 52h1v1h-1zM51 52h1v1h-1zM74 52h1v1h-1zM80 52h1v1h-1zM32 51h1v1h-1zM59 51h1v1h-1zM64 51h1v1h-1zM78 51h1v1h-1zM9 50h1v1h-1zM71 50h1v1h-1zM79 50h1v1h-1zM96 50h1v1h-1zM26 49h1v1h-1zM28 49h1v1h-1zM96 49h1v1h-1zM21 48h1v1h-1zM39 48h1v1h-1zM23 47h1v1h-1zM42 47h1v1h-1zM58 47h1v1h-1zM22 46h1v1h-1zM58 46h1v1h-1zM63 46h1v1h-1zM72 46h1v1h-1zM88 46h2v1h-2zM36 45h1v1h-1zM40 45h1v1h-1zM82 45h1v1h-1zM89 45h1v1h-1zM17 44h1v1h-1zM24 44h1v1h-1zM28 44h1v1h-1zM30 44h1v1h-1zM40 44h1v1h-1zM69 44h1v1h-1zM83 44h1v1h-1zM87 44h1v1h-1zM99 44h1v1h-1zM18 43h1v1h-1zM65 43h1v1h-1zM69 43h1v1h-1zM71 43h1v1h-1zM77 43h1v1h-1zM81 43h2v1h-2zM88 43h1v1h-1zM18 42h2v1h-2zM43 42h1v1h-1zM57 42h1v1h-1zM82 42h1v1h-1zM87 42h1v1h-1zM2 41h1v1h-1zM19 41h1v1h-1zM25 41h1v1h-1zM57 41h1v1h-1zM62 41h1v1h-1zM87 41h1v1h-1zM93 41h1v1h-1zM14 40h1v1h-1zM19 40h1v1h-1zM31 40h1v1h-1zM62 40h1v1h-1zM68 40h1v1h-1zM74 40h1v1h-1zM86 40h1v1h-1zM9 39h1v1h-1zM15 39h1v1h-1zM20 39h1v1h-1zM35 39h1v1h-1zM49 39h1v1h-1zM51 39h1v1h-1zM57 39h1v1h-1zM96 39h1v1h-1zM20 38h1v1h-1zM25 38h2v1h-2zM90 38h1v1h-1zM96 38h1v1h-1zM15 37h1v1h-1zM32 37h1v1h-1zM38 37h1v1h-1zM90 37h1v1h-1zM15 36h1v1h-1zM61 36h1v1h-1zM73 36h1v1h-1zM95 36h1v1h-1zM21 35h1v1h-1zM31 35h1v1h-1zM33 35h1v1h-1zM44 35h1v1h-1zM84 35h1v1h-1zM89 35h2v1h-2zM61 34h1v1h-1zM84 34h1v1h-1zM69 33h1v1h-1zM78 33h2v1h-2zM2 32h1v1h-1zM28 32h1v1h-1zM39 32h1v1h-1zM89 32h1v1h-1zM18 30h1v1h-1zM32 30h1v1h-1zM34 30h1v1h-1zM43 30h1v1h-1zM78 30h1v1h-1zM82 30h2v1h-2zM87 30h1v1h-1zM78 29h1v1h-1zM96 29h1v1h-1zM9 28h1v1h-1zM15 28h1v1h-1zM19 28h1v1h-1zM60 28h1v1h-1zM66 28h1v1h-1zM81 28h1v1h-1zM96 28h1v1h-1zM9 27h1v1h-1zM28 27h1v1h-1zM82 27h1v1h-1zM86 27h1v1h-1zM95 27h2v1h-2zM24 26h1v1h-1zM90 25h1v1h-1zM25 24h1v1h-1zM65 24h1v1h-1zM67 24h1v1h-1zM72 24h1v1h-1zM80 24h1v1h-1zM99 24h1v1h-1zM65 23h1v1h-1zM81 23h1v1h-1zM85 23h1v1h-1zM90 23h1v1h-1zM25 22h1v1h-1zM34 22h1v1h-1zM80 22h1v1h-1zM12 21h1v1h-1zM17 21h1v1h-1zM26 21h1v1h-1zM41 21h1v1h-1zM55 21h1v1h-1zM80 21h1v1h-1zM31 20h1v1h-1zM39 20h1v1h-1zM41 20h1v1h-1zM80 20h1v1h-1zM93 20h1v1h-1zM22 19h1v1h-1zM55 19h1v1h-1zM84 19h1v1h-1zM88 19h1v1h-1zM9 18h1v1h-1zM18 18h1v1h-1zM26 18h1v1h-1zM45 18h1v1h-1zM50 18h1v1h-1zM55 18h2v1h-2zM66 18h1v1h-1zM83 18h1v1h-1zM1 17h1v1h-1zM14 17h1v1h-1zM26 17h1v1h-1zM47 17h1v1h-1zM87 17h2v1h-2zM75 16h1v1h-1zM78 16h2v1h-2zM23 15h1v1h-1zM28 15h1v1h-1zM40 15h1v1h-1zM87 15h1v1h-1zM47 14h1v1h-1zM57 14h1v1h-1zM73 14h1v1h-1zM15 13h1v1h-1zM23 13h1v1h-1zM82 13h1v1h-1zM20 12h1v1h-1zM55 12h1v1h-1zM65 12h1v1h-1zM24 11h1v1h-1zM85 11h1v1h-1zM8 10h1v1h-1zM20 10h1v1h-1zM29 10h1v1h-1zM32 10h1v1h-1zM38 10h1v1h-1zM46 10h1v1h-1zM56 10h1v1h-1zM9 9h1v1h-1zM25 9h1v1h-1zM28 9h1v1h-1zM41 9h1v1h-1zM72 9h1v1h-1zM81 9h1v1h-1zM88 9h1v1h-1zM13 8h1v1h-1zM21 8h1v1h-1zM25 8h1v1h-1zM49 8h1v1h-1zM80 8h1v1h-1zM84 8h1v1h-1zM88 7h1v1h-1zM9 6h1v1h-1zM14 6h1v1h-1zM22 6h1v1h-1zM30 6h1v1h-1zM64 6h1v1h-1zM84 6h1v1h-1zM88 6h1v1h-1zM29 5h1v1h-1zM88 5h1v1h-1zM18 4h1v1h-1zM50 4h1v1h-1zM64 4h1v1h-1zM75 4h1v1h-1zM22 3h1v1h-1zM54 3h1v1h-1zM62 3h1v1h-1zM95 3h1v1h-1zM15 2h1v1h-1zM42 2h1v1h-1zM83 2h1v1h-1zM87 2h1v1h-1zM90 2h1v1h-1zM70 1h1v1h-1zM1 0h1v1h-1zM12 0h1v1h-1zM19 0h1v1h-1zM31 0h1v1h-1zM44 0h1v1h-1zM56 0h1v1h-1zM74 0h1v1h-1zM86 0h1v1h-1z"/>
<path fill="#e58268" d="M21 119h1v1h-1zM25 119h1v1h-1zM83 119h1v1h-1zM87 119h1v1h-1zM26 118h1v1h-1zM85 118h1v1h-1zM24 117h1v1h-1zM87 117h1v1h-1zM30 115h1v1h-1zM29 114h2v1h-2zM72 113h1v1h-1zM32 112h1v1h-1zM72 112h1v1h-1zM75 112h1v1h-1zM71 111h2v1h-2zM96 110h1v1h-1zM15 109h1v1h-1zM69 108h1v1h-1zM93 108h1v1h-1zM87 107h2v1h-2zM20 106h1v1h-1zM22 106h1v1h-1zM66 106h1v1h-1zM39 105h1v1h-1zM84 105h2v1h-2zM25 104h1v1h-1zM41 104h1v1h-1zM80 104h1v1h-1zM82 104h1v1h-1zM27 103h1v1h-1zM42 103h1v1h-1zM82 103h1v1h-1zM84 103h1v1h-1zM4 102h1v1h-1zM24 102h1v1h-1zM43 102h1v1h-1zM64 102h1v1h-1zM79 102h1v1h-1zM81 102h1v1h-1zM83 102h1v1h-1zM24 101h2v1h-2zM29 101h1v1h-1zM43 101h1v1h-1zM63 101h1v1h-1zM76 101h1v1h-1zM9 100h1v1h-1zM25 100h2v1h-2zM61 100h1v1h-1zM63 100h1v1h-1zM26 99h1v1h-1zM60 98h1v1h-1zM27 97h2v1h-2zM46 96h1v1h-1zM77 96h1v1h-1zM89 96h1v1h-1zM30 95h1v1h-1zM47 95h1v1h-1zM59 95h1v1h-1zM70 95h1v1h-1zM88 95h1v1h-1zM51 94h1v1h-1zM18 93h2v1h-2zM51 93h1v1h-1zM75 93h1v1h-1zM87 93h1v1h-1zM21 92h1v1h-1zM37 92h1v1h-1zM49 92h1v1h-1zM84 92h1v1h-1zM38 91h1v1h-1zM49 91h1v1h-1zM57 91h1v1h-1zM73 91h1v1h-1zM84 91h1v1h-1zM21 90h1v1h-1zM51 90h1v1h-1zM67 90h1v1h-1zM83 90h2v1h-2zM33 89h1v1h-1zM57 89h1v1h-1zM82 89h1v1h-1zM22 88h1v1h-1zM71 88h1v1h-1zM93 88h1v1h-1zM95 88h1v1h-1zM22 87h2v1h-2zM25 87h1v1h-1zM66 87h1v1h-1zM35 86h1v1h-1zM40 86h1v1h-1zM80 86h1v1h-1zM28 85h1v1h-1zM70 85h1v1h-1zM81 85h1v1h-1zM90 85h1v1h-1zM15 84h1v1h-1zM36 84h1v1h-1zM41 84h1v1h-1zM77 84h1v1h-1zM80 84h1v1h-1zM88 84h1v1h-1zM29 83h1v1h-1zM88 83h1v1h-1zM90 83h1v1h-1zM17 82h1v1h-1zM37 82h1v1h-1zM76 82h1v1h-1zM87 82h1v1h-1zM27 81h1v1h-1zM42 81h1v1h-1zM63 81h1v1h-1zM68 81h1v1h-1zM75 81h1v1h-1zM88 81h1v1h-1zM96 81h1v1h-1zM19 80h1v1h-1zM27 80h1v1h-1zM31 80h1v1h-1zM38 80h1v1h-1zM28 79h1v1h-1zM31 79h1v1h-1zM38 79h1v1h-1zM85 79h1v1h-1zM87 79h1v1h-1zM43 78h1v1h-1zM30 77h1v1h-1zM84 77h1v1h-1zM23 76h1v1h-1zM30 76h1v1h-1zM62 76h1v1h-1zM31 75h1v1h-1zM73 75h1v1h-1zM82 75h1v1h-1zM84 75h1v1h-1zM24 74h1v1h-1zM40 74h1v1h-1zM81 74h1v1h-1zM83 74h1v1h-1zM15 73h1v1h-1zM61 73h1v1h-1zM99 73h1v1h-1zM23 72h2v1h-2zM35 72h1v1h-1zM82 72h1v1h-1zM17 71h1v1h-1zM24 71h1v1h-1zM32 71h1v1h-1zM41 71h1v1h-1zM17 70h1v1h-1zM60 70h1v1h-1zM64 70h1v1h-1zM88 70h1v1h-1zM96 70h1v1h-1zM27 69h1v1h-1zM69 69h1v1h-1zM81 69h1v1h-1zM19 68h1v1h-1zM59 68h1v1h-1zM69 68h1v1h-1zM79 68h2v1h-2zM19 67h1v1h-1zM28 67h1v1h-1zM59 67h1v1h-1zM79 67h1v1h-1zM19 66h1v1h-1zM34 66h1v1h-1zM37 66h1v1h-1zM43 66h1v1h-1zM68 66h1v1h-1zM77 66h1v1h-1zM86 66h1v1h-1zM20 65h1v1h-1zM47 65h1v1h-1zM38 64h1v1h-1zM57 64h1v1h-1zM21 63h1v1h-1zM30 63h1v1h-1zM35 63h1v1h-1zM61 63h1v1h-1zM21 62h1v1h-1zM23 62h1v1h-1zM30 62h1v1h-1zM35 62h1v1h-1zM44 62h1v1h-1zM75 62h1v1h-1zM84 62h1v1h-1zM15 61h1v1h-1zM36 61h1v1h-1zM9 60h1v1h-1zM15 60h1v1h-1zM22 60h1v1h-1zM36 60h1v1h-1zM82 60h1v1h-1zM90 60h1v1h-1zM31 59h1v1h-1zM89 59h1v1h-1zM32 58h1v1h-1zM24 57h1v1h-1zM32 57h1v1h-1zM49 57h1v1h-1zM87 57h1v1h-1zM18 56h1v1h-1zM24 56h1v1h-1zM40 56h1v1h-1zM49 56h1v1h-1zM75 56h1v1h-1zM87 56h1v1h-1zM18 55h1v1h-1zM31 55h1v1h-1zM75 55h1v1h-1zM80 55h1v1h-1zM26 54h1v1h-1zM46 54h1v1h-1zM27 53h1v1h-1zM31 53h1v1h-1zM80 53h1v1h-1zM86 53h1v1h-1zM93 53h1v1h-1zM27 52h1v1h-1zM47 52h1v1h-1zM59 52h1v1h-1zM67 52h1v1h-1zM79 52h1v1h-1zM51 51h1v1h-1zM2 50h1v1h-1zM26 50h1v1h-1zM28 50h1v1h-1zM51 50h1v1h-1zM78 50h1v1h-1zM9 49h1v1h-1zM21 49h1v1h-1zM35 49h1v1h-1zM51 49h1v1h-1zM58 49h1v1h-1zM79 49h1v1h-1zM84 49h1v1h-1zM22 48h1v1h-1zM42 48h1v1h-1zM78 48h1v1h-1zM90 48h1v1h-1zM27 47h1v1h-1zM29 47h1v1h-1zM66 47h1v1h-1zM72 47h1v1h-1zM83 47h2v1h-2zM89 47h1v1h-1zM95 47h1v1h-1zM17 46h1v1h-1zM83 46h1v1h-1zM17 45h1v1h-1zM72 45h1v1h-1zM82 44h1v1h-1zM93 44h1v1h-1zM24 43h1v1h-1zM30 43h1v1h-1zM51 43h1v1h-1zM75 43h1v1h-1zM93 43h1v1h-1zM81 42h1v1h-1zM18 41h1v1h-1zM24 41h1v1h-1zM30 41h1v1h-1zM51 41h1v1h-1zM57 40h1v1h-1zM81 40h1v1h-1zM87 40h1v1h-1zM25 39h1v1h-1zM30 39h2v1h-2zM68 39h1v1h-1zM74 39h1v1h-1zM80 39h1v1h-1zM86 39h1v1h-1zM51 38h1v1h-1zM70 38h1v1h-1zM21 37h1v1h-1zM31 37h1v1h-1zM44 37h1v1h-1zM50 37h2v1h-2zM80 37h1v1h-1zM21 36h1v1h-1zM32 36h1v1h-1zM42 36h1v1h-1zM51 36h1v1h-1zM79 36h1v1h-1zM90 36h1v1h-1zM26 35h2v1h-2zM33 34h1v1h-1zM94 34h1v1h-1zM28 33h1v1h-1zM83 33h1v1h-1zM17 32h1v1h-1zM23 32h1v1h-1zM83 32h1v1h-1zM93 32h1v1h-1zM37 31h1v1h-1zM39 31h1v1h-1zM45 31h1v1h-1zM67 31h1v1h-1zM22 30h1v1h-1zM45 30h1v1h-1zM60 30h1v1h-1zM73 30h1v1h-1zM77 30h1v1h-1zM9 29h1v1h-1zM34 29h1v1h-1zM50 29h1v1h-1zM55 29h1v1h-1zM60 29h1v1h-1zM68 29h1v1h-1zM24 28h1v1h-1zM29 28h1v1h-1zM82 28h1v1h-1zM87 28h1v1h-1zM24 27h1v1h-1zM71 27h1v1h-1zM76 27h1v1h-1zM20 26h1v1h-1zM38 26h1v1h-1zM40 26h1v1h-1zM77 26h1v1h-1zM86 26h1v1h-1zM35 25h1v1h-1zM46 25h1v1h-1zM72 25h1v1h-1zM81 25h1v1h-1zM29 24h2v1h-2zM56 24h1v1h-1zM59 24h1v1h-1zM59 23h1v1h-1zM61 23h1v1h-1zM26 22h1v1h-1zM89 22h1v1h-1zM93 21h1v1h-1zM17 20h1v1h-1zM22 20h1v1h-1zM50 20h1v1h-1zM71 20h1v1h-1zM84 20h1v1h-1zM9 19h1v1h-1zM17 19h1v1h-1zM31 19h1v1h-1zM45 19h1v1h-1zM60 19h1v1h-1zM69 19h1v1h-1zM47 18h1v1h-1zM64 18h1v1h-1zM22 17h1v1h-1zM35 17h1v1h-1zM58 17h1v1h-1zM60 17h1v1h-1zM83 17h1v1h-1zM32 16h1v1h-1zM60 16h1v1h-1zM83 16h1v1h-1zM87 16h1v1h-1zM19 15h1v1h-1zM32 15h1v1h-1zM47 15h1v1h-1zM60 15h1v1h-1zM95 15h1v1h-1zM15 14h1v1h-1zM19 14h1v1h-1zM37 14h1v1h-1zM42 14h1v1h-1zM50 14h1v1h-1zM55 14h1v1h-1zM57 13h1v1h-1zM65 13h1v1h-1zM74 13h1v1h-1zM78 13h1v1h-1zM33 12h1v1h-1zM46 12h2v1h-2zM90 12h1v1h-1zM94 12h1v1h-1zM50 11h1v1h-1zM56 11h1v1h-1zM81 11h1v1h-1zM93 11h1v1h-1zM24 10h1v1h-1zM38 9h1v1h-1zM50 9h1v1h-1zM56 9h1v1h-1zM73 9h1v1h-1zM17 8h1v1h-1zM29 8h1v1h-1zM47 8h1v1h-1zM76 8h2v1h-2zM9 7h1v1h-1zM25 7h1v1h-1zM34 7h1v1h-1zM50 7h1v1h-1zM34 6h1v1h-1zM56 6h1v1h-1zM80 6h1v1h-1zM22 5h1v1h-1zM49 5h1v1h-1zM22 4h1v1h-1zM26 4h1v1h-1zM43 4h1v1h-1zM71 4h2v1h-2zM15 3h1v1h-1zM30 3h1v1h-1zM39 3h1v1h-1zM57 3h1v1h-1zM71 3h1v1h-1zM87 3h1v1h-1zM23 2h1v1h-1zM27 2h1v1h-1zM39 2h1v1h-1zM58 2h1v1h-1zM68 2h1v1h-1zM94 2h1v1h-1zM19 1h1v1h-1zM30 1h1v1h-1zM35 1h1v1h-1zM50 1h1v1h-1zM55 1h1v1h-1zM58 1h1v1h-1zM55 0h1v1h-1zM70 0h1v1h-1z"/>
<path fill="#df745c" d="M15 119h1v1h-1zM18 119h1v1h-1zM23 119h1v1h-1zM81 119h1v1h-1zM84 119h1v1h-1zM24 118h1v1h-1zM80 118h1v1h-1zM82 118h1v1h-1zM87 118h1v1h-1zM25 117h1v1h-1zM78 117h2v1h-2zM82 117h1v1h-1zM25 116h1v1h-1zM27 116h1v1h-1zM27 115h1v1h-1zM80 115h1v1h-1zM31 113h1v1h-1zM51 113h1v1h-1zM74 113h1v1h-1zM74 112h1v1h-1zM95 111h1v1h-1zM36 109h1v1h-1zM88 108h1v1h-1zM17 107h1v1h-1zM67 107h2v1h-2zM39 106h1v1h-1zM84 106h1v1h-1zM86 106h1v1h-1zM22 105h2v1h-2zM83 104h1v1h-1zM24 103h1v1h-1zM64 103h1v1h-1zM23 102h1v1h-1zM28 102h1v1h-1zM63 102h1v1h-1zM78 102h1v1h-1zM80 102h1v1h-1zM62 101h1v1h-1zM80 101h1v1h-1zM28 100h1v1h-1zM30 100h1v1h-1zM80 100h1v1h-1zM45 99h1v1h-1zM74 99h1v1h-1zM79 99h1v1h-1zM27 98h1v1h-1zM29 98h1v1h-1zM33 98h1v1h-1zM47 98h1v1h-1zM78 98h1v1h-1zM33 97h1v1h-1zM29 96h1v1h-1zM34 96h1v1h-1zM72 96h1v1h-1zM88 96h1v1h-1zM46 95h1v1h-1zM58 95h1v1h-1zM71 95h1v1h-1zM87 94h1v1h-1zM58 93h1v1h-1zM69 93h1v1h-1zM22 92h1v1h-1zM51 92h1v1h-1zM68 92h1v1h-1zM74 92h1v1h-1zM87 92h1v1h-1zM21 91h2v1h-2zM68 91h1v1h-1zM23 90h1v1h-1zM57 90h1v1h-1zM22 89h1v1h-1zM83 89h1v1h-1zM24 87h1v1h-1zM26 86h2v1h-2zM79 86h1v1h-1zM81 86h1v1h-1zM15 85h1v1h-1zM65 85h1v1h-1zM80 85h1v1h-1zM78 84h1v1h-1zM64 83h1v1h-1zM69 83h1v1h-1zM78 83h1v1h-1zM88 82h1v1h-1zM28 80h1v1h-1zM42 80h1v1h-1zM63 80h1v1h-1zM77 80h1v1h-1zM74 79h1v1h-1zM29 78h1v1h-1zM31 78h1v1h-1zM39 78h1v1h-1zM85 78h1v1h-1zM32 77h1v1h-1zM43 77h1v1h-1zM66 77h1v1h-1zM76 77h1v1h-1zM73 76h1v1h-1zM83 76h1v1h-1zM83 75h1v1h-1zM22 74h1v1h-1zM31 74h1v1h-1zM43 74h1v1h-1zM61 74h1v1h-1zM82 74h1v1h-1zM82 73h1v1h-1zM32 72h1v1h-1zM73 72h1v1h-1zM15 71h1v1h-1zM45 71h1v1h-1zM26 70h1v1h-1zM79 70h1v1h-1zM25 69h1v1h-1zM36 69h1v1h-1zM80 69h1v1h-1zM88 69h1v1h-1zM26 68h2v1h-2zM33 68h2v1h-2zM45 68h1v1h-1zM87 68h1v1h-1zM43 67h1v1h-1zM80 67h1v1h-1zM87 67h1v1h-1zM46 66h1v1h-1zM59 66h1v1h-1zM71 66h1v1h-1zM28 65h1v1h-1zM59 65h1v1h-1zM68 65h1v1h-1zM21 64h1v1h-1zM29 64h1v1h-1zM68 64h1v1h-1zM76 64h1v1h-1zM44 63h2v1h-2zM57 63h1v1h-1zM76 63h1v1h-1zM22 62h1v1h-1zM28 62h1v1h-1zM47 62h1v1h-1zM57 62h1v1h-1zM70 62h1v1h-1zM77 62h1v1h-1zM23 61h1v1h-1zM28 61h1v1h-1zM61 61h1v1h-1zM75 61h1v1h-1zM30 60h1v1h-1zM39 60h1v1h-1zM45 60h1v1h-1zM30 59h1v1h-1zM69 59h1v1h-1zM76 59h1v1h-1zM45 58h1v1h-1zM60 58h1v1h-1zM37 57h1v1h-1zM60 57h1v1h-1zM25 55h1v1h-1zM33 55h1v1h-1zM46 55h1v1h-1zM49 55h1v1h-1zM73 55h1v1h-1zM81 55h1v1h-1zM25 54h1v1h-1zM40 54h1v1h-1zM47 54h1v1h-1zM65 54h1v1h-1zM73 54h2v1h-2zM25 53h2v1h-2zM59 53h1v1h-1zM65 53h1v1h-1zM79 53h1v1h-1zM26 52h1v1h-1zM32 52h1v1h-1zM73 52h1v1h-1zM27 51h1v1h-1zM47 51h1v1h-1zM39 50h1v1h-1zM49 50h1v1h-1zM39 49h1v1h-1zM66 49h1v1h-1zM15 48h1v1h-1zM22 47h1v1h-1zM33 47h1v1h-1zM70 47h1v1h-1zM78 47h1v1h-1zM29 46h1v1h-1zM29 45h1v1h-1zM49 45h1v1h-1zM57 45h1v1h-1zM76 45h1v1h-1zM83 45h1v1h-1zM23 44h1v1h-1zM34 44h1v1h-1zM36 44h1v1h-1zM65 44h1v1h-1zM23 43h1v1h-1zM49 43h1v1h-1zM57 43h1v1h-1zM29 42h2v1h-2zM51 42h1v1h-1zM93 42h1v1h-1zM37 41h1v1h-1zM43 41h1v1h-1zM76 41h1v1h-1zM81 41h1v1h-1zM25 40h1v1h-1zM35 40h1v1h-1zM76 40h1v1h-1zM26 39h1v1h-1zM64 38h1v1h-1zM81 38h1v1h-1zM26 37h1v1h-1zM36 37h1v1h-1zM70 37h1v1h-1zM75 37h1v1h-1zM85 37h1v1h-1zM36 36h1v1h-1zM89 36h1v1h-1zM73 35h1v1h-1zM22 34h1v1h-1zM43 34h1v1h-1zM67 34h1v1h-1zM79 34h1v1h-1zM17 33h1v1h-1zM22 33h1v1h-1zM32 33h2v1h-2zM61 33h1v1h-1zM63 33h1v1h-1zM61 32h1v1h-1zM72 31h2v1h-2zM78 31h1v1h-1zM88 31h1v1h-1zM55 30h1v1h-1zM77 29h1v1h-1zM23 28h1v1h-1zM45 28h1v1h-1zM15 26h1v1h-1zM33 26h1v1h-1zM44 26h1v1h-1zM50 26h1v1h-1zM56 26h1v1h-1zM72 26h1v1h-1zM76 26h1v1h-1zM29 25h1v1h-1zM40 25h1v1h-1zM50 25h1v1h-1zM55 25h1v1h-1zM67 25h1v1h-1zM76 25h1v1h-1zM35 24h1v1h-1zM40 24h1v1h-1zM44 24h1v1h-1zM46 24h1v1h-1zM70 24h1v1h-1zM81 24h1v1h-1zM25 23h1v1h-1zM30 23h1v1h-1zM46 23h1v1h-1zM50 23h1v1h-1zM80 23h1v1h-1zM59 22h1v1h-1zM30 21h1v1h-1zM59 21h1v1h-1zM66 21h1v1h-1zM84 21h1v1h-1zM30 20h1v1h-1zM79 20h1v1h-1zM26 19h1v1h-1zM36 19h1v1h-1zM41 19h1v1h-1zM56 19h1v1h-1zM69 18h1v1h-1zM75 18h1v1h-1zM79 18h1v1h-1zM41 17h1v1h-1zM50 17h1v1h-1zM55 17h1v1h-1zM64 17h1v1h-1zM69 17h1v1h-1zM75 17h1v1h-1zM79 17h1v1h-1zM31 16h1v1h-1zM40 16h1v1h-1zM47 16h1v1h-1zM56 16h1v1h-1zM58 16h1v1h-1zM27 15h1v1h-1zM78 15h1v1h-1zM23 14h1v1h-1zM27 14h1v1h-1zM32 14h1v1h-1zM56 14h1v1h-1zM65 14h1v1h-1zM70 14h1v1h-1zM28 13h1v1h-1zM42 13h1v1h-1zM46 13h2v1h-2zM55 13h2v1h-2zM36 12h1v1h-1zM42 12h1v1h-1zM32 11h1v1h-1zM57 11h1v1h-1zM77 11h1v1h-1zM57 10h1v1h-1zM59 10h1v1h-1zM73 10h1v1h-1zM81 10h1v1h-1zM93 10h1v1h-1zM29 9h1v1h-1zM55 9h1v1h-1zM59 9h1v1h-1zM50 8h1v1h-1zM56 8h1v1h-1zM64 8h1v1h-1zM72 8h1v1h-1zM47 7h1v1h-1zM55 7h1v1h-1zM64 7h1v1h-1zM80 7h1v1h-1zM84 7h1v1h-1zM37 6h1v1h-1zM67 6h1v1h-1zM26 5h1v1h-1zM47 5h1v1h-1zM55 5h1v1h-1zM58 5h1v1h-1zM80 5h1v1h-1zM33 4h1v1h-1zM49 4h1v1h-1zM76 4h1v1h-1zM55 3h1v1h-1zM68 3h1v1h-1zM49 2h2v1h-2zM55 2h1v1h-1zM62 2h1v1h-1zM27 1h1v1h-1zM56 1h1v1h-1zM71 1h1v1h-1zM79 1h1v1h-1zM34 0h1v1h-1zM71 0h1v1h-1z"/>
<path fill="#d96651" d="M19 119h1v1h-1zM26 119h1v1h-1zM30 119h1v1h-1zM78 119h2v1h-2zM21 118h1v1h-1zM23 118h1v1h-1zM29 118h1v1h-1zM81 118h1v1h-1zM22 117h1v1h-1zM26 117h2v1h-2zM30 117h1v1h-1zM72 117h1v1h-1zM81 117h1v1h-1zM26 116h1v1h-1zM29 116h1v1h-1zM51 116h1v1h-1zM79 116h1v1h-1zM51 115h1v1h-1zM77 115h1v1h-1zM73 113h1v1h-1zM51 112h1v1h-1zM34 111h1v1h-1zM51 111h1v1h-1zM36 110h1v1h-1zM47 109h1v1h-1zM51 109h1v1h-1zM70 109h1v1h-1zM15 108h1v1h-1zM38 108h1v1h-1zM89 108h1v1h-1zM38 107h2v1h-2zM49 107h1v1h-1zM51 107h1v1h-1zM51 106h1v1h-1zM51 105h1v1h-1zM65 105h1v1h-1zM22 104h2v1h-2zM49 104h1v1h-1zM51 104h1v1h-1zM64 104h1v1h-1zM81 104h1v1h-1zM23 103h1v1h-1zM25 103h2v1h-2zM43 103h1v1h-1zM47 103h1v1h-1zM62 103h1v1h-1zM80 103h1v1h-1zM25 102h1v1h-1zM26 101h2v1h-2zM47 101h1v1h-1zM60 101h1v1h-1zM77 101h1v1h-1zM79 101h1v1h-1zM29 100h1v1h-1zM44 100h1v1h-1zM47 100h1v1h-1zM75 100h1v1h-1zM30 99h1v1h-1zM47 99h1v1h-1zM28 98h1v1h-1zM31 98h2v1h-2zM46 98h1v1h-1zM29 97h1v1h-1zM46 97h1v1h-1zM59 97h1v1h-1zM73 97h1v1h-1zM30 96h2v1h-2zM49 96h1v1h-1zM17 95h1v1h-1zM34 95h1v1h-1zM32 94h1v1h-1zM36 93h1v1h-1zM73 93h2v1h-2zM88 93h1v1h-1zM32 92h1v1h-1zM69 92h1v1h-1zM73 92h1v1h-1zM23 91h1v1h-1zM34 91h1v1h-1zM50 90h1v1h-1zM34 89h1v1h-1zM23 88h2v1h-2zM81 88h2v1h-2zM80 87h1v1h-1zM27 85h1v1h-1zM66 85h1v1h-1zM26 84h1v1h-1zM28 84h1v1h-1zM79 84h1v1h-1zM26 83h1v1h-1zM28 83h1v1h-1zM37 83h1v1h-1zM65 83h1v1h-1zM27 82h1v1h-1zM64 82h1v1h-1zM78 82h2v1h-2zM30 80h1v1h-1zM67 80h1v1h-1zM74 80h1v1h-1zM30 79h1v1h-1zM66 78h1v1h-1zM62 77h1v1h-1zM44 76h1v1h-1zM65 76h1v1h-1zM43 75h1v1h-1zM23 74h1v1h-1zM44 74h1v1h-1zM32 73h1v1h-1zM81 72h1v1h-1zM25 71h1v1h-1zM35 71h1v1h-1zM42 71h1v1h-1zM64 71h1v1h-1zM70 71h1v1h-1zM72 71h1v1h-1zM80 71h2v1h-2zM25 70h1v1h-1zM42 70h2v1h-2zM80 70h2v1h-2zM33 69h1v1h-1zM45 69h1v1h-1zM72 69h1v1h-1zM79 69h1v1h-1zM63 68h1v1h-1zM45 67h1v1h-1zM63 67h1v1h-1zM78 67h1v1h-1zM78 66h1v1h-1zM46 65h1v1h-1zM55 65h1v1h-1zM77 65h2v1h-2zM35 64h1v1h-1zM58 64h1v1h-1zM78 64h1v1h-1zM22 63h1v1h-1zM29 63h1v1h-1zM38 63h1v1h-1zM29 62h1v1h-1zM58 62h1v1h-1zM76 62h1v1h-1zM30 61h1v1h-1zM45 61h1v1h-1zM47 61h1v1h-1zM57 61h1v1h-1zM67 61h1v1h-1zM70 61h1v1h-1zM77 61h1v1h-1zM23 60h1v1h-1zM47 60h1v1h-1zM57 60h1v1h-1zM59 60h1v1h-1zM76 60h1v1h-1zM45 59h1v1h-1zM23 58h1v1h-1zM30 58h2v1h-2zM39 58h1v1h-1zM47 58h1v1h-1zM69 58h1v1h-1zM74 58h1v1h-1zM31 57h1v1h-1zM46 57h2v1h-2zM81 57h1v1h-1zM46 56h2v1h-2zM68 56h1v1h-1zM73 56h1v1h-1zM81 56h1v1h-1zM40 55h1v1h-1zM59 55h1v1h-1zM33 54h1v1h-1zM38 54h1v1h-1zM59 54h1v1h-1zM38 53h1v1h-1zM49 53h1v1h-1zM74 53h1v1h-1zM72 52h1v1h-1zM26 51h1v1h-1zM34 51h1v1h-1zM58 51h1v1h-1zM79 51h1v1h-1zM58 50h1v1h-1zM66 50h1v1h-1zM71 49h1v1h-1zM78 49h1v1h-1zM28 48h1v1h-1zM33 48h1v1h-1zM35 48h1v1h-1zM58 48h1v1h-1zM66 48h1v1h-1zM72 48h1v1h-1zM77 48h1v1h-1zM35 47h1v1h-1zM49 47h1v1h-1zM23 46h1v1h-1zM28 46h1v1h-1zM40 46h1v1h-1zM42 46h1v1h-1zM49 46h1v1h-1zM51 46h1v1h-1zM57 46h1v1h-1zM77 46h1v1h-1zM28 45h1v1h-1zM51 45h1v1h-1zM56 45h1v1h-1zM71 45h1v1h-1zM77 45h1v1h-1zM49 44h1v1h-1zM57 44h1v1h-1zM71 44h1v1h-1zM76 44h1v1h-1zM76 43h1v1h-1zM24 42h1v1h-1zM75 42h1v1h-1zM35 41h1v1h-1zM41 41h1v1h-1zM30 40h1v1h-1zM37 40h1v1h-1zM41 40h1v1h-1zM43 40h1v1h-1zM64 40h1v1h-1zM36 39h1v1h-1zM42 39h2v1h-2zM62 39h1v1h-1zM31 38h1v1h-1zM37 38h1v1h-1zM80 38h1v1h-1zM85 38h1v1h-1zM42 37h1v1h-1zM79 37h1v1h-1zM38 36h1v1h-1zM44 36h1v1h-1zM50 36h1v1h-1zM56 36h1v1h-1zM32 35h1v1h-1zM69 35h1v1h-1zM74 35h1v1h-1zM79 35h1v1h-1zM27 34h1v1h-1zM63 34h1v1h-1zM69 34h1v1h-1zM27 33h1v1h-1zM50 33h1v1h-1zM67 33h1v1h-1zM74 33h1v1h-1zM37 32h1v1h-1zM56 32h1v1h-1zM23 31h1v1h-1zM27 31h1v1h-1zM32 31h1v1h-1zM55 31h1v1h-1zM83 31h1v1h-1zM23 30h1v1h-1zM28 30h1v1h-1zM39 30h1v1h-1zM50 30h1v1h-1zM68 30h1v1h-1zM72 30h1v1h-1zM23 29h1v1h-1zM45 29h1v1h-1zM62 29h1v1h-1zM82 29h1v1h-1zM33 28h1v1h-1zM50 28h1v1h-1zM55 28h1v1h-1zM38 27h1v1h-1zM55 27h1v1h-1zM72 27h1v1h-1zM55 26h1v1h-1zM66 26h1v1h-1zM81 26h1v1h-1zM24 25h1v1h-1zM44 25h1v1h-1zM45 24h1v1h-1zM55 24h1v1h-1zM61 24h1v1h-1zM76 24h1v1h-1zM35 23h1v1h-1zM40 23h1v1h-1zM55 23h1v1h-1zM70 23h1v1h-1zM45 22h1v1h-1zM50 22h1v1h-1zM55 22h2v1h-2zM71 22h1v1h-1zM75 22h2v1h-2zM50 21h1v1h-1zM65 21h1v1h-1zM45 20h1v1h-1zM59 20h1v1h-1zM66 20h1v1h-1zM35 19h1v1h-1zM46 19h1v1h-1zM50 19h1v1h-1zM74 19h2v1h-2zM79 19h1v1h-1zM22 18h1v1h-1zM27 18h1v1h-1zM31 18h1v1h-1zM35 18h2v1h-2zM74 18h1v1h-1zM27 17h1v1h-1zM31 17h1v1h-1zM23 16h1v1h-1zM50 16h1v1h-1zM55 16h1v1h-1zM64 16h1v1h-1zM50 15h1v1h-1zM58 15h1v1h-1zM65 15h1v1h-1zM74 14h1v1h-1zM77 13h1v1h-1zM28 12h1v1h-1zM56 12h1v1h-1zM68 12h1v1h-1zM77 12h1v1h-1zM41 11h2v1h-2zM47 11h1v1h-1zM55 11h1v1h-1zM59 11h1v1h-1zM41 10h1v1h-1zM47 10h1v1h-1zM55 10h1v1h-1zM63 10h1v1h-1zM77 10h1v1h-1zM47 9h1v1h-1zM57 9h1v1h-1zM69 9h1v1h-1zM77 9h1v1h-1zM37 8h1v1h-1zM33 7h1v1h-1zM56 7h1v1h-1zM72 7h1v1h-1zM29 6h1v1h-1zM49 6h2v1h-2zM55 6h1v1h-1zM76 6h1v1h-1zM33 5h1v1h-1zM42 5h1v1h-1zM56 5h2v1h-2zM67 5h1v1h-1zM76 5h1v1h-1zM55 4h1v1h-1zM43 3h1v1h-1zM50 3h1v1h-1zM58 3h1v1h-1zM75 3h1v1h-1zM83 3h1v1h-1zM30 2h1v1h-1zM34 2h1v1h-1zM43 2h1v1h-1zM56 2h1v1h-1zM79 2h1v1h-1zM23 1h1v1h-1zM39 1h1v1h-1zM43 1h1v1h-1zM57 1h1v1h-1zM27 0h1v1h-1zM49 0h2v1h-2zM57 0h1v1h-1zM62 0h1v1h-1z"/>
<path fill="#d25749" d="M27 119h1v1h-1zM47 119h1v1h-1zM71 119h2v1h-2zM80 119h1v1h-1zM25 118h1v1h-1zM27 118h1v1h-1zM30 118h2v1h-2zM47 118h1v1h-1zM76 118h1v1h-1zM78 118h1v1h-1zM23 117h1v1h-1zM32 117h1v1h-1zM47 117h1v1h-1zM77 117h1v1h-1zM80 117h1v1h-1zM30 116h3v1h-3zM72 116h1v1h-1zM78 116h1v1h-1zM81 116h1v1h-1zM28 115h2v1h-2zM49 115h1v1h-1zM33 114h1v1h-1zM45 114h1v1h-1zM75 114h1v1h-1zM32 113h1v1h-1zM47 113h1v1h-1zM49 113h1v1h-1zM34 112h1v1h-1zM35 111h1v1h-1zM58 111h1v1h-1zM35 110h1v1h-1zM37 110h1v1h-1zM47 110h1v1h-1zM51 110h1v1h-1zM39 108h1v1h-1zM51 108h1v1h-1zM43 107h1v1h-1zM47 106h1v1h-1zM49 106h1v1h-1zM65 106h1v1h-1zM41 105h1v1h-1zM47 105h1v1h-1zM64 105h1v1h-1zM42 104h2v1h-2zM47 104h1v1h-1zM49 103h1v1h-1zM81 103h1v1h-1zM26 102h2v1h-2zM44 101h1v1h-1zM61 101h1v1h-1zM78 101h1v1h-1zM45 100h2v1h-2zM60 100h1v1h-1zM79 100h1v1h-1zM27 99h3v1h-3zM49 99h1v1h-1zM59 99h2v1h-2zM78 99h1v1h-1zM49 98h1v1h-1zM51 98h1v1h-1zM58 98h1v1h-1zM31 97h2v1h-2zM49 97h1v1h-1zM76 97h2v1h-2zM33 96h1v1h-1zM51 96h1v1h-1zM73 96h1v1h-1zM32 95h1v1h-1zM49 95h1v1h-1zM51 95h1v1h-1zM75 95h1v1h-1zM31 94h1v1h-1zM35 94h1v1h-1zM49 94h1v1h-1zM57 94h1v1h-1zM71 94h1v1h-1zM73 94h1v1h-1zM75 94h1v1h-1zM88 94h1v1h-1zM57 93h1v1h-1zM57 92h1v1h-1zM33 91h1v1h-1zM37 91h1v1h-1zM56 91h1v1h-1zM22 90h1v1h-1zM33 90h1v1h-1zM38 90h1v1h-1zM68 90h1v1h-1zM38 89h1v1h-1zM67 89h1v1h-1zM35 88h1v1h-1zM35 87h1v1h-1zM81 87h1v1h-1zM25 86h1v1h-1zM27 84h1v1h-1zM65 84h1v1h-1zM69 84h1v1h-1zM41 83h1v1h-1zM77 83h1v1h-1zM29 82h1v1h-1zM68 82h1v1h-1zM38 81h1v1h-1zM76 81h1v1h-1zM29 80h1v1h-1zM75 80h1v1h-1zM39 79h1v1h-1zM63 79h2v1h-2zM77 79h1v1h-1zM30 78h1v1h-1zM50 78h1v1h-1zM31 77h1v1h-1zM22 76h1v1h-1zM31 76h3v1h-3zM40 76h1v1h-1zM43 76h1v1h-1zM75 76h1v1h-1zM22 75h2v1h-2zM32 75h1v1h-1zM72 74h1v1h-1zM74 74h1v1h-1zM23 73h1v1h-1zM34 73h1v1h-1zM72 73h1v1h-1zM74 73h1v1h-1zM56 72h1v1h-1zM71 72h1v1h-1zM71 71h1v1h-1zM73 71h1v1h-1zM35 70h1v1h-1zM45 70h1v1h-1zM55 70h1v1h-1zM71 70h1v1h-1zM63 69h1v1h-1zM36 68h1v1h-1zM43 68h1v1h-1zM26 67h1v1h-1zM34 67h1v1h-1zM46 67h1v1h-1zM69 67h1v1h-1zM27 66h1v1h-1zM62 66h1v1h-1zM28 64h1v1h-1zM77 64h1v1h-1zM28 63h1v1h-1zM58 63h1v1h-1zM45 62h1v1h-1zM22 61h1v1h-1zM29 61h1v1h-1zM58 61h1v1h-1zM29 60h1v1h-1zM75 60h1v1h-1zM83 60h1v1h-1zM23 59h1v1h-1zM47 59h1v1h-1zM60 59h1v1h-1zM74 59h1v1h-1zM37 58h1v1h-1zM50 58h1v1h-1zM57 57h1v1h-1zM66 57h1v1h-1zM68 57h1v1h-1zM32 56h1v1h-1zM74 56h1v1h-1zM32 55h1v1h-1zM80 54h1v1h-1zM32 53h1v1h-1zM72 53h2v1h-2zM49 52h1v1h-1zM65 52h1v1h-1zM41 51h1v1h-1zM72 51h2v1h-2zM34 50h1v1h-1zM64 50h1v1h-1zM49 49h2v1h-2zM56 49h1v1h-1zM72 49h1v1h-1zM27 48h1v1h-1zM34 48h1v1h-1zM41 48h1v1h-1zM49 48h1v1h-1zM56 48h2v1h-2zM71 48h1v1h-1zM51 47h1v1h-1zM55 47h1v1h-1zM35 46h1v1h-1zM55 46h1v1h-1zM65 46h1v1h-1zM23 45h1v1h-1zM34 45h1v1h-1zM42 45h1v1h-1zM63 45h1v1h-1zM50 44h1v1h-1zM77 44h1v1h-1zM29 43h1v1h-1zM36 43h1v1h-1zM35 42h2v1h-2zM41 42h1v1h-1zM76 42h1v1h-1zM51 40h1v1h-1zM56 40h1v1h-1zM75 40h1v1h-1zM37 39h1v1h-1zM55 39h2v1h-2zM64 39h1v1h-1zM75 39h1v1h-1zM43 38h1v1h-1zM50 38h1v1h-1zM62 38h1v1h-1zM68 38h1v1h-1zM74 38h2v1h-2zM55 37h2v1h-2zM74 37h1v1h-1zM31 36h1v1h-1zM62 36h1v1h-1zM74 36h1v1h-1zM38 35h1v1h-1zM55 35h1v1h-1zM62 35h1v1h-1zM55 34h2v1h-2zM43 33h1v1h-1zM55 33h1v1h-1zM22 32h1v1h-1zM62 32h1v1h-1zM67 32h1v1h-1zM73 32h1v1h-1zM78 32h1v1h-1zM50 31h1v1h-1zM61 31h2v1h-2zM62 30h1v1h-1zM72 29h1v1h-1zM28 28h1v1h-1zM34 28h1v1h-1zM56 28h1v1h-1zM77 28h1v1h-1zM29 27h1v1h-1zM33 27h2v1h-2zM50 27h1v1h-1zM56 27h1v1h-1zM60 27h2v1h-2zM66 27h1v1h-1zM29 26h1v1h-1zM67 26h1v1h-1zM45 25h1v1h-1zM60 25h1v1h-1zM71 25h1v1h-1zM60 24h1v1h-1zM34 23h1v1h-1zM39 23h1v1h-1zM45 23h1v1h-1zM56 23h1v1h-1zM75 23h1v1h-1zM30 22h1v1h-1zM35 22h1v1h-1zM40 22h1v1h-1zM46 22h1v1h-1zM65 22h1v1h-1zM70 22h1v1h-1zM39 21h1v1h-1zM45 21h2v1h-2zM56 21h1v1h-1zM60 21h1v1h-1zM65 20h1v1h-1zM41 18h1v1h-1zM46 18h1v1h-1zM59 18h1v1h-1zM65 18h1v1h-1zM36 17h1v1h-1zM40 17h1v1h-1zM46 17h1v1h-1zM36 16h1v1h-1zM46 16h1v1h-1zM59 16h1v1h-1zM36 15h1v1h-1zM46 15h1v1h-1zM64 15h1v1h-1zM70 15h1v1h-1zM46 14h1v1h-1zM58 14h2v1h-2zM78 14h1v1h-1zM36 13h2v1h-2zM50 13h1v1h-1zM59 13h1v1h-1zM73 13h1v1h-1zM32 12h1v1h-1zM58 12h2v1h-2zM73 12h1v1h-1zM28 11h1v1h-1zM73 11h1v1h-1zM33 10h1v1h-1zM42 10h1v1h-1zM50 10h1v1h-1zM42 9h1v1h-1zM58 9h1v1h-1zM68 9h1v1h-1zM42 8h1v1h-1zM55 8h1v1h-1zM57 8h3v1h-3zM37 7h1v1h-1zM42 7h1v1h-1zM57 7h1v1h-1zM76 7h1v1h-1zM33 6h1v1h-1zM57 6h1v1h-1zM34 5h1v1h-1zM72 5h1v1h-1zM30 4h1v1h-1zM34 4h1v1h-1zM56 4h1v1h-1zM58 4h1v1h-1zM67 4h2v1h-2zM26 3h1v1h-1zM34 3h1v1h-1zM42 3h1v1h-1zM49 3h1v1h-1zM56 3h1v1h-1zM67 3h1v1h-1zM62 1h1v1h-1zM23 0h1v1h-1zM35 0h1v1h-1zM39 0h1v1h-1zM43 0h1v1h-1zM63 0h1v1h-1z"/>
<path fill="#ca4842" d="M22 119h1v1h-1zM29 119h1v1h-1zM31 119h1v1h-1zM45 119h1v1h-1zM73 119h1v1h-1zM76 119h1v1h-1zM22 118h1v1h-1zM46 118h1v1h-1zM56 118h1v1h-1zM58 118h1v1h-1zM72 118h1v1h-1zM79 118h1v1h-1zM29 117h1v1h-1zM31 117h1v1h-1zM43 117h1v1h-1zM73 117h1v1h-1zM28 116h1v1h-1zM47 116h1v1h-1zM73 116h1v1h-1zM76 116h1v1h-1zM31 115h1v1h-1zM47 115h1v1h-1zM61 115h1v1h-1zM71 115h2v1h-2zM32 114h1v1h-1zM47 114h1v1h-1zM51 114h1v1h-1zM71 114h3v1h-3zM76 114h1v1h-1zM34 113h1v1h-1zM42 113h1v1h-1zM59 113h1v1h-1zM61 113h1v1h-1zM75 113h1v1h-1zM33 112h1v1h-1zM36 112h1v1h-1zM49 112h1v1h-1zM71 112h1v1h-1zM37 111h1v1h-1zM40 110h1v1h-1zM70 110h1v1h-1zM37 109h1v1h-1zM69 109h1v1h-1zM47 108h1v1h-1zM49 108h1v1h-1zM68 108h1v1h-1zM47 107h1v1h-1zM66 107h1v1h-1zM40 106h1v1h-1zM43 106h1v1h-1zM50 106h1v1h-1zM43 105h1v1h-1zM55 105h1v1h-1zM55 104h1v1h-1zM63 104h1v1h-1zM63 103h1v1h-1zM47 102h1v1h-1zM49 102h1v1h-1zM51 102h1v1h-1zM58 102h1v1h-1zM61 102h2v1h-2zM45 101h1v1h-1zM76 100h3v1h-3zM46 99h1v1h-1zM58 99h1v1h-1zM77 99h1v1h-1zM74 98h1v1h-1zM76 98h2v1h-2zM30 97h1v1h-1zM51 97h1v1h-1zM58 97h1v1h-1zM57 96h2v1h-2zM75 96h2v1h-2zM31 95h1v1h-1zM55 95h1v1h-1zM72 95h1v1h-1zM32 93h1v1h-1zM71 93h1v1h-1zM36 92h1v1h-1zM56 92h1v1h-1zM72 92h1v1h-1zM72 91h1v1h-1zM34 90h1v1h-1zM23 89h1v1h-1zM50 89h1v1h-1zM68 89h1v1h-1zM39 88h1v1h-1zM67 88h1v1h-1zM39 87h1v1h-1zM36 86h1v1h-1zM39 86h1v1h-1zM40 85h1v1h-1zM50 85h1v1h-1zM79 85h1v1h-1zM37 84h1v1h-1zM50 84h1v1h-1zM27 83h1v1h-1zM68 83h1v1h-1zM79 83h1v1h-1zM28 82h1v1h-1zM38 82h1v1h-1zM65 82h1v1h-1zM77 82h1v1h-1zM28 81h1v1h-1zM50 80h1v1h-1zM76 80h1v1h-1zM29 79h1v1h-1zM42 79h1v1h-1zM66 79h1v1h-1zM75 79h1v1h-1zM42 78h1v1h-1zM74 78h1v1h-1zM76 78h1v1h-1zM42 75h1v1h-1zM55 75h1v1h-1zM75 75h1v1h-1zM50 74h1v1h-1zM55 74h1v1h-1zM73 74h1v1h-1zM41 73h1v1h-1zM73 73h1v1h-1zM34 72h1v1h-1zM42 72h1v1h-1zM55 72h1v1h-1zM64 72h1v1h-1zM72 72h1v1h-1zM43 71h1v1h-1zM33 70h1v1h-1zM61 70h1v1h-1zM63 70h1v1h-1zM26 69h1v1h-1zM34 69h2v1h-2zM60 69h1v1h-1zM71 69h1v1h-1zM55 68h1v1h-1zM60 68h1v1h-1zM27 67h1v1h-1zM36 67h1v1h-1zM71 67h1v1h-1zM28 66h1v1h-1zM36 66h1v1h-1zM45 66h1v1h-1zM27 65h1v1h-1zM37 65h1v1h-1zM44 65h1v1h-1zM56 65h1v1h-1zM61 65h2v1h-2zM69 65h1v1h-1zM44 64h1v1h-1zM46 64h1v1h-1zM50 64h1v1h-1zM61 64h1v1h-1zM46 63h1v1h-1zM50 63h1v1h-1zM55 63h2v1h-2zM77 63h1v1h-1zM36 62h1v1h-1zM50 62h1v1h-1zM59 62h1v1h-1zM61 62h1v1h-1zM46 61h1v1h-1zM60 61h1v1h-1zM76 61h1v1h-1zM46 60h1v1h-1zM58 60h1v1h-1zM39 59h1v1h-1zM46 59h1v1h-1zM57 59h1v1h-1zM67 59h1v1h-1zM75 59h1v1h-1zM46 58h1v1h-1zM56 58h2v1h-2zM50 57h1v1h-1zM58 57h1v1h-1zM74 57h2v1h-2zM31 56h1v1h-1zM66 56h1v1h-1zM57 55h1v1h-1zM74 55h1v1h-1zM49 54h2v1h-2zM56 54h1v1h-1zM67 54h1v1h-1zM47 53h1v1h-1zM56 52h1v1h-1zM39 51h1v1h-1zM49 51h2v1h-2zM55 51h2v1h-2zM27 50h1v1h-1zM41 50h1v1h-1zM50 50h1v1h-1zM27 49h1v1h-1zM34 49h1v1h-1zM55 48h1v1h-1zM40 47h2v1h-2zM57 47h1v1h-1zM77 47h1v1h-1zM34 46h1v1h-1zM50 46h1v1h-1zM56 46h1v1h-1zM64 46h1v1h-1zM70 46h1v1h-1zM50 45h1v1h-1zM55 45h1v1h-1zM65 45h1v1h-1zM29 44h1v1h-1zM51 44h1v1h-1zM63 44h1v1h-1zM35 43h1v1h-1zM42 42h1v1h-1zM50 42h1v1h-1zM56 42h1v1h-1zM69 42h1v1h-1zM50 41h1v1h-1zM55 41h1v1h-1zM36 40h1v1h-1zM42 40h1v1h-1zM50 40h1v1h-1zM50 39h1v1h-1zM70 39h1v1h-1zM42 38h1v1h-1zM43 37h1v1h-1zM63 37h1v1h-1zM68 37h1v1h-1zM26 36h1v1h-1zM43 36h1v1h-1zM68 36h1v1h-1zM43 35h1v1h-1zM50 35h1v1h-1zM63 35h1v1h-1zM32 34h1v1h-1zM44 34h1v1h-1zM62 34h1v1h-1zM68 34h1v1h-1zM73 34h2v1h-2zM37 33h1v1h-1zM44 33h1v1h-1zM73 33h1v1h-1zM27 32h1v1h-1zM32 32h2v1h-2zM43 32h2v1h-2zM55 32h1v1h-1zM68 32h1v1h-1zM28 31h1v1h-1zM56 31h1v1h-1zM68 31h1v1h-1zM56 30h1v1h-1zM61 30h1v1h-1zM28 29h1v1h-1zM33 29h1v1h-1zM39 29h1v1h-1zM44 29h1v1h-1zM56 29h1v1h-1zM61 29h1v1h-1zM38 28h2v1h-2zM72 28h1v1h-1zM39 27h1v1h-1zM45 27h1v1h-1zM77 27h1v1h-1zM34 26h1v1h-1zM39 26h1v1h-1zM45 26h1v1h-1zM60 26h2v1h-2zM71 26h1v1h-1zM34 25h1v1h-1zM56 25h1v1h-1zM61 25h1v1h-1zM34 24h1v1h-1zM50 24h1v1h-1zM66 24h1v1h-1zM71 24h1v1h-1zM60 23h1v1h-1zM71 23h1v1h-1zM39 22h1v1h-1zM66 22h1v1h-1zM75 21h1v1h-1zM46 20h1v1h-1zM55 20h1v1h-1zM60 20h1v1h-1zM75 20h1v1h-1zM59 19h1v1h-1zM65 19h1v1h-1zM40 18h1v1h-1zM60 18h1v1h-1zM56 17h1v1h-1zM59 17h1v1h-1zM65 17h1v1h-1zM74 17h1v1h-1zM27 16h1v1h-1zM65 16h1v1h-1zM70 16h1v1h-1zM74 16h1v1h-1zM36 14h1v1h-1zM32 13h1v1h-1zM50 12h1v1h-1zM33 11h1v1h-1zM68 11h2v1h-2zM58 10h1v1h-1zM68 10h2v1h-2zM63 9h1v1h-1zM33 8h1v1h-1zM38 8h1v1h-1zM29 7h1v1h-1zM38 7h1v1h-1zM58 7h1v1h-1zM38 6h1v1h-1zM42 4h1v1h-1zM57 4h1v1h-1zM57 2h1v1h-1zM71 2h1v1h-1zM75 2h1v1h-1zM34 1h1v1h-1zM49 1h1v1h-1zM63 1h1v1h-1zM38 0h1v1h-1zM67 0h1v1h-1zM75 0h1v1h-1z"/>
<path fill="#c2393b" d="M28 119h1v1h-1zM42 119h1v1h-1zM46 119h1v1h-1zM55 119h1v1h-1zM77 119h1v1h-1zM28 118h1v1h-1zM40 118h1v1h-1zM45 118h1v1h-1zM73 118h2v1h-2zM28 117h1v1h-1zM34 117h1v1h-1zM36 117h1v1h-1zM55 117h1v1h-1zM57 117h1v1h-1zM61 117h2v1h-2zM66 117h1v1h-1zM71 117h1v1h-1zM75 117h2v1h-2zM34 116h1v1h-1zM41 116h1v1h-1zM46 116h1v1h-1zM49 116h1v1h-1zM55 116h2v1h-2zM32 115h1v1h-1zM41 115h2v1h-2zM57 115h2v1h-2zM76 115h1v1h-1zM42 114h1v1h-1zM46 114h1v1h-1zM49 114h1v1h-1zM44 113h1v1h-1zM46 113h1v1h-1zM55 113h1v1h-1zM35 112h1v1h-1zM47 112h1v1h-1zM50 112h1v1h-1zM55 112h1v1h-1zM36 111h1v1h-1zM47 111h1v1h-1zM49 111h2v1h-2zM55 111h1v1h-1zM65 111h2v1h-2zM49 110h2v1h-2zM58 110h4v1h-4zM65 110h2v1h-2zM69 110h1v1h-1zM40 109h1v1h-1zM43 109h1v1h-1zM46 109h1v1h-1zM62 109h1v1h-1zM67 109h2v1h-2zM40 108h1v1h-1zM45 108h2v1h-2zM61 108h1v1h-1zM66 108h2v1h-2zM40 107h1v1h-1zM45 107h1v1h-1zM56 107h1v1h-1zM65 107h1v1h-1zM41 106h1v1h-1zM55 106h1v1h-1zM58 106h1v1h-1zM42 105h1v1h-1zM56 105h1v1h-1zM58 105h1v1h-1zM59 104h1v1h-1zM62 104h1v1h-1zM44 103h3v1h-3zM51 103h1v1h-1zM44 102h1v1h-1zM57 102h1v1h-1zM28 101h1v1h-1zM46 101h1v1h-1zM49 101h1v1h-1zM51 101h1v1h-1zM58 101h1v1h-1zM27 100h1v1h-1zM49 100h1v1h-1zM51 100h1v1h-1zM59 100h1v1h-1zM51 99h1v1h-1zM55 99h1v1h-1zM30 98h1v1h-1zM56 98h1v1h-1zM59 98h1v1h-1zM50 97h1v1h-1zM74 97h1v1h-1zM32 96h1v1h-1zM74 96h1v1h-1zM74 95h1v1h-1zM34 94h1v1h-1zM55 94h1v1h-1zM70 94h1v1h-1zM72 94h1v1h-1zM74 94h1v1h-1zM34 93h1v1h-1zM55 93h1v1h-1zM72 93h1v1h-1zM33 92h2v1h-2zM50 92h1v1h-1zM36 91h1v1h-1zM50 91h1v1h-1zM71 91h1v1h-1zM37 90h1v1h-1zM36 89h1v1h-1zM71 89h1v1h-1zM36 88h1v1h-1zM38 88h1v1h-1zM56 88h1v1h-1zM36 87h1v1h-1zM67 87h1v1h-1zM56 86h1v1h-1zM66 86h1v1h-1zM70 86h1v1h-1zM26 85h1v1h-1zM69 85h1v1h-1zM66 84h1v1h-1zM50 83h1v1h-1zM55 83h1v1h-1zM41 82h1v1h-1zM50 82h1v1h-1zM55 82h1v1h-1zM29 81h1v1h-1zM55 81h1v1h-1zM65 81h1v1h-1zM67 81h1v1h-1zM77 81h1v1h-1zM40 80h1v1h-1zM56 80h1v1h-1zM66 80h1v1h-1zM76 79h1v1h-1zM40 78h1v1h-1zM56 78h1v1h-1zM63 78h1v1h-1zM75 78h1v1h-1zM40 77h1v1h-1zM42 77h1v1h-1zM50 77h1v1h-1zM55 77h1v1h-1zM75 77h1v1h-1zM50 76h1v1h-1zM33 75h1v1h-1zM41 75h1v1h-1zM62 75h1v1h-1zM65 75h1v1h-1zM74 75h1v1h-1zM32 74h2v1h-2zM62 74h1v1h-1zM43 72h1v1h-1zM61 72h1v1h-1zM34 71h1v1h-1zM55 71h1v1h-1zM61 71h2v1h-2zM34 70h1v1h-1zM62 70h1v1h-1zM72 70h1v1h-1zM43 69h1v1h-1zM55 69h2v1h-2zM61 69h1v1h-1zM70 69h1v1h-1zM50 68h1v1h-1zM56 68h1v1h-1zM71 68h1v1h-1zM44 67h1v1h-1zM50 67h1v1h-1zM55 67h2v1h-2zM60 67h1v1h-1zM62 67h1v1h-1zM35 66h1v1h-1zM44 66h1v1h-1zM55 66h1v1h-1zM60 66h1v1h-1zM35 65h1v1h-1zM45 65h1v1h-1zM60 65h1v1h-1zM36 64h1v1h-1zM45 64h1v1h-1zM55 64h1v1h-1zM36 63h1v1h-1zM59 63h1v1h-1zM70 63h1v1h-1zM37 62h2v1h-2zM55 62h2v1h-2zM60 62h1v1h-1zM68 62h1v1h-1zM38 61h1v1h-1zM50 61h1v1h-1zM55 61h2v1h-2zM59 61h1v1h-1zM37 60h1v1h-1zM50 60h1v1h-1zM55 60h2v1h-2zM67 60h1v1h-1zM69 60h1v1h-1zM37 59h1v1h-1zM50 59h1v1h-1zM58 59h1v1h-1zM55 58h1v1h-1zM58 58h2v1h-2zM68 58h1v1h-1zM75 58h1v1h-1zM55 57h1v1h-1zM50 56h1v1h-1zM56 56h2v1h-2zM59 56h1v1h-1zM47 55h1v1h-1zM50 55h1v1h-1zM58 55h1v1h-1zM66 55h2v1h-2zM55 54h1v1h-1zM57 54h1v1h-1zM50 53h1v1h-1zM55 53h1v1h-1zM58 53h1v1h-1zM67 53h1v1h-1zM39 52h1v1h-1zM55 52h1v1h-1zM57 52h2v1h-2zM66 52h1v1h-1zM65 51h2v1h-2zM55 50h2v1h-2zM72 50h1v1h-1zM33 49h1v1h-1zM40 49h2v1h-2zM57 49h1v1h-1zM64 49h1v1h-1zM40 48h1v1h-1zM65 48h1v1h-1zM28 47h1v1h-1zM34 47h1v1h-1zM50 47h1v1h-1zM35 45h1v1h-1zM41 45h1v1h-1zM41 44h2v1h-2zM56 44h1v1h-1zM50 43h1v1h-1zM56 43h1v1h-1zM63 43h1v1h-1zM36 41h1v1h-1zM56 41h1v1h-1zM63 41h2v1h-2zM75 41h1v1h-1zM55 40h1v1h-1zM63 40h1v1h-1zM55 38h1v1h-1zM37 37h1v1h-1zM62 37h1v1h-1zM55 36h1v1h-1zM56 35h1v1h-1zM38 34h1v1h-1zM50 34h1v1h-1zM38 33h1v1h-1zM33 31h1v1h-1zM44 31h1v1h-1zM38 29h1v1h-1zM44 28h1v1h-1zM61 28h1v1h-1zM67 28h1v1h-1zM44 27h1v1h-1zM39 24h1v1h-1zM76 23h1v1h-1zM60 22h1v1h-1zM35 21h1v1h-1zM40 21h1v1h-1zM56 20h1v1h-1zM69 16h1v1h-1zM41 15h1v1h-1zM74 15h1v1h-1zM64 14h1v1h-1zM41 13h1v1h-1zM58 13h1v1h-1zM64 13h1v1h-1zM37 12h1v1h-1zM41 12h1v1h-1zM64 12h1v1h-1zM37 11h1v1h-1zM58 11h1v1h-1zM37 10h1v1h-1zM64 10h1v1h-1zM33 9h1v1h-1zM37 9h1v1h-1zM63 8h1v1h-1zM63 7h1v1h-1zM68 7h1v1h-1zM58 6h1v1h-1zM63 6h1v1h-1zM68 6h1v1h-1zM72 6h1v1h-1zM68 5h1v1h-1zM63 2h1v1h-1zM38 1h1v1h-1zM67 1h1v1h-1zM75 1h1v1h-1z"/>
<path fill="#bb2a34" d="M37 119h1v1h-1zM43 119h1v1h-1zM59 119h3v1h-3zM64 119h1v1h-1zM74 119h1v1h-1zM32 118h1v1h-1zM34 118h1v1h-1zM36 118h1v1h-1zM41 118h2v1h-2zM55 118h1v1h-1zM57 118h1v1h-1zM59 118h1v1h-1zM61 118h1v1h-1zM64 118h1v1h-1zM66 118h2v1h-2zM71 118h1v1h-1zM75 118h1v1h-1zM77 118h1v1h-1zM35 117h1v1h-1zM41 117h2v1h-2zM46 117h1v1h-1zM59 117h1v1h-1zM65 117h1v1h-1zM68 117h1v1h-1zM42 116h2v1h-2zM57 116h2v1h-2zM60 116h1v1h-1zM65 116h1v1h-1zM74 116h2v1h-2zM77 116h1v1h-1zM33 115h2v1h-2zM43 115h3v1h-3zM59 115h2v1h-2zM73 115h3v1h-3zM34 114h1v1h-1zM37 114h1v1h-1zM40 114h1v1h-1zM43 114h1v1h-1zM50 114h1v1h-1zM58 114h2v1h-2zM61 114h1v1h-1zM66 114h1v1h-1zM74 114h1v1h-1zM33 113h1v1h-1zM41 113h1v1h-1zM45 113h1v1h-1zM57 113h2v1h-2zM62 113h1v1h-1zM65 113h1v1h-1zM71 113h1v1h-1zM37 112h1v1h-1zM42 112h2v1h-2zM45 112h1v1h-1zM59 112h3v1h-3zM41 111h1v1h-1zM43 111h2v1h-2zM46 111h1v1h-1zM60 111h1v1h-1zM69 111h2v1h-2zM43 110h1v1h-1zM45 110h1v1h-1zM55 110h2v1h-2zM62 110h1v1h-1zM68 110h1v1h-1zM50 109h1v1h-1zM57 109h1v1h-1zM59 109h2v1h-2zM65 109h2v1h-2zM43 108h1v1h-1zM55 108h3v1h-3zM60 108h1v1h-1zM62 108h1v1h-1zM41 107h2v1h-2zM58 107h2v1h-2zM61 107h2v1h-2zM42 106h1v1h-1zM56 106h2v1h-2zM44 105h3v1h-3zM49 105h2v1h-2zM57 105h1v1h-1zM61 105h3v1h-3zM44 104h3v1h-3zM57 104h1v1h-1zM60 104h2v1h-2zM55 103h1v1h-1zM58 103h4v1h-4zM45 102h1v1h-1zM55 102h2v1h-2zM55 101h1v1h-1zM57 100h2v1h-2zM50 99h1v1h-1zM75 99h2v1h-2zM55 98h1v1h-1zM57 98h1v1h-1zM75 98h1v1h-1zM55 97h3v1h-3zM33 95h1v1h-1zM50 95h1v1h-1zM56 95h1v1h-1zM73 95h1v1h-1zM56 94h1v1h-1zM35 93h1v1h-1zM56 93h1v1h-1zM55 92h1v1h-1zM69 91h1v1h-1zM35 90h2v1h-2zM55 90h2v1h-2zM71 90h1v1h-1zM35 89h1v1h-1zM37 89h1v1h-1zM55 89h2v1h-2zM55 88h1v1h-1zM50 87h1v1h-1zM55 87h2v1h-2zM69 86h1v1h-1zM40 84h1v1h-1zM55 84h2v1h-2zM38 83h1v1h-1zM40 83h1v1h-1zM40 82h1v1h-1zM41 81h1v1h-1zM50 81h1v1h-1zM64 81h1v1h-1zM39 80h1v1h-1zM64 80h2v1h-2zM55 79h2v1h-2zM55 78h1v1h-1zM56 77h1v1h-1zM65 77h1v1h-1zM74 77h1v1h-1zM41 76h1v1h-1zM55 76h2v1h-2zM74 76h1v1h-1zM50 75h1v1h-1zM56 75h1v1h-1zM63 75h1v1h-1zM41 74h2v1h-2zM64 74h1v1h-1zM33 73h1v1h-1zM42 73h1v1h-1zM44 73h1v1h-1zM44 72h1v1h-1zM63 72h1v1h-1zM44 71h1v1h-1zM56 71h1v1h-1zM44 70h1v1h-1zM50 70h1v1h-1zM70 70h1v1h-1zM44 69h1v1h-1zM50 69h1v1h-1zM62 69h1v1h-1zM44 68h1v1h-1zM61 68h2v1h-2zM50 66h1v1h-1zM56 66h1v1h-1zM61 66h1v1h-1zM69 66h1v1h-1zM36 65h1v1h-1zM50 65h1v1h-1zM37 64h1v1h-1zM59 64h1v1h-1zM70 64h1v1h-1zM37 63h1v1h-1zM69 62h1v1h-1zM68 61h1v1h-1zM55 59h2v1h-2zM59 59h1v1h-1zM39 57h1v1h-1zM56 57h1v1h-1zM59 57h1v1h-1zM58 56h1v1h-1zM67 56h1v1h-1zM38 55h1v1h-1zM55 55h1v1h-1zM32 54h1v1h-1zM66 54h1v1h-1zM33 53h1v1h-1zM40 53h1v1h-1zM56 53h2v1h-2zM50 52h1v1h-1zM57 51h1v1h-1zM40 50h1v1h-1zM57 50h1v1h-1zM65 50h1v1h-1zM55 49h1v1h-1zM65 49h1v1h-1zM50 48h1v1h-1zM56 47h1v1h-1zM64 47h1v1h-1zM71 47h1v1h-1zM71 46h1v1h-1zM64 45h1v1h-1zM42 43h1v1h-1zM55 43h1v1h-1zM64 43h1v1h-1zM70 43h1v1h-1zM55 42h1v1h-1zM42 41h1v1h-1zM70 41h1v1h-1zM69 40h2v1h-2zM36 38h1v1h-1zM56 38h1v1h-1zM63 38h1v1h-1zM69 38h1v1h-1zM69 36h1v1h-1zM37 35h1v1h-1zM37 34h1v1h-1zM56 33h1v1h-1zM62 33h1v1h-1zM68 33h1v1h-1zM50 32h1v1h-1zM33 30h1v1h-1zM38 30h1v1h-1zM67 30h1v1h-1zM39 25h1v1h-1zM66 25h1v1h-1zM66 23h1v1h-1zM26 20h1v1h-1zM40 20h1v1h-1zM40 19h1v1h-1zM70 18h1v1h-1zM70 17h1v1h-1zM41 16h1v1h-1zM56 15h1v1h-1zM59 15h1v1h-1zM69 15h1v1h-1zM41 14h1v1h-1zM69 14h1v1h-1zM69 12h1v1h-1zM64 11h1v1h-1zM64 9h1v1h-1zM68 8h1v1h-1zM42 6h1v1h-1zM63 5h1v1h-1zM63 4h1v1h-1zM38 3h1v1h-1zM38 2h1v1h-1z"/>
<path fill="#b31b2c" d="M32 119h1v1h-1zM34 119h2v1h-2zM57 119h1v1h-1zM65 119h1v1h-1zM70 119h1v1h-1zM75 119h1v1h-1zM33 118h1v1h-1zM39 118h1v1h-1zM43 118h2v1h-2zM33 117h1v1h-1zM44 117h2v1h-2zM56 117h1v1h-1zM58 117h1v1h-1zM70 117h1v1h-1zM74 117h1v1h-1zM36 116h1v1h-1zM39 116h1v1h-1zM45 116h1v1h-1zM61 116h1v1h-1zM63 116h2v1h-2zM66 116h1v1h-1zM71 116h1v1h-1zM36 115h1v1h-1zM40 115h1v1h-1zM46 115h1v1h-1zM50 115h1v1h-1zM63 115h2v1h-2zM36 114h1v1h-1zM39 114h1v1h-1zM41 114h1v1h-1zM55 114h3v1h-3zM60 114h1v1h-1zM62 114h2v1h-2zM67 114h1v1h-1zM35 113h2v1h-2zM50 113h1v1h-1zM66 113h2v1h-2zM70 113h1v1h-1zM39 112h1v1h-1zM56 112h1v1h-1zM58 112h1v1h-1zM63 112h1v1h-1zM67 112h1v1h-1zM69 112h2v1h-2zM45 111h1v1h-1zM59 111h1v1h-1zM61 111h1v1h-1zM64 111h1v1h-1zM68 111h1v1h-1zM38 110h1v1h-1zM46 110h1v1h-1zM38 109h1v1h-1zM45 109h1v1h-1zM49 109h1v1h-1zM56 109h1v1h-1zM61 109h1v1h-1zM63 109h2v1h-2zM41 108h1v1h-1zM44 108h1v1h-1zM50 108h1v1h-1zM59 108h1v1h-1zM65 108h1v1h-1zM50 107h1v1h-1zM57 107h1v1h-1zM46 106h1v1h-1zM61 106h1v1h-1zM64 106h1v1h-1zM60 105h1v1h-1zM56 104h1v1h-1zM50 103h1v1h-1zM56 103h2v1h-2zM46 102h1v1h-1zM50 102h1v1h-1zM59 102h2v1h-2zM57 101h1v1h-1zM59 101h1v1h-1zM50 100h1v1h-1zM55 100h2v1h-2zM56 99h2v1h-2zM50 98h1v1h-1zM75 97h1v1h-1zM50 96h1v1h-1zM57 95h1v1h-1zM50 94h1v1h-1zM33 93h1v1h-1zM50 93h1v1h-1zM70 92h1v1h-1zM35 91h1v1h-1zM55 91h1v1h-1zM69 90h1v1h-1zM37 88h1v1h-1zM50 88h1v1h-1zM68 88h1v1h-1zM68 87h1v1h-1zM50 86h1v1h-1zM55 86h1v1h-1zM67 86h1v1h-1zM37 85h1v1h-1zM39 85h1v1h-1zM55 85h1v1h-1zM67 85h2v1h-2zM39 84h1v1h-1zM56 83h1v1h-1zM66 83h1v1h-1zM39 82h1v1h-1zM56 82h1v1h-1zM67 82h1v1h-1zM55 80h1v1h-1zM40 79h1v1h-1zM50 79h1v1h-1zM41 78h1v1h-1zM64 78h2v1h-2zM63 77h2v1h-2zM64 75h1v1h-1zM63 74h1v1h-1zM43 73h1v1h-1zM55 73h2v1h-2zM62 73h1v1h-1zM64 73h1v1h-1zM50 72h1v1h-1zM62 72h1v1h-1zM50 71h1v1h-1zM63 71h1v1h-1zM35 68h1v1h-1zM35 67h1v1h-1zM61 67h1v1h-1zM60 64h1v1h-1zM69 64h1v1h-1zM68 63h1v1h-1zM69 61h1v1h-1zM38 60h1v1h-1zM60 60h1v1h-1zM38 57h1v1h-1zM39 56h1v1h-1zM55 56h1v1h-1zM56 55h1v1h-1zM39 54h1v1h-1zM58 54h1v1h-1zM39 53h1v1h-1zM33 52h1v1h-1zM40 52h1v1h-1zM33 51h1v1h-1zM33 50h1v1h-1zM64 48h1v1h-1zM65 47h1v1h-1zM41 46h1v1h-1zM70 45h1v1h-1zM35 44h1v1h-1zM55 44h1v1h-1zM41 43h1v1h-1zM63 42h2v1h-2zM69 39h1v1h-1zM69 37h1v1h-1zM37 36h1v1h-1zM63 36h1v1h-1zM68 35h1v1h-1zM44 30h1v1h-1zM67 29h1v1h-1zM67 27h1v1h-1zM70 21h1v1h-1zM35 20h1v1h-1zM70 19h1v1h-1zM69 13h1v1h-1zM38 5h1v1h-1zM63 3h1v1h-1z"/>
<path fill="#a61429" d="M36 119h1v1h-1zM39 119h1v1h-1zM41 119h1v1h-1zM44 119h1v1h-1zM58 119h1v1h-1zM35 118h1v1h-1zM38 118h1v1h-1zM60 118h1v1h-1zM62 118h2v1h-2zM65 118h1v1h-1zM37 117h1v1h-1zM40 117h1v1h-1zM60 117h1v1h-1zM67 117h1v1h-1zM69 117h1v1h-1zM35 116h1v1h-1zM40 116h1v1h-1zM44 116h1v1h-1zM59 116h1v1h-1zM62 116h1v1h-1zM67 116h3v1h-3zM35 115h1v1h-1zM37 115h1v1h-1zM55 115h2v1h-2zM62 115h1v1h-1zM65 115h2v1h-2zM68 115h1v1h-1zM70 115h1v1h-1zM35 114h1v1h-1zM44 114h1v1h-1zM65 114h1v1h-1zM38 113h3v1h-3zM43 113h1v1h-1zM56 113h1v1h-1zM60 113h1v1h-1zM40 112h1v1h-1zM46 112h1v1h-1zM57 112h1v1h-1zM65 112h2v1h-2zM38 111h2v1h-2zM42 111h1v1h-1zM56 111h2v1h-2zM62 111h1v1h-1zM41 110h1v1h-1zM44 110h1v1h-1zM57 110h1v1h-1zM64 110h1v1h-1zM67 110h1v1h-1zM39 109h1v1h-1zM42 109h1v1h-1zM44 109h1v1h-1zM55 109h1v1h-1zM58 109h1v1h-1zM42 108h1v1h-1zM58 108h1v1h-1zM44 107h1v1h-1zM46 107h1v1h-1zM55 107h1v1h-1zM60 107h1v1h-1zM44 106h2v1h-2zM59 106h2v1h-2zM63 106h1v1h-1zM59 105h1v1h-1zM50 104h1v1h-1zM58 104h1v1h-1zM50 101h1v1h-1zM56 101h1v1h-1zM56 96h1v1h-1zM33 94h1v1h-1zM70 93h1v1h-1zM35 92h1v1h-1zM71 92h1v1h-1zM70 91h1v1h-1zM70 90h1v1h-1zM69 89h1v1h-1zM70 88h1v1h-1zM37 87h1v1h-1zM70 87h1v1h-1zM38 85h1v1h-1zM56 85h1v1h-1zM68 84h1v1h-1zM39 83h1v1h-1zM66 82h1v1h-1zM39 81h1v1h-1zM56 81h1v1h-1zM66 81h1v1h-1zM41 80h1v1h-1zM41 79h1v1h-1zM41 77h1v1h-1zM42 76h1v1h-1zM63 76h1v1h-1zM56 74h1v1h-1zM50 73h1v1h-1zM33 71h1v1h-1zM56 70h1v1h-1zM70 68h1v1h-1zM70 67h1v1h-1zM70 65h1v1h-1zM56 64h1v1h-1zM60 63h1v1h-1zM37 61h1v1h-1zM68 60h1v1h-1zM38 58h1v1h-1zM67 58h1v1h-1zM67 57h1v1h-1zM38 56h1v1h-1zM39 55h1v1h-1zM66 53h1v1h-1zM40 51h1v1h-1zM64 44h1v1h-1zM70 44h1v1h-1zM69 41h1v1h-1zM63 39h1v1h-1zM38 32h1v1h-1zM38 31h1v1h-1zM38 4h1v1h-1zM67 2h1v1h-1z"/>
<path fill="#960f26" d="M33 119h1v1h-1zM38 119h1v1h-1zM40 119h1v1h-1zM56 119h1v1h-1zM62 119h2v1h-2zM66 119h4v1h-4zM37 118h1v1h-1zM68 118h3v1h-3zM38 117h1v1h-1zM33 116h1v1h-1zM37 116h1v1h-1zM50 116h1v1h-1zM39 115h1v1h-1zM67 115h1v1h-1zM64 114h1v1h-1zM69 114h2v1h-2zM37 113h1v1h-1zM68 113h1v1h-1zM38 112h1v1h-1zM41 112h1v1h-1zM44 112h1v1h-1zM64 112h1v1h-1zM40 111h1v1h-1zM63 111h1v1h-1zM67 111h1v1h-1zM39 110h1v1h-1zM42 110h1v1h-1zM63 110h1v1h-1zM41 109h1v1h-1zM63 108h2v1h-2zM62 106h1v1h-1zM55 96h1v1h-1zM70 89h1v1h-1zM38 87h1v1h-1zM69 87h1v1h-1zM37 86h1v1h-1zM68 86h1v1h-1zM38 84h1v1h-1zM67 84h1v1h-1zM67 83h1v1h-1zM40 81h1v1h-1zM65 79h1v1h-1zM63 73h1v1h-1zM33 72h1v1h-1zM70 66h1v1h-1zM69 63h1v1h-1zM46 62h1v1h-1zM38 59h1v1h-1zM68 59h1v1h-1zM70 42h1v1h-1zM70 20h1v1h-1z"/>
<path fill="#860a24" d="M39 117h1v1h-1zM63 117h2v1h-2zM38 116h1v1h-1zM70 116h1v1h-1zM38 115h1v1h-1zM38 114h1v1h-1zM68 114h1v1h-1zM63 113h2v1h-2zM62 112h1v1h-1zM68 112h1v1h-1zM63 107h2v1h-2zM38 86h1v1h-1z"/>
<path fill="#770522" d="M69 115h1v1h-1zM69 113h1v1h-1zM69 88h1v1h-1z"/>
<path fill="#67001f" d="M64 76h1v1h-1z"/>
</g></g></g>
<rect x="384.1" y="58.0" width="303.6" height="225.4" fill="none" stroke="#747474" stroke-width="1"/>
<rect x="384.1" y="49.8" width="303.6" height="4.4" fill="url(#cbar)"/>
<line x1="416.6" y1="45.6" x2="416.6" y2="49.8" stroke="#747474" stroke-width="1"/>
<text x="416.6" y="40" font-size="12.4" text-anchor="middle" fill="#1e1e1e" stroke="#1e1e1e" stroke-width="0.28">−0.4</text>
<line x1="472.6" y1="45.6" x2="472.6" y2="49.8" stroke="#747474" stroke-width="1"/>
<text x="472.6" y="40" font-size="12.4" text-anchor="middle" fill="#1e1e1e" stroke="#1e1e1e" stroke-width="0.28">−0.3</text>
<line x1="528.6" y1="45.6" x2="528.6" y2="49.8" stroke="#747474" stroke-width="1"/>
<text x="528.6" y="40" font-size="12.4" text-anchor="middle" fill="#1e1e1e" stroke="#1e1e1e" stroke-width="0.28">−0.2</text>
<line x1="584.6" y1="45.6" x2="584.6" y2="49.8" stroke="#747474" stroke-width="1"/>
<text x="584.6" y="40" font-size="12.4" text-anchor="middle" fill="#1e1e1e" stroke="#1e1e1e" stroke-width="0.28">−0.1</text>
<line x1="640.6" y1="45.6" x2="640.6" y2="49.8" stroke="#747474" stroke-width="1"/>
<text x="640.6" y="40" font-size="12.4" text-anchor="middle" fill="#1e1e1e" stroke="#1e1e1e" stroke-width="0.28">0</text>
<text x="516" y="15.6" font-size="13.2" fill="#1e1e1e" stroke="#1e1e1e" stroke-width="0.28"><tspan font-style="italic">Φ</tspan><tspan font-size="9" dy="2.6">refl</tspan><tspan dy="-2.6"> (°)</tspan></text>
<line x1="379.8" y1="249.0" x2="384.1" y2="249.0" stroke="#747474" stroke-width="1"/>
<text x="373.9" y="253.3" font-size="12.4" text-anchor="end" fill="#1e1e1e" stroke="#1e1e1e" stroke-width="0.28">20</text>
<line x1="379.8" y1="212.7" x2="384.1" y2="212.7" stroke="#747474" stroke-width="1"/>
<text x="373.9" y="217.0" font-size="12.4" text-anchor="end" fill="#1e1e1e" stroke="#1e1e1e" stroke-width="0.28">40</text>
<line x1="379.8" y1="176.4" x2="384.1" y2="176.4" stroke="#747474" stroke-width="1"/>
<text x="373.9" y="180.7" font-size="12.4" text-anchor="end" fill="#1e1e1e" stroke="#1e1e1e" stroke-width="0.28">60</text>
<line x1="379.8" y1="140.0" x2="384.1" y2="140.0" stroke="#747474" stroke-width="1"/>
<text x="373.9" y="144.4" font-size="12.4" text-anchor="end" fill="#1e1e1e" stroke="#1e1e1e" stroke-width="0.28">80</text>
<line x1="379.8" y1="103.7" x2="384.1" y2="103.7" stroke="#747474" stroke-width="1"/>
<text x="373.9" y="108.1" font-size="12.4" text-anchor="end" fill="#1e1e1e" stroke="#1e1e1e" stroke-width="0.28">100</text>
<line x1="379.8" y1="67.4" x2="384.1" y2="67.4" stroke="#747474" stroke-width="1"/>
<text x="373.9" y="71.8" font-size="12.4" text-anchor="end" fill="#1e1e1e" stroke="#1e1e1e" stroke-width="0.28">120</text>
<line x1="421.0" y1="283.4" x2="421.0" y2="287.7" stroke="#747474" stroke-width="1"/>
<text x="421.0" y="303.5" font-size="12.4" text-anchor="middle" fill="#1e1e1e" stroke="#1e1e1e" stroke-width="0.28">−4</text>
<line x1="481.4" y1="283.4" x2="481.4" y2="287.7" stroke="#747474" stroke-width="1"/>
<text x="481.4" y="303.5" font-size="12.4" text-anchor="middle" fill="#1e1e1e" stroke="#1e1e1e" stroke-width="0.28">−2</text>
<line x1="541.8" y1="283.4" x2="541.8" y2="287.7" stroke="#747474" stroke-width="1"/>
<text x="541.8" y="303.5" font-size="12.4" text-anchor="middle" fill="#1e1e1e" stroke="#1e1e1e" stroke-width="0.28">0</text>
<line x1="602.2" y1="283.4" x2="602.2" y2="287.7" stroke="#747474" stroke-width="1"/>
<text x="602.2" y="303.5" font-size="12.4" text-anchor="middle" fill="#1e1e1e" stroke="#1e1e1e" stroke-width="0.28">2</text>
<line x1="662.6" y1="283.4" x2="662.6" y2="287.7" stroke="#747474" stroke-width="1"/>
<text x="662.6" y="303.5" font-size="12.4" text-anchor="middle" fill="#1e1e1e" stroke="#1e1e1e" stroke-width="0.28">4</text>
<text x="536" y="325.8" font-size="13.2" text-anchor="middle" fill="#1e1e1e" stroke="#1e1e1e" stroke-width="0.28"><tspan font-style="italic">B</tspan> (mT)</text>
<text transform="translate(341.7,171.5) rotate(-90)" font-size="13.2" text-anchor="middle" fill="#1e1e1e" stroke="#1e1e1e" stroke-width="0.28"><tspan font-style="italic">τ</tspan><tspan font-size="8.6" dy="3.2">S</tspan><tspan dy="-3.2" dx="1.6"> (ns)</tspan></text>
<defs>
<linearGradient id="gbx" gradientUnits="userSpaceOnUse" x1="238" y1="0" x2="310" y2="0"><stop offset="0" stop-color="#000"/><stop offset="0.5" stop-color="#d0305a"/><stop offset="1" stop-color="#6a60e0"/></linearGradient>
<linearGradient id="gp1" gradientUnits="userSpaceOnUse" x1="246" y1="0" x2="297" y2="0"><stop offset="0" stop-color="#111"/><stop offset="0.5" stop-color="#c8345a"/><stop offset="1" stop-color="#6a60e0"/></linearGradient>
<linearGradient id="gp2" gradientUnits="userSpaceOnUse" x1="246" y1="0" x2="297" y2="0"><stop offset="0" stop-color="#222"/><stop offset="0.5" stop-color="#6a4a6a"/><stop offset="1" stop-color="#6a62b0"/></linearGradient>
<marker id="ah" viewBox="0 0 10 10" refX="9" refY="5" markerWidth="7" markerHeight="7" orient="auto-start-reverse"><path d="M0,1 L10,5 L0,9 z" fill="#000"/></marker>
</defs>
<path d="M238.3,281 V58" stroke="#000" stroke-width="1.3" fill="none"/>
<path d="M238.3,54 l-3.2,7 h6.4z" fill="#000"/>
<path d="M238.3,281 H306" stroke="url(#gbx)" stroke-width="1.3" fill="none"/>
<path d="M310.5,281 l-7,-3.2 v6.4z" fill="#6a60e0"/>
<path d="M246,70 V117" stroke="#000" stroke-width="2" fill="none"/>
<path d="M245,117 L297,122.5" stroke="url(#gp1)" stroke-width="2.3" fill="none"/>
<path d="M297,122.5 V216.7" stroke="#6a60e0" stroke-width="2" fill="none"/>
<path d="M297,216.7 L245,223" stroke="url(#gp1)" stroke-width="2.3" fill="none"/>
<path d="M246,223 V275" stroke="#000" stroke-width="2" fill="none"/>
<path d="M246,118 V148" stroke="#000" stroke-width="1.6" stroke-dasharray="2.2,2" fill="none"/>
<path d="M246,129.5 L296,134.3 M246,147.7 L296,153" stroke="url(#gp2)" stroke-width="1.6" stroke-dasharray="2.6,2.4" fill="none"/>
<path d="M264.3,119.5 V220.5" stroke="#333" stroke-width="1.1" fill="none" marker-start="url(#ah)" marker-end="url(#ah)"/>
<text x="269" y="188" font-size="12.4" fill="#1e1e1e" stroke="#1e1e1e" stroke-width="0.28"><tspan font-style="italic">τ</tspan><tspan font-size="9" dy="2.6">S</tspan></text>
<text transform="translate(231.5,109.6) rotate(-90)" font-size="12.4" text-anchor="middle" fill="#1e1e1e" stroke="#1e1e1e" stroke-width="0.28">Time</text>
<text x="273.8" y="295" font-size="12.4" text-anchor="middle" fill="#1e1e1e" font-family="Liberation Serif, serif" font-style="italic" stroke="#1e1e1e" stroke-width="0.28">ε</text>
<defs>
<radialGradient id="sph" cx="0.42" cy="0.36" r="0.66" fx="0.36" fy="0.3">
<stop offset="0" stop-color="#f3ecec"/><stop offset="0.45" stop-color="#ede6e5"/><stop offset="0.8" stop-color="#ddd7d4"/><stop offset="1" stop-color="#cec8c4"/></radialGradient>
<marker id="mk" viewBox="0 0 10 10" refX="6" refY="5" markerWidth="4.2" markerHeight="4.2" orient="auto"><path d="M0,0.5 L10,5 L0,9.5 z" fill="#000022"/></marker>
</defs>
<circle cx="106.3" cy="172.3" r="81.5" fill="url(#sph)" stroke="#d0cbc8" stroke-width="0.8"/>
<clipPath id="sc"><circle cx="106.3" cy="172.3" r="81"/></clipPath>
<path clip-path="url(#sc)" d="M105.4,92.0 L110.5,93.0 L115.5,94.5 L120.5,96.3 L125.5,98.5 L130.3,101.1 L135.0,104.0 L139.6,107.3 L143.9,110.8 L148.1,114.7 L152.1,118.9 L155.9,123.3 L159.4,128.0 L162.6,132.9 L165.5,138.0 L168.2,143.3 L170.5,148.7 L172.5,154.2 L174.2,159.8 L175.5,165.5 L176.5,171.2 L177.1,176.9 L177.4,182.6 L177.3,188.2 L176.9,193.8 L176.0,199.2 L174.9,204.5 L173.4,209.7 L171.5,214.6 L169.4,219.4 L166.9,223.9 L164.1,228.1 L161.0,232.1 L157.6,235.8 L154.0,239.1 L150.1,242.1 L146.1,244.8 L141.8,247.1 L137.3,249.0 L132.7,250.6 L127.9,251.7 L123.0,252.5 L118.0,252.9 L113.0,252.8 L107.9,252.4 L102.9,251.5 L97.8,250.3 L92.8,248.7 L87.8,246.6 L82.9,244.2 L78.1,241.5 L73.5,238.4 L69.0,235.0 L64.7,231.2 L60.7,227.2 L56.8,222.9 L53.2,218.3 L49.8,213.6 L46.7,208.6 L43.9,203.4 L41.4,198.0 L39.3,192.6 L37.4,187.0 L35.9,181.4 L34.8,175.7 L33.9,170.0 L33.5,164.3 L33.4,158.6 L33.7,153.0 L34.3,147.5 L35.3,142.1 L36.6,136.9 L38.3,131.8 L40.3,127.0 L42.6,122.4 L45.3,118.0 L48.2,113.9 L51.4,110.0 L54.9,106.5 L58.7,103.3 L62.7,100.5 L66.9,98.0 L71.2,95.9 L75.8,94.1 L80.5,92.8 L85.3,91.8 L90.3,91.3 L95.3,91.1 L100.3,91.4 L105.4,92.0 M105.4,92.0 L111.1,92.4 L116.7,93.1 L122.2,94.3 L127.7,95.8 L133.1,97.7 L138.3,100.0 L143.4,102.6 L148.3,105.6 L153.0,108.9 L157.4,112.6 L161.6,116.5 L165.5,120.7 L169.1,125.2 L172.3,129.9 L175.3,134.8 L177.9,139.9 L180.1,145.1 L182.0,150.5 L183.4,156.0 L184.5,161.6 L185.2,167.2 L185.5,172.8 L185.4,178.5 L184.9,184.1 L184.0,189.6 L182.7,195.1 L181.1,200.4 L179.0,205.7 L176.6,210.7 L173.8,215.5 L170.7,220.2 L167.3,224.6 L163.5,228.7 L159.5,232.5 L155.2,236.1 L150.7,239.3 L145.9,242.2 L140.9,244.7 L135.7,246.9 L130.4,248.7 L125.0,250.1 L119.5,251.2 L113.9,251.8 L108.2,252.0 L102.6,251.9 L96.9,251.3 L91.3,250.4 L85.8,249.0 L80.4,247.3 L75.1,245.2 L69.9,242.7 L64.9,239.9 L60.1,236.8 L55.6,233.3 L51.3,229.5 L47.3,225.4 L43.5,221.1 L40.1,216.5 L37.0,211.7 L34.2,206.7 L31.8,201.5 L29.7,196.2 L28.1,190.8 L26.8,185.2 L25.9,179.6 L25.4,174.0 L25.3,168.3 L25.6,162.7 L26.3,157.1 L27.4,151.6 L28.8,146.2 L30.7,140.9 L32.9,135.8 L35.5,130.9 L38.5,126.1 L41.7,121.6 L45.3,117.3 L49.2,113.4 L53.4,109.7 L57.8,106.3 L62.5,103.2 L67.4,100.5 L72.5,98.1 L77.7,96.2 L83.1,94.5 L88.6,93.3 L94.1,92.5 L99.7,92.0 L105.4,92.0 M105.4,92.0 L110.9,91.7 L116.5,91.7 L121.9,92.2 L127.3,93.0 L132.6,94.2 L137.7,95.9 L142.7,97.9 L147.5,100.3 L152.1,103.0 L156.4,106.1 L160.5,109.5 L164.3,113.2 L167.8,117.2 L171.1,121.5 L173.9,126.0 L176.5,130.8 L178.7,135.8 L180.5,140.9 L182.0,146.2 L183.0,151.7 L183.7,157.2 L184.0,162.8 L183.9,168.5 L183.4,174.1 L182.5,179.8 L181.3,185.4 L179.6,191.0 L177.6,196.4 L175.3,201.8 L172.5,207.0 L169.5,212.0 L166.1,216.8 L162.4,221.4 L158.5,225.8 L154.3,229.8 L149.8,233.6 L145.1,237.1 L140.2,240.3 L135.2,243.1 L130.0,245.6 L124.6,247.7 L119.2,249.4 L113.7,250.7 L108.2,251.7 L102.6,252.2 L97.1,252.4 L91.6,252.1 L86.2,251.5 L80.8,250.4 L75.6,249.0 L70.6,247.2 L65.7,245.0 L61.0,242.4 L56.5,239.5 L52.3,236.3 L48.4,232.7 L44.7,228.8 L41.3,224.7 L38.3,220.3 L35.5,215.6 L33.2,210.7 L31.2,205.7 L29.5,200.4 L28.3,195.1 L27.4,189.6 L26.9,184.0 L26.8,178.4 L27.1,172.7 L27.8,167.0 L28.8,161.4 L30.3,155.8 L32.1,150.3 L34.3,144.9 L36.9,139.6 L39.7,134.5 L43.0,129.6 L46.5,124.9 L50.3,120.4 L54.4,116.2 L58.7,112.2 L63.3,108.6 L68.1,105.3 L73.1,102.3 L78.2,99.6 L83.5,97.3 L88.9,95.4 L94.3,93.9 L99.9,92.7 L105.4,92.0 M105.4,92.0 L110.2,91.0 L114.9,90.4 L119.6,90.2 L124.2,90.5 L128.8,91.1 L133.2,92.1 L137.5,93.6 L141.6,95.4 L145.5,97.6 L149.3,100.2 L152.8,103.1 L156.1,106.4 L159.1,110.0 L161.9,113.9 L164.3,118.1 L166.5,122.6 L168.4,127.3 L170.0,132.2 L171.2,137.4 L172.2,142.7 L172.7,148.2 L173.0,153.7 L172.9,159.4 L172.5,165.1 L171.7,170.9 L170.7,176.7 L169.2,182.4 L167.5,188.1 L165.5,193.7 L163.1,199.2 L160.5,204.6 L157.6,209.8 L154.5,214.8 L151.1,219.6 L147.4,224.2 L143.6,228.5 L139.5,232.5 L135.3,236.3 L131.0,239.7 L126.5,242.7 L121.9,245.4 L117.3,247.8 L112.5,249.8 L107.8,251.4 L103.0,252.5 L98.3,253.3 L93.5,253.7 L88.9,253.7 L84.3,253.3 L79.8,252.4 L75.5,251.2 L71.3,249.6 L67.2,247.5 L63.4,245.2 L59.7,242.4 L56.3,239.3 L53.2,235.8 L50.3,232.1 L47.7,228.0 L45.3,223.7 L43.3,219.1 L41.6,214.3 L40.1,209.2 L39.1,204.0 L38.3,198.6 L37.9,193.1 L37.8,187.4 L38.1,181.7 L38.6,176.0 L39.6,170.2 L40.8,164.5 L42.4,158.7 L44.3,153.1 L46.5,147.5 L48.9,142.1 L51.7,136.8 L54.7,131.7 L58.0,126.8 L61.5,122.1 L65.3,117.6 L69.2,113.4 L73.3,109.6 L77.6,106.0 L82.0,102.8 L86.6,99.9 L91.2,97.3 L95.9,95.2 L100.6,93.4 L105.4,92.0 M105.4,92.0 L108.8,90.5 L112.2,89.4 L115.6,88.8 L118.9,88.5 L122.1,88.7 L125.3,89.2 L128.4,90.2 L131.3,91.6 L134.2,93.4 L136.8,95.6 L139.4,98.2 L141.7,101.1 L143.9,104.4 L145.9,108.0 L147.6,112.0 L149.2,116.2 L150.6,120.7 L151.7,125.5 L152.6,130.5 L153.2,135.7 L153.7,141.1 L153.8,146.7 L153.8,152.4 L153.5,158.1 L152.9,164.0 L152.2,169.9 L151.1,175.7 L149.9,181.6 L148.5,187.4 L146.8,193.2 L144.9,198.8 L142.8,204.3 L140.6,209.7 L138.1,214.9 L135.5,219.8 L132.8,224.5 L129.9,229.0 L126.9,233.1 L123.7,237.0 L120.5,240.5 L117.2,243.7 L113.9,246.6 L110.5,249.0 L107.1,251.1 L103.7,252.8 L100.3,254.1 L96.9,255.0 L93.6,255.4 L90.3,255.5 L87.1,255.1 L83.9,254.3 L80.9,253.1 L78.0,251.5 L75.3,249.5 L72.7,247.2 L70.2,244.4 L68.0,241.3 L65.9,237.8 L64.0,234.0 L62.3,229.9 L60.9,225.6 L59.7,220.9 L58.6,216.0 L57.9,210.9 L57.3,205.6 L57.0,200.1 L57.0,194.5 L57.1,188.8 L57.6,183.0 L58.2,177.1 L59.1,171.2 L60.2,165.3 L61.6,159.5 L63.2,153.7 L64.9,148.0 L66.9,142.4 L69.1,137.0 L71.4,131.7 L74.0,126.6 L76.6,121.8 L79.5,117.2 L82.4,112.9 L85.5,108.9 L88.7,105.2 L91.9,101.8 L95.2,98.8 L98.6,96.2 L102.0,93.9 L105.4,92.0 M105.4,92.0 L107.1,90.2 L108.7,88.8 L110.3,87.9 L111.9,87.3 L113.5,87.2 L115.0,87.5 L116.5,88.3 L117.9,89.4 L119.3,90.9 L120.6,92.9 L121.8,95.3 L123.0,98.0 L124.0,101.1 L125.0,104.5 L125.8,108.3 L126.6,112.4 L127.3,116.8 L127.8,121.5 L128.2,126.5 L128.5,131.6 L128.8,137.0 L128.8,142.5 L128.8,148.2 L128.7,154.0 L128.4,159.9 L128.0,165.8 L127.5,171.8 L126.9,177.8 L126.2,183.7 L125.4,189.6 L124.5,195.4 L123.5,201.1 L122.4,206.7 L121.2,212.0 L120.0,217.2 L118.6,222.2 L117.2,226.9 L115.8,231.3 L114.3,235.4 L112.7,239.2 L111.1,242.7 L109.5,245.8 L107.9,248.6 L106.2,251.0 L104.6,252.9 L102.9,254.5 L101.3,255.7 L99.7,256.4 L98.1,256.8 L96.5,256.7 L95.0,256.2 L93.6,255.2 L92.2,253.9 L90.8,252.1 L89.6,250.0 L88.4,247.4 L87.3,244.5 L86.3,241.2 L85.4,237.6 L84.6,233.7 L83.9,229.4 L83.3,224.8 L82.8,220.0 L82.4,215.0 L82.1,209.7 L82.0,204.3 L82.0,198.7 L82.0,192.9 L82.3,187.1 L82.6,181.2 L83.0,175.2 L83.5,169.2 L84.2,163.2 L85.0,157.3 L85.8,151.4 L86.8,145.7 L87.8,140.1 L89.0,134.6 L90.2,129.3 L91.5,124.3 L92.9,119.5 L94.3,114.9 L95.8,110.6 L97.3,106.6 L98.9,103.0 L100.5,99.7 L102.1,96.7 L103.7,94.2 L105.4,92.0 M105.4,92.0 L105.1,90.2 L104.8,88.7 L104.5,87.7 L104.2,87.1 L103.9,87.0 L103.6,87.2 L103.3,87.9 L103.1,89.0 L102.8,90.5 L102.6,92.4 L102.3,94.7 L102.1,97.4 L101.9,100.5 L101.7,103.9 L101.6,107.7 L101.4,111.7 L101.3,116.1 L101.2,120.8 L101.1,125.7 L101.1,130.8 L101.0,136.2 L101.0,141.7 L101.0,147.4 L101.0,153.2 L101.1,159.1 L101.2,165.1 L101.3,171.1 L101.4,177.1 L101.5,183.0 L101.7,189.0 L101.8,194.8 L102.0,200.5 L102.2,206.1 L102.4,211.5 L102.7,216.7 L102.9,221.7 L103.2,226.5 L103.5,230.9 L103.7,235.1 L104.0,239.0 L104.3,242.5 L104.6,245.7 L104.9,248.5 L105.2,250.9 L105.6,253.0 L105.9,254.6 L106.2,255.8 L106.5,256.6 L106.8,257.0 L107.1,257.0 L107.3,256.5 L107.6,255.6 L107.9,254.3 L108.1,252.6 L108.4,250.5 L108.6,248.0 L108.8,245.1 L109.0,241.9 L109.1,238.3 L109.3,234.3 L109.4,230.1 L109.5,225.6 L109.6,220.8 L109.7,215.8 L109.8,210.5 L109.8,205.1 L109.8,199.4 L109.8,193.7 L109.7,187.8 L109.7,181.9 L109.6,175.9 L109.5,169.9 L109.4,163.9 L109.2,158.0 L109.1,152.1 L108.9,146.3 L108.7,140.7 L108.5,135.2 L108.2,129.8 L108.0,124.7 L107.7,119.9 L107.5,115.3 L107.2,110.9 L106.9,106.9 L106.6,103.2 L106.3,99.9 L106.0,96.9 L105.7,94.2 L105.4,92.0 M105.4,92.0 L103.2,90.4 L100.9,89.1 L98.7,88.3 L96.6,87.9 L94.4,87.9 L92.4,88.3 L90.4,89.2 L88.4,90.4 L86.6,92.1 L84.8,94.1 L83.2,96.6 L81.6,99.4 L80.2,102.6 L78.9,106.1 L77.8,110.0 L76.7,114.2 L75.9,118.6 L75.1,123.4 L74.5,128.3 L74.1,133.5 L73.8,138.9 L73.7,144.4 L73.8,150.1 L73.9,155.9 L74.3,161.8 L74.8,167.7 L75.5,173.6 L76.3,179.6 L77.2,185.4 L78.3,191.3 L79.6,197.0 L80.9,202.6 L82.4,208.1 L84.0,213.3 L85.7,218.4 L87.5,223.2 L89.4,227.8 L91.4,232.1 L93.4,236.1 L95.5,239.8 L97.6,243.2 L99.8,246.2 L102.1,248.8 L104.3,251.0 L106.5,252.9 L108.7,254.3 L111.0,255.4 L113.2,256.0 L115.3,256.2 L117.4,255.9 L119.4,255.3 L121.4,254.3 L123.3,252.8 L125.1,250.9 L126.8,248.7 L128.4,246.0 L129.9,243.0 L131.2,239.7 L132.5,236.0 L133.6,231.9 L134.5,227.6 L135.3,223.0 L136.0,218.2 L136.5,213.1 L136.9,207.8 L137.0,202.4 L137.1,196.7 L137.0,191.0 L136.7,185.2 L136.3,179.3 L135.7,173.3 L134.9,167.4 L134.1,161.5 L133.0,155.6 L131.9,149.8 L130.6,144.2 L129.2,138.6 L127.6,133.3 L126.0,128.1 L124.2,123.1 L122.4,118.4 L120.4,114.0 L118.4,109.8 L116.4,106.0 L114.2,102.5 L112.1,99.3 L109.9,96.5 L107.6,94.0 L105.4,92.0 M105.4,92.0 L101.5,90.8 L97.6,89.9 L93.8,89.5 L90.0,89.5 L86.3,89.9 L82.7,90.7 L79.2,91.9 L75.9,93.6 L72.7,95.6 L69.6,97.9 L66.7,100.7 L64.1,103.8 L61.6,107.3 L59.3,111.0 L57.3,115.1 L55.5,119.5 L54.0,124.1 L52.7,129.0 L51.7,134.0 L50.9,139.3 L50.4,144.7 L50.2,150.3 L50.3,156.0 L50.6,161.7 L51.3,167.5 L52.1,173.3 L53.3,179.2 L54.7,184.9 L56.4,190.7 L58.3,196.3 L60.4,201.8 L62.8,207.1 L65.4,212.3 L68.1,217.3 L71.1,222.1 L74.2,226.6 L77.5,230.8 L81.0,234.7 L84.5,238.4 L88.2,241.7 L91.9,244.6 L95.7,247.2 L99.6,249.4 L103.5,251.2 L107.3,252.7 L111.2,253.7 L115.1,254.3 L118.9,254.5 L122.6,254.3 L126.3,253.7 L129.8,252.7 L133.3,251.3 L136.6,249.5 L139.7,247.3 L142.7,244.7 L145.4,241.8 L148.0,238.5 L150.4,234.9 L152.5,231.0 L154.4,226.7 L156.1,222.2 L157.5,217.5 L158.7,212.5 L159.5,207.4 L160.2,202.0 L160.5,196.5 L160.6,190.9 L160.4,185.2 L159.9,179.4 L159.1,173.6 L158.1,167.8 L156.8,162.0 L155.3,156.2 L153.5,150.5 L151.5,145.0 L149.2,139.5 L146.7,134.2 L144.1,129.2 L141.2,124.3 L138.1,119.7 L134.9,115.3 L131.6,111.2 L128.1,107.4 L124.5,104.0 L120.8,100.8 L117.0,98.1 L113.2,95.7 L109.3,93.6 L105.4,92.0 M141.4,247.3 L142.6,246.3 L143.6,245.4 L144.4,244.4 L145.1,243.4 L145.5,242.3 L145.7,241.3 L145.7,240.3 L145.6,239.3 L145.2,238.3 L144.6,237.3 L143.9,236.3 L142.9,235.4 L141.8,234.4 L140.4,233.6 L138.9,232.7 L137.3,231.9 L135.5,231.2 L133.5,230.4 L131.4,229.8 L129.1,229.2 L126.8,228.7 L124.3,228.2 L121.7,227.8 L119.1,227.4 L116.4,227.2 L113.6,227.0 L110.8,226.8 L108.0,226.8 L105.1,226.8 L102.3,226.9 L99.4,227.0 L96.6,227.3 L93.9,227.6 L91.2,227.9 L88.5,228.4 L86.0,228.9 L83.5,229.4 L81.2,230.1 L79.0,230.7 L76.9,231.5 L75.0,232.2 L73.2,233.1 L71.5,233.9 L70.1,234.8 L68.8,235.8 L67.7,236.7 L66.8,237.7 L66.0,238.7 L65.5,239.7 L65.2,240.7 L65.0,241.7 L65.1,242.8 L65.4,243.8 L65.9,244.8 L66.5,245.8 L67.4,246.7 L68.4,247.7 L69.7,248.6 L71.1,249.4 L72.7,250.3 L74.4,251.0 L76.3,251.8 L78.4,252.5 L80.5,253.1 L82.9,253.6 L85.3,254.1 L87.8,254.6 L90.4,255.0 L93.1,255.3 L95.8,255.5 L98.6,255.7 L101.4,255.8 L104.3,255.8 L107.1,255.7 L110.0,255.6 L112.8,255.4 L115.6,255.1 L118.3,254.8 L121.0,254.4 L123.5,253.9 L126.0,253.4 L128.4,252.8 L130.7,252.2 L132.9,251.5 L134.9,250.7 L136.8,249.9 L138.5,249.1 L140.0,248.2 L141.4,247.3 M160.6,232.6 L162.4,231.2 L163.9,229.7 L165.2,228.2 L166.2,226.6 L166.8,225.1 L167.2,223.5 L167.2,221.9 L167.0,220.4 L166.4,218.8 L165.5,217.3 L164.3,215.8 L162.9,214.4 L161.1,212.9 L159.1,211.6 L156.8,210.3 L154.2,209.1 L151.4,207.9 L148.4,206.8 L145.2,205.8 L141.7,204.9 L138.1,204.1 L134.3,203.4 L130.4,202.7 L126.4,202.2 L122.2,201.8 L118.0,201.5 L113.7,201.3 L109.3,201.2 L104.9,201.2 L100.6,201.4 L96.2,201.6 L92.0,202.0 L87.7,202.4 L83.6,203.0 L79.6,203.7 L75.7,204.4 L71.9,205.3 L68.3,206.2 L64.9,207.3 L61.7,208.4 L58.8,209.6 L56.0,210.8 L53.5,212.1 L51.3,213.5 L49.3,214.9 L47.6,216.4 L46.2,217.9 L45.1,219.5 L44.3,221.0 L43.8,222.6 L43.6,224.1 L43.7,225.7 L44.1,227.3 L44.8,228.8 L45.8,230.3 L47.2,231.8 L48.8,233.2 L50.7,234.6 L52.8,235.9 L55.3,237.2 L57.9,238.4 L60.8,239.5 L64.0,240.5 L67.3,241.5 L70.9,242.4 L74.6,243.1 L78.4,243.8 L82.4,244.4 L86.5,244.8 L90.7,245.2 L95.0,245.5 L99.3,245.6 L103.7,245.6 L108.0,245.6 L112.4,245.4 L116.7,245.1 L121.0,244.7 L125.1,244.2 L129.2,243.5 L133.2,242.8 L137.0,242.0 L140.7,241.1 L144.2,240.1 L147.5,239.0 L150.6,237.9 L153.4,236.7 L156.1,235.4 L158.4,234.0 L160.6,232.6 M173.1,210.6 L175.3,208.9 L177.2,207.0 L178.8,205.2 L179.9,203.3 L180.7,201.4 L181.2,199.4 L181.2,197.5 L180.9,195.6 L180.2,193.7 L179.1,191.8 L177.7,190.0 L175.9,188.2 L173.8,186.5 L171.3,184.8 L168.4,183.3 L165.3,181.7 L161.9,180.3 L158.2,179.0 L154.2,177.8 L150.0,176.6 L145.5,175.6 L140.9,174.8 L136.1,174.0 L131.1,173.4 L126.0,172.8 L120.8,172.5 L115.5,172.2 L110.2,172.1 L104.8,172.1 L99.5,172.3 L94.2,172.6 L88.9,173.0 L83.7,173.6 L78.7,174.3 L73.7,175.1 L68.9,176.0 L64.3,177.1 L59.9,178.3 L55.8,179.5 L51.8,180.9 L48.2,182.4 L44.8,183.9 L41.7,185.5 L39.0,187.2 L36.6,189.0 L34.5,190.8 L32.8,192.6 L31.4,194.5 L30.4,196.4 L29.8,198.3 L29.5,200.2 L29.7,202.2 L30.2,204.1 L31.1,205.9 L32.3,207.8 L34.0,209.6 L35.9,211.4 L38.3,213.1 L40.9,214.7 L43.9,216.2 L47.2,217.7 L50.7,219.1 L54.6,220.4 L58.7,221.5 L63.0,222.6 L67.6,223.5 L72.3,224.4 L77.2,225.1 L82.2,225.6 L87.4,226.1 L92.6,226.4 L97.9,226.6 L103.3,226.6 L108.6,226.5 L114.0,226.3 L119.3,225.9 L124.5,225.4 L129.6,224.8 L134.6,224.0 L139.5,223.2 L144.2,222.2 L148.7,221.1 L153.0,219.8 L157.0,218.5 L160.8,217.1 L164.3,215.6 L167.6,214.0 L170.5,212.4 L173.1,210.6 M173.1,155.9 L175.3,154.1 L177.2,152.3 L178.8,150.4 L179.9,148.6 L180.7,146.6 L181.2,144.7 L181.2,142.8 L180.9,140.9 L180.2,139.0 L179.1,137.1 L177.7,135.3 L175.9,133.5 L173.8,131.8 L171.3,130.1 L168.4,128.5 L165.3,127.0 L161.9,125.6 L158.2,124.3 L154.2,123.0 L150.0,121.9 L145.5,120.9 L140.9,120.0 L136.1,119.3 L131.1,118.6 L126.0,118.1 L120.8,117.7 L115.5,117.5 L110.2,117.4 L104.8,117.4 L99.5,117.6 L94.2,117.9 L88.9,118.3 L83.7,118.9 L78.7,119.6 L73.7,120.4 L68.9,121.3 L64.3,122.4 L59.9,123.5 L55.8,124.8 L51.8,126.2 L48.2,127.6 L44.8,129.2 L41.7,130.8 L39.0,132.5 L36.6,134.2 L34.5,136.0 L32.8,137.9 L31.4,139.8 L30.4,141.7 L29.8,143.6 L29.5,145.5 L29.7,147.4 L30.2,149.3 L31.1,151.2 L32.3,153.1 L34.0,154.9 L35.9,156.6 L38.3,158.3 L40.9,160.0 L43.9,161.5 L47.2,163.0 L50.7,164.4 L54.6,165.6 L58.7,166.8 L63.0,167.9 L67.6,168.8 L72.3,169.6 L77.2,170.3 L82.2,170.9 L87.4,171.4 L92.6,171.7 L97.9,171.8 L103.3,171.9 L108.6,171.8 L114.0,171.6 L119.3,171.2 L124.5,170.7 L129.6,170.1 L134.6,169.3 L139.5,168.4 L144.2,167.4 L148.7,166.3 L153.0,165.1 L157.0,163.8 L160.8,162.4 L164.3,160.9 L167.6,159.3 L170.5,157.6 L173.1,155.9 M160.6,129.8 L162.4,128.3 L163.9,126.8 L165.2,125.3 L166.2,123.8 L166.8,122.2 L167.2,120.6 L167.2,119.1 L167.0,117.5 L166.4,116.0 L165.5,114.5 L164.3,113.0 L162.9,111.5 L161.1,110.1 L159.1,108.7 L156.8,107.4 L154.2,106.2 L151.4,105.1 L148.4,104.0 L145.2,103.0 L141.7,102.1 L138.1,101.2 L134.3,100.5 L130.4,99.9 L126.4,99.4 L122.2,99.0 L118.0,98.7 L113.7,98.5 L109.3,98.4 L104.9,98.4 L100.6,98.5 L96.2,98.8 L92.0,99.1 L87.7,99.6 L83.6,100.1 L79.6,100.8 L75.7,101.6 L71.9,102.4 L68.3,103.4 L64.9,104.4 L61.7,105.5 L58.8,106.7 L56.0,108.0 L53.5,109.3 L51.3,110.7 L49.3,112.1 L47.6,113.6 L46.2,115.1 L45.1,116.6 L44.3,118.2 L43.8,119.7 L43.6,121.3 L43.7,122.9 L44.1,124.4 L44.8,125.9 L45.8,127.5 L47.2,128.9 L48.8,130.4 L50.7,131.7 L52.8,133.1 L55.3,134.3 L57.9,135.5 L60.8,136.6 L64.0,137.7 L67.3,138.6 L70.9,139.5 L74.6,140.3 L78.4,141.0 L82.4,141.5 L86.5,142.0 L90.7,142.4 L95.0,142.6 L99.3,142.8 L103.7,142.8 L108.0,142.7 L112.4,142.5 L116.7,142.2 L121.0,141.8 L125.1,141.3 L129.2,140.7 L133.2,140.0 L137.0,139.2 L140.7,138.3 L144.2,137.3 L147.5,136.2 L150.6,135.0 L153.4,133.8 L156.1,132.5 L158.4,131.2 L160.6,129.8 M141.4,108.7 L142.6,107.8 L143.6,106.8 L144.4,105.8 L145.1,104.8 L145.5,103.8 L145.7,102.8 L145.7,101.7 L145.6,100.7 L145.2,99.7 L144.6,98.7 L143.9,97.7 L142.9,96.8 L141.8,95.9 L140.4,95.0 L138.9,94.1 L137.3,93.3 L135.5,92.6 L133.5,91.9 L131.4,91.2 L129.1,90.6 L126.8,90.1 L124.3,89.6 L121.7,89.2 L119.1,88.9 L116.4,88.6 L113.6,88.4 L110.8,88.3 L108.0,88.2 L105.1,88.2 L102.3,88.3 L99.4,88.5 L96.6,88.7 L93.9,89.0 L91.2,89.4 L88.5,89.8 L86.0,90.3 L83.5,90.9 L81.2,91.5 L79.0,92.2 L76.9,92.9 L75.0,93.7 L73.2,94.5 L71.5,95.4 L70.1,96.3 L68.8,97.2 L67.7,98.1 L66.8,99.1 L66.0,100.1 L65.5,101.1 L65.2,102.2 L65.0,103.2 L65.1,104.2 L65.4,105.2 L65.9,106.2 L66.5,107.2 L67.4,108.2 L68.4,109.1 L69.7,110.0 L71.1,110.9 L72.7,111.7 L74.4,112.5 L76.3,113.2 L78.4,113.9 L80.5,114.5 L82.9,115.1 L85.3,115.6 L87.8,116.0 L90.4,116.4 L93.1,116.7 L95.8,116.9 L98.6,117.1 L101.4,117.2 L104.3,117.2 L107.1,117.2 L110.0,117.0 L112.8,116.8 L115.6,116.6 L118.3,116.2 L121.0,115.8 L123.5,115.4 L126.0,114.9 L128.4,114.3 L130.7,113.6 L132.9,112.9 L134.9,112.2 L136.8,111.4 L138.5,110.5 L140.0,109.6 L141.4,108.7" fill="none" stroke="#cfc6c6" stroke-width="0.7" opacity="0.55"/>
<ellipse cx="105.6" cy="173.3" rx="81.8" ry="27.7" fill="none" stroke="#333" stroke-width="1"/>
<path d="M105.4,93.5 V252 M34.5,160.2 L176,183.6 M68.9,198.4 L141.9,145.6" stroke="#333" stroke-width="0.9" fill="none"/>
<ellipse cx="104.1" cy="170.7" rx="33.3" ry="80.8" transform="rotate(7.1 104.1 170.7)" fill="none" stroke="#5548b8" stroke-width="1.4" stroke-dasharray="4,0.5"/>
<path d="M105.4,172 V143" stroke="#f07818" stroke-width="2.4"/>
<path d="M105.4,130.8 L101.6,145.5 L109.2,145.5 z" fill="#f07818"/>
<ellipse cx="139.1" cy="155.3" rx="70.5" ry="27.0" transform="rotate(61.5 139.1 155.3)" fill="none" stroke="#6464f0" stroke-width="4.3"/>
<path d="M105.2,93.8 C99.5,98 97.2,108 97.6,124.5" fill="none" stroke="#000022" stroke-width="1.7" marker-end="url(#mk)"/>
<path d="M105.6,150.5 A22,22 0 0 1 124,161.5" fill="none" stroke="#8a1cc8" stroke-width="1.6"/>
<path d="M105.4,172 L140,156.6" stroke="#6464f0" stroke-width="3"/>
<path d="M151,152 L137.2,151.6 L141.6,161.5 z" fill="#6464f0"/>
<path d="M105.4,172 L160,180.3" stroke="#8b0a0a" stroke-width="2"/>
<path d="M172.5,182.2 L159.3,176.3 L158.2,184.2 z" fill="#8b0a0a"/>
<text x="91.4" y="163.7" font-size="13.8" font-style="italic" fill="#f07818" stroke="#f07818" stroke-width="0.28">J</text>
<text x="118.8" y="156" font-size="12.4" font-style="italic" fill="#8a1cc8" stroke="#8a1cc8" stroke-width="0.28">θ</text>
<text x="136.8" y="193.6" font-size="14" fill="#8b0a0a" stroke="#8b0a0a" stroke-width="0.28">Δ<tspan font-style="italic">g</tspan></text>
<text x="98.6" y="79.6" font-size="13" fill="#1e1e1e" stroke="#1e1e1e" stroke-width="0.28">|<tspan font-style="italic">S</tspan>⟩</text>
<text x="1.5" y="165.2" font-size="12.4" fill="#1e1e1e" stroke="#1e1e1e" stroke-width="0.28">|</text>
<text x="4.3" y="164.89999999999998" font-size="13" font-family="DejaVu Sans, sans-serif" font-weight="bold" fill="#1e1e1e" textLength="11.2" lengthAdjust="spacingAndGlyphs" stroke="#1e1e1e" stroke-width="0.28">↓↑</text>
<text x="15.7" y="165.2" font-size="12.4" fill="#1e1e1e" stroke="#1e1e1e" stroke-width="0.28">⟩</text>
<text x="191.2" y="185.8" font-size="12.4" fill="#1e1e1e" stroke="#1e1e1e" stroke-width="0.28">|</text>
<text x="194.0" y="185.5" font-size="13" font-family="DejaVu Sans, sans-serif" font-weight="bold" fill="#1e1e1e" textLength="11.2" lengthAdjust="spacingAndGlyphs" stroke="#1e1e1e" stroke-width="0.28">↑↓</text>
<text x="205.39999999999998" y="185.8" font-size="12.4" fill="#1e1e1e" stroke="#1e1e1e" stroke-width="0.28">⟩</text>
<text x="91.2" y="272.2" font-size="13" fill="#1e1e1e" stroke="#1e1e1e" stroke-width="0.28">|<tspan font-style="italic" dx="0.8">T</tspan><tspan font-size="9.4" dy="3">0</tspan><tspan dy="-3">⟩</tspan></text>
</svg>
</body></html>
